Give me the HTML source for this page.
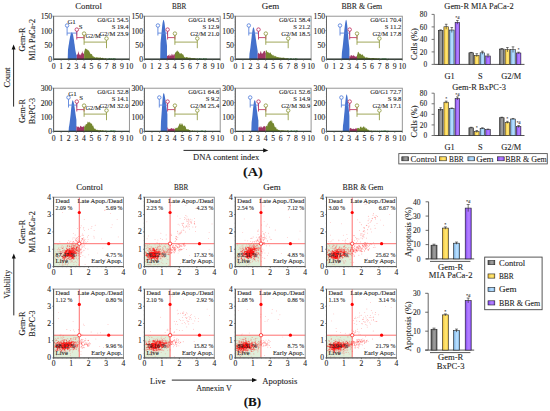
<!DOCTYPE html>
<html><head><meta charset="utf-8"><style>
html,body{margin:0;padding:0;background:#fff;}
body{width:550px;height:411px;overflow:hidden;}
svg{display:block;font-family:"Liberation Serif",serif;}
text{stroke:#333;stroke-width:0.1px;}
</style></head><body>
<svg width="550" height="411" viewBox="0 0 550 411">
<rect width="550" height="411" fill="#fff"/>
<text x="88.60" y="9.40" font-size="8.8" text-anchor="middle" fill="#1a1a1a"  textLength="26.60" lengthAdjust="spacingAndGlyphs">Control</text>
<text x="179.10" y="9.40" font-size="8.8" text-anchor="middle" fill="#1a1a1a"  textLength="14.40" lengthAdjust="spacingAndGlyphs">BBR</text>
<text x="270.50" y="9.40" font-size="8.8" text-anchor="middle" fill="#1a1a1a"  textLength="17.40" lengthAdjust="spacingAndGlyphs">Gem</text>
<text x="361.80" y="9.40" font-size="8.8" text-anchor="middle" fill="#1a1a1a"  textLength="40.80" lengthAdjust="spacingAndGlyphs">BBR &amp; Gem</text>
<rect x="53.60" y="16.20" width="75.80" height="43.20" fill="none" stroke="#8a8a8a" stroke-width="0.9" />
<path d="M67.70,59.40 L67.70,59.40 L68.00,49.53 L68.30,47.86 L68.60,45.62 L68.90,44.07 L69.20,41.80 L69.50,40.02 L69.80,38.46 L70.10,36.53 L70.40,35.47 L70.70,34.06 L71.00,33.46 L71.30,32.90 L71.60,32.39 L71.90,32.08 L72.20,32.80 L72.50,33.28 L72.80,33.91 L73.10,34.93 L73.40,36.75 L73.70,38.69 L74.00,40.28 L74.30,43.03 L74.60,44.61 L74.90,47.11 L75.20,49.21 L75.50,51.08 L75.80,52.61 L76.10,53.71 L76.40,55.21 L76.70,54.64 L76.80,54.50 L76.80,59.40 Z" fill="#4471cc"/>
<path d="M76.80,59.40 L76.80,54.86 L77.20,54.15 L77.60,54.77 L77.60,54.78 L78.00,53.04 L78.40,50.64 L78.40,51.14 L78.80,52.97 L79.20,54.03 L79.20,54.29 L79.60,54.90 L80.00,54.21 L80.40,54.60 L80.80,55.71 L80.80,55.05 L81.20,54.26 L81.60,52.67 L81.70,52.74 L82.10,52.92 L82.50,50.84 L82.90,53.36 L83.30,53.56 L83.30,52.89 L83.70,54.00 L84.10,53.22 L84.10,53.20 L84.10,59.40 Z" fill="#a13565"/>
<path d="M84.10,59.40 L84.10,52.16 L84.55,50.79 L85.00,49.02 L85.45,48.76 L85.90,48.15 L86.35,49.55 L86.80,48.96 L87.25,49.51 L87.70,49.95 L88.15,50.69 L88.60,50.37 L89.05,50.69 L89.50,52.29 L89.95,52.45 L90.40,54.35 L90.85,53.49 L91.30,54.13 L91.75,53.90 L92.20,54.77 L92.65,56.20 L93.10,56.37 L93.55,56.23 L94.00,57.41 L94.45,56.85 L94.90,57.35 L95.35,57.50 L95.80,57.65 L96.25,56.99 L96.70,57.53 L97.15,57.52 L97.60,57.50 L98.05,57.24 L98.50,57.84 L98.95,57.66 L99.40,57.65 L99.85,57.49 L100.30,57.59 L100.75,57.62 L101.20,58.06 L101.65,58.02 L102.10,58.10 L102.55,57.80 L103.00,57.80 L103.45,58.37 L103.90,58.40 L104.35,58.40 L104.80,58.44 L105.25,58.31 L105.70,58.27 L106.15,58.50 L106.40,58.60 L106.40,59.40 Z" fill="#74872f"/>
<path d="M106.40,59.40 L106.40,58.60 L107.00,59.00 L107.60,58.71 L108.20,58.74 L108.80,58.60 L109.40,58.33 L110.00,58.52 L110.60,58.64 L111.20,58.57 L111.80,58.53 L112.40,58.96 L113.00,58.37 L113.60,58.45 L114.20,58.39 L114.80,58.44 L115.40,58.73 L116.00,58.72 L116.00,59.40 Z" fill="#2f8a2f"/>
<line x1="53.60" y1="59.10" x2="129.40" y2="59.10" stroke="#1f2a22" stroke-width="1.1" />
<line x1="53.60" y1="59.40" x2="53.60" y2="60.70" stroke="#555" stroke-width="0.6" />
<text x="53.60" y="68.80" font-size="7.7" text-anchor="middle" fill="#222" >0</text>
<line x1="61.18" y1="59.40" x2="61.18" y2="60.70" stroke="#555" stroke-width="0.6" />
<text x="61.18" y="68.80" font-size="7.7" text-anchor="middle" fill="#222" >1</text>
<line x1="68.76" y1="59.40" x2="68.76" y2="60.70" stroke="#555" stroke-width="0.6" />
<text x="68.76" y="68.80" font-size="7.7" text-anchor="middle" fill="#222" >2</text>
<line x1="76.34" y1="59.40" x2="76.34" y2="60.70" stroke="#555" stroke-width="0.6" />
<text x="76.34" y="68.80" font-size="7.7" text-anchor="middle" fill="#222" >3</text>
<line x1="83.92" y1="59.40" x2="83.92" y2="60.70" stroke="#555" stroke-width="0.6" />
<text x="83.92" y="68.80" font-size="7.7" text-anchor="middle" fill="#222" >4</text>
<line x1="91.50" y1="59.40" x2="91.50" y2="60.70" stroke="#555" stroke-width="0.6" />
<text x="91.50" y="68.80" font-size="7.7" text-anchor="middle" fill="#222" >5</text>
<line x1="99.08" y1="59.40" x2="99.08" y2="60.70" stroke="#555" stroke-width="0.6" />
<text x="99.08" y="68.80" font-size="7.7" text-anchor="middle" fill="#222" >6</text>
<line x1="106.66" y1="59.40" x2="106.66" y2="60.70" stroke="#555" stroke-width="0.6" />
<text x="106.66" y="68.80" font-size="7.7" text-anchor="middle" fill="#222" >7</text>
<line x1="114.24" y1="59.40" x2="114.24" y2="60.70" stroke="#555" stroke-width="0.6" />
<text x="114.24" y="68.80" font-size="7.7" text-anchor="middle" fill="#222" >8</text>
<line x1="121.82" y1="59.40" x2="121.82" y2="60.70" stroke="#555" stroke-width="0.6" />
<text x="121.82" y="68.80" font-size="7.7" text-anchor="middle" fill="#222" >9</text>
<line x1="129.40" y1="59.40" x2="129.40" y2="60.70" stroke="#555" stroke-width="0.6" />
<text x="129.40" y="68.80" font-size="7.7" text-anchor="middle" fill="#222" >10</text>
<line x1="52.40" y1="59.40" x2="53.60" y2="59.40" stroke="#555" stroke-width="0.6" />
<text x="52.20" y="62.30" font-size="7.7" text-anchor="end" fill="#222" >0</text>
<line x1="52.40" y1="45.00" x2="53.60" y2="45.00" stroke="#555" stroke-width="0.6" />
<text x="52.20" y="47.90" font-size="7.7" text-anchor="end" fill="#222" >50</text>
<line x1="52.40" y1="30.60" x2="53.60" y2="30.60" stroke="#555" stroke-width="0.6" />
<text x="52.20" y="33.50" font-size="7.7" text-anchor="end" fill="#222" >100</text>
<line x1="52.40" y1="16.20" x2="53.60" y2="16.20" stroke="#555" stroke-width="0.6" />
<text x="52.20" y="19.10" font-size="7.7" text-anchor="end" fill="#222" >150</text>
<line x1="52.90" y1="56.52" x2="53.60" y2="56.52" stroke="#777" stroke-width="0.4" />
<line x1="52.90" y1="53.64" x2="53.60" y2="53.64" stroke="#777" stroke-width="0.4" />
<line x1="52.90" y1="50.76" x2="53.60" y2="50.76" stroke="#777" stroke-width="0.4" />
<line x1="52.90" y1="47.88" x2="53.60" y2="47.88" stroke="#777" stroke-width="0.4" />
<line x1="52.90" y1="45.00" x2="53.60" y2="45.00" stroke="#777" stroke-width="0.4" />
<line x1="52.90" y1="42.12" x2="53.60" y2="42.12" stroke="#777" stroke-width="0.4" />
<line x1="52.90" y1="39.24" x2="53.60" y2="39.24" stroke="#777" stroke-width="0.4" />
<line x1="52.90" y1="36.36" x2="53.60" y2="36.36" stroke="#777" stroke-width="0.4" />
<line x1="52.90" y1="33.48" x2="53.60" y2="33.48" stroke="#777" stroke-width="0.4" />
<line x1="52.90" y1="30.60" x2="53.60" y2="30.60" stroke="#777" stroke-width="0.4" />
<line x1="52.90" y1="27.72" x2="53.60" y2="27.72" stroke="#777" stroke-width="0.4" />
<line x1="52.90" y1="24.84" x2="53.60" y2="24.84" stroke="#777" stroke-width="0.4" />
<line x1="52.90" y1="21.96" x2="53.60" y2="21.96" stroke="#777" stroke-width="0.4" />
<line x1="52.90" y1="19.08" x2="53.60" y2="19.08" stroke="#777" stroke-width="0.4" />
<line x1="53.60" y1="16.20" x2="53.60" y2="59.40" stroke="#666" stroke-width="1" />
<line x1="67.10" y1="33.10" x2="76.70" y2="33.10" stroke="#5b84dc" stroke-width="0.9" />
<line x1="76.70" y1="28.20" x2="76.70" y2="35.50" stroke="#5b84dc" stroke-width="0.9" />
<line x1="76.70" y1="37.60" x2="84.10" y2="37.60" stroke="#c23a68" stroke-width="0.9" />
<line x1="84.10" y1="32.20" x2="84.10" y2="39.50" stroke="#c23a68" stroke-width="0.9" />
<line x1="84.10" y1="42.10" x2="106.50" y2="42.10" stroke="#959e48" stroke-width="0.9" />
<line x1="67.10" y1="25.50" x2="67.10" y2="35.50" stroke="#5b84dc" stroke-width="0.9" />
<circle cx="67.10" cy="25.50" r="1.75" fill="#fff" stroke="#5b84dc" stroke-width="0.9"/>
<line x1="76.80" y1="29.60" x2="76.80" y2="39.50" stroke="#c23a68" stroke-width="0.9" />
<circle cx="76.80" cy="29.60" r="1.75" fill="#fff" stroke="#c23a68" stroke-width="0.9"/>
<line x1="84.10" y1="33.60" x2="84.10" y2="44.80" stroke="#959e48" stroke-width="0.9" />
<circle cx="84.10" cy="33.60" r="1.75" fill="#fff" stroke="#959e48" stroke-width="0.9"/>
<line x1="106.50" y1="38.50" x2="106.50" y2="48.20" stroke="#959e48" stroke-width="0.9" />
<circle cx="106.50" cy="38.50" r="1.75" fill="#fff" stroke="#959e48" stroke-width="0.9"/>
<text x="71.60" y="24.40" font-size="6.9" text-anchor="middle" fill="#222" >G1</text>
<text x="80.60" y="29.10" font-size="6.8" text-anchor="middle" fill="#222" >S</text>
<text x="93.10" y="38.20" font-size="6.6" text-anchor="middle" fill="#222"  textLength="15.40" lengthAdjust="spacingAndGlyphs">G2/M</text>
<text x="128.50" y="22.00" font-size="6.6" text-anchor="end" fill="#222" >G0/G1 54.5</text>
<text x="128.50" y="28.90" font-size="6.6" text-anchor="end" fill="#222" >S 19.4</text>
<text x="128.50" y="35.50" font-size="6.6" text-anchor="end" fill="#222" >G2/M 23.9</text>
<rect x="144.40" y="16.20" width="75.80" height="43.20" fill="none" stroke="#8a8a8a" stroke-width="0.9" />
<path d="M160.20,59.40 L160.20,59.40 L160.50,43.24 L160.80,39.87 L161.10,37.13 L161.40,33.93 L161.70,30.70 L162.00,27.79 L162.30,25.03 L162.60,23.04 L162.90,21.43 L163.20,20.29 L163.50,19.98 L163.80,20.11 L164.10,21.28 L164.40,22.18 L164.70,24.37 L165.00,27.11 L165.30,29.76 L165.60,32.62 L165.90,35.64 L166.20,38.82 L166.50,41.24 L166.80,43.90 L167.00,45.98 L167.00,59.40 Z" fill="#4471cc"/>
<path d="M167.00,59.40 L167.00,55.63 L167.40,56.11 L167.80,55.76 L168.00,55.11 L168.40,55.59 L168.80,54.78 L169.00,56.28 L169.40,56.15 L169.80,53.90 L170.00,54.54 L170.40,55.67 L170.80,55.23 L171.00,56.45 L171.40,55.08 L171.80,53.82 L172.00,53.87 L172.40,54.45 L172.80,55.56 L173.00,55.47 L173.40,55.55 L173.80,54.02 L174.00,54.33 L174.40,53.93 L174.80,54.92 L174.90,54.60 L174.90,59.40 Z" fill="#a13565"/>
<path d="M174.90,59.40 L174.90,53.18 L175.35,52.47 L175.80,52.37 L176.25,51.98 L176.70,51.10 L177.15,50.57 L177.60,50.74 L178.05,51.98 L178.50,51.51 L178.95,52.11 L179.40,53.13 L179.85,53.48 L180.30,53.31 L180.75,53.77 L181.20,53.25 L181.65,53.10 L182.10,54.66 L182.55,54.01 L183.00,54.37 L183.45,54.88 L183.90,56.34 L184.35,56.88 L184.80,57.13 L185.25,57.41 L185.70,57.60 L186.15,57.16 L186.60,56.88 L187.05,57.05 L187.50,57.57 L187.95,57.50 L188.40,57.46 L188.85,58.01 L189.30,57.67 L189.75,57.56 L190.20,57.69 L190.65,57.77 L191.10,57.99 L191.55,58.24 L192.00,57.88 L192.45,58.22 L192.90,57.95 L193.35,57.88 L193.80,58.30 L194.25,58.33 L194.70,58.00 L195.15,58.18 L195.60,58.58 L196.05,58.64 L196.50,58.66 L196.95,58.19 L197.20,58.60 L197.20,59.40 Z" fill="#74872f"/>
<path d="M197.20,59.40 L197.20,58.60 L197.80,58.44 L198.40,58.90 L199.00,58.42 L199.60,58.31 L200.20,58.54 L200.80,58.75 L201.40,58.62 L202.00,58.91 L202.60,58.99 L203.20,58.32 L203.80,58.55 L204.40,58.63 L205.00,58.35 L205.60,58.70 L206.20,58.39 L206.80,58.42 L206.80,59.40 Z" fill="#2f8a2f"/>
<line x1="144.40" y1="59.10" x2="220.20" y2="59.10" stroke="#1f2a22" stroke-width="1.1" />
<line x1="144.40" y1="59.40" x2="144.40" y2="60.70" stroke="#555" stroke-width="0.6" />
<text x="144.40" y="68.80" font-size="7.7" text-anchor="middle" fill="#222" >0</text>
<line x1="151.98" y1="59.40" x2="151.98" y2="60.70" stroke="#555" stroke-width="0.6" />
<text x="151.98" y="68.80" font-size="7.7" text-anchor="middle" fill="#222" >1</text>
<line x1="159.56" y1="59.40" x2="159.56" y2="60.70" stroke="#555" stroke-width="0.6" />
<text x="159.56" y="68.80" font-size="7.7" text-anchor="middle" fill="#222" >2</text>
<line x1="167.14" y1="59.40" x2="167.14" y2="60.70" stroke="#555" stroke-width="0.6" />
<text x="167.14" y="68.80" font-size="7.7" text-anchor="middle" fill="#222" >3</text>
<line x1="174.72" y1="59.40" x2="174.72" y2="60.70" stroke="#555" stroke-width="0.6" />
<text x="174.72" y="68.80" font-size="7.7" text-anchor="middle" fill="#222" >4</text>
<line x1="182.30" y1="59.40" x2="182.30" y2="60.70" stroke="#555" stroke-width="0.6" />
<text x="182.30" y="68.80" font-size="7.7" text-anchor="middle" fill="#222" >5</text>
<line x1="189.88" y1="59.40" x2="189.88" y2="60.70" stroke="#555" stroke-width="0.6" />
<text x="189.88" y="68.80" font-size="7.7" text-anchor="middle" fill="#222" >6</text>
<line x1="197.46" y1="59.40" x2="197.46" y2="60.70" stroke="#555" stroke-width="0.6" />
<text x="197.46" y="68.80" font-size="7.7" text-anchor="middle" fill="#222" >7</text>
<line x1="205.04" y1="59.40" x2="205.04" y2="60.70" stroke="#555" stroke-width="0.6" />
<text x="205.04" y="68.80" font-size="7.7" text-anchor="middle" fill="#222" >8</text>
<line x1="212.62" y1="59.40" x2="212.62" y2="60.70" stroke="#555" stroke-width="0.6" />
<text x="212.62" y="68.80" font-size="7.7" text-anchor="middle" fill="#222" >9</text>
<line x1="220.20" y1="59.40" x2="220.20" y2="60.70" stroke="#555" stroke-width="0.6" />
<text x="220.20" y="68.80" font-size="7.7" text-anchor="middle" fill="#222" >10</text>
<line x1="143.20" y1="59.40" x2="144.40" y2="59.40" stroke="#555" stroke-width="0.6" />
<text x="143.00" y="62.30" font-size="7.7" text-anchor="end" fill="#222" >0</text>
<line x1="143.20" y1="45.00" x2="144.40" y2="45.00" stroke="#555" stroke-width="0.6" />
<text x="143.00" y="47.90" font-size="7.7" text-anchor="end" fill="#222" >50</text>
<line x1="143.20" y1="30.60" x2="144.40" y2="30.60" stroke="#555" stroke-width="0.6" />
<text x="143.00" y="33.50" font-size="7.7" text-anchor="end" fill="#222" >100</text>
<line x1="143.20" y1="16.20" x2="144.40" y2="16.20" stroke="#555" stroke-width="0.6" />
<text x="143.00" y="19.10" font-size="7.7" text-anchor="end" fill="#222" >150</text>
<line x1="143.70" y1="56.52" x2="144.40" y2="56.52" stroke="#777" stroke-width="0.4" />
<line x1="143.70" y1="53.64" x2="144.40" y2="53.64" stroke="#777" stroke-width="0.4" />
<line x1="143.70" y1="50.76" x2="144.40" y2="50.76" stroke="#777" stroke-width="0.4" />
<line x1="143.70" y1="47.88" x2="144.40" y2="47.88" stroke="#777" stroke-width="0.4" />
<line x1="143.70" y1="45.00" x2="144.40" y2="45.00" stroke="#777" stroke-width="0.4" />
<line x1="143.70" y1="42.12" x2="144.40" y2="42.12" stroke="#777" stroke-width="0.4" />
<line x1="143.70" y1="39.24" x2="144.40" y2="39.24" stroke="#777" stroke-width="0.4" />
<line x1="143.70" y1="36.36" x2="144.40" y2="36.36" stroke="#777" stroke-width="0.4" />
<line x1="143.70" y1="33.48" x2="144.40" y2="33.48" stroke="#777" stroke-width="0.4" />
<line x1="143.70" y1="30.60" x2="144.40" y2="30.60" stroke="#777" stroke-width="0.4" />
<line x1="143.70" y1="27.72" x2="144.40" y2="27.72" stroke="#777" stroke-width="0.4" />
<line x1="143.70" y1="24.84" x2="144.40" y2="24.84" stroke="#777" stroke-width="0.4" />
<line x1="143.70" y1="21.96" x2="144.40" y2="21.96" stroke="#777" stroke-width="0.4" />
<line x1="143.70" y1="19.08" x2="144.40" y2="19.08" stroke="#777" stroke-width="0.4" />
<line x1="144.40" y1="16.20" x2="144.40" y2="59.40" stroke="#666" stroke-width="1" />
<line x1="157.90" y1="33.10" x2="167.50" y2="33.10" stroke="#5b84dc" stroke-width="0.9" />
<line x1="167.50" y1="28.20" x2="167.50" y2="35.50" stroke="#5b84dc" stroke-width="0.9" />
<line x1="167.50" y1="37.60" x2="174.90" y2="37.60" stroke="#c23a68" stroke-width="0.9" />
<line x1="174.90" y1="32.20" x2="174.90" y2="39.50" stroke="#c23a68" stroke-width="0.9" />
<line x1="174.90" y1="42.10" x2="197.30" y2="42.10" stroke="#959e48" stroke-width="0.9" />
<line x1="157.90" y1="25.50" x2="157.90" y2="35.50" stroke="#5b84dc" stroke-width="0.9" />
<circle cx="157.90" cy="25.50" r="1.75" fill="#fff" stroke="#5b84dc" stroke-width="0.9"/>
<line x1="167.60" y1="29.60" x2="167.60" y2="39.50" stroke="#c23a68" stroke-width="0.9" />
<circle cx="167.60" cy="29.60" r="1.75" fill="#fff" stroke="#c23a68" stroke-width="0.9"/>
<line x1="174.90" y1="33.60" x2="174.90" y2="44.80" stroke="#959e48" stroke-width="0.9" />
<circle cx="174.90" cy="33.60" r="1.75" fill="#fff" stroke="#959e48" stroke-width="0.9"/>
<line x1="197.30" y1="38.50" x2="197.30" y2="48.20" stroke="#959e48" stroke-width="0.9" />
<circle cx="197.30" cy="38.50" r="1.75" fill="#fff" stroke="#959e48" stroke-width="0.9"/>
<text x="219.30" y="22.00" font-size="6.6" text-anchor="end" fill="#222" >G0/G1 64.5</text>
<text x="219.30" y="28.90" font-size="6.6" text-anchor="end" fill="#222" >S 12.9</text>
<text x="219.30" y="35.50" font-size="6.6" text-anchor="end" fill="#222" >G2/M 21.0</text>
<rect x="235.30" y="16.20" width="75.80" height="43.20" fill="none" stroke="#8a8a8a" stroke-width="0.9" />
<path d="M249.20,59.40 L249.20,59.40 L249.50,53.54 L249.80,51.82 L250.10,49.83 L250.40,47.64 L250.70,44.94 L251.00,42.56 L251.30,39.74 L251.60,37.26 L251.90,34.16 L252.20,32.24 L252.50,30.23 L252.80,28.67 L253.10,27.53 L253.40,27.56 L253.70,27.42 L254.00,28.33 L254.30,29.31 L254.60,30.67 L254.90,32.67 L255.20,34.27 L255.50,36.51 L255.80,38.81 L256.10,40.46 L256.40,43.10 L256.70,45.02 L257.00,46.87 L257.30,48.86 L257.60,50.73 L257.70,51.13 L257.70,59.40 Z" fill="#4471cc"/>
<path d="M257.70,59.40 L257.70,54.29 L258.10,53.03 L258.50,53.59 L258.70,52.28 L259.10,53.62 L259.50,54.29 L259.70,53.66 L260.10,53.06 L260.50,51.84 L260.70,50.88 L261.10,51.54 L261.50,53.43 L261.70,53.57 L262.10,53.63 L262.50,53.46 L262.70,53.01 L263.10,52.70 L263.50,51.73 L263.70,51.44 L264.10,50.68 L264.50,51.32 L264.70,51.05 L265.10,51.32 L265.50,53.08 L265.80,52.90 L265.80,59.40 Z" fill="#a13565"/>
<path d="M265.80,59.40 L265.80,50.52 L266.25,50.17 L266.70,50.46 L267.15,52.08 L267.60,52.25 L268.05,51.73 L268.50,52.79 L268.95,52.71 L269.40,53.41 L269.85,52.45 L270.30,52.58 L270.75,52.73 L271.20,54.76 L271.65,53.92 L272.10,54.45 L272.55,55.86 L273.00,54.79 L273.45,54.97 L273.90,56.42 L274.35,55.39 L274.80,56.39 L275.25,56.39 L275.70,55.83 L276.15,56.18 L276.60,57.15 L277.05,56.91 L277.50,56.91 L277.95,57.14 L278.40,57.32 L278.85,57.32 L279.30,57.13 L279.75,57.68 L280.20,57.39 L280.65,57.54 L281.10,57.88 L281.55,57.74 L282.00,57.61 L282.45,57.74 L282.90,58.09 L283.35,57.54 L283.80,57.72 L284.25,57.65 L284.70,58.27 L285.15,58.21 L285.60,58.40 L286.05,57.96 L286.50,58.34 L286.95,58.45 L287.40,58.27 L287.85,57.96 L288.10,58.60 L288.10,59.40 Z" fill="#74872f"/>
<path d="M288.10,59.40 L288.10,58.60 L288.70,58.43 L289.30,58.82 L289.90,58.90 L290.50,58.36 L291.10,58.60 L291.70,58.51 L292.30,58.94 L292.90,58.96 L293.50,58.52 L294.10,58.70 L294.70,58.95 L295.30,58.34 L295.90,58.56 L296.50,58.44 L297.10,58.94 L297.70,58.40 L297.70,59.40 Z" fill="#2f8a2f"/>
<line x1="235.30" y1="59.10" x2="311.10" y2="59.10" stroke="#1f2a22" stroke-width="1.1" />
<line x1="235.30" y1="59.40" x2="235.30" y2="60.70" stroke="#555" stroke-width="0.6" />
<text x="235.30" y="68.80" font-size="7.7" text-anchor="middle" fill="#222" >0</text>
<line x1="242.88" y1="59.40" x2="242.88" y2="60.70" stroke="#555" stroke-width="0.6" />
<text x="242.88" y="68.80" font-size="7.7" text-anchor="middle" fill="#222" >1</text>
<line x1="250.46" y1="59.40" x2="250.46" y2="60.70" stroke="#555" stroke-width="0.6" />
<text x="250.46" y="68.80" font-size="7.7" text-anchor="middle" fill="#222" >2</text>
<line x1="258.04" y1="59.40" x2="258.04" y2="60.70" stroke="#555" stroke-width="0.6" />
<text x="258.04" y="68.80" font-size="7.7" text-anchor="middle" fill="#222" >3</text>
<line x1="265.62" y1="59.40" x2="265.62" y2="60.70" stroke="#555" stroke-width="0.6" />
<text x="265.62" y="68.80" font-size="7.7" text-anchor="middle" fill="#222" >4</text>
<line x1="273.20" y1="59.40" x2="273.20" y2="60.70" stroke="#555" stroke-width="0.6" />
<text x="273.20" y="68.80" font-size="7.7" text-anchor="middle" fill="#222" >5</text>
<line x1="280.78" y1="59.40" x2="280.78" y2="60.70" stroke="#555" stroke-width="0.6" />
<text x="280.78" y="68.80" font-size="7.7" text-anchor="middle" fill="#222" >6</text>
<line x1="288.36" y1="59.40" x2="288.36" y2="60.70" stroke="#555" stroke-width="0.6" />
<text x="288.36" y="68.80" font-size="7.7" text-anchor="middle" fill="#222" >7</text>
<line x1="295.94" y1="59.40" x2="295.94" y2="60.70" stroke="#555" stroke-width="0.6" />
<text x="295.94" y="68.80" font-size="7.7" text-anchor="middle" fill="#222" >8</text>
<line x1="303.52" y1="59.40" x2="303.52" y2="60.70" stroke="#555" stroke-width="0.6" />
<text x="303.52" y="68.80" font-size="7.7" text-anchor="middle" fill="#222" >9</text>
<line x1="311.10" y1="59.40" x2="311.10" y2="60.70" stroke="#555" stroke-width="0.6" />
<text x="311.10" y="68.80" font-size="7.7" text-anchor="middle" fill="#222" >10</text>
<line x1="234.10" y1="59.40" x2="235.30" y2="59.40" stroke="#555" stroke-width="0.6" />
<text x="233.90" y="62.30" font-size="7.7" text-anchor="end" fill="#222" >0</text>
<line x1="234.10" y1="45.00" x2="235.30" y2="45.00" stroke="#555" stroke-width="0.6" />
<text x="233.90" y="47.90" font-size="7.7" text-anchor="end" fill="#222" >50</text>
<line x1="234.10" y1="30.60" x2="235.30" y2="30.60" stroke="#555" stroke-width="0.6" />
<text x="233.90" y="33.50" font-size="7.7" text-anchor="end" fill="#222" >100</text>
<line x1="234.10" y1="16.20" x2="235.30" y2="16.20" stroke="#555" stroke-width="0.6" />
<text x="233.90" y="19.10" font-size="7.7" text-anchor="end" fill="#222" >150</text>
<line x1="234.60" y1="56.52" x2="235.30" y2="56.52" stroke="#777" stroke-width="0.4" />
<line x1="234.60" y1="53.64" x2="235.30" y2="53.64" stroke="#777" stroke-width="0.4" />
<line x1="234.60" y1="50.76" x2="235.30" y2="50.76" stroke="#777" stroke-width="0.4" />
<line x1="234.60" y1="47.88" x2="235.30" y2="47.88" stroke="#777" stroke-width="0.4" />
<line x1="234.60" y1="45.00" x2="235.30" y2="45.00" stroke="#777" stroke-width="0.4" />
<line x1="234.60" y1="42.12" x2="235.30" y2="42.12" stroke="#777" stroke-width="0.4" />
<line x1="234.60" y1="39.24" x2="235.30" y2="39.24" stroke="#777" stroke-width="0.4" />
<line x1="234.60" y1="36.36" x2="235.30" y2="36.36" stroke="#777" stroke-width="0.4" />
<line x1="234.60" y1="33.48" x2="235.30" y2="33.48" stroke="#777" stroke-width="0.4" />
<line x1="234.60" y1="30.60" x2="235.30" y2="30.60" stroke="#777" stroke-width="0.4" />
<line x1="234.60" y1="27.72" x2="235.30" y2="27.72" stroke="#777" stroke-width="0.4" />
<line x1="234.60" y1="24.84" x2="235.30" y2="24.84" stroke="#777" stroke-width="0.4" />
<line x1="234.60" y1="21.96" x2="235.30" y2="21.96" stroke="#777" stroke-width="0.4" />
<line x1="234.60" y1="19.08" x2="235.30" y2="19.08" stroke="#777" stroke-width="0.4" />
<line x1="235.30" y1="16.20" x2="235.30" y2="59.40" stroke="#666" stroke-width="1" />
<line x1="248.80" y1="33.10" x2="258.40" y2="33.10" stroke="#5b84dc" stroke-width="0.9" />
<line x1="258.40" y1="28.20" x2="258.40" y2="35.50" stroke="#5b84dc" stroke-width="0.9" />
<line x1="258.40" y1="37.60" x2="265.80" y2="37.60" stroke="#c23a68" stroke-width="0.9" />
<line x1="265.80" y1="32.20" x2="265.80" y2="39.50" stroke="#c23a68" stroke-width="0.9" />
<line x1="265.80" y1="42.10" x2="288.20" y2="42.10" stroke="#959e48" stroke-width="0.9" />
<line x1="248.80" y1="25.50" x2="248.80" y2="35.50" stroke="#5b84dc" stroke-width="0.9" />
<circle cx="248.80" cy="25.50" r="1.75" fill="#fff" stroke="#5b84dc" stroke-width="0.9"/>
<line x1="258.50" y1="29.60" x2="258.50" y2="39.50" stroke="#c23a68" stroke-width="0.9" />
<circle cx="258.50" cy="29.60" r="1.75" fill="#fff" stroke="#c23a68" stroke-width="0.9"/>
<line x1="265.80" y1="33.60" x2="265.80" y2="44.80" stroke="#959e48" stroke-width="0.9" />
<circle cx="265.80" cy="33.60" r="1.75" fill="#fff" stroke="#959e48" stroke-width="0.9"/>
<line x1="288.20" y1="38.50" x2="288.20" y2="48.20" stroke="#959e48" stroke-width="0.9" />
<circle cx="288.20" cy="38.50" r="1.75" fill="#fff" stroke="#959e48" stroke-width="0.9"/>
<text x="310.20" y="22.00" font-size="6.6" text-anchor="end" fill="#222" >G0/G1 58.4</text>
<text x="310.20" y="28.90" font-size="6.6" text-anchor="end" fill="#222" >S 21.2</text>
<text x="310.20" y="35.50" font-size="6.6" text-anchor="end" fill="#222" >G2/M 18.5</text>
<rect x="326.50" y="16.20" width="75.80" height="43.20" fill="none" stroke="#8a8a8a" stroke-width="0.9" />
<path d="M341.60,59.40 L341.60,59.40 L341.90,52.65 L342.20,50.20 L342.50,48.28 L342.80,45.85 L343.10,42.92 L343.40,39.66 L343.70,36.98 L344.00,33.89 L344.30,30.48 L344.60,27.74 L344.90,25.20 L345.20,22.97 L345.50,21.39 L345.80,20.26 L346.10,19.83 L346.40,20.27 L346.70,21.23 L347.00,23.59 L347.30,26.11 L347.60,29.48 L347.90,32.80 L348.20,36.59 L348.50,39.95 L348.80,43.47 L349.10,46.04 L349.40,48.89 L349.40,59.40 Z" fill="#4471cc"/>
<path d="M349.40,59.40 L349.40,56.42 L349.80,56.09 L350.20,55.41 L350.40,57.19 L350.80,55.28 L351.20,55.58 L351.40,55.21 L351.80,54.93 L352.20,56.21 L352.40,56.19 L352.80,55.58 L353.20,54.76 L353.40,55.91 L353.80,55.26 L354.20,55.83 L354.40,56.13 L354.80,56.35 L355.20,56.22 L355.40,56.69 L355.80,56.70 L356.20,56.98 L356.40,55.72 L356.80,56.56 L357.00,56.00 L357.00,59.40 Z" fill="#a13565"/>
<path d="M357.00,59.40 L357.00,54.93 L357.45,54.23 L357.90,51.91 L358.35,51.86 L358.80,52.40 L359.25,53.42 L359.70,53.72 L360.15,53.87 L360.60,53.81 L361.05,54.80 L361.50,54.52 L361.95,55.28 L362.40,54.15 L362.85,54.54 L363.30,55.73 L363.75,56.58 L364.20,55.66 L364.65,57.00 L365.10,57.16 L365.55,57.86 L366.00,57.42 L366.45,57.37 L366.90,57.41 L367.35,57.85 L367.80,57.54 L368.25,57.96 L368.70,57.83 L369.15,58.01 L369.60,57.85 L370.05,58.14 L370.50,58.20 L370.95,58.06 L371.40,58.15 L371.85,57.96 L372.30,58.04 L372.75,57.94 L373.20,58.04 L373.65,58.04 L374.10,57.97 L374.55,58.32 L375.00,58.40 L375.45,58.00 L375.90,58.58 L376.35,58.24 L376.80,58.32 L377.25,58.75 L377.70,58.26 L378.15,58.24 L378.60,58.42 L379.05,58.36 L379.30,58.60 L379.30,59.40 Z" fill="#74872f"/>
<path d="M379.30,59.40 L379.30,58.60 L379.90,58.43 L380.50,58.90 L381.10,58.63 L381.70,58.65 L382.30,58.42 L382.90,58.44 L383.50,58.42 L384.10,58.59 L384.70,58.38 L385.30,58.52 L385.90,58.51 L386.50,58.84 L387.10,58.98 L387.70,58.91 L388.30,58.75 L388.90,58.93 L388.90,59.40 Z" fill="#2f8a2f"/>
<line x1="326.50" y1="59.10" x2="402.30" y2="59.10" stroke="#1f2a22" stroke-width="1.1" />
<line x1="326.50" y1="59.40" x2="326.50" y2="60.70" stroke="#555" stroke-width="0.6" />
<text x="326.50" y="68.80" font-size="7.7" text-anchor="middle" fill="#222" >0</text>
<line x1="334.08" y1="59.40" x2="334.08" y2="60.70" stroke="#555" stroke-width="0.6" />
<text x="334.08" y="68.80" font-size="7.7" text-anchor="middle" fill="#222" >1</text>
<line x1="341.66" y1="59.40" x2="341.66" y2="60.70" stroke="#555" stroke-width="0.6" />
<text x="341.66" y="68.80" font-size="7.7" text-anchor="middle" fill="#222" >2</text>
<line x1="349.24" y1="59.40" x2="349.24" y2="60.70" stroke="#555" stroke-width="0.6" />
<text x="349.24" y="68.80" font-size="7.7" text-anchor="middle" fill="#222" >3</text>
<line x1="356.82" y1="59.40" x2="356.82" y2="60.70" stroke="#555" stroke-width="0.6" />
<text x="356.82" y="68.80" font-size="7.7" text-anchor="middle" fill="#222" >4</text>
<line x1="364.40" y1="59.40" x2="364.40" y2="60.70" stroke="#555" stroke-width="0.6" />
<text x="364.40" y="68.80" font-size="7.7" text-anchor="middle" fill="#222" >5</text>
<line x1="371.98" y1="59.40" x2="371.98" y2="60.70" stroke="#555" stroke-width="0.6" />
<text x="371.98" y="68.80" font-size="7.7" text-anchor="middle" fill="#222" >6</text>
<line x1="379.56" y1="59.40" x2="379.56" y2="60.70" stroke="#555" stroke-width="0.6" />
<text x="379.56" y="68.80" font-size="7.7" text-anchor="middle" fill="#222" >7</text>
<line x1="387.14" y1="59.40" x2="387.14" y2="60.70" stroke="#555" stroke-width="0.6" />
<text x="387.14" y="68.80" font-size="7.7" text-anchor="middle" fill="#222" >8</text>
<line x1="394.72" y1="59.40" x2="394.72" y2="60.70" stroke="#555" stroke-width="0.6" />
<text x="394.72" y="68.80" font-size="7.7" text-anchor="middle" fill="#222" >9</text>
<line x1="402.30" y1="59.40" x2="402.30" y2="60.70" stroke="#555" stroke-width="0.6" />
<text x="402.30" y="68.80" font-size="7.7" text-anchor="middle" fill="#222" >10</text>
<line x1="325.30" y1="59.40" x2="326.50" y2="59.40" stroke="#555" stroke-width="0.6" />
<text x="325.10" y="62.30" font-size="7.7" text-anchor="end" fill="#222" >0</text>
<line x1="325.30" y1="45.00" x2="326.50" y2="45.00" stroke="#555" stroke-width="0.6" />
<text x="325.10" y="47.90" font-size="7.7" text-anchor="end" fill="#222" >50</text>
<line x1="325.30" y1="30.60" x2="326.50" y2="30.60" stroke="#555" stroke-width="0.6" />
<text x="325.10" y="33.50" font-size="7.7" text-anchor="end" fill="#222" >100</text>
<line x1="325.30" y1="16.20" x2="326.50" y2="16.20" stroke="#555" stroke-width="0.6" />
<text x="325.10" y="19.10" font-size="7.7" text-anchor="end" fill="#222" >150</text>
<line x1="325.80" y1="56.52" x2="326.50" y2="56.52" stroke="#777" stroke-width="0.4" />
<line x1="325.80" y1="53.64" x2="326.50" y2="53.64" stroke="#777" stroke-width="0.4" />
<line x1="325.80" y1="50.76" x2="326.50" y2="50.76" stroke="#777" stroke-width="0.4" />
<line x1="325.80" y1="47.88" x2="326.50" y2="47.88" stroke="#777" stroke-width="0.4" />
<line x1="325.80" y1="45.00" x2="326.50" y2="45.00" stroke="#777" stroke-width="0.4" />
<line x1="325.80" y1="42.12" x2="326.50" y2="42.12" stroke="#777" stroke-width="0.4" />
<line x1="325.80" y1="39.24" x2="326.50" y2="39.24" stroke="#777" stroke-width="0.4" />
<line x1="325.80" y1="36.36" x2="326.50" y2="36.36" stroke="#777" stroke-width="0.4" />
<line x1="325.80" y1="33.48" x2="326.50" y2="33.48" stroke="#777" stroke-width="0.4" />
<line x1="325.80" y1="30.60" x2="326.50" y2="30.60" stroke="#777" stroke-width="0.4" />
<line x1="325.80" y1="27.72" x2="326.50" y2="27.72" stroke="#777" stroke-width="0.4" />
<line x1="325.80" y1="24.84" x2="326.50" y2="24.84" stroke="#777" stroke-width="0.4" />
<line x1="325.80" y1="21.96" x2="326.50" y2="21.96" stroke="#777" stroke-width="0.4" />
<line x1="325.80" y1="19.08" x2="326.50" y2="19.08" stroke="#777" stroke-width="0.4" />
<line x1="326.50" y1="16.20" x2="326.50" y2="59.40" stroke="#666" stroke-width="1" />
<line x1="340.00" y1="33.10" x2="349.60" y2="33.10" stroke="#5b84dc" stroke-width="0.9" />
<line x1="349.60" y1="28.20" x2="349.60" y2="35.50" stroke="#5b84dc" stroke-width="0.9" />
<line x1="349.60" y1="37.60" x2="357.00" y2="37.60" stroke="#c23a68" stroke-width="0.9" />
<line x1="357.00" y1="32.20" x2="357.00" y2="39.50" stroke="#c23a68" stroke-width="0.9" />
<line x1="357.00" y1="42.10" x2="379.40" y2="42.10" stroke="#959e48" stroke-width="0.9" />
<line x1="340.00" y1="25.50" x2="340.00" y2="35.50" stroke="#5b84dc" stroke-width="0.9" />
<circle cx="340.00" cy="25.50" r="1.75" fill="#fff" stroke="#5b84dc" stroke-width="0.9"/>
<line x1="349.70" y1="29.60" x2="349.70" y2="39.50" stroke="#c23a68" stroke-width="0.9" />
<circle cx="349.70" cy="29.60" r="1.75" fill="#fff" stroke="#c23a68" stroke-width="0.9"/>
<line x1="357.00" y1="33.60" x2="357.00" y2="44.80" stroke="#959e48" stroke-width="0.9" />
<circle cx="357.00" cy="33.60" r="1.75" fill="#fff" stroke="#959e48" stroke-width="0.9"/>
<line x1="379.40" y1="38.50" x2="379.40" y2="48.20" stroke="#959e48" stroke-width="0.9" />
<circle cx="379.40" cy="38.50" r="1.75" fill="#fff" stroke="#959e48" stroke-width="0.9"/>
<text x="401.40" y="22.00" font-size="6.6" text-anchor="end" fill="#222" >G0/G1 70.4</text>
<text x="401.40" y="28.90" font-size="6.6" text-anchor="end" fill="#222" >S 11.2</text>
<text x="401.40" y="35.50" font-size="6.6" text-anchor="end" fill="#222" >G2/M 17.8</text>
<rect x="53.60" y="88.20" width="75.80" height="43.30" fill="none" stroke="#8a8a8a" stroke-width="0.9" />
<path d="M68.60,131.50 L68.60,131.50 L68.90,127.01 L69.20,125.70 L69.50,123.80 L69.80,121.62 L70.10,119.07 L70.40,116.43 L70.70,113.83 L71.00,110.29 L71.30,107.45 L71.60,105.02 L71.90,102.82 L72.20,101.15 L72.50,100.68 L72.80,100.06 L73.10,100.74 L73.40,101.60 L73.70,102.57 L74.00,103.68 L74.30,105.75 L74.60,107.29 L74.90,109.19 L75.20,111.68 L75.50,113.93 L75.80,116.00 L76.10,117.92 L76.40,119.80 L76.40,131.50 Z" fill="#4471cc"/>
<path d="M76.40,131.50 L76.40,126.27 L76.80,126.15 L77.20,127.21 L77.60,127.01 L77.60,126.79 L78.00,125.97 L78.40,127.01 L78.80,126.64 L79.10,127.88 L79.50,127.59 L79.90,126.99 L80.30,126.00 L80.60,125.82 L81.00,125.98 L81.40,126.88 L81.80,126.57 L82.10,126.77 L82.50,126.69 L82.90,127.30 L83.30,125.67 L83.70,126.98 L84.10,125.34 L84.10,126.30 L84.10,131.50 Z" fill="#a13565"/>
<path d="M84.10,131.50 L84.10,124.61 L84.55,126.93 L85.00,126.30 L85.45,125.18 L85.90,124.01 L86.35,124.32 L86.80,123.96 L87.25,123.45 L87.70,121.36 L88.15,122.69 L88.60,121.81 L89.05,122.86 L89.50,122.20 L89.95,121.55 L90.40,123.73 L90.85,122.66 L91.30,123.86 L91.75,123.58 L92.20,124.57 L92.65,126.20 L93.10,125.32 L93.55,126.80 L94.00,128.35 L94.45,128.88 L94.90,128.29 L95.35,128.77 L95.80,129.38 L96.25,129.93 L96.70,129.86 L97.15,130.11 L97.60,129.58 L98.05,130.82 L98.50,130.03 L98.95,130.01 L99.40,130.55 L99.85,130.02 L100.30,130.19 L100.75,130.09 L101.20,130.53 L101.65,130.50 L102.10,130.50 L102.55,130.12 L103.00,130.41 L103.45,130.58 L103.90,130.55 L104.35,130.66 L104.80,130.82 L105.25,130.80 L105.70,130.33 L106.15,130.70 L106.40,130.70 L106.40,131.50 Z" fill="#74872f"/>
<path d="M106.40,131.50 L106.40,130.70 L107.00,130.45 L107.60,130.93 L108.20,130.91 L108.80,130.74 L109.40,130.97 L110.00,130.84 L110.60,130.43 L111.20,130.48 L111.80,130.53 L112.40,130.66 L113.00,130.46 L113.60,130.44 L114.20,130.72 L114.80,130.60 L115.40,131.07 L116.00,130.59 L116.00,131.50 Z" fill="#2f8a2f"/>
<line x1="53.60" y1="131.20" x2="129.40" y2="131.20" stroke="#1f2a22" stroke-width="1.1" />
<line x1="53.60" y1="131.50" x2="53.60" y2="132.80" stroke="#555" stroke-width="0.6" />
<text x="53.60" y="140.90" font-size="7.7" text-anchor="middle" fill="#222" >0</text>
<line x1="61.18" y1="131.50" x2="61.18" y2="132.80" stroke="#555" stroke-width="0.6" />
<text x="61.18" y="140.90" font-size="7.7" text-anchor="middle" fill="#222" >1</text>
<line x1="68.76" y1="131.50" x2="68.76" y2="132.80" stroke="#555" stroke-width="0.6" />
<text x="68.76" y="140.90" font-size="7.7" text-anchor="middle" fill="#222" >2</text>
<line x1="76.34" y1="131.50" x2="76.34" y2="132.80" stroke="#555" stroke-width="0.6" />
<text x="76.34" y="140.90" font-size="7.7" text-anchor="middle" fill="#222" >3</text>
<line x1="83.92" y1="131.50" x2="83.92" y2="132.80" stroke="#555" stroke-width="0.6" />
<text x="83.92" y="140.90" font-size="7.7" text-anchor="middle" fill="#222" >4</text>
<line x1="91.50" y1="131.50" x2="91.50" y2="132.80" stroke="#555" stroke-width="0.6" />
<text x="91.50" y="140.90" font-size="7.7" text-anchor="middle" fill="#222" >5</text>
<line x1="99.08" y1="131.50" x2="99.08" y2="132.80" stroke="#555" stroke-width="0.6" />
<text x="99.08" y="140.90" font-size="7.7" text-anchor="middle" fill="#222" >6</text>
<line x1="106.66" y1="131.50" x2="106.66" y2="132.80" stroke="#555" stroke-width="0.6" />
<text x="106.66" y="140.90" font-size="7.7" text-anchor="middle" fill="#222" >7</text>
<line x1="114.24" y1="131.50" x2="114.24" y2="132.80" stroke="#555" stroke-width="0.6" />
<text x="114.24" y="140.90" font-size="7.7" text-anchor="middle" fill="#222" >8</text>
<line x1="121.82" y1="131.50" x2="121.82" y2="132.80" stroke="#555" stroke-width="0.6" />
<text x="121.82" y="140.90" font-size="7.7" text-anchor="middle" fill="#222" >9</text>
<line x1="129.40" y1="131.50" x2="129.40" y2="132.80" stroke="#555" stroke-width="0.6" />
<text x="129.40" y="140.90" font-size="7.7" text-anchor="middle" fill="#222" >10</text>
<line x1="52.40" y1="131.50" x2="53.60" y2="131.50" stroke="#555" stroke-width="0.6" />
<text x="52.20" y="134.40" font-size="7.7" text-anchor="end" fill="#222" >0</text>
<line x1="52.40" y1="117.07" x2="53.60" y2="117.07" stroke="#555" stroke-width="0.6" />
<text x="52.20" y="119.97" font-size="7.7" text-anchor="end" fill="#222" >100</text>
<line x1="52.40" y1="102.63" x2="53.60" y2="102.63" stroke="#555" stroke-width="0.6" />
<text x="52.20" y="105.53" font-size="7.7" text-anchor="end" fill="#222" >200</text>
<line x1="52.40" y1="88.20" x2="53.60" y2="88.20" stroke="#555" stroke-width="0.6" />
<text x="52.20" y="91.10" font-size="7.7" text-anchor="end" fill="#222" >300</text>
<line x1="52.90" y1="128.61" x2="53.60" y2="128.61" stroke="#777" stroke-width="0.4" />
<line x1="52.90" y1="125.73" x2="53.60" y2="125.73" stroke="#777" stroke-width="0.4" />
<line x1="52.90" y1="122.84" x2="53.60" y2="122.84" stroke="#777" stroke-width="0.4" />
<line x1="52.90" y1="119.95" x2="53.60" y2="119.95" stroke="#777" stroke-width="0.4" />
<line x1="52.90" y1="117.07" x2="53.60" y2="117.07" stroke="#777" stroke-width="0.4" />
<line x1="52.90" y1="114.18" x2="53.60" y2="114.18" stroke="#777" stroke-width="0.4" />
<line x1="52.90" y1="111.29" x2="53.60" y2="111.29" stroke="#777" stroke-width="0.4" />
<line x1="52.90" y1="108.41" x2="53.60" y2="108.41" stroke="#777" stroke-width="0.4" />
<line x1="52.90" y1="105.52" x2="53.60" y2="105.52" stroke="#777" stroke-width="0.4" />
<line x1="52.90" y1="102.63" x2="53.60" y2="102.63" stroke="#777" stroke-width="0.4" />
<line x1="52.90" y1="99.75" x2="53.60" y2="99.75" stroke="#777" stroke-width="0.4" />
<line x1="52.90" y1="96.86" x2="53.60" y2="96.86" stroke="#777" stroke-width="0.4" />
<line x1="52.90" y1="93.97" x2="53.60" y2="93.97" stroke="#777" stroke-width="0.4" />
<line x1="52.90" y1="91.09" x2="53.60" y2="91.09" stroke="#777" stroke-width="0.4" />
<line x1="53.60" y1="88.20" x2="53.60" y2="131.50" stroke="#666" stroke-width="1" />
<line x1="68.50" y1="105.10" x2="76.70" y2="105.10" stroke="#5b84dc" stroke-width="0.9" />
<line x1="76.70" y1="100.20" x2="76.70" y2="107.50" stroke="#5b84dc" stroke-width="0.9" />
<line x1="76.70" y1="109.60" x2="84.10" y2="109.60" stroke="#c23a68" stroke-width="0.9" />
<line x1="84.10" y1="104.20" x2="84.10" y2="111.50" stroke="#c23a68" stroke-width="0.9" />
<line x1="84.10" y1="114.10" x2="106.50" y2="114.10" stroke="#959e48" stroke-width="0.9" />
<line x1="68.50" y1="97.50" x2="68.50" y2="107.50" stroke="#5b84dc" stroke-width="0.9" />
<circle cx="68.50" cy="97.50" r="1.75" fill="#fff" stroke="#5b84dc" stroke-width="0.9"/>
<line x1="76.80" y1="101.60" x2="76.80" y2="111.50" stroke="#c23a68" stroke-width="0.9" />
<circle cx="76.80" cy="101.60" r="1.75" fill="#fff" stroke="#c23a68" stroke-width="0.9"/>
<line x1="84.10" y1="105.60" x2="84.10" y2="116.80" stroke="#959e48" stroke-width="0.9" />
<circle cx="84.10" cy="105.60" r="1.75" fill="#fff" stroke="#959e48" stroke-width="0.9"/>
<line x1="106.50" y1="110.50" x2="106.50" y2="120.20" stroke="#959e48" stroke-width="0.9" />
<circle cx="106.50" cy="110.50" r="1.75" fill="#fff" stroke="#959e48" stroke-width="0.9"/>
<text x="72.50" y="95.60" font-size="6.9" text-anchor="middle" fill="#222" >G1</text>
<text x="81.10" y="100.40" font-size="6.8" text-anchor="middle" fill="#222" >S</text>
<text x="93.10" y="110.20" font-size="6.6" text-anchor="middle" fill="#222"  textLength="15.40" lengthAdjust="spacingAndGlyphs">G2/M</text>
<text x="128.50" y="94.00" font-size="6.6" text-anchor="end" fill="#222" >G0/G1 52.8</text>
<text x="128.50" y="100.90" font-size="6.6" text-anchor="end" fill="#222" >S 14.1</text>
<text x="128.50" y="107.50" font-size="6.6" text-anchor="end" fill="#222" >G2/M 32.0</text>
<rect x="144.40" y="88.20" width="75.80" height="43.30" fill="none" stroke="#8a8a8a" stroke-width="0.9" />
<path d="M160.70,131.50 L160.70,131.50 L161.00,121.15 L161.30,117.38 L161.60,113.36 L161.90,109.17 L162.20,104.85 L162.50,100.05 L162.80,97.10 L163.10,94.38 L163.40,93.29 L163.70,93.32 L164.00,93.43 L164.30,94.03 L164.60,95.62 L164.90,96.73 L165.20,98.63 L165.50,100.31 L165.80,102.46 L166.10,104.77 L166.40,107.00 L166.70,109.23 L167.00,110.98 L167.30,113.46 L167.40,114.37 L167.40,131.50 Z" fill="#4471cc"/>
<path d="M167.40,131.50 L167.40,127.49 L167.80,127.39 L168.20,128.56 L168.60,129.26 L168.90,129.22 L169.30,129.29 L169.70,128.65 L170.10,129.02 L170.40,128.62 L170.80,128.77 L171.20,128.33 L171.60,127.89 L171.90,128.30 L172.30,128.84 L172.70,128.71 L173.10,128.35 L173.40,128.55 L173.80,128.68 L174.20,129.28 L174.60,128.90 L174.90,128.50 L174.90,131.50 Z" fill="#a13565"/>
<path d="M174.90,131.50 L174.90,127.11 L175.35,128.58 L175.80,128.19 L176.25,128.14 L176.70,127.45 L177.15,128.25 L177.60,127.52 L178.05,126.94 L178.50,125.99 L178.95,125.31 L179.40,123.69 L179.85,123.52 L180.30,123.20 L180.75,124.94 L181.20,124.93 L181.65,123.55 L182.10,123.35 L182.55,124.56 L183.00,124.67 L183.45,126.37 L183.90,125.97 L184.35,125.27 L184.80,125.99 L185.25,126.41 L185.70,126.63 L186.15,128.64 L186.60,129.29 L187.05,129.53 L187.50,129.22 L187.95,129.26 L188.40,129.15 L188.85,129.70 L189.30,129.99 L189.75,129.99 L190.20,130.49 L190.65,130.49 L191.10,130.90 L191.55,130.40 L192.00,130.79 L192.45,130.34 L192.90,130.53 L193.35,130.77 L193.80,130.90 L194.25,130.83 L194.70,130.58 L195.15,130.55 L195.60,130.94 L196.05,130.98 L196.50,130.68 L196.95,130.65 L197.20,130.70 L197.20,131.50 Z" fill="#74872f"/>
<path d="M197.20,131.50 L197.20,130.70 L197.80,130.83 L198.40,130.94 L199.00,130.68 L199.60,131.09 L200.20,130.89 L200.80,130.78 L201.40,130.43 L202.00,130.65 L202.60,130.48 L203.20,130.77 L203.80,130.94 L204.40,130.93 L205.00,130.43 L205.60,130.61 L206.20,130.88 L206.80,131.08 L206.80,131.50 Z" fill="#2f8a2f"/>
<line x1="144.40" y1="131.20" x2="220.20" y2="131.20" stroke="#1f2a22" stroke-width="1.1" />
<line x1="144.40" y1="131.50" x2="144.40" y2="132.80" stroke="#555" stroke-width="0.6" />
<text x="144.40" y="140.90" font-size="7.7" text-anchor="middle" fill="#222" >0</text>
<line x1="151.98" y1="131.50" x2="151.98" y2="132.80" stroke="#555" stroke-width="0.6" />
<text x="151.98" y="140.90" font-size="7.7" text-anchor="middle" fill="#222" >1</text>
<line x1="159.56" y1="131.50" x2="159.56" y2="132.80" stroke="#555" stroke-width="0.6" />
<text x="159.56" y="140.90" font-size="7.7" text-anchor="middle" fill="#222" >2</text>
<line x1="167.14" y1="131.50" x2="167.14" y2="132.80" stroke="#555" stroke-width="0.6" />
<text x="167.14" y="140.90" font-size="7.7" text-anchor="middle" fill="#222" >3</text>
<line x1="174.72" y1="131.50" x2="174.72" y2="132.80" stroke="#555" stroke-width="0.6" />
<text x="174.72" y="140.90" font-size="7.7" text-anchor="middle" fill="#222" >4</text>
<line x1="182.30" y1="131.50" x2="182.30" y2="132.80" stroke="#555" stroke-width="0.6" />
<text x="182.30" y="140.90" font-size="7.7" text-anchor="middle" fill="#222" >5</text>
<line x1="189.88" y1="131.50" x2="189.88" y2="132.80" stroke="#555" stroke-width="0.6" />
<text x="189.88" y="140.90" font-size="7.7" text-anchor="middle" fill="#222" >6</text>
<line x1="197.46" y1="131.50" x2="197.46" y2="132.80" stroke="#555" stroke-width="0.6" />
<text x="197.46" y="140.90" font-size="7.7" text-anchor="middle" fill="#222" >7</text>
<line x1="205.04" y1="131.50" x2="205.04" y2="132.80" stroke="#555" stroke-width="0.6" />
<text x="205.04" y="140.90" font-size="7.7" text-anchor="middle" fill="#222" >8</text>
<line x1="212.62" y1="131.50" x2="212.62" y2="132.80" stroke="#555" stroke-width="0.6" />
<text x="212.62" y="140.90" font-size="7.7" text-anchor="middle" fill="#222" >9</text>
<line x1="220.20" y1="131.50" x2="220.20" y2="132.80" stroke="#555" stroke-width="0.6" />
<text x="220.20" y="140.90" font-size="7.7" text-anchor="middle" fill="#222" >10</text>
<line x1="143.20" y1="131.50" x2="144.40" y2="131.50" stroke="#555" stroke-width="0.6" />
<text x="143.00" y="134.40" font-size="7.7" text-anchor="end" fill="#222" >0</text>
<line x1="143.20" y1="117.07" x2="144.40" y2="117.07" stroke="#555" stroke-width="0.6" />
<text x="143.00" y="119.97" font-size="7.7" text-anchor="end" fill="#222" >100</text>
<line x1="143.20" y1="102.63" x2="144.40" y2="102.63" stroke="#555" stroke-width="0.6" />
<text x="143.00" y="105.53" font-size="7.7" text-anchor="end" fill="#222" >200</text>
<line x1="143.20" y1="88.20" x2="144.40" y2="88.20" stroke="#555" stroke-width="0.6" />
<text x="143.00" y="91.10" font-size="7.7" text-anchor="end" fill="#222" >300</text>
<line x1="143.70" y1="128.61" x2="144.40" y2="128.61" stroke="#777" stroke-width="0.4" />
<line x1="143.70" y1="125.73" x2="144.40" y2="125.73" stroke="#777" stroke-width="0.4" />
<line x1="143.70" y1="122.84" x2="144.40" y2="122.84" stroke="#777" stroke-width="0.4" />
<line x1="143.70" y1="119.95" x2="144.40" y2="119.95" stroke="#777" stroke-width="0.4" />
<line x1="143.70" y1="117.07" x2="144.40" y2="117.07" stroke="#777" stroke-width="0.4" />
<line x1="143.70" y1="114.18" x2="144.40" y2="114.18" stroke="#777" stroke-width="0.4" />
<line x1="143.70" y1="111.29" x2="144.40" y2="111.29" stroke="#777" stroke-width="0.4" />
<line x1="143.70" y1="108.41" x2="144.40" y2="108.41" stroke="#777" stroke-width="0.4" />
<line x1="143.70" y1="105.52" x2="144.40" y2="105.52" stroke="#777" stroke-width="0.4" />
<line x1="143.70" y1="102.63" x2="144.40" y2="102.63" stroke="#777" stroke-width="0.4" />
<line x1="143.70" y1="99.75" x2="144.40" y2="99.75" stroke="#777" stroke-width="0.4" />
<line x1="143.70" y1="96.86" x2="144.40" y2="96.86" stroke="#777" stroke-width="0.4" />
<line x1="143.70" y1="93.97" x2="144.40" y2="93.97" stroke="#777" stroke-width="0.4" />
<line x1="143.70" y1="91.09" x2="144.40" y2="91.09" stroke="#777" stroke-width="0.4" />
<line x1="144.40" y1="88.20" x2="144.40" y2="131.50" stroke="#666" stroke-width="1" />
<line x1="159.30" y1="105.10" x2="167.50" y2="105.10" stroke="#5b84dc" stroke-width="0.9" />
<line x1="167.50" y1="100.20" x2="167.50" y2="107.50" stroke="#5b84dc" stroke-width="0.9" />
<line x1="167.50" y1="109.60" x2="174.90" y2="109.60" stroke="#c23a68" stroke-width="0.9" />
<line x1="174.90" y1="104.20" x2="174.90" y2="111.50" stroke="#c23a68" stroke-width="0.9" />
<line x1="174.90" y1="114.10" x2="197.30" y2="114.10" stroke="#959e48" stroke-width="0.9" />
<line x1="159.30" y1="97.50" x2="159.30" y2="107.50" stroke="#5b84dc" stroke-width="0.9" />
<circle cx="159.30" cy="97.50" r="1.75" fill="#fff" stroke="#5b84dc" stroke-width="0.9"/>
<line x1="167.60" y1="101.60" x2="167.60" y2="111.50" stroke="#c23a68" stroke-width="0.9" />
<circle cx="167.60" cy="101.60" r="1.75" fill="#fff" stroke="#c23a68" stroke-width="0.9"/>
<line x1="174.90" y1="105.60" x2="174.90" y2="116.80" stroke="#959e48" stroke-width="0.9" />
<circle cx="174.90" cy="105.60" r="1.75" fill="#fff" stroke="#959e48" stroke-width="0.9"/>
<line x1="197.30" y1="110.50" x2="197.30" y2="120.20" stroke="#959e48" stroke-width="0.9" />
<circle cx="197.30" cy="110.50" r="1.75" fill="#fff" stroke="#959e48" stroke-width="0.9"/>
<text x="219.30" y="94.00" font-size="6.6" text-anchor="end" fill="#222" >G0/G1 64.6</text>
<text x="219.30" y="100.90" font-size="6.6" text-anchor="end" fill="#222" >S 9.2</text>
<text x="219.30" y="107.50" font-size="6.6" text-anchor="end" fill="#222" >G2/M 25.4</text>
<rect x="235.30" y="88.20" width="75.80" height="43.30" fill="none" stroke="#8a8a8a" stroke-width="0.9" />
<path d="M251.30,131.50 L251.30,131.50 L251.60,122.47 L251.90,119.94 L252.20,117.43 L252.50,114.65 L252.80,111.38 L253.10,108.26 L253.40,106.04 L253.70,103.84 L254.00,101.83 L254.30,100.64 L254.60,100.07 L254.90,100.62 L255.20,100.80 L255.50,101.83 L255.80,103.32 L256.10,105.15 L256.40,106.47 L256.70,108.95 L257.00,110.73 L257.30,113.31 L257.60,115.48 L257.90,117.19 L258.20,119.50 L258.40,120.29 L258.40,131.50 Z" fill="#4471cc"/>
<path d="M258.40,131.50 L258.40,127.01 L258.80,127.57 L259.20,127.44 L259.60,126.99 L259.80,126.47 L260.20,126.01 L260.60,127.72 L261.00,127.33 L261.30,127.77 L261.70,126.09 L262.10,127.60 L262.50,127.62 L262.80,127.48 L263.20,126.92 L263.60,126.02 L264.00,126.15 L264.30,126.53 L264.70,125.98 L265.10,126.08 L265.50,127.26 L265.80,126.90 L265.80,131.50 Z" fill="#a13565"/>
<path d="M265.80,131.50 L265.80,126.72 L266.25,125.46 L266.70,125.95 L267.15,126.49 L267.60,124.02 L268.05,123.57 L268.50,122.57 L268.95,121.80 L269.40,121.50 L269.85,121.48 L270.30,120.78 L270.75,120.74 L271.20,119.68 L271.65,121.93 L272.10,120.62 L272.55,122.93 L273.00,123.32 L273.45,123.06 L273.90,123.85 L274.35,125.49 L274.80,127.08 L275.25,126.86 L275.70,127.73 L276.15,127.17 L276.60,129.13 L277.05,129.22 L277.50,128.73 L277.95,130.36 L278.40,130.04 L278.85,129.70 L279.30,130.00 L279.75,130.57 L280.20,130.60 L280.65,130.61 L281.10,130.04 L281.55,130.52 L282.00,130.22 L282.45,130.14 L282.90,130.53 L283.35,130.59 L283.80,130.16 L284.25,130.40 L284.70,130.65 L285.15,130.36 L285.60,130.64 L286.05,130.68 L286.50,130.87 L286.95,130.39 L287.40,130.29 L287.85,130.48 L288.10,130.70 L288.10,131.50 Z" fill="#74872f"/>
<path d="M288.10,131.50 L288.10,130.70 L288.70,130.44 L289.30,131.08 L289.90,130.94 L290.50,130.77 L291.10,130.43 L291.70,130.43 L292.30,130.83 L292.90,130.92 L293.50,130.80 L294.10,130.75 L294.70,130.45 L295.30,130.97 L295.90,130.54 L296.50,130.58 L297.10,130.52 L297.70,130.56 L297.70,131.50 Z" fill="#2f8a2f"/>
<line x1="235.30" y1="131.20" x2="311.10" y2="131.20" stroke="#1f2a22" stroke-width="1.1" />
<line x1="235.30" y1="131.50" x2="235.30" y2="132.80" stroke="#555" stroke-width="0.6" />
<text x="235.30" y="140.90" font-size="7.7" text-anchor="middle" fill="#222" >0</text>
<line x1="242.88" y1="131.50" x2="242.88" y2="132.80" stroke="#555" stroke-width="0.6" />
<text x="242.88" y="140.90" font-size="7.7" text-anchor="middle" fill="#222" >1</text>
<line x1="250.46" y1="131.50" x2="250.46" y2="132.80" stroke="#555" stroke-width="0.6" />
<text x="250.46" y="140.90" font-size="7.7" text-anchor="middle" fill="#222" >2</text>
<line x1="258.04" y1="131.50" x2="258.04" y2="132.80" stroke="#555" stroke-width="0.6" />
<text x="258.04" y="140.90" font-size="7.7" text-anchor="middle" fill="#222" >3</text>
<line x1="265.62" y1="131.50" x2="265.62" y2="132.80" stroke="#555" stroke-width="0.6" />
<text x="265.62" y="140.90" font-size="7.7" text-anchor="middle" fill="#222" >4</text>
<line x1="273.20" y1="131.50" x2="273.20" y2="132.80" stroke="#555" stroke-width="0.6" />
<text x="273.20" y="140.90" font-size="7.7" text-anchor="middle" fill="#222" >5</text>
<line x1="280.78" y1="131.50" x2="280.78" y2="132.80" stroke="#555" stroke-width="0.6" />
<text x="280.78" y="140.90" font-size="7.7" text-anchor="middle" fill="#222" >6</text>
<line x1="288.36" y1="131.50" x2="288.36" y2="132.80" stroke="#555" stroke-width="0.6" />
<text x="288.36" y="140.90" font-size="7.7" text-anchor="middle" fill="#222" >7</text>
<line x1="295.94" y1="131.50" x2="295.94" y2="132.80" stroke="#555" stroke-width="0.6" />
<text x="295.94" y="140.90" font-size="7.7" text-anchor="middle" fill="#222" >8</text>
<line x1="303.52" y1="131.50" x2="303.52" y2="132.80" stroke="#555" stroke-width="0.6" />
<text x="303.52" y="140.90" font-size="7.7" text-anchor="middle" fill="#222" >9</text>
<line x1="311.10" y1="131.50" x2="311.10" y2="132.80" stroke="#555" stroke-width="0.6" />
<text x="311.10" y="140.90" font-size="7.7" text-anchor="middle" fill="#222" >10</text>
<line x1="234.10" y1="131.50" x2="235.30" y2="131.50" stroke="#555" stroke-width="0.6" />
<text x="233.90" y="134.40" font-size="7.7" text-anchor="end" fill="#222" >0</text>
<line x1="234.10" y1="117.07" x2="235.30" y2="117.07" stroke="#555" stroke-width="0.6" />
<text x="233.90" y="119.97" font-size="7.7" text-anchor="end" fill="#222" >100</text>
<line x1="234.10" y1="102.63" x2="235.30" y2="102.63" stroke="#555" stroke-width="0.6" />
<text x="233.90" y="105.53" font-size="7.7" text-anchor="end" fill="#222" >200</text>
<line x1="234.10" y1="88.20" x2="235.30" y2="88.20" stroke="#555" stroke-width="0.6" />
<text x="233.90" y="91.10" font-size="7.7" text-anchor="end" fill="#222" >300</text>
<line x1="234.60" y1="128.61" x2="235.30" y2="128.61" stroke="#777" stroke-width="0.4" />
<line x1="234.60" y1="125.73" x2="235.30" y2="125.73" stroke="#777" stroke-width="0.4" />
<line x1="234.60" y1="122.84" x2="235.30" y2="122.84" stroke="#777" stroke-width="0.4" />
<line x1="234.60" y1="119.95" x2="235.30" y2="119.95" stroke="#777" stroke-width="0.4" />
<line x1="234.60" y1="117.07" x2="235.30" y2="117.07" stroke="#777" stroke-width="0.4" />
<line x1="234.60" y1="114.18" x2="235.30" y2="114.18" stroke="#777" stroke-width="0.4" />
<line x1="234.60" y1="111.29" x2="235.30" y2="111.29" stroke="#777" stroke-width="0.4" />
<line x1="234.60" y1="108.41" x2="235.30" y2="108.41" stroke="#777" stroke-width="0.4" />
<line x1="234.60" y1="105.52" x2="235.30" y2="105.52" stroke="#777" stroke-width="0.4" />
<line x1="234.60" y1="102.63" x2="235.30" y2="102.63" stroke="#777" stroke-width="0.4" />
<line x1="234.60" y1="99.75" x2="235.30" y2="99.75" stroke="#777" stroke-width="0.4" />
<line x1="234.60" y1="96.86" x2="235.30" y2="96.86" stroke="#777" stroke-width="0.4" />
<line x1="234.60" y1="93.97" x2="235.30" y2="93.97" stroke="#777" stroke-width="0.4" />
<line x1="234.60" y1="91.09" x2="235.30" y2="91.09" stroke="#777" stroke-width="0.4" />
<line x1="235.30" y1="88.20" x2="235.30" y2="131.50" stroke="#666" stroke-width="1" />
<line x1="250.20" y1="105.10" x2="258.40" y2="105.10" stroke="#5b84dc" stroke-width="0.9" />
<line x1="258.40" y1="100.20" x2="258.40" y2="107.50" stroke="#5b84dc" stroke-width="0.9" />
<line x1="258.40" y1="109.60" x2="265.80" y2="109.60" stroke="#c23a68" stroke-width="0.9" />
<line x1="265.80" y1="104.20" x2="265.80" y2="111.50" stroke="#c23a68" stroke-width="0.9" />
<line x1="265.80" y1="114.10" x2="288.20" y2="114.10" stroke="#959e48" stroke-width="0.9" />
<line x1="250.20" y1="97.50" x2="250.20" y2="107.50" stroke="#5b84dc" stroke-width="0.9" />
<circle cx="250.20" cy="97.50" r="1.75" fill="#fff" stroke="#5b84dc" stroke-width="0.9"/>
<line x1="258.50" y1="101.60" x2="258.50" y2="111.50" stroke="#c23a68" stroke-width="0.9" />
<circle cx="258.50" cy="101.60" r="1.75" fill="#fff" stroke="#c23a68" stroke-width="0.9"/>
<line x1="265.80" y1="105.60" x2="265.80" y2="116.80" stroke="#959e48" stroke-width="0.9" />
<circle cx="265.80" cy="105.60" r="1.75" fill="#fff" stroke="#959e48" stroke-width="0.9"/>
<line x1="288.20" y1="110.50" x2="288.20" y2="120.20" stroke="#959e48" stroke-width="0.9" />
<circle cx="288.20" cy="110.50" r="1.75" fill="#fff" stroke="#959e48" stroke-width="0.9"/>
<text x="310.20" y="94.00" font-size="6.6" text-anchor="end" fill="#222" >G0/G1 52.6</text>
<text x="310.20" y="100.90" font-size="6.6" text-anchor="end" fill="#222" >S 14.9</text>
<text x="310.20" y="107.50" font-size="6.6" text-anchor="end" fill="#222" >G2/M 30.9</text>
<rect x="326.50" y="88.20" width="75.80" height="43.30" fill="none" stroke="#8a8a8a" stroke-width="0.9" />
<path d="M342.70,131.50 L342.70,131.50 L343.00,125.25 L343.30,123.40 L343.60,120.95 L343.90,118.08 L344.20,114.60 L344.50,111.67 L344.80,108.06 L345.10,104.21 L345.40,101.35 L345.70,98.72 L346.00,96.62 L346.30,94.92 L346.60,94.62 L346.90,94.53 L347.20,95.66 L347.50,97.29 L347.80,100.05 L348.10,102.85 L348.40,105.80 L348.70,108.64 L349.00,111.62 L349.30,114.84 L349.40,115.96 L349.40,131.50 Z" fill="#4471cc"/>
<path d="M349.40,131.50 L349.40,128.87 L349.80,128.41 L350.20,128.25 L350.60,128.05 L351.00,127.81 L351.00,128.17 L351.40,129.36 L351.80,128.03 L352.20,129.23 L352.50,128.77 L352.90,129.02 L353.30,128.16 L353.70,129.10 L354.00,128.91 L354.40,128.99 L354.80,129.25 L355.20,127.87 L355.50,128.54 L355.90,129.02 L356.30,128.85 L356.70,127.64 L357.00,128.60 L357.00,131.50 Z" fill="#a13565"/>
<path d="M357.00,131.50 L357.00,127.96 L357.45,128.59 L357.90,127.87 L358.35,128.29 L358.80,127.80 L359.25,129.20 L359.70,128.10 L360.15,127.00 L360.60,126.65 L361.05,126.24 L361.50,127.99 L361.95,127.34 L362.40,127.71 L362.85,127.61 L363.30,125.99 L363.75,127.01 L364.20,126.44 L364.65,127.90 L365.10,127.08 L365.55,128.26 L366.00,128.92 L366.45,128.21 L366.90,128.21 L367.35,129.94 L367.80,129.37 L368.25,129.56 L368.70,130.35 L369.15,130.30 L369.60,130.74 L370.05,130.77 L370.50,130.80 L370.95,130.47 L371.40,130.43 L371.85,130.83 L372.30,130.98 L372.75,130.78 L373.20,130.56 L373.65,130.90 L374.10,130.83 L374.55,130.91 L375.00,130.53 L375.45,130.70 L375.90,131.00 L376.35,131.00 L376.80,130.83 L377.25,130.74 L377.70,130.69 L378.15,131.00 L378.60,131.00 L379.05,130.67 L379.30,130.70 L379.30,131.50 Z" fill="#74872f"/>
<path d="M379.30,131.50 L379.30,130.70 L379.90,130.81 L380.50,130.90 L381.10,130.88 L381.70,130.43 L382.30,130.88 L382.90,130.70 L383.50,130.85 L384.10,130.81 L384.70,130.50 L385.30,130.40 L385.90,130.85 L386.50,130.96 L387.10,130.59 L387.70,130.96 L388.30,131.10 L388.90,130.47 L388.90,131.50 Z" fill="#2f8a2f"/>
<line x1="326.50" y1="131.20" x2="402.30" y2="131.20" stroke="#1f2a22" stroke-width="1.1" />
<line x1="326.50" y1="131.50" x2="326.50" y2="132.80" stroke="#555" stroke-width="0.6" />
<text x="326.50" y="140.90" font-size="7.7" text-anchor="middle" fill="#222" >0</text>
<line x1="334.08" y1="131.50" x2="334.08" y2="132.80" stroke="#555" stroke-width="0.6" />
<text x="334.08" y="140.90" font-size="7.7" text-anchor="middle" fill="#222" >1</text>
<line x1="341.66" y1="131.50" x2="341.66" y2="132.80" stroke="#555" stroke-width="0.6" />
<text x="341.66" y="140.90" font-size="7.7" text-anchor="middle" fill="#222" >2</text>
<line x1="349.24" y1="131.50" x2="349.24" y2="132.80" stroke="#555" stroke-width="0.6" />
<text x="349.24" y="140.90" font-size="7.7" text-anchor="middle" fill="#222" >3</text>
<line x1="356.82" y1="131.50" x2="356.82" y2="132.80" stroke="#555" stroke-width="0.6" />
<text x="356.82" y="140.90" font-size="7.7" text-anchor="middle" fill="#222" >4</text>
<line x1="364.40" y1="131.50" x2="364.40" y2="132.80" stroke="#555" stroke-width="0.6" />
<text x="364.40" y="140.90" font-size="7.7" text-anchor="middle" fill="#222" >5</text>
<line x1="371.98" y1="131.50" x2="371.98" y2="132.80" stroke="#555" stroke-width="0.6" />
<text x="371.98" y="140.90" font-size="7.7" text-anchor="middle" fill="#222" >6</text>
<line x1="379.56" y1="131.50" x2="379.56" y2="132.80" stroke="#555" stroke-width="0.6" />
<text x="379.56" y="140.90" font-size="7.7" text-anchor="middle" fill="#222" >7</text>
<line x1="387.14" y1="131.50" x2="387.14" y2="132.80" stroke="#555" stroke-width="0.6" />
<text x="387.14" y="140.90" font-size="7.7" text-anchor="middle" fill="#222" >8</text>
<line x1="394.72" y1="131.50" x2="394.72" y2="132.80" stroke="#555" stroke-width="0.6" />
<text x="394.72" y="140.90" font-size="7.7" text-anchor="middle" fill="#222" >9</text>
<line x1="402.30" y1="131.50" x2="402.30" y2="132.80" stroke="#555" stroke-width="0.6" />
<text x="402.30" y="140.90" font-size="7.7" text-anchor="middle" fill="#222" >10</text>
<line x1="325.30" y1="131.50" x2="326.50" y2="131.50" stroke="#555" stroke-width="0.6" />
<text x="325.10" y="134.40" font-size="7.7" text-anchor="end" fill="#222" >0</text>
<line x1="325.30" y1="117.07" x2="326.50" y2="117.07" stroke="#555" stroke-width="0.6" />
<text x="325.10" y="119.97" font-size="7.7" text-anchor="end" fill="#222" >100</text>
<line x1="325.30" y1="102.63" x2="326.50" y2="102.63" stroke="#555" stroke-width="0.6" />
<text x="325.10" y="105.53" font-size="7.7" text-anchor="end" fill="#222" >200</text>
<line x1="325.30" y1="88.20" x2="326.50" y2="88.20" stroke="#555" stroke-width="0.6" />
<text x="325.10" y="91.10" font-size="7.7" text-anchor="end" fill="#222" >300</text>
<line x1="325.80" y1="128.61" x2="326.50" y2="128.61" stroke="#777" stroke-width="0.4" />
<line x1="325.80" y1="125.73" x2="326.50" y2="125.73" stroke="#777" stroke-width="0.4" />
<line x1="325.80" y1="122.84" x2="326.50" y2="122.84" stroke="#777" stroke-width="0.4" />
<line x1="325.80" y1="119.95" x2="326.50" y2="119.95" stroke="#777" stroke-width="0.4" />
<line x1="325.80" y1="117.07" x2="326.50" y2="117.07" stroke="#777" stroke-width="0.4" />
<line x1="325.80" y1="114.18" x2="326.50" y2="114.18" stroke="#777" stroke-width="0.4" />
<line x1="325.80" y1="111.29" x2="326.50" y2="111.29" stroke="#777" stroke-width="0.4" />
<line x1="325.80" y1="108.41" x2="326.50" y2="108.41" stroke="#777" stroke-width="0.4" />
<line x1="325.80" y1="105.52" x2="326.50" y2="105.52" stroke="#777" stroke-width="0.4" />
<line x1="325.80" y1="102.63" x2="326.50" y2="102.63" stroke="#777" stroke-width="0.4" />
<line x1="325.80" y1="99.75" x2="326.50" y2="99.75" stroke="#777" stroke-width="0.4" />
<line x1="325.80" y1="96.86" x2="326.50" y2="96.86" stroke="#777" stroke-width="0.4" />
<line x1="325.80" y1="93.97" x2="326.50" y2="93.97" stroke="#777" stroke-width="0.4" />
<line x1="325.80" y1="91.09" x2="326.50" y2="91.09" stroke="#777" stroke-width="0.4" />
<line x1="326.50" y1="88.20" x2="326.50" y2="131.50" stroke="#666" stroke-width="1" />
<line x1="341.40" y1="105.10" x2="349.60" y2="105.10" stroke="#5b84dc" stroke-width="0.9" />
<line x1="349.60" y1="100.20" x2="349.60" y2="107.50" stroke="#5b84dc" stroke-width="0.9" />
<line x1="349.60" y1="109.60" x2="357.00" y2="109.60" stroke="#c23a68" stroke-width="0.9" />
<line x1="357.00" y1="104.20" x2="357.00" y2="111.50" stroke="#c23a68" stroke-width="0.9" />
<line x1="357.00" y1="114.10" x2="379.40" y2="114.10" stroke="#959e48" stroke-width="0.9" />
<line x1="341.40" y1="97.50" x2="341.40" y2="107.50" stroke="#5b84dc" stroke-width="0.9" />
<circle cx="341.40" cy="97.50" r="1.75" fill="#fff" stroke="#5b84dc" stroke-width="0.9"/>
<line x1="349.70" y1="101.60" x2="349.70" y2="111.50" stroke="#c23a68" stroke-width="0.9" />
<circle cx="349.70" cy="101.60" r="1.75" fill="#fff" stroke="#c23a68" stroke-width="0.9"/>
<line x1="357.00" y1="105.60" x2="357.00" y2="116.80" stroke="#959e48" stroke-width="0.9" />
<circle cx="357.00" cy="105.60" r="1.75" fill="#fff" stroke="#959e48" stroke-width="0.9"/>
<line x1="379.40" y1="110.50" x2="379.40" y2="120.20" stroke="#959e48" stroke-width="0.9" />
<circle cx="379.40" cy="110.50" r="1.75" fill="#fff" stroke="#959e48" stroke-width="0.9"/>
<text x="401.40" y="94.00" font-size="6.6" text-anchor="end" fill="#222" >G0/G1 72.7</text>
<text x="401.40" y="100.90" font-size="6.6" text-anchor="end" fill="#222" >S 9.8</text>
<text x="401.40" y="107.50" font-size="6.6" text-anchor="end" fill="#222" >G2/M 17.1</text>
<text x="0" y="0" font-size="8.2" text-anchor="middle" fill="#222" transform="translate(24.60,39.50) rotate(-90)">Gem-R</text>
<text x="0" y="0" font-size="8.2" text-anchor="middle" fill="#222" transform="translate(35.00,39.80) rotate(-90)">MIA PaCa-2</text>
<text x="0" y="0" font-size="8.2" text-anchor="middle" fill="#222" transform="translate(24.60,111.00) rotate(-90)">Gem-R</text>
<text x="0" y="0" font-size="8.2" text-anchor="middle" fill="#222" transform="translate(35.00,111.00) rotate(-90)">BxPC-3</text>
<text x="0" y="0" font-size="8.2" text-anchor="middle" fill="#222" transform="translate(9.60,77.50) rotate(-90)">Count</text>
<line x1="13.60" y1="106.60" x2="13.60" y2="48.00" stroke="#111" stroke-width="0.9" />
<path d="M13.6,44.6 L11.6,49.4 L15.6,49.4 Z" fill="#111"/>
<line x1="183.50" y1="150.40" x2="264.00" y2="150.40" stroke="#111" stroke-width="0.9" />
<path d="M268.3,150.4 L263.2,148.3 L263.2,152.5 Z" fill="#111"/>
<text x="226.20" y="159.80" font-size="8.0" text-anchor="middle" fill="#222"  textLength="66.40" lengthAdjust="spacingAndGlyphs">DNA content index</text>
<text x="252.90" y="176.40" font-size="12.8" text-anchor="middle" fill="#111" font-weight="bold" textLength="19.60" lengthAdjust="spacingAndGlyphs">(A)</text>
<defs>
<linearGradient id="g_gr" x1="0" x2="1" y1="0" y2="0"><stop offset="0" stop-color="#4f4f4f"/><stop offset="0.45" stop-color="#9a9a9a"/><stop offset="0.7" stop-color="#9a9a9a"/><stop offset="1" stop-color="#4f4f4f"/></linearGradient>
<linearGradient id="g_ye" x1="0" x2="1" y1="0" y2="0"><stop offset="0" stop-color="#e8b830"/><stop offset="0.45" stop-color="#ffe46e"/><stop offset="0.7" stop-color="#ffe46e"/><stop offset="1" stop-color="#e8b830"/></linearGradient>
<linearGradient id="g_bl" x1="0" x2="1" y1="0" y2="0"><stop offset="0" stop-color="#6fa6d8"/><stop offset="0.45" stop-color="#b3dcff"/><stop offset="0.7" stop-color="#b3dcff"/><stop offset="1" stop-color="#6fa6d8"/></linearGradient>
<linearGradient id="g_pu" x1="0" x2="1" y1="0" y2="0"><stop offset="0" stop-color="#7c3ff0"/><stop offset="0.45" stop-color="#b07cff"/><stop offset="0.7" stop-color="#b07cff"/><stop offset="1" stop-color="#7c3ff0"/></linearGradient>
</defs>
<text x="479.00" y="9.20" font-size="8.4" text-anchor="middle" fill="#1a1a1a" >Gem-R MIA PaCa-2</text>
<line x1="434.20" y1="14.40" x2="434.20" y2="64.40" stroke="#666" stroke-width="0.9" />
<line x1="434.20" y1="64.40" x2="524.50" y2="64.40" stroke="#555" stroke-width="1.0" />
<line x1="431.60" y1="64.40" x2="434.20" y2="64.40" stroke="#555" stroke-width="0.8" />
<text x="427.20" y="67.00" font-size="7.4" text-anchor="end" fill="#222" >0</text>
<line x1="431.60" y1="51.90" x2="434.20" y2="51.90" stroke="#555" stroke-width="0.8" />
<text x="427.20" y="54.50" font-size="7.4" text-anchor="end" fill="#222" >20</text>
<line x1="431.60" y1="39.40" x2="434.20" y2="39.40" stroke="#555" stroke-width="0.8" />
<text x="427.20" y="42.00" font-size="7.4" text-anchor="end" fill="#222" >40</text>
<line x1="431.60" y1="26.90" x2="434.20" y2="26.90" stroke="#555" stroke-width="0.8" />
<text x="427.20" y="29.50" font-size="7.4" text-anchor="end" fill="#222" >60</text>
<line x1="431.60" y1="14.40" x2="434.20" y2="14.40" stroke="#555" stroke-width="0.8" />
<text x="427.20" y="17.00" font-size="7.4" text-anchor="end" fill="#222" >80</text>
<rect x="438.30" y="30.34" width="4.60" height="34.06" fill="url(#g_gr)" stroke="#222" stroke-width="0.55" />
<line x1="440.60" y1="29.84" x2="440.60" y2="30.84" stroke="#222" stroke-width="0.6" />
<line x1="439.30" y1="29.84" x2="441.90" y2="29.84" stroke="#222" stroke-width="0.6" />
<rect x="443.90" y="26.77" width="4.60" height="37.63" fill="url(#g_ye)" stroke="#222" stroke-width="0.55" />
<line x1="446.20" y1="24.27" x2="446.20" y2="29.27" stroke="#222" stroke-width="0.6" />
<line x1="444.90" y1="24.27" x2="447.50" y2="24.27" stroke="#222" stroke-width="0.6" />
<rect x="449.50" y="30.02" width="4.60" height="34.38" fill="url(#g_bl)" stroke="#222" stroke-width="0.55" />
<line x1="451.80" y1="27.52" x2="451.80" y2="32.52" stroke="#222" stroke-width="0.6" />
<line x1="450.50" y1="27.52" x2="453.10" y2="27.52" stroke="#222" stroke-width="0.6" />
<rect x="455.10" y="22.34" width="4.60" height="42.06" fill="url(#g_pu)" stroke="#222" stroke-width="0.55" />
<line x1="457.40" y1="20.46" x2="457.40" y2="24.21" stroke="#222" stroke-width="0.6" />
<line x1="456.10" y1="20.46" x2="458.70" y2="20.46" stroke="#222" stroke-width="0.6" />
<text x="457.40" y="19.26" font-size="4.2" text-anchor="middle" fill="#333" >*#</text>
<rect x="468.90" y="52.78" width="4.60" height="11.63" fill="url(#g_gr)" stroke="#222" stroke-width="0.55" />
<line x1="471.20" y1="52.40" x2="471.20" y2="53.15" stroke="#222" stroke-width="0.6" />
<line x1="469.90" y1="52.40" x2="472.50" y2="52.40" stroke="#222" stroke-width="0.6" />
<rect x="474.50" y="55.28" width="4.60" height="9.13" fill="url(#g_ye)" stroke="#222" stroke-width="0.55" />
<line x1="476.80" y1="53.71" x2="476.80" y2="56.84" stroke="#222" stroke-width="0.6" />
<line x1="475.50" y1="53.71" x2="478.10" y2="53.71" stroke="#222" stroke-width="0.6" />
<rect x="480.10" y="52.78" width="4.60" height="11.63" fill="url(#g_bl)" stroke="#222" stroke-width="0.55" />
<line x1="482.40" y1="51.21" x2="482.40" y2="54.34" stroke="#222" stroke-width="0.6" />
<line x1="481.10" y1="51.21" x2="483.70" y2="51.21" stroke="#222" stroke-width="0.6" />
<rect x="485.70" y="55.96" width="4.60" height="8.44" fill="url(#g_pu)" stroke="#222" stroke-width="0.55" />
<line x1="488.00" y1="54.09" x2="488.00" y2="57.84" stroke="#222" stroke-width="0.6" />
<line x1="486.70" y1="54.09" x2="489.30" y2="54.09" stroke="#222" stroke-width="0.6" />
<rect x="499.50" y="49.03" width="4.60" height="15.38" fill="url(#g_gr)" stroke="#222" stroke-width="0.55" />
<line x1="501.80" y1="48.53" x2="501.80" y2="49.53" stroke="#222" stroke-width="0.6" />
<line x1="500.50" y1="48.53" x2="503.10" y2="48.53" stroke="#222" stroke-width="0.6" />
<rect x="505.10" y="49.71" width="4.60" height="14.69" fill="url(#g_ye)" stroke="#222" stroke-width="0.55" />
<line x1="507.40" y1="47.53" x2="507.40" y2="51.90" stroke="#222" stroke-width="0.6" />
<line x1="506.10" y1="47.53" x2="508.70" y2="47.53" stroke="#222" stroke-width="0.6" />
<rect x="510.70" y="49.65" width="4.60" height="14.75" fill="url(#g_bl)" stroke="#222" stroke-width="0.55" />
<line x1="513.00" y1="46.84" x2="513.00" y2="52.46" stroke="#222" stroke-width="0.6" />
<line x1="511.70" y1="46.84" x2="514.30" y2="46.84" stroke="#222" stroke-width="0.6" />
<rect x="516.30" y="52.96" width="4.60" height="11.44" fill="url(#g_pu)" stroke="#222" stroke-width="0.55" />
<line x1="518.60" y1="52.21" x2="518.60" y2="53.71" stroke="#222" stroke-width="0.6" />
<line x1="517.30" y1="52.21" x2="519.90" y2="52.21" stroke="#222" stroke-width="0.6" />
<text x="518.60" y="51.01" font-size="4.2" text-anchor="middle" fill="#333" >*</text>
<text x="449.60" y="78.60" font-size="8.4" text-anchor="middle" fill="#1a1a1a" >G1</text>
<text x="480.40" y="78.60" font-size="8.4" text-anchor="middle" fill="#1a1a1a" >S</text>
<text x="511.20" y="78.60" font-size="8.4" text-anchor="middle" fill="#1a1a1a" >G2/M</text>
<text x="0" y="0" font-size="8.4" text-anchor="middle" fill="#222" transform="translate(416.90,44.10) rotate(-90)">Cells (%)</text>
<text x="479.00" y="89.60" font-size="8.4" text-anchor="middle" fill="#1a1a1a" >Gem-R BxPC-3</text>
<line x1="434.20" y1="93.20" x2="434.20" y2="135.50" stroke="#666" stroke-width="0.9" />
<line x1="434.20" y1="135.50" x2="524.50" y2="135.50" stroke="#555" stroke-width="1.0" />
<line x1="431.60" y1="135.50" x2="434.20" y2="135.50" stroke="#555" stroke-width="0.8" />
<text x="427.20" y="138.10" font-size="7.4" text-anchor="end" fill="#222" >0</text>
<line x1="431.60" y1="124.92" x2="434.20" y2="124.92" stroke="#555" stroke-width="0.8" />
<text x="427.20" y="127.52" font-size="7.4" text-anchor="end" fill="#222" >20</text>
<line x1="431.60" y1="114.35" x2="434.20" y2="114.35" stroke="#555" stroke-width="0.8" />
<text x="427.20" y="116.95" font-size="7.4" text-anchor="end" fill="#222" >40</text>
<line x1="431.60" y1="103.78" x2="434.20" y2="103.78" stroke="#555" stroke-width="0.8" />
<text x="427.20" y="106.38" font-size="7.4" text-anchor="end" fill="#222" >60</text>
<line x1="431.60" y1="93.20" x2="434.20" y2="93.20" stroke="#555" stroke-width="0.8" />
<text x="427.20" y="95.80" font-size="7.4" text-anchor="end" fill="#222" >80</text>
<rect x="438.30" y="109.33" width="4.60" height="26.17" fill="url(#g_gr)" stroke="#222" stroke-width="0.55" />
<line x1="440.60" y1="107.74" x2="440.60" y2="110.91" stroke="#222" stroke-width="0.6" />
<line x1="439.30" y1="107.74" x2="441.90" y2="107.74" stroke="#222" stroke-width="0.6" />
<rect x="443.90" y="102.19" width="4.60" height="33.31" fill="url(#g_ye)" stroke="#222" stroke-width="0.55" />
<line x1="446.20" y1="101.13" x2="446.20" y2="103.25" stroke="#222" stroke-width="0.6" />
<line x1="444.90" y1="101.13" x2="447.50" y2="101.13" stroke="#222" stroke-width="0.6" />
<text x="446.20" y="99.93" font-size="4.2" text-anchor="middle" fill="#333" >*</text>
<rect x="449.50" y="108.53" width="4.60" height="26.97" fill="url(#g_bl)" stroke="#222" stroke-width="0.55" />
<line x1="451.80" y1="108.00" x2="451.80" y2="109.06" stroke="#222" stroke-width="0.6" />
<line x1="450.50" y1="108.00" x2="453.10" y2="108.00" stroke="#222" stroke-width="0.6" />
<rect x="455.10" y="98.49" width="4.60" height="37.01" fill="url(#g_pu)" stroke="#222" stroke-width="0.55" />
<line x1="457.40" y1="96.90" x2="457.40" y2="100.07" stroke="#222" stroke-width="0.6" />
<line x1="456.10" y1="96.90" x2="458.70" y2="96.90" stroke="#222" stroke-width="0.6" />
<text x="457.40" y="95.70" font-size="4.2" text-anchor="middle" fill="#333" >*#</text>
<rect x="468.90" y="127.78" width="4.60" height="7.72" fill="url(#g_gr)" stroke="#222" stroke-width="0.55" />
<line x1="471.20" y1="127.25" x2="471.20" y2="128.31" stroke="#222" stroke-width="0.6" />
<line x1="469.90" y1="127.25" x2="472.50" y2="127.25" stroke="#222" stroke-width="0.6" />
<rect x="474.50" y="131.59" width="4.60" height="3.91" fill="url(#g_ye)" stroke="#222" stroke-width="0.55" />
<line x1="476.80" y1="130.53" x2="476.80" y2="132.64" stroke="#222" stroke-width="0.6" />
<line x1="475.50" y1="130.53" x2="478.10" y2="130.53" stroke="#222" stroke-width="0.6" />
<text x="476.80" y="129.33" font-size="4.2" text-anchor="middle" fill="#333" >*</text>
<rect x="480.10" y="128.31" width="4.60" height="7.19" fill="url(#g_bl)" stroke="#222" stroke-width="0.55" />
<line x1="482.40" y1="127.78" x2="482.40" y2="128.84" stroke="#222" stroke-width="0.6" />
<line x1="481.10" y1="127.78" x2="483.70" y2="127.78" stroke="#222" stroke-width="0.6" />
<rect x="485.70" y="129.58" width="4.60" height="5.92" fill="url(#g_pu)" stroke="#222" stroke-width="0.55" />
<line x1="488.00" y1="129.05" x2="488.00" y2="130.11" stroke="#222" stroke-width="0.6" />
<line x1="486.70" y1="129.05" x2="489.30" y2="129.05" stroke="#222" stroke-width="0.6" />
<rect x="499.50" y="117.73" width="4.60" height="17.77" fill="url(#g_gr)" stroke="#222" stroke-width="0.55" />
<line x1="501.80" y1="117.21" x2="501.80" y2="118.26" stroke="#222" stroke-width="0.6" />
<line x1="500.50" y1="117.21" x2="503.10" y2="117.21" stroke="#222" stroke-width="0.6" />
<rect x="505.10" y="122.39" width="4.60" height="13.11" fill="url(#g_ye)" stroke="#222" stroke-width="0.55" />
<line x1="507.40" y1="121.33" x2="507.40" y2="123.44" stroke="#222" stroke-width="0.6" />
<line x1="506.10" y1="121.33" x2="508.70" y2="121.33" stroke="#222" stroke-width="0.6" />
<text x="507.40" y="120.13" font-size="4.2" text-anchor="middle" fill="#333" >*</text>
<rect x="510.70" y="119.00" width="4.60" height="16.50" fill="url(#g_bl)" stroke="#222" stroke-width="0.55" />
<line x1="513.00" y1="118.47" x2="513.00" y2="119.53" stroke="#222" stroke-width="0.6" />
<line x1="511.70" y1="118.47" x2="514.30" y2="118.47" stroke="#222" stroke-width="0.6" />
<rect x="516.30" y="126.62" width="4.60" height="8.88" fill="url(#g_pu)" stroke="#222" stroke-width="0.55" />
<line x1="518.60" y1="125.56" x2="518.60" y2="127.67" stroke="#222" stroke-width="0.6" />
<line x1="517.30" y1="125.56" x2="519.90" y2="125.56" stroke="#222" stroke-width="0.6" />
<text x="518.60" y="124.36" font-size="4.2" text-anchor="middle" fill="#333" >*#</text>
<text x="449.60" y="149.70" font-size="8.4" text-anchor="middle" fill="#1a1a1a" >G1</text>
<text x="480.40" y="149.70" font-size="8.4" text-anchor="middle" fill="#1a1a1a" >S</text>
<text x="511.20" y="149.70" font-size="8.4" text-anchor="middle" fill="#1a1a1a" >G2/M</text>
<text x="0" y="0" font-size="8.4" text-anchor="middle" fill="#222" transform="translate(416.90,121.50) rotate(-90)">Cells (%)</text>
<rect x="398.80" y="153.60" width="148.50" height="10.30" fill="#fff" stroke="#555" stroke-width="0.9" />
<rect x="401.80" y="156.80" width="6.80" height="4.00" fill="url(#g_gr)" stroke="#222" stroke-width="0.6" />
<text x="410.60" y="161.60" font-size="8.6" text-anchor="start" fill="#1a1a1a"  textLength="26.40" lengthAdjust="spacingAndGlyphs">Control</text>
<rect x="439.60" y="156.80" width="6.80" height="4.00" fill="url(#g_ye)" stroke="#222" stroke-width="0.6" />
<text x="449.00" y="161.60" font-size="8.6" text-anchor="start" fill="#1a1a1a"  textLength="14.70" lengthAdjust="spacingAndGlyphs">BBR</text>
<rect x="467.90" y="156.80" width="6.80" height="4.00" fill="url(#g_bl)" stroke="#222" stroke-width="0.6" />
<text x="476.20" y="161.60" font-size="8.6" text-anchor="start" fill="#1a1a1a"  textLength="17.40" lengthAdjust="spacingAndGlyphs">Gem</text>
<rect x="497.40" y="156.80" width="6.80" height="4.00" fill="url(#g_pu)" stroke="#222" stroke-width="0.6" />
<text x="505.20" y="161.60" font-size="8.6" text-anchor="start" fill="#1a1a1a"  textLength="41.60" lengthAdjust="spacingAndGlyphs">BBR &amp; Gem</text>
<text x="89.60" y="189.60" font-size="8.8" text-anchor="middle" fill="#1a1a1a"  textLength="26.60" lengthAdjust="spacingAndGlyphs">Control</text>
<text x="181.10" y="189.60" font-size="8.8" text-anchor="middle" fill="#1a1a1a"  textLength="14.40" lengthAdjust="spacingAndGlyphs">BBR</text>
<text x="272.00" y="189.60" font-size="8.8" text-anchor="middle" fill="#1a1a1a"  textLength="17.40" lengthAdjust="spacingAndGlyphs">Gem</text>
<text x="363.00" y="189.60" font-size="8.8" text-anchor="middle" fill="#1a1a1a"  textLength="40.80" lengthAdjust="spacingAndGlyphs">BBR &amp; Gem</text>
<rect x="53.60" y="243.70" width="25.69" height="22.90" fill="#e0efda" stroke="none" stroke-width="1" />
<g fill="#ff3a3a" fill-opacity="0.28"><circle cx="57.8" cy="250.9" r="0.50"/><circle cx="57.2" cy="249.4" r="0.50"/><circle cx="65.6" cy="253.3" r="0.50"/><circle cx="79.1" cy="250.9" r="0.50"/><circle cx="59.6" cy="264.3" r="0.50"/><circle cx="78.5" cy="247.6" r="0.50"/><circle cx="63.9" cy="249.8" r="0.50"/><circle cx="73.5" cy="249.1" r="0.50"/><circle cx="76.5" cy="248.0" r="0.50"/><circle cx="76.3" cy="265.2" r="0.50"/><circle cx="71.1" cy="250.4" r="0.50"/><circle cx="88.6" cy="254.8" r="0.50"/><circle cx="67.4" cy="253.5" r="0.50"/><circle cx="76.4" cy="254.4" r="0.50"/><circle cx="78.3" cy="255.9" r="0.50"/><circle cx="71.8" cy="255.7" r="0.50"/><circle cx="71.0" cy="256.7" r="0.50"/><circle cx="58.1" cy="249.6" r="0.50"/><circle cx="72.1" cy="255.8" r="0.50"/><circle cx="71.3" cy="247.6" r="0.50"/><circle cx="62.7" cy="255.2" r="0.50"/><circle cx="73.8" cy="249.7" r="0.50"/><circle cx="67.4" cy="265.0" r="0.50"/><circle cx="79.0" cy="249.8" r="0.50"/><circle cx="69.9" cy="254.7" r="0.50"/><circle cx="71.8" cy="255.2" r="0.50"/><circle cx="62.3" cy="258.6" r="0.50"/><circle cx="65.5" cy="257.4" r="0.50"/><circle cx="61.3" cy="251.4" r="0.50"/><circle cx="60.2" cy="251.5" r="0.50"/><circle cx="62.4" cy="252.8" r="0.50"/><circle cx="79.9" cy="250.2" r="0.50"/><circle cx="64.5" cy="254.0" r="0.50"/><circle cx="70.9" cy="262.4" r="0.50"/><circle cx="65.4" cy="253.2" r="0.50"/><circle cx="66.4" cy="253.5" r="0.50"/><circle cx="75.2" cy="248.1" r="0.50"/><circle cx="76.5" cy="248.8" r="0.50"/><circle cx="67.7" cy="253.7" r="0.50"/><circle cx="67.9" cy="255.3" r="0.50"/><circle cx="68.5" cy="262.8" r="0.50"/><circle cx="67.4" cy="253.8" r="0.50"/><circle cx="62.7" cy="254.7" r="0.50"/><circle cx="73.6" cy="253.4" r="0.50"/><circle cx="85.1" cy="264.4" r="0.50"/><circle cx="68.3" cy="263.3" r="0.50"/><circle cx="77.0" cy="237.6" r="0.50"/><circle cx="73.7" cy="254.1" r="0.50"/><circle cx="73.9" cy="264.5" r="0.50"/><circle cx="76.1" cy="250.1" r="0.50"/><circle cx="70.0" cy="256.4" r="0.50"/><circle cx="74.5" cy="255.0" r="0.50"/><circle cx="71.5" cy="255.7" r="0.50"/><circle cx="71.3" cy="248.9" r="0.50"/><circle cx="63.4" cy="254.6" r="0.50"/><circle cx="74.4" cy="251.6" r="0.50"/><circle cx="79.0" cy="240.8" r="0.50"/><circle cx="63.2" cy="264.8" r="0.50"/><circle cx="76.1" cy="243.8" r="0.50"/><circle cx="76.6" cy="247.6" r="0.50"/><circle cx="65.3" cy="257.9" r="0.50"/><circle cx="76.4" cy="256.9" r="0.50"/><circle cx="56.5" cy="261.1" r="0.50"/><circle cx="88.1" cy="239.4" r="0.50"/><circle cx="64.8" cy="258.1" r="0.50"/><circle cx="71.6" cy="256.9" r="0.50"/><circle cx="79.5" cy="251.8" r="0.50"/><circle cx="61.9" cy="247.7" r="0.50"/><circle cx="65.6" cy="252.9" r="0.50"/><circle cx="69.8" cy="254.9" r="0.50"/><circle cx="72.2" cy="256.5" r="0.50"/><circle cx="60.6" cy="259.1" r="0.50"/><circle cx="69.7" cy="253.0" r="0.50"/><circle cx="73.9" cy="251.8" r="0.50"/><circle cx="64.0" cy="258.2" r="0.50"/><circle cx="54.3" cy="257.1" r="0.50"/><circle cx="73.4" cy="249.7" r="0.50"/><circle cx="69.0" cy="254.3" r="0.50"/><circle cx="76.7" cy="251.9" r="0.50"/><circle cx="75.3" cy="249.1" r="0.50"/><circle cx="71.4" cy="245.9" r="0.50"/><circle cx="65.6" cy="256.0" r="0.50"/><circle cx="63.9" cy="258.6" r="0.50"/><circle cx="81.3" cy="241.6" r="0.50"/><circle cx="70.0" cy="250.2" r="0.50"/><circle cx="78.5" cy="247.3" r="0.50"/><circle cx="78.7" cy="258.4" r="0.50"/><circle cx="65.2" cy="251.7" r="0.50"/><circle cx="80.4" cy="250.7" r="0.50"/><circle cx="63.6" cy="256.3" r="0.50"/><circle cx="65.0" cy="258.8" r="0.50"/><circle cx="80.9" cy="254.5" r="0.50"/><circle cx="70.0" cy="241.6" r="0.50"/><circle cx="78.5" cy="249.8" r="0.50"/><circle cx="65.4" cy="251.9" r="0.50"/><circle cx="81.8" cy="247.6" r="0.50"/><circle cx="79.1" cy="251.0" r="0.50"/><circle cx="73.6" cy="253.6" r="0.50"/><circle cx="73.0" cy="245.7" r="0.50"/><circle cx="59.3" cy="255.6" r="0.50"/><circle cx="71.6" cy="256.0" r="0.50"/><circle cx="67.6" cy="249.4" r="0.50"/><circle cx="84.5" cy="247.1" r="0.50"/><circle cx="72.2" cy="261.1" r="0.50"/><circle cx="84.0" cy="250.2" r="0.50"/><circle cx="69.6" cy="259.3" r="0.50"/><circle cx="69.4" cy="259.2" r="0.50"/><circle cx="70.4" cy="250.6" r="0.50"/><circle cx="70.1" cy="251.7" r="0.50"/><circle cx="63.6" cy="246.7" r="0.50"/><circle cx="65.1" cy="263.9" r="0.50"/><circle cx="68.5" cy="257.6" r="0.50"/><circle cx="62.4" cy="256.5" r="0.50"/><circle cx="72.0" cy="259.2" r="0.50"/><circle cx="68.8" cy="245.8" r="0.50"/><circle cx="74.9" cy="253.1" r="0.50"/><circle cx="70.8" cy="253.7" r="0.50"/><circle cx="69.5" cy="249.4" r="0.50"/><circle cx="69.7" cy="258.1" r="0.50"/><circle cx="74.6" cy="255.6" r="0.50"/><circle cx="70.9" cy="241.3" r="0.50"/><circle cx="62.2" cy="260.7" r="0.50"/><circle cx="56.1" cy="253.9" r="0.50"/><circle cx="65.2" cy="264.2" r="0.50"/><circle cx="59.0" cy="252.0" r="0.50"/><circle cx="64.2" cy="256.3" r="0.50"/><circle cx="72.3" cy="245.5" r="0.50"/><circle cx="84.1" cy="245.0" r="0.50"/><circle cx="70.9" cy="252.1" r="0.50"/><circle cx="83.1" cy="243.1" r="0.50"/><circle cx="67.6" cy="251.2" r="0.50"/><circle cx="72.0" cy="252.6" r="0.50"/><circle cx="66.2" cy="261.1" r="0.50"/><circle cx="65.9" cy="262.3" r="0.50"/><circle cx="78.8" cy="248.7" r="0.50"/><circle cx="61.0" cy="247.4" r="0.50"/><circle cx="76.4" cy="262.3" r="0.50"/><circle cx="83.4" cy="246.3" r="0.50"/><circle cx="85.0" cy="257.0" r="0.50"/><circle cx="73.7" cy="250.2" r="0.50"/><circle cx="71.3" cy="252.0" r="0.50"/><circle cx="77.6" cy="259.8" r="0.50"/><circle cx="60.7" cy="262.5" r="0.50"/><circle cx="65.8" cy="257.3" r="0.50"/><circle cx="72.5" cy="251.3" r="0.50"/><circle cx="70.1" cy="256.8" r="0.50"/><circle cx="66.6" cy="248.7" r="0.50"/><circle cx="75.5" cy="251.6" r="0.50"/><circle cx="67.5" cy="245.3" r="0.50"/><circle cx="65.5" cy="250.6" r="0.50"/><circle cx="78.3" cy="253.1" r="0.50"/><circle cx="75.9" cy="258.1" r="0.50"/><circle cx="77.3" cy="250.8" r="0.50"/><circle cx="58.2" cy="251.8" r="0.50"/><circle cx="63.3" cy="247.6" r="0.50"/><circle cx="64.9" cy="255.1" r="0.50"/><circle cx="71.9" cy="254.6" r="0.50"/><circle cx="71.8" cy="255.9" r="0.50"/><circle cx="74.8" cy="252.3" r="0.50"/><circle cx="78.4" cy="251.5" r="0.50"/><circle cx="56.8" cy="255.2" r="0.50"/><circle cx="73.3" cy="246.8" r="0.50"/><circle cx="61.9" cy="246.4" r="0.50"/><circle cx="68.7" cy="240.6" r="0.50"/><circle cx="68.8" cy="249.8" r="0.50"/><circle cx="67.2" cy="259.7" r="0.50"/><circle cx="77.9" cy="246.8" r="0.50"/><circle cx="81.1" cy="246.5" r="0.50"/><circle cx="65.6" cy="263.0" r="0.50"/><circle cx="65.1" cy="257.8" r="0.50"/><circle cx="63.9" cy="251.2" r="0.50"/><circle cx="72.3" cy="254.2" r="0.50"/><circle cx="71.1" cy="253.8" r="0.50"/><circle cx="71.4" cy="248.9" r="0.50"/><circle cx="76.9" cy="255.6" r="0.50"/><circle cx="58.8" cy="247.7" r="0.50"/><circle cx="70.7" cy="247.1" r="0.50"/><circle cx="57.8" cy="257.3" r="0.50"/><circle cx="70.1" cy="261.0" r="0.50"/><circle cx="66.1" cy="250.1" r="0.50"/><circle cx="77.8" cy="243.2" r="0.50"/><circle cx="63.5" cy="262.0" r="0.50"/><circle cx="73.7" cy="247.5" r="0.50"/><circle cx="71.3" cy="260.0" r="0.50"/><circle cx="75.6" cy="247.9" r="0.50"/><circle cx="73.9" cy="255.1" r="0.50"/><circle cx="72.1" cy="248.6" r="0.50"/><circle cx="65.8" cy="263.9" r="0.50"/><circle cx="72.3" cy="250.2" r="0.50"/><circle cx="70.0" cy="248.4" r="0.50"/><circle cx="65.5" cy="254.5" r="0.50"/><circle cx="67.6" cy="250.6" r="0.50"/><circle cx="81.6" cy="252.4" r="0.50"/><circle cx="84.9" cy="242.2" r="0.50"/><circle cx="75.7" cy="249.0" r="0.50"/><circle cx="82.8" cy="251.8" r="0.50"/><circle cx="69.0" cy="259.1" r="0.50"/><circle cx="73.3" cy="245.4" r="0.50"/><circle cx="73.8" cy="250.2" r="0.50"/><circle cx="68.4" cy="252.6" r="0.50"/><circle cx="59.4" cy="249.6" r="0.50"/><circle cx="66.8" cy="259.7" r="0.50"/><circle cx="64.3" cy="258.7" r="0.50"/><circle cx="76.1" cy="246.4" r="0.50"/><circle cx="59.9" cy="250.1" r="0.50"/><circle cx="76.4" cy="255.1" r="0.50"/><circle cx="58.9" cy="259.3" r="0.50"/><circle cx="65.2" cy="252.3" r="0.50"/><circle cx="67.2" cy="264.6" r="0.50"/><circle cx="71.6" cy="261.2" r="0.50"/><circle cx="76.5" cy="258.5" r="0.50"/><circle cx="64.8" cy="258.8" r="0.50"/><circle cx="65.9" cy="247.0" r="0.50"/><circle cx="76.1" cy="248.8" r="0.50"/><circle cx="72.2" cy="261.1" r="0.50"/><circle cx="66.0" cy="256.9" r="0.50"/><circle cx="62.7" cy="251.9" r="0.50"/><circle cx="64.4" cy="258.1" r="0.50"/><circle cx="62.2" cy="265.8" r="0.50"/><circle cx="74.2" cy="245.3" r="0.50"/><circle cx="71.1" cy="258.2" r="0.50"/><circle cx="78.8" cy="250.0" r="0.50"/><circle cx="76.7" cy="244.0" r="0.50"/><circle cx="78.1" cy="254.0" r="0.50"/><circle cx="77.6" cy="247.6" r="0.50"/><circle cx="58.6" cy="257.6" r="0.50"/><circle cx="59.4" cy="255.8" r="0.50"/><circle cx="74.1" cy="258.2" r="0.50"/><circle cx="54.8" cy="249.1" r="0.50"/><circle cx="72.6" cy="244.8" r="0.50"/><circle cx="60.1" cy="249.4" r="0.50"/><circle cx="85.1" cy="239.6" r="0.50"/><circle cx="68.3" cy="252.1" r="0.50"/><circle cx="68.7" cy="248.1" r="0.50"/><circle cx="77.5" cy="251.3" r="0.50"/><circle cx="59.9" cy="251.1" r="0.50"/><circle cx="66.4" cy="250.5" r="0.50"/><circle cx="71.8" cy="244.1" r="0.50"/><circle cx="78.2" cy="254.1" r="0.50"/><circle cx="72.4" cy="243.3" r="0.50"/><circle cx="65.9" cy="251.7" r="0.50"/><circle cx="78.6" cy="244.8" r="0.50"/><circle cx="73.7" cy="259.6" r="0.50"/><circle cx="60.6" cy="253.7" r="0.50"/><circle cx="72.7" cy="239.0" r="0.50"/><circle cx="63.5" cy="248.3" r="0.50"/><circle cx="75.5" cy="261.2" r="0.50"/><circle cx="63.8" cy="253.5" r="0.50"/><circle cx="66.2" cy="254.8" r="0.50"/><circle cx="73.3" cy="256.9" r="0.50"/><circle cx="73.3" cy="256.0" r="0.50"/><circle cx="65.9" cy="251.1" r="0.50"/><circle cx="65.6" cy="252.5" r="0.50"/><circle cx="81.6" cy="250.9" r="0.50"/><circle cx="68.8" cy="249.5" r="0.50"/><circle cx="67.2" cy="247.9" r="0.50"/><circle cx="60.4" cy="251.7" r="0.50"/><circle cx="66.1" cy="258.2" r="0.50"/><circle cx="82.8" cy="255.4" r="0.50"/><circle cx="82.7" cy="247.3" r="0.50"/><circle cx="80.5" cy="256.5" r="0.50"/><circle cx="78.7" cy="243.7" r="0.50"/><circle cx="69.0" cy="254.1" r="0.50"/><circle cx="87.9" cy="248.9" r="0.50"/><circle cx="66.8" cy="257.2" r="0.50"/><circle cx="73.1" cy="250.8" r="0.50"/><circle cx="71.2" cy="243.7" r="0.50"/><circle cx="67.4" cy="251.2" r="0.50"/><circle cx="80.6" cy="256.6" r="0.50"/><circle cx="77.5" cy="242.0" r="0.50"/><circle cx="59.9" cy="261.0" r="0.50"/><circle cx="62.2" cy="264.6" r="0.50"/><circle cx="73.2" cy="262.6" r="0.50"/><circle cx="73.5" cy="244.7" r="0.50"/><circle cx="58.0" cy="257.2" r="0.50"/><circle cx="55.8" cy="251.7" r="0.50"/><circle cx="64.4" cy="255.7" r="0.50"/><circle cx="70.3" cy="250.2" r="0.50"/><circle cx="67.3" cy="253.6" r="0.50"/><circle cx="65.8" cy="253.4" r="0.50"/><circle cx="61.2" cy="254.5" r="0.50"/><circle cx="55.7" cy="258.6" r="0.50"/><circle cx="83.9" cy="250.2" r="0.50"/><circle cx="60.6" cy="253.6" r="0.50"/><circle cx="62.7" cy="263.5" r="0.50"/><circle cx="64.4" cy="250.3" r="0.50"/><circle cx="72.7" cy="253.2" r="0.50"/><circle cx="63.1" cy="260.3" r="0.50"/><circle cx="79.8" cy="250.1" r="0.50"/><circle cx="62.9" cy="265.9" r="0.50"/><circle cx="59.8" cy="241.8" r="0.50"/><circle cx="61.4" cy="255.2" r="0.50"/><circle cx="71.4" cy="253.8" r="0.50"/><circle cx="67.8" cy="261.0" r="0.50"/><circle cx="62.1" cy="245.6" r="0.50"/><circle cx="64.3" cy="249.7" r="0.50"/><circle cx="57.4" cy="257.1" r="0.50"/><circle cx="71.8" cy="247.3" r="0.50"/><circle cx="61.6" cy="251.6" r="0.50"/><circle cx="72.7" cy="256.7" r="0.50"/><circle cx="73.4" cy="257.4" r="0.50"/><circle cx="64.0" cy="254.4" r="0.50"/><circle cx="62.5" cy="262.5" r="0.50"/><circle cx="66.7" cy="249.7" r="0.50"/><circle cx="66.9" cy="247.0" r="0.50"/><circle cx="61.3" cy="261.9" r="0.50"/><circle cx="81.2" cy="248.9" r="0.50"/><circle cx="76.8" cy="256.4" r="0.50"/><circle cx="75.8" cy="250.7" r="0.50"/><circle cx="74.6" cy="252.2" r="0.50"/><circle cx="78.7" cy="255.1" r="0.50"/><circle cx="62.8" cy="262.5" r="0.50"/><circle cx="78.4" cy="255.6" r="0.50"/><circle cx="62.2" cy="259.7" r="0.50"/><circle cx="66.6" cy="260.7" r="0.50"/></g>
<g fill="#ff2020" fill-opacity="0.55"><circle cx="76.9" cy="238.3" r="0.40"/><circle cx="78.2" cy="238.9" r="0.40"/><circle cx="82.4" cy="246.0" r="0.40"/><circle cx="76.5" cy="240.6" r="0.40"/><circle cx="82.0" cy="238.3" r="0.40"/><circle cx="83.8" cy="237.6" r="0.40"/><circle cx="79.2" cy="241.2" r="0.40"/><circle cx="83.7" cy="241.8" r="0.40"/><circle cx="84.7" cy="245.1" r="0.40"/><circle cx="83.2" cy="241.1" r="0.40"/><circle cx="73.1" cy="237.8" r="0.40"/><circle cx="81.9" cy="240.5" r="0.40"/><circle cx="76.5" cy="241.9" r="0.40"/><circle cx="86.5" cy="242.9" r="0.40"/><circle cx="67.3" cy="243.0" r="0.40"/><circle cx="76.1" cy="241.0" r="0.40"/><circle cx="79.2" cy="243.2" r="0.40"/><circle cx="77.5" cy="237.6" r="0.40"/><circle cx="75.1" cy="235.0" r="0.40"/><circle cx="78.6" cy="243.7" r="0.40"/><circle cx="83.7" cy="239.0" r="0.40"/><circle cx="76.7" cy="238.4" r="0.40"/><circle cx="73.6" cy="243.2" r="0.40"/><circle cx="85.0" cy="241.3" r="0.40"/><circle cx="75.7" cy="239.1" r="0.40"/><circle cx="84.2" cy="240.6" r="0.40"/><circle cx="73.7" cy="241.6" r="0.40"/><circle cx="82.3" cy="238.4" r="0.40"/><circle cx="87.8" cy="241.3" r="0.40"/><circle cx="78.8" cy="240.7" r="0.40"/><circle cx="85.3" cy="243.3" r="0.40"/><circle cx="85.7" cy="248.4" r="0.40"/><circle cx="83.8" cy="242.5" r="0.40"/><circle cx="82.5" cy="238.6" r="0.40"/><circle cx="76.1" cy="240.8" r="0.40"/><circle cx="81.6" cy="238.9" r="0.40"/><circle cx="77.1" cy="243.4" r="0.40"/><circle cx="73.3" cy="233.3" r="0.40"/><circle cx="79.9" cy="241.2" r="0.40"/><circle cx="74.9" cy="237.9" r="0.40"/><circle cx="78.6" cy="236.5" r="0.40"/><circle cx="84.0" cy="240.5" r="0.40"/><circle cx="83.5" cy="243.8" r="0.40"/><circle cx="79.4" cy="242.2" r="0.40"/><circle cx="75.8" cy="240.5" r="0.40"/><circle cx="80.1" cy="236.5" r="0.40"/><circle cx="67.8" cy="242.5" r="0.40"/><circle cx="77.2" cy="241.9" r="0.40"/><circle cx="82.3" cy="239.4" r="0.40"/><circle cx="80.8" cy="241.9" r="0.40"/><circle cx="82.6" cy="239.5" r="0.40"/><circle cx="73.6" cy="241.3" r="0.40"/><circle cx="75.4" cy="244.0" r="0.40"/><circle cx="81.2" cy="240.4" r="0.40"/><circle cx="81.1" cy="243.1" r="0.40"/><circle cx="79.9" cy="243.2" r="0.40"/><circle cx="82.2" cy="238.6" r="0.40"/><circle cx="87.4" cy="237.0" r="0.40"/><circle cx="77.6" cy="241.9" r="0.40"/><circle cx="77.1" cy="239.7" r="0.40"/><circle cx="81.7" cy="245.0" r="0.40"/><circle cx="68.5" cy="249.6" r="0.40"/><circle cx="71.4" cy="245.4" r="0.40"/><circle cx="75.4" cy="245.9" r="0.40"/><circle cx="81.0" cy="248.6" r="0.40"/><circle cx="72.8" cy="242.0" r="0.40"/><circle cx="76.5" cy="248.5" r="0.40"/><circle cx="69.1" cy="250.2" r="0.40"/><circle cx="67.8" cy="246.5" r="0.40"/><circle cx="75.6" cy="244.3" r="0.40"/><circle cx="75.0" cy="248.3" r="0.40"/><circle cx="73.1" cy="242.2" r="0.40"/><circle cx="69.9" cy="246.2" r="0.40"/><circle cx="75.5" cy="245.2" r="0.40"/><circle cx="74.2" cy="245.5" r="0.40"/><circle cx="78.0" cy="247.0" r="0.40"/><circle cx="74.0" cy="247.1" r="0.40"/><circle cx="72.4" cy="247.1" r="0.40"/><circle cx="74.5" cy="246.2" r="0.40"/><circle cx="79.6" cy="243.6" r="0.40"/><circle cx="74.0" cy="245.2" r="0.40"/><circle cx="76.4" cy="244.9" r="0.40"/><circle cx="75.5" cy="246.0" r="0.40"/><circle cx="74.0" cy="248.5" r="0.40"/><circle cx="78.2" cy="243.6" r="0.40"/><circle cx="77.5" cy="245.6" r="0.40"/><circle cx="76.3" cy="247.7" r="0.40"/><circle cx="69.8" cy="245.1" r="0.40"/><circle cx="76.1" cy="247.9" r="0.40"/><circle cx="72.4" cy="243.7" r="0.40"/><circle cx="69.8" cy="242.5" r="0.40"/><circle cx="77.5" cy="241.1" r="0.40"/><circle cx="73.2" cy="246.7" r="0.40"/><circle cx="73.9" cy="246.3" r="0.40"/><circle cx="74.8" cy="248.4" r="0.40"/><circle cx="78.8" cy="248.5" r="0.40"/><circle cx="73.8" cy="245.3" r="0.40"/><circle cx="73.8" cy="247.7" r="0.40"/><circle cx="76.6" cy="247.5" r="0.40"/><circle cx="71.5" cy="246.9" r="0.40"/><circle cx="74.8" cy="242.7" r="0.40"/><circle cx="72.0" cy="244.4" r="0.40"/><circle cx="73.0" cy="247.5" r="0.40"/><circle cx="74.4" cy="246.0" r="0.40"/><circle cx="78.2" cy="242.5" r="0.40"/><circle cx="81.2" cy="225.8" r="0.40"/><circle cx="91.1" cy="228.2" r="0.40"/><circle cx="80.4" cy="227.8" r="0.40"/><circle cx="84.4" cy="230.3" r="0.40"/><circle cx="83.4" cy="228.9" r="0.40"/><circle cx="91.9" cy="226.7" r="0.40"/><circle cx="83.8" cy="227.4" r="0.40"/><circle cx="93.9" cy="236.2" r="0.40"/><circle cx="94.1" cy="238.0" r="0.40"/><circle cx="88.4" cy="229.2" r="0.40"/><circle cx="94.1" cy="230.6" r="0.40"/><circle cx="82.1" cy="235.5" r="0.40"/><circle cx="77.4" cy="228.4" r="0.40"/><circle cx="83.6" cy="235.2" r="0.40"/><circle cx="88.3" cy="235.4" r="0.40"/><circle cx="82.4" cy="234.0" r="0.40"/><circle cx="95.2" cy="225.2" r="0.40"/><circle cx="84.1" cy="239.1" r="0.40"/><circle cx="58.0" cy="262.2" r="0.35"/><circle cx="66.1" cy="251.8" r="0.35"/><circle cx="75.5" cy="239.8" r="0.35"/><circle cx="58.0" cy="244.4" r="0.35"/><circle cx="97.7" cy="253.0" r="0.35"/><circle cx="111.1" cy="227.3" r="0.35"/><circle cx="102.9" cy="248.1" r="0.35"/><circle cx="84.2" cy="219.7" r="0.35"/><circle cx="78.5" cy="264.8" r="0.35"/><circle cx="110.7" cy="213.7" r="0.35"/><circle cx="74.4" cy="262.0" r="0.35"/><circle cx="112.1" cy="224.8" r="0.35"/><circle cx="58.5" cy="248.7" r="0.35"/><circle cx="62.7" cy="212.7" r="0.35"/><circle cx="69.3" cy="204.6" r="0.35"/><circle cx="105.1" cy="259.2" r="0.35"/><circle cx="101.5" cy="238.9" r="0.35"/><circle cx="105.0" cy="210.2" r="0.35"/><circle cx="74.0" cy="258.9" r="0.35"/><circle cx="118.2" cy="236.9" r="0.35"/><circle cx="117.1" cy="219.3" r="0.35"/><circle cx="104.4" cy="210.1" r="0.35"/></g>
<g fill="#ff0a0a" fill-opacity="0.5"><circle cx="68.8" cy="255.1" r="0.65"/><circle cx="67.8" cy="256.2" r="0.65"/><circle cx="70.0" cy="254.5" r="0.65"/><circle cx="70.3" cy="252.5" r="0.65"/><circle cx="71.1" cy="258.9" r="0.65"/><circle cx="67.9" cy="255.8" r="0.65"/><circle cx="72.7" cy="256.9" r="0.65"/><circle cx="67.2" cy="254.5" r="0.65"/><circle cx="68.6" cy="250.8" r="0.65"/><circle cx="68.2" cy="251.0" r="0.65"/><circle cx="64.5" cy="259.1" r="0.65"/><circle cx="74.3" cy="251.2" r="0.65"/><circle cx="71.6" cy="252.6" r="0.65"/><circle cx="71.6" cy="256.2" r="0.65"/><circle cx="73.3" cy="254.0" r="0.65"/><circle cx="73.5" cy="252.3" r="0.65"/><circle cx="62.6" cy="258.1" r="0.65"/><circle cx="74.0" cy="252.8" r="0.65"/><circle cx="68.4" cy="252.9" r="0.65"/><circle cx="68.3" cy="255.0" r="0.65"/><circle cx="70.2" cy="252.8" r="0.65"/><circle cx="75.4" cy="252.1" r="0.65"/><circle cx="76.8" cy="247.1" r="0.65"/><circle cx="76.2" cy="249.2" r="0.65"/><circle cx="70.3" cy="252.8" r="0.65"/><circle cx="69.3" cy="255.3" r="0.65"/><circle cx="69.6" cy="255.0" r="0.65"/><circle cx="75.9" cy="250.7" r="0.65"/><circle cx="68.2" cy="258.7" r="0.65"/><circle cx="69.7" cy="254.4" r="0.65"/><circle cx="65.9" cy="257.0" r="0.65"/><circle cx="61.6" cy="253.3" r="0.65"/><circle cx="69.6" cy="246.3" r="0.65"/><circle cx="69.7" cy="253.7" r="0.65"/><circle cx="75.2" cy="251.9" r="0.65"/><circle cx="70.5" cy="254.1" r="0.65"/><circle cx="67.6" cy="249.6" r="0.65"/><circle cx="73.5" cy="247.9" r="0.65"/><circle cx="68.6" cy="253.4" r="0.65"/><circle cx="66.6" cy="251.3" r="0.65"/><circle cx="64.7" cy="252.7" r="0.65"/><circle cx="73.9" cy="248.7" r="0.65"/><circle cx="66.4" cy="251.0" r="0.65"/><circle cx="67.2" cy="255.8" r="0.65"/><circle cx="65.0" cy="251.1" r="0.65"/><circle cx="75.9" cy="253.7" r="0.65"/><circle cx="67.1" cy="254.7" r="0.65"/><circle cx="79.1" cy="248.8" r="0.65"/><circle cx="67.9" cy="258.4" r="0.65"/><circle cx="67.4" cy="250.5" r="0.65"/><circle cx="76.7" cy="252.7" r="0.65"/><circle cx="67.3" cy="255.1" r="0.65"/><circle cx="62.9" cy="252.1" r="0.65"/><circle cx="65.9" cy="251.1" r="0.65"/><circle cx="63.6" cy="257.8" r="0.65"/><circle cx="70.9" cy="255.1" r="0.65"/><circle cx="72.7" cy="252.7" r="0.65"/><circle cx="65.5" cy="252.4" r="0.65"/><circle cx="72.9" cy="257.8" r="0.65"/><circle cx="76.6" cy="250.6" r="0.65"/><circle cx="72.6" cy="257.7" r="0.65"/><circle cx="67.2" cy="254.7" r="0.65"/><circle cx="73.8" cy="256.4" r="0.65"/><circle cx="66.6" cy="259.3" r="0.65"/><circle cx="69.0" cy="252.5" r="0.65"/><circle cx="63.7" cy="256.0" r="0.65"/><circle cx="71.7" cy="248.6" r="0.65"/><circle cx="72.3" cy="253.6" r="0.65"/><circle cx="65.5" cy="256.6" r="0.65"/><circle cx="67.4" cy="253.3" r="0.65"/><circle cx="69.7" cy="248.8" r="0.65"/><circle cx="70.9" cy="255.9" r="0.65"/><circle cx="75.5" cy="249.6" r="0.65"/><circle cx="70.2" cy="255.1" r="0.65"/><circle cx="63.0" cy="257.3" r="0.65"/><circle cx="73.2" cy="254.8" r="0.65"/><circle cx="65.0" cy="253.6" r="0.65"/><circle cx="70.7" cy="251.4" r="0.65"/><circle cx="72.3" cy="249.0" r="0.65"/><circle cx="66.8" cy="251.2" r="0.65"/><circle cx="66.2" cy="252.1" r="0.65"/><circle cx="70.5" cy="252.5" r="0.65"/><circle cx="73.4" cy="252.6" r="0.65"/><circle cx="73.9" cy="250.1" r="0.65"/><circle cx="70.3" cy="254.7" r="0.65"/><circle cx="67.1" cy="255.2" r="0.65"/><circle cx="69.1" cy="253.4" r="0.65"/><circle cx="80.8" cy="249.5" r="0.65"/><circle cx="72.7" cy="255.0" r="0.65"/><circle cx="67.2" cy="254.6" r="0.65"/><circle cx="70.6" cy="255.9" r="0.65"/><circle cx="75.8" cy="253.6" r="0.65"/><circle cx="73.8" cy="258.8" r="0.65"/><circle cx="69.8" cy="252.5" r="0.65"/><circle cx="70.6" cy="251.5" r="0.65"/><circle cx="70.9" cy="252.6" r="0.65"/><circle cx="62.9" cy="256.5" r="0.65"/><circle cx="61.3" cy="253.2" r="0.65"/><circle cx="71.0" cy="253.6" r="0.65"/><circle cx="66.8" cy="255.4" r="0.65"/><circle cx="76.6" cy="247.3" r="0.65"/><circle cx="69.6" cy="249.8" r="0.65"/><circle cx="64.0" cy="259.5" r="0.65"/><circle cx="68.1" cy="255.9" r="0.65"/><circle cx="67.8" cy="253.1" r="0.65"/><circle cx="81.0" cy="252.9" r="0.65"/><circle cx="70.0" cy="252.5" r="0.65"/><circle cx="69.7" cy="250.8" r="0.65"/><circle cx="76.4" cy="255.4" r="0.65"/><circle cx="70.4" cy="253.8" r="0.65"/><circle cx="71.2" cy="257.1" r="0.65"/><circle cx="63.4" cy="260.7" r="0.65"/><circle cx="71.8" cy="252.4" r="0.65"/><circle cx="70.1" cy="259.6" r="0.65"/><circle cx="68.5" cy="255.5" r="0.65"/><circle cx="64.7" cy="256.7" r="0.65"/><circle cx="72.4" cy="251.3" r="0.65"/><circle cx="69.8" cy="251.9" r="0.65"/><circle cx="67.6" cy="253.5" r="0.65"/><circle cx="70.0" cy="251.7" r="0.65"/><circle cx="69.6" cy="253.7" r="0.65"/><circle cx="69.4" cy="255.1" r="0.65"/><circle cx="78.0" cy="250.3" r="0.65"/><circle cx="71.4" cy="246.8" r="0.65"/><circle cx="75.0" cy="256.5" r="0.65"/><circle cx="72.4" cy="250.5" r="0.65"/><circle cx="76.8" cy="248.4" r="0.65"/><circle cx="72.7" cy="255.9" r="0.65"/><circle cx="66.7" cy="253.1" r="0.65"/><circle cx="71.7" cy="255.6" r="0.65"/><circle cx="68.4" cy="254.6" r="0.65"/><circle cx="70.1" cy="252.3" r="0.65"/><circle cx="68.8" cy="256.8" r="0.65"/><circle cx="74.4" cy="248.1" r="0.65"/><circle cx="69.5" cy="250.6" r="0.65"/><circle cx="71.5" cy="251.2" r="0.65"/><circle cx="71.6" cy="255.0" r="0.65"/><circle cx="72.0" cy="250.1" r="0.65"/><circle cx="66.6" cy="248.6" r="0.65"/><circle cx="77.5" cy="246.9" r="0.65"/><circle cx="77.2" cy="249.9" r="0.65"/><circle cx="68.6" cy="255.1" r="0.65"/><circle cx="66.9" cy="253.5" r="0.65"/><circle cx="69.7" cy="251.5" r="0.65"/><circle cx="62.4" cy="248.4" r="0.65"/><circle cx="78.2" cy="251.7" r="0.65"/><circle cx="72.3" cy="251.5" r="0.65"/><circle cx="70.9" cy="253.6" r="0.65"/><circle cx="69.4" cy="255.5" r="0.65"/><circle cx="70.5" cy="253.2" r="0.65"/><circle cx="71.0" cy="255.3" r="0.65"/><circle cx="70.0" cy="253.1" r="0.65"/><circle cx="72.1" cy="255.7" r="0.65"/><circle cx="71.4" cy="250.3" r="0.65"/><circle cx="72.0" cy="253.8" r="0.65"/><circle cx="68.0" cy="254.2" r="0.65"/><circle cx="72.5" cy="248.6" r="0.65"/><circle cx="69.3" cy="255.1" r="0.65"/><circle cx="71.2" cy="252.4" r="0.65"/><circle cx="66.5" cy="255.9" r="0.65"/><circle cx="69.5" cy="251.5" r="0.65"/><circle cx="65.5" cy="256.8" r="0.65"/><circle cx="71.7" cy="256.2" r="0.65"/><circle cx="70.3" cy="252.2" r="0.65"/><circle cx="69.4" cy="256.1" r="0.65"/><circle cx="69.6" cy="254.2" r="0.65"/><circle cx="71.1" cy="255.3" r="0.65"/><circle cx="73.9" cy="257.0" r="0.65"/><circle cx="69.2" cy="253.3" r="0.65"/><circle cx="73.4" cy="254.2" r="0.65"/><circle cx="71.9" cy="254.4" r="0.65"/><circle cx="72.6" cy="248.1" r="0.65"/><circle cx="68.4" cy="252.3" r="0.65"/><circle cx="66.4" cy="251.3" r="0.65"/><circle cx="74.3" cy="252.3" r="0.65"/><circle cx="65.7" cy="252.9" r="0.65"/><circle cx="74.1" cy="249.5" r="0.65"/><circle cx="72.8" cy="257.6" r="0.65"/><circle cx="67.4" cy="249.9" r="0.65"/><circle cx="65.4" cy="251.1" r="0.65"/><circle cx="76.8" cy="249.9" r="0.65"/><circle cx="74.0" cy="253.4" r="0.65"/><circle cx="65.4" cy="254.4" r="0.65"/><circle cx="69.1" cy="253.5" r="0.65"/><circle cx="72.4" cy="253.1" r="0.65"/><circle cx="70.6" cy="252.0" r="0.65"/><circle cx="69.8" cy="248.3" r="0.65"/><circle cx="71.5" cy="252.7" r="0.65"/><circle cx="69.1" cy="255.1" r="0.65"/><circle cx="74.8" cy="251.9" r="0.65"/><circle cx="65.9" cy="255.5" r="0.65"/><circle cx="69.4" cy="254.5" r="0.65"/><circle cx="73.8" cy="255.6" r="0.65"/><circle cx="71.7" cy="252.5" r="0.65"/><circle cx="65.5" cy="253.9" r="0.65"/><circle cx="69.5" cy="252.0" r="0.65"/><circle cx="68.2" cy="252.7" r="0.65"/><circle cx="63.7" cy="257.3" r="0.65"/><circle cx="72.7" cy="249.9" r="0.65"/><circle cx="69.8" cy="254.9" r="0.65"/><circle cx="73.8" cy="258.1" r="0.65"/><circle cx="66.9" cy="252.0" r="0.65"/><circle cx="72.2" cy="255.6" r="0.65"/><circle cx="62.9" cy="250.6" r="0.65"/><circle cx="70.4" cy="255.5" r="0.65"/><circle cx="70.1" cy="250.8" r="0.65"/><circle cx="60.3" cy="252.1" r="0.65"/><circle cx="72.6" cy="258.3" r="0.65"/><circle cx="72.7" cy="257.5" r="0.65"/><circle cx="74.0" cy="251.4" r="0.65"/><circle cx="78.1" cy="253.3" r="0.65"/><circle cx="69.9" cy="250.4" r="0.65"/><circle cx="67.5" cy="255.6" r="0.65"/><circle cx="68.5" cy="253.7" r="0.65"/><circle cx="65.9" cy="252.7" r="0.65"/><circle cx="71.8" cy="252.7" r="0.65"/><circle cx="76.1" cy="252.9" r="0.65"/><circle cx="74.6" cy="253.8" r="0.65"/><circle cx="72.6" cy="257.9" r="0.65"/><circle cx="70.6" cy="253.6" r="0.65"/><circle cx="68.0" cy="255.2" r="0.65"/><circle cx="68.6" cy="255.4" r="0.65"/><circle cx="61.8" cy="256.4" r="0.65"/><circle cx="67.8" cy="255.0" r="0.65"/><circle cx="66.0" cy="254.3" r="0.65"/><circle cx="72.7" cy="253.4" r="0.65"/><circle cx="68.0" cy="249.9" r="0.65"/><circle cx="73.4" cy="250.1" r="0.65"/><circle cx="74.1" cy="253.3" r="0.65"/><circle cx="69.4" cy="250.3" r="0.65"/><circle cx="67.8" cy="253.9" r="0.65"/><circle cx="71.2" cy="252.0" r="0.65"/><circle cx="68.8" cy="250.8" r="0.65"/><circle cx="69.2" cy="251.4" r="0.65"/><circle cx="73.8" cy="250.7" r="0.65"/><circle cx="72.5" cy="255.8" r="0.65"/><circle cx="65.0" cy="255.8" r="0.65"/><circle cx="71.6" cy="248.9" r="0.65"/><circle cx="65.4" cy="253.3" r="0.65"/><circle cx="66.7" cy="255.8" r="0.65"/><circle cx="68.8" cy="251.6" r="0.65"/><circle cx="70.6" cy="249.9" r="0.65"/><circle cx="66.2" cy="251.5" r="0.65"/><circle cx="73.3" cy="252.4" r="0.65"/><circle cx="71.6" cy="254.4" r="0.65"/><circle cx="65.9" cy="255.1" r="0.65"/><circle cx="67.5" cy="245.9" r="0.65"/><circle cx="68.1" cy="249.1" r="0.65"/><circle cx="70.6" cy="252.3" r="0.65"/><circle cx="72.6" cy="254.8" r="0.65"/><circle cx="73.2" cy="251.6" r="0.65"/><circle cx="64.3" cy="252.7" r="0.65"/><circle cx="71.9" cy="251.6" r="0.65"/><circle cx="75.7" cy="253.3" r="0.65"/><circle cx="71.7" cy="250.9" r="0.65"/><circle cx="66.5" cy="250.6" r="0.65"/><circle cx="64.5" cy="257.7" r="0.65"/><circle cx="71.8" cy="255.8" r="0.65"/><circle cx="69.4" cy="257.7" r="0.65"/><circle cx="70.1" cy="256.2" r="0.65"/><circle cx="71.1" cy="257.1" r="0.65"/><circle cx="71.5" cy="253.6" r="0.65"/><circle cx="70.1" cy="253.4" r="0.65"/><circle cx="70.3" cy="256.7" r="0.65"/><circle cx="60.4" cy="254.9" r="0.65"/><circle cx="66.4" cy="255.1" r="0.65"/><circle cx="71.4" cy="258.3" r="0.65"/><circle cx="67.1" cy="255.4" r="0.65"/><circle cx="66.0" cy="253.1" r="0.65"/><circle cx="69.3" cy="255.5" r="0.65"/></g>
<line x1="79.29" y1="197.20" x2="79.29" y2="266.60" stroke="#ff4a4a" stroke-width="0.8" />
<line x1="53.60" y1="243.70" x2="123.50" y2="243.70" stroke="#ff4a4a" stroke-width="0.8" />
<circle cx="79.29" cy="212.50" r="1.6" fill="#ff0000"/>
<circle cx="108.70" cy="243.70" r="1.6" fill="#ff0000"/>
<circle cx="79.29" cy="243.70" r="1.7" fill="#fff" stroke="#ff2020" stroke-width="0.8"/>
<rect x="53.60" y="197.20" width="69.90" height="69.40" fill="none" stroke="#8a8a8a" stroke-width="0.9" />
<line x1="53.60" y1="197.20" x2="53.60" y2="266.60" stroke="#555" stroke-width="1" />
<line x1="53.60" y1="266.60" x2="123.50" y2="266.60" stroke="#555" stroke-width="1" />
<line x1="53.60" y1="266.60" x2="53.60" y2="267.90" stroke="#444" stroke-width="0.6" />
<text x="53.60" y="275.00" font-size="7.6" text-anchor="middle" fill="#222" >0</text>
<line x1="52.30" y1="266.60" x2="53.60" y2="266.60" stroke="#444" stroke-width="0.6" />
<text x="49.20" y="269.10" font-size="7.6" text-anchor="middle" fill="#222" >0</text>
<line x1="71.08" y1="266.60" x2="71.08" y2="267.90" stroke="#444" stroke-width="0.6" />
<text x="71.08" y="275.00" font-size="7.6" text-anchor="middle" fill="#222" >1</text>
<line x1="52.30" y1="249.25" x2="53.60" y2="249.25" stroke="#444" stroke-width="0.6" />
<text x="49.20" y="251.75" font-size="7.6" text-anchor="middle" fill="#222" >1</text>
<line x1="88.55" y1="266.60" x2="88.55" y2="267.90" stroke="#444" stroke-width="0.6" />
<text x="88.55" y="275.00" font-size="7.6" text-anchor="middle" fill="#222" >2</text>
<line x1="52.30" y1="231.90" x2="53.60" y2="231.90" stroke="#444" stroke-width="0.6" />
<text x="49.20" y="234.40" font-size="7.6" text-anchor="middle" fill="#222" >2</text>
<line x1="106.03" y1="266.60" x2="106.03" y2="267.90" stroke="#444" stroke-width="0.6" />
<text x="106.03" y="275.00" font-size="7.6" text-anchor="middle" fill="#222" >3</text>
<line x1="52.30" y1="214.55" x2="53.60" y2="214.55" stroke="#444" stroke-width="0.6" />
<text x="49.20" y="217.05" font-size="7.6" text-anchor="middle" fill="#222" >3</text>
<line x1="123.50" y1="266.60" x2="123.50" y2="267.90" stroke="#444" stroke-width="0.6" />
<text x="123.50" y="275.00" font-size="7.6" text-anchor="middle" fill="#222" >4</text>
<line x1="52.30" y1="197.20" x2="53.60" y2="197.20" stroke="#444" stroke-width="0.6" />
<text x="49.20" y="199.70" font-size="7.6" text-anchor="middle" fill="#222" >4</text>
<line x1="52.90" y1="266.60" x2="53.60" y2="266.60" stroke="#666" stroke-width="0.4" />
<line x1="53.60" y1="266.60" x2="53.60" y2="267.30" stroke="#666" stroke-width="0.4" />
<line x1="52.90" y1="262.26" x2="53.60" y2="262.26" stroke="#666" stroke-width="0.4" />
<line x1="57.97" y1="266.60" x2="57.97" y2="267.30" stroke="#666" stroke-width="0.4" />
<line x1="52.90" y1="257.93" x2="53.60" y2="257.93" stroke="#666" stroke-width="0.4" />
<line x1="62.34" y1="266.60" x2="62.34" y2="267.30" stroke="#666" stroke-width="0.4" />
<line x1="52.90" y1="253.59" x2="53.60" y2="253.59" stroke="#666" stroke-width="0.4" />
<line x1="66.71" y1="266.60" x2="66.71" y2="267.30" stroke="#666" stroke-width="0.4" />
<line x1="52.90" y1="249.25" x2="53.60" y2="249.25" stroke="#666" stroke-width="0.4" />
<line x1="71.08" y1="266.60" x2="71.08" y2="267.30" stroke="#666" stroke-width="0.4" />
<line x1="52.90" y1="244.91" x2="53.60" y2="244.91" stroke="#666" stroke-width="0.4" />
<line x1="75.44" y1="266.60" x2="75.44" y2="267.30" stroke="#666" stroke-width="0.4" />
<line x1="52.90" y1="240.58" x2="53.60" y2="240.58" stroke="#666" stroke-width="0.4" />
<line x1="79.81" y1="266.60" x2="79.81" y2="267.30" stroke="#666" stroke-width="0.4" />
<line x1="52.90" y1="236.24" x2="53.60" y2="236.24" stroke="#666" stroke-width="0.4" />
<line x1="84.18" y1="266.60" x2="84.18" y2="267.30" stroke="#666" stroke-width="0.4" />
<line x1="52.90" y1="231.90" x2="53.60" y2="231.90" stroke="#666" stroke-width="0.4" />
<line x1="88.55" y1="266.60" x2="88.55" y2="267.30" stroke="#666" stroke-width="0.4" />
<line x1="52.90" y1="227.56" x2="53.60" y2="227.56" stroke="#666" stroke-width="0.4" />
<line x1="92.92" y1="266.60" x2="92.92" y2="267.30" stroke="#666" stroke-width="0.4" />
<line x1="52.90" y1="223.22" x2="53.60" y2="223.22" stroke="#666" stroke-width="0.4" />
<line x1="97.29" y1="266.60" x2="97.29" y2="267.30" stroke="#666" stroke-width="0.4" />
<line x1="52.90" y1="218.89" x2="53.60" y2="218.89" stroke="#666" stroke-width="0.4" />
<line x1="101.66" y1="266.60" x2="101.66" y2="267.30" stroke="#666" stroke-width="0.4" />
<line x1="52.90" y1="214.55" x2="53.60" y2="214.55" stroke="#666" stroke-width="0.4" />
<line x1="106.03" y1="266.60" x2="106.03" y2="267.30" stroke="#666" stroke-width="0.4" />
<line x1="52.90" y1="210.21" x2="53.60" y2="210.21" stroke="#666" stroke-width="0.4" />
<line x1="110.39" y1="266.60" x2="110.39" y2="267.30" stroke="#666" stroke-width="0.4" />
<line x1="52.90" y1="205.88" x2="53.60" y2="205.88" stroke="#666" stroke-width="0.4" />
<line x1="114.76" y1="266.60" x2="114.76" y2="267.30" stroke="#666" stroke-width="0.4" />
<line x1="52.90" y1="201.54" x2="53.60" y2="201.54" stroke="#666" stroke-width="0.4" />
<line x1="119.13" y1="266.60" x2="119.13" y2="267.30" stroke="#666" stroke-width="0.4" />
<text x="55.60" y="203.00" font-size="6.7" text-anchor="start" fill="#222" >Dead</text>
<text x="55.60" y="209.80" font-size="6.7" text-anchor="start" fill="#222"  textLength="16.70" lengthAdjust="spacingAndGlyphs">2.09 %</text>
<text x="122.50" y="203.00" font-size="6.7" text-anchor="end" fill="#222"  textLength="45.00" lengthAdjust="spacingAndGlyphs">Late Apop./Dead</text>
<text x="122.50" y="209.80" font-size="6.7" text-anchor="end" fill="#222"  textLength="16.70" lengthAdjust="spacingAndGlyphs">5.69 %</text>
<text x="55.60" y="256.60" font-size="6.7" text-anchor="start" fill="#222"  textLength="19.65" lengthAdjust="spacingAndGlyphs">87.47 %</text>
<text x="55.60" y="263.30" font-size="6.7" text-anchor="start" fill="#222" >Live</text>
<text x="122.50" y="256.60" font-size="6.7" text-anchor="end" fill="#222"  textLength="16.70" lengthAdjust="spacingAndGlyphs">4.75 %</text>
<text x="122.50" y="263.30" font-size="6.7" text-anchor="end" fill="#222"  textLength="31.30" lengthAdjust="spacingAndGlyphs">Early Apop.</text>
<rect x="144.40" y="243.70" width="25.69" height="22.90" fill="#e0efda" stroke="none" stroke-width="1" />
<g fill="#ff3a3a" fill-opacity="0.28"><circle cx="148.5" cy="259.6" r="0.50"/><circle cx="164.0" cy="250.0" r="0.50"/><circle cx="146.3" cy="252.8" r="0.50"/><circle cx="157.1" cy="255.2" r="0.50"/><circle cx="154.0" cy="256.1" r="0.50"/><circle cx="150.1" cy="264.5" r="0.50"/><circle cx="153.2" cy="247.7" r="0.50"/><circle cx="163.6" cy="254.4" r="0.50"/><circle cx="148.7" cy="256.4" r="0.50"/><circle cx="160.0" cy="251.6" r="0.50"/><circle cx="149.9" cy="253.2" r="0.50"/><circle cx="152.4" cy="251.9" r="0.50"/><circle cx="151.1" cy="262.7" r="0.50"/><circle cx="154.2" cy="250.4" r="0.50"/><circle cx="146.3" cy="256.2" r="0.50"/><circle cx="159.8" cy="255.5" r="0.50"/><circle cx="149.4" cy="244.4" r="0.50"/><circle cx="159.5" cy="248.1" r="0.50"/><circle cx="147.4" cy="246.8" r="0.50"/><circle cx="158.9" cy="246.6" r="0.50"/><circle cx="147.5" cy="259.0" r="0.50"/><circle cx="155.2" cy="264.5" r="0.50"/><circle cx="158.2" cy="250.8" r="0.50"/><circle cx="150.8" cy="252.1" r="0.50"/><circle cx="159.1" cy="252.0" r="0.50"/><circle cx="157.4" cy="245.9" r="0.50"/><circle cx="150.6" cy="254.1" r="0.50"/><circle cx="150.3" cy="249.6" r="0.50"/><circle cx="151.1" cy="252.4" r="0.50"/><circle cx="154.8" cy="254.0" r="0.50"/><circle cx="165.5" cy="253.1" r="0.50"/><circle cx="163.4" cy="248.6" r="0.50"/><circle cx="162.8" cy="253.9" r="0.50"/><circle cx="160.1" cy="249.5" r="0.50"/><circle cx="149.7" cy="253.7" r="0.50"/><circle cx="153.0" cy="254.8" r="0.50"/><circle cx="162.6" cy="256.8" r="0.50"/><circle cx="150.8" cy="258.3" r="0.50"/><circle cx="153.9" cy="251.5" r="0.50"/><circle cx="165.7" cy="250.9" r="0.50"/><circle cx="157.0" cy="257.8" r="0.50"/><circle cx="157.8" cy="246.7" r="0.50"/><circle cx="162.9" cy="263.3" r="0.50"/><circle cx="159.8" cy="245.2" r="0.50"/><circle cx="159.4" cy="261.4" r="0.50"/><circle cx="151.8" cy="251.7" r="0.50"/><circle cx="156.6" cy="258.3" r="0.50"/><circle cx="147.8" cy="250.3" r="0.50"/><circle cx="154.0" cy="252.9" r="0.50"/><circle cx="158.5" cy="261.4" r="0.50"/><circle cx="167.8" cy="259.6" r="0.50"/><circle cx="145.6" cy="255.5" r="0.50"/><circle cx="157.1" cy="250.1" r="0.50"/><circle cx="151.3" cy="255.9" r="0.50"/><circle cx="152.2" cy="257.7" r="0.50"/><circle cx="155.5" cy="253.4" r="0.50"/><circle cx="149.6" cy="253.8" r="0.50"/><circle cx="153.7" cy="254.9" r="0.50"/><circle cx="161.3" cy="262.3" r="0.50"/><circle cx="155.5" cy="259.8" r="0.50"/><circle cx="151.7" cy="247.0" r="0.50"/><circle cx="146.6" cy="256.1" r="0.50"/><circle cx="149.9" cy="250.1" r="0.50"/><circle cx="147.3" cy="264.3" r="0.50"/><circle cx="157.3" cy="255.8" r="0.50"/><circle cx="151.7" cy="249.2" r="0.50"/><circle cx="147.9" cy="257.4" r="0.50"/><circle cx="154.8" cy="252.1" r="0.50"/><circle cx="150.4" cy="249.6" r="0.50"/><circle cx="168.9" cy="254.2" r="0.50"/><circle cx="166.4" cy="263.5" r="0.50"/><circle cx="163.3" cy="254.8" r="0.50"/><circle cx="154.8" cy="256.1" r="0.50"/><circle cx="149.6" cy="261.8" r="0.50"/><circle cx="151.2" cy="248.1" r="0.50"/><circle cx="161.5" cy="255.1" r="0.50"/><circle cx="150.3" cy="258.7" r="0.50"/><circle cx="145.8" cy="246.3" r="0.50"/><circle cx="158.3" cy="253.1" r="0.50"/><circle cx="150.5" cy="260.3" r="0.50"/><circle cx="162.7" cy="249.0" r="0.50"/><circle cx="147.4" cy="250.3" r="0.50"/><circle cx="146.4" cy="252.3" r="0.50"/><circle cx="147.4" cy="257.6" r="0.50"/><circle cx="157.2" cy="251.7" r="0.50"/><circle cx="160.6" cy="257.7" r="0.50"/><circle cx="164.4" cy="245.8" r="0.50"/><circle cx="153.8" cy="252.0" r="0.50"/><circle cx="148.6" cy="256.1" r="0.50"/><circle cx="145.0" cy="255.4" r="0.50"/><circle cx="155.2" cy="247.2" r="0.50"/><circle cx="160.2" cy="249.2" r="0.50"/><circle cx="151.4" cy="256.0" r="0.50"/><circle cx="151.5" cy="253.7" r="0.50"/><circle cx="154.0" cy="257.1" r="0.50"/><circle cx="165.0" cy="253.2" r="0.50"/><circle cx="164.4" cy="246.6" r="0.50"/><circle cx="150.5" cy="252.9" r="0.50"/><circle cx="162.5" cy="254.8" r="0.50"/><circle cx="154.4" cy="257.3" r="0.50"/><circle cx="154.2" cy="256.2" r="0.50"/><circle cx="154.4" cy="249.1" r="0.50"/><circle cx="163.2" cy="252.3" r="0.50"/><circle cx="155.2" cy="249.8" r="0.50"/><circle cx="151.9" cy="260.3" r="0.50"/><circle cx="161.3" cy="258.2" r="0.50"/><circle cx="160.1" cy="258.5" r="0.50"/><circle cx="166.1" cy="258.0" r="0.50"/><circle cx="159.5" cy="245.7" r="0.50"/><circle cx="147.4" cy="247.7" r="0.50"/><circle cx="148.3" cy="264.5" r="0.50"/><circle cx="158.7" cy="250.0" r="0.50"/><circle cx="153.5" cy="256.1" r="0.50"/><circle cx="151.3" cy="256.4" r="0.50"/><circle cx="165.9" cy="244.5" r="0.50"/><circle cx="151.4" cy="258.6" r="0.50"/><circle cx="156.5" cy="248.5" r="0.50"/><circle cx="158.7" cy="259.8" r="0.50"/><circle cx="154.9" cy="253.5" r="0.50"/><circle cx="163.5" cy="246.7" r="0.50"/><circle cx="157.4" cy="247.5" r="0.50"/><circle cx="151.2" cy="246.8" r="0.50"/><circle cx="151.0" cy="252.8" r="0.50"/><circle cx="160.0" cy="258.2" r="0.50"/><circle cx="149.1" cy="264.4" r="0.50"/><circle cx="154.9" cy="254.6" r="0.50"/><circle cx="151.6" cy="252.2" r="0.50"/><circle cx="154.4" cy="255.8" r="0.50"/><circle cx="159.2" cy="244.5" r="0.50"/><circle cx="150.8" cy="259.8" r="0.50"/><circle cx="149.8" cy="254.6" r="0.50"/><circle cx="157.8" cy="258.3" r="0.50"/><circle cx="160.5" cy="258.7" r="0.50"/><circle cx="159.4" cy="251.3" r="0.50"/><circle cx="156.9" cy="242.7" r="0.50"/><circle cx="152.1" cy="255.6" r="0.50"/><circle cx="157.0" cy="249.4" r="0.50"/><circle cx="148.9" cy="252.0" r="0.50"/><circle cx="163.0" cy="252.7" r="0.50"/><circle cx="153.1" cy="253.6" r="0.50"/><circle cx="157.6" cy="253.0" r="0.50"/><circle cx="151.2" cy="258.7" r="0.50"/><circle cx="152.6" cy="248.3" r="0.50"/><circle cx="153.1" cy="247.5" r="0.50"/><circle cx="155.7" cy="254.2" r="0.50"/><circle cx="162.2" cy="259.9" r="0.50"/><circle cx="147.2" cy="261.2" r="0.50"/><circle cx="150.1" cy="251.7" r="0.50"/><circle cx="157.8" cy="264.4" r="0.50"/><circle cx="163.6" cy="256.0" r="0.50"/><circle cx="149.9" cy="246.4" r="0.50"/><circle cx="153.3" cy="261.0" r="0.50"/><circle cx="149.5" cy="258.9" r="0.50"/><circle cx="147.1" cy="257.3" r="0.50"/><circle cx="159.7" cy="251.7" r="0.50"/><circle cx="147.2" cy="254.9" r="0.50"/><circle cx="154.0" cy="250.4" r="0.50"/><circle cx="151.6" cy="252.4" r="0.50"/><circle cx="168.0" cy="251.7" r="0.50"/><circle cx="146.6" cy="253.9" r="0.50"/><circle cx="148.4" cy="257.2" r="0.50"/><circle cx="155.1" cy="252.5" r="0.50"/><circle cx="151.9" cy="250.3" r="0.50"/><circle cx="152.5" cy="261.5" r="0.50"/><circle cx="159.7" cy="255.4" r="0.50"/><circle cx="162.0" cy="256.6" r="0.50"/><circle cx="157.7" cy="252.2" r="0.50"/><circle cx="146.3" cy="248.3" r="0.50"/><circle cx="161.2" cy="250.7" r="0.50"/><circle cx="158.4" cy="256.3" r="0.50"/><circle cx="153.8" cy="253.3" r="0.50"/><circle cx="156.7" cy="250.3" r="0.50"/><circle cx="152.4" cy="258.3" r="0.50"/><circle cx="150.1" cy="252.9" r="0.50"/><circle cx="151.1" cy="257.8" r="0.50"/><circle cx="151.5" cy="256.1" r="0.50"/><circle cx="159.0" cy="264.0" r="0.50"/><circle cx="151.8" cy="252.3" r="0.50"/><circle cx="157.1" cy="247.7" r="0.50"/><circle cx="160.9" cy="258.8" r="0.50"/><circle cx="158.1" cy="255.5" r="0.50"/><circle cx="148.4" cy="247.3" r="0.50"/><circle cx="149.6" cy="259.6" r="0.50"/><circle cx="151.1" cy="259.3" r="0.50"/><circle cx="160.6" cy="251.4" r="0.50"/><circle cx="163.2" cy="250.8" r="0.50"/><circle cx="149.7" cy="249.6" r="0.50"/><circle cx="149.4" cy="257.6" r="0.50"/><circle cx="152.7" cy="254.4" r="0.50"/><circle cx="161.9" cy="256.4" r="0.50"/><circle cx="156.2" cy="254.2" r="0.50"/><circle cx="145.4" cy="261.5" r="0.50"/><circle cx="152.4" cy="252.6" r="0.50"/><circle cx="156.0" cy="251.6" r="0.50"/><circle cx="154.2" cy="256.8" r="0.50"/><circle cx="156.7" cy="259.3" r="0.50"/><circle cx="148.8" cy="258.2" r="0.50"/><circle cx="153.5" cy="258.7" r="0.50"/><circle cx="151.0" cy="263.9" r="0.50"/><circle cx="154.8" cy="258.9" r="0.50"/><circle cx="148.4" cy="254.0" r="0.50"/><circle cx="154.5" cy="253.8" r="0.50"/><circle cx="154.8" cy="259.4" r="0.50"/><circle cx="158.9" cy="253.9" r="0.50"/><circle cx="154.0" cy="256.8" r="0.50"/><circle cx="157.5" cy="253.4" r="0.50"/><circle cx="161.5" cy="250.9" r="0.50"/><circle cx="149.7" cy="256.3" r="0.50"/><circle cx="160.0" cy="255.4" r="0.50"/><circle cx="156.4" cy="251.3" r="0.50"/><circle cx="154.7" cy="253.2" r="0.50"/><circle cx="154.8" cy="258.3" r="0.50"/><circle cx="162.0" cy="253.9" r="0.50"/><circle cx="149.6" cy="258.9" r="0.50"/><circle cx="156.3" cy="259.8" r="0.50"/><circle cx="147.1" cy="245.0" r="0.50"/><circle cx="162.7" cy="247.5" r="0.50"/><circle cx="163.1" cy="249.9" r="0.50"/><circle cx="162.2" cy="250.5" r="0.50"/><circle cx="163.1" cy="255.6" r="0.50"/><circle cx="154.7" cy="250.2" r="0.50"/><circle cx="153.3" cy="248.8" r="0.50"/><circle cx="154.4" cy="250.7" r="0.50"/><circle cx="154.4" cy="262.2" r="0.50"/><circle cx="147.1" cy="238.8" r="0.50"/><circle cx="155.7" cy="247.2" r="0.50"/><circle cx="161.5" cy="244.2" r="0.50"/><circle cx="157.6" cy="257.0" r="0.50"/><circle cx="154.0" cy="264.6" r="0.50"/><circle cx="152.6" cy="249.9" r="0.50"/><circle cx="159.4" cy="246.6" r="0.50"/><circle cx="147.6" cy="258.9" r="0.50"/><circle cx="157.5" cy="243.0" r="0.50"/><circle cx="146.1" cy="248.4" r="0.50"/><circle cx="156.7" cy="256.6" r="0.50"/><circle cx="168.7" cy="265.4" r="0.50"/><circle cx="153.4" cy="253.4" r="0.50"/><circle cx="168.3" cy="242.7" r="0.50"/><circle cx="169.2" cy="251.3" r="0.50"/><circle cx="160.5" cy="246.2" r="0.50"/><circle cx="157.3" cy="252.0" r="0.50"/><circle cx="152.6" cy="256.8" r="0.50"/><circle cx="145.5" cy="245.5" r="0.50"/><circle cx="150.8" cy="265.9" r="0.50"/><circle cx="155.6" cy="254.3" r="0.50"/><circle cx="155.0" cy="244.7" r="0.50"/><circle cx="153.1" cy="256.0" r="0.50"/><circle cx="148.8" cy="255.4" r="0.50"/><circle cx="150.9" cy="253.8" r="0.50"/><circle cx="175.1" cy="249.0" r="0.50"/><circle cx="148.0" cy="245.2" r="0.50"/><circle cx="159.7" cy="249.2" r="0.50"/><circle cx="158.7" cy="249.3" r="0.50"/><circle cx="158.4" cy="246.3" r="0.50"/><circle cx="160.7" cy="246.2" r="0.50"/><circle cx="150.4" cy="255.0" r="0.50"/><circle cx="148.9" cy="250.2" r="0.50"/><circle cx="159.5" cy="256.0" r="0.50"/><circle cx="157.8" cy="239.9" r="0.50"/></g>
<g fill="#ff2020" fill-opacity="0.55"><circle cx="168.3" cy="254.8" r="0.45"/><circle cx="179.3" cy="249.8" r="0.45"/><circle cx="170.8" cy="249.8" r="0.45"/><circle cx="177.8" cy="244.6" r="0.45"/><circle cx="179.6" cy="247.0" r="0.45"/><circle cx="171.0" cy="250.4" r="0.45"/><circle cx="175.9" cy="245.8" r="0.45"/><circle cx="168.1" cy="249.6" r="0.45"/><circle cx="168.4" cy="254.0" r="0.45"/><circle cx="166.7" cy="251.4" r="0.45"/><circle cx="172.2" cy="247.3" r="0.45"/><circle cx="181.3" cy="245.1" r="0.45"/><circle cx="161.2" cy="255.1" r="0.45"/><circle cx="166.9" cy="252.9" r="0.45"/><circle cx="166.2" cy="254.5" r="0.45"/><circle cx="179.0" cy="244.8" r="0.45"/><circle cx="175.9" cy="245.7" r="0.45"/><circle cx="163.6" cy="254.1" r="0.45"/><circle cx="172.3" cy="250.1" r="0.45"/><circle cx="178.6" cy="244.6" r="0.45"/><circle cx="163.5" cy="251.9" r="0.45"/><circle cx="173.4" cy="251.6" r="0.45"/><circle cx="171.7" cy="253.3" r="0.45"/><circle cx="177.6" cy="247.4" r="0.45"/><circle cx="170.9" cy="251.4" r="0.45"/><circle cx="172.8" cy="250.1" r="0.45"/><circle cx="168.3" cy="254.0" r="0.45"/><circle cx="165.6" cy="246.4" r="0.45"/><circle cx="162.6" cy="256.4" r="0.45"/><circle cx="167.7" cy="248.8" r="0.45"/><circle cx="180.6" cy="249.4" r="0.45"/><circle cx="159.8" cy="253.1" r="0.45"/><circle cx="184.2" cy="246.2" r="0.45"/><circle cx="171.7" cy="249.8" r="0.45"/><circle cx="167.3" cy="254.2" r="0.45"/><circle cx="165.0" cy="254.0" r="0.45"/><circle cx="165.3" cy="247.4" r="0.45"/><circle cx="175.3" cy="251.6" r="0.45"/><circle cx="170.8" cy="252.2" r="0.45"/><circle cx="175.0" cy="247.3" r="0.45"/><circle cx="174.0" cy="252.7" r="0.45"/><circle cx="168.2" cy="250.0" r="0.45"/><circle cx="182.9" cy="243.6" r="0.45"/><circle cx="162.3" cy="252.6" r="0.45"/><circle cx="160.5" cy="248.8" r="0.45"/><circle cx="184.2" cy="243.8" r="0.45"/><circle cx="183.5" cy="244.0" r="0.45"/><circle cx="170.0" cy="250.0" r="0.45"/><circle cx="162.7" cy="248.1" r="0.45"/><circle cx="166.0" cy="248.4" r="0.45"/><circle cx="170.6" cy="253.2" r="0.45"/><circle cx="177.2" cy="246.4" r="0.45"/><circle cx="174.1" cy="247.2" r="0.45"/><circle cx="174.7" cy="250.2" r="0.45"/><circle cx="169.3" cy="252.8" r="0.45"/><circle cx="163.7" cy="253.4" r="0.45"/><circle cx="182.0" cy="246.6" r="0.45"/><circle cx="168.3" cy="246.1" r="0.45"/><circle cx="164.5" cy="251.7" r="0.45"/><circle cx="171.4" cy="252.8" r="0.45"/><circle cx="168.3" cy="252.1" r="0.45"/><circle cx="161.5" cy="256.1" r="0.45"/><circle cx="172.1" cy="252.2" r="0.45"/><circle cx="171.2" cy="252.5" r="0.45"/><circle cx="162.7" cy="249.6" r="0.45"/><circle cx="168.3" cy="248.1" r="0.45"/><circle cx="167.3" cy="250.4" r="0.45"/><circle cx="183.0" cy="244.8" r="0.45"/><circle cx="158.4" cy="252.6" r="0.45"/><circle cx="178.4" cy="248.9" r="0.45"/><circle cx="165.9" cy="252.0" r="0.45"/><circle cx="180.9" cy="250.3" r="0.45"/><circle cx="160.3" cy="256.2" r="0.45"/><circle cx="174.3" cy="252.8" r="0.45"/><circle cx="178.3" cy="250.4" r="0.45"/><circle cx="183.4" cy="244.1" r="0.45"/><circle cx="174.1" cy="249.3" r="0.45"/><circle cx="157.2" cy="256.0" r="0.45"/><circle cx="165.1" cy="251.1" r="0.45"/><circle cx="158.3" cy="258.4" r="0.45"/><circle cx="176.1" cy="244.9" r="0.45"/><circle cx="162.1" cy="255.3" r="0.45"/><circle cx="159.2" cy="254.9" r="0.45"/><circle cx="167.2" cy="251.6" r="0.45"/><circle cx="171.8" cy="250.3" r="0.45"/><circle cx="180.6" cy="246.0" r="0.45"/><circle cx="172.4" cy="247.6" r="0.45"/><circle cx="172.7" cy="246.3" r="0.45"/><circle cx="165.7" cy="255.9" r="0.45"/><circle cx="175.2" cy="249.4" r="0.45"/><circle cx="157.8" cy="254.1" r="0.45"/><circle cx="158.1" cy="256.1" r="0.45"/><circle cx="169.9" cy="248.2" r="0.45"/><circle cx="173.1" cy="245.6" r="0.45"/><circle cx="186.5" cy="249.6" r="0.45"/><circle cx="166.8" cy="252.0" r="0.45"/><circle cx="171.3" cy="249.0" r="0.45"/><circle cx="174.3" cy="250.6" r="0.45"/><circle cx="167.1" cy="250.0" r="0.45"/><circle cx="166.2" cy="249.4" r="0.45"/><circle cx="169.0" cy="249.7" r="0.45"/><circle cx="176.3" cy="246.8" r="0.45"/><circle cx="169.7" cy="254.8" r="0.45"/><circle cx="182.1" cy="249.2" r="0.45"/><circle cx="176.0" cy="248.8" r="0.45"/><circle cx="168.1" cy="252.6" r="0.45"/><circle cx="174.8" cy="249.2" r="0.45"/><circle cx="168.3" cy="249.4" r="0.45"/><circle cx="184.1" cy="244.5" r="0.45"/><circle cx="159.5" cy="249.9" r="0.45"/><circle cx="177.5" cy="246.9" r="0.45"/><circle cx="163.9" cy="250.8" r="0.45"/><circle cx="174.7" cy="250.9" r="0.45"/><circle cx="173.8" cy="246.7" r="0.45"/><circle cx="164.3" cy="251.9" r="0.45"/><circle cx="170.7" cy="248.9" r="0.45"/><circle cx="163.5" cy="255.7" r="0.45"/><circle cx="185.5" cy="245.8" r="0.45"/><circle cx="173.1" cy="245.6" r="0.45"/><circle cx="179.9" cy="246.5" r="0.45"/><circle cx="161.4" cy="253.8" r="0.45"/><circle cx="162.3" cy="257.1" r="0.45"/><circle cx="174.1" cy="249.6" r="0.45"/><circle cx="172.9" cy="249.3" r="0.45"/><circle cx="175.5" cy="250.6" r="0.45"/><circle cx="174.3" cy="247.6" r="0.45"/><circle cx="180.8" cy="245.4" r="0.45"/><circle cx="173.6" cy="248.5" r="0.45"/><circle cx="166.0" cy="252.2" r="0.45"/><circle cx="174.9" cy="248.0" r="0.45"/><circle cx="178.8" cy="247.3" r="0.45"/><circle cx="165.8" cy="254.0" r="0.45"/><circle cx="161.7" cy="255.1" r="0.45"/><circle cx="172.7" cy="247.3" r="0.45"/><circle cx="174.4" cy="248.8" r="0.45"/><circle cx="184.5" cy="243.1" r="0.45"/><circle cx="179.6" cy="249.8" r="0.45"/><circle cx="177.8" cy="247.7" r="0.45"/><circle cx="184.1" cy="245.7" r="0.45"/><circle cx="160.9" cy="249.4" r="0.45"/><circle cx="160.9" cy="256.8" r="0.45"/><circle cx="175.5" cy="249.7" r="0.45"/><circle cx="166.4" cy="252.9" r="0.45"/><circle cx="165.2" cy="254.1" r="0.45"/><circle cx="163.4" cy="254.2" r="0.45"/><circle cx="173.8" cy="248.1" r="0.45"/><circle cx="181.3" cy="246.3" r="0.45"/><circle cx="175.7" cy="247.9" r="0.45"/><circle cx="167.7" cy="252.1" r="0.45"/><circle cx="179.1" cy="246.9" r="0.45"/><circle cx="170.6" cy="248.0" r="0.45"/><circle cx="160.2" cy="254.5" r="0.45"/><circle cx="180.3" cy="248.9" r="0.45"/><circle cx="160.7" cy="254.6" r="0.45"/><circle cx="173.4" cy="247.6" r="0.45"/><circle cx="170.6" cy="249.2" r="0.45"/><circle cx="179.2" cy="251.1" r="0.45"/><circle cx="160.0" cy="252.4" r="0.45"/><circle cx="179.3" cy="245.5" r="0.45"/><circle cx="183.9" cy="245.4" r="0.45"/><circle cx="163.8" cy="251.8" r="0.45"/><circle cx="170.0" cy="249.7" r="0.45"/><circle cx="165.0" cy="253.1" r="0.45"/><circle cx="181.5" cy="249.3" r="0.45"/><circle cx="183.9" cy="248.6" r="0.45"/><circle cx="158.4" cy="257.4" r="0.45"/><circle cx="169.4" cy="251.9" r="0.45"/><circle cx="179.2" cy="244.5" r="0.45"/><circle cx="163.5" cy="250.9" r="0.45"/><circle cx="168.0" cy="250.8" r="0.45"/><circle cx="194.4" cy="222.9" r="0.40"/><circle cx="194.8" cy="224.6" r="0.40"/><circle cx="195.4" cy="231.3" r="0.40"/><circle cx="188.1" cy="225.0" r="0.40"/><circle cx="188.1" cy="219.0" r="0.40"/><circle cx="191.2" cy="222.0" r="0.40"/><circle cx="195.5" cy="227.2" r="0.40"/><circle cx="184.5" cy="217.4" r="0.40"/><circle cx="189.5" cy="229.1" r="0.40"/><circle cx="189.6" cy="226.2" r="0.40"/><circle cx="194.5" cy="218.6" r="0.40"/><circle cx="185.7" cy="218.1" r="0.40"/><circle cx="184.4" cy="219.4" r="0.40"/><circle cx="190.6" cy="222.8" r="0.40"/><circle cx="181.9" cy="223.3" r="0.40"/><circle cx="178.1" cy="224.2" r="0.40"/><circle cx="180.0" cy="218.4" r="0.40"/><circle cx="183.9" cy="230.3" r="0.40"/><circle cx="190.6" cy="221.2" r="0.40"/><circle cx="185.9" cy="215.5" r="0.40"/><circle cx="191.5" cy="222.1" r="0.40"/><circle cx="185.3" cy="232.0" r="0.40"/><circle cx="190.2" cy="219.2" r="0.40"/><circle cx="185.5" cy="227.0" r="0.40"/><circle cx="187.9" cy="227.8" r="0.40"/><circle cx="188.1" cy="219.8" r="0.40"/><circle cx="194.7" cy="221.5" r="0.40"/><circle cx="188.9" cy="219.9" r="0.40"/><circle cx="194.2" cy="223.4" r="0.40"/><circle cx="182.7" cy="224.9" r="0.40"/><circle cx="182.6" cy="225.2" r="0.40"/><circle cx="187.6" cy="221.2" r="0.40"/><circle cx="188.8" cy="222.1" r="0.40"/><circle cx="186.5" cy="221.0" r="0.40"/><circle cx="192.0" cy="219.9" r="0.40"/><circle cx="194.6" cy="223.3" r="0.40"/><circle cx="187.0" cy="216.8" r="0.40"/><circle cx="189.0" cy="221.0" r="0.40"/><circle cx="186.6" cy="219.2" r="0.40"/><circle cx="186.3" cy="225.6" r="0.40"/><circle cx="187.8" cy="223.8" r="0.40"/><circle cx="191.7" cy="223.6" r="0.40"/><circle cx="188.6" cy="223.1" r="0.40"/><circle cx="189.6" cy="224.4" r="0.40"/><circle cx="192.9" cy="227.0" r="0.40"/><circle cx="181.3" cy="231.0" r="0.45"/><circle cx="176.8" cy="239.5" r="0.45"/><circle cx="177.9" cy="233.1" r="0.45"/><circle cx="176.2" cy="238.1" r="0.45"/><circle cx="183.2" cy="223.3" r="0.45"/><circle cx="180.2" cy="232.3" r="0.45"/><circle cx="175.0" cy="241.4" r="0.45"/><circle cx="183.0" cy="223.2" r="0.45"/><circle cx="175.5" cy="240.9" r="0.45"/><circle cx="176.2" cy="236.5" r="0.45"/><circle cx="176.7" cy="239.7" r="0.45"/><circle cx="177.8" cy="237.6" r="0.45"/><circle cx="176.1" cy="236.7" r="0.45"/><circle cx="175.5" cy="238.2" r="0.45"/><circle cx="188.0" cy="226.6" r="0.45"/><circle cx="183.9" cy="227.7" r="0.45"/><circle cx="180.5" cy="233.7" r="0.45"/><circle cx="183.1" cy="230.0" r="0.45"/><circle cx="179.7" cy="233.2" r="0.45"/><circle cx="179.0" cy="234.7" r="0.45"/><circle cx="171.3" cy="235.5" r="0.45"/><circle cx="181.5" cy="232.7" r="0.45"/><circle cx="177.5" cy="231.6" r="0.45"/><circle cx="186.5" cy="226.5" r="0.45"/><circle cx="183.5" cy="226.3" r="0.45"/><circle cx="166.1" cy="234.9" r="0.40"/><circle cx="162.3" cy="239.3" r="0.40"/><circle cx="160.9" cy="233.2" r="0.40"/><circle cx="155.0" cy="239.3" r="0.40"/><circle cx="166.2" cy="239.0" r="0.40"/><circle cx="160.7" cy="238.6" r="0.40"/><circle cx="159.7" cy="243.2" r="0.40"/><circle cx="171.1" cy="234.2" r="0.40"/><circle cx="178.1" cy="253.0" r="0.35"/><circle cx="146.9" cy="221.8" r="0.35"/><circle cx="180.3" cy="263.3" r="0.35"/><circle cx="177.4" cy="216.0" r="0.35"/><circle cx="181.8" cy="249.4" r="0.35"/><circle cx="179.3" cy="225.0" r="0.35"/><circle cx="189.4" cy="255.3" r="0.35"/><circle cx="199.5" cy="202.5" r="0.35"/><circle cx="195.3" cy="208.3" r="0.35"/><circle cx="170.6" cy="205.3" r="0.35"/><circle cx="158.2" cy="249.9" r="0.35"/><circle cx="185.9" cy="205.4" r="0.35"/><circle cx="151.6" cy="250.6" r="0.35"/><circle cx="148.5" cy="235.9" r="0.35"/><circle cx="155.5" cy="252.2" r="0.35"/><circle cx="195.9" cy="226.4" r="0.35"/><circle cx="208.5" cy="238.4" r="0.35"/><circle cx="191.2" cy="264.0" r="0.35"/><circle cx="209.1" cy="249.5" r="0.35"/><circle cx="177.8" cy="231.1" r="0.35"/><circle cx="209.1" cy="232.4" r="0.35"/><circle cx="212.0" cy="223.9" r="0.35"/></g>
<g fill="#ff0a0a" fill-opacity="0.5"><circle cx="158.0" cy="256.7" r="0.65"/><circle cx="153.5" cy="252.8" r="0.65"/><circle cx="153.7" cy="253.5" r="0.65"/><circle cx="157.9" cy="252.9" r="0.65"/><circle cx="150.1" cy="253.2" r="0.65"/><circle cx="153.5" cy="254.2" r="0.65"/><circle cx="151.9" cy="258.4" r="0.65"/><circle cx="149.6" cy="256.1" r="0.65"/><circle cx="150.2" cy="262.2" r="0.65"/><circle cx="157.7" cy="256.9" r="0.65"/><circle cx="151.4" cy="253.4" r="0.65"/><circle cx="145.6" cy="252.2" r="0.65"/><circle cx="151.2" cy="253.1" r="0.65"/><circle cx="152.2" cy="253.9" r="0.65"/><circle cx="154.2" cy="254.4" r="0.65"/><circle cx="147.6" cy="259.3" r="0.65"/><circle cx="153.7" cy="250.7" r="0.65"/><circle cx="152.0" cy="253.3" r="0.65"/><circle cx="154.4" cy="253.1" r="0.65"/><circle cx="157.2" cy="257.9" r="0.65"/><circle cx="154.8" cy="254.8" r="0.65"/><circle cx="152.8" cy="256.9" r="0.65"/><circle cx="151.2" cy="257.6" r="0.65"/><circle cx="150.1" cy="248.4" r="0.65"/><circle cx="159.6" cy="253.5" r="0.65"/><circle cx="156.4" cy="256.6" r="0.65"/><circle cx="154.3" cy="250.6" r="0.65"/><circle cx="153.7" cy="257.1" r="0.65"/><circle cx="153.0" cy="257.2" r="0.65"/><circle cx="149.1" cy="255.8" r="0.65"/><circle cx="152.5" cy="256.8" r="0.65"/><circle cx="150.8" cy="257.4" r="0.65"/><circle cx="154.6" cy="250.6" r="0.65"/><circle cx="153.1" cy="248.6" r="0.65"/><circle cx="148.3" cy="254.6" r="0.65"/><circle cx="149.9" cy="255.5" r="0.65"/><circle cx="154.2" cy="252.9" r="0.65"/><circle cx="157.7" cy="255.3" r="0.65"/><circle cx="149.6" cy="255.6" r="0.65"/><circle cx="154.8" cy="256.1" r="0.65"/><circle cx="156.9" cy="249.5" r="0.65"/><circle cx="149.0" cy="254.3" r="0.65"/><circle cx="157.3" cy="259.0" r="0.65"/><circle cx="154.5" cy="254.9" r="0.65"/><circle cx="149.0" cy="251.7" r="0.65"/><circle cx="154.6" cy="255.6" r="0.65"/><circle cx="155.3" cy="252.5" r="0.65"/><circle cx="156.5" cy="252.5" r="0.65"/><circle cx="155.2" cy="257.4" r="0.65"/><circle cx="152.4" cy="254.3" r="0.65"/><circle cx="152.5" cy="257.5" r="0.65"/><circle cx="147.6" cy="254.8" r="0.65"/><circle cx="153.9" cy="256.0" r="0.65"/><circle cx="152.4" cy="257.0" r="0.65"/><circle cx="151.3" cy="255.1" r="0.65"/><circle cx="151.6" cy="253.0" r="0.65"/><circle cx="153.4" cy="254.2" r="0.65"/><circle cx="155.2" cy="250.9" r="0.65"/><circle cx="155.9" cy="253.5" r="0.65"/><circle cx="153.3" cy="256.7" r="0.65"/><circle cx="152.7" cy="252.8" r="0.65"/><circle cx="154.6" cy="255.4" r="0.65"/><circle cx="149.3" cy="259.2" r="0.65"/><circle cx="154.9" cy="251.6" r="0.65"/><circle cx="155.1" cy="257.9" r="0.65"/><circle cx="153.1" cy="254.0" r="0.65"/><circle cx="150.7" cy="254.0" r="0.65"/><circle cx="153.2" cy="256.8" r="0.65"/><circle cx="149.6" cy="253.0" r="0.65"/><circle cx="155.1" cy="256.6" r="0.65"/><circle cx="150.4" cy="252.6" r="0.65"/><circle cx="155.9" cy="254.9" r="0.65"/><circle cx="159.3" cy="254.4" r="0.65"/><circle cx="150.2" cy="252.1" r="0.65"/><circle cx="153.2" cy="253.6" r="0.65"/><circle cx="154.0" cy="257.1" r="0.65"/><circle cx="149.8" cy="255.6" r="0.65"/><circle cx="158.6" cy="256.4" r="0.65"/><circle cx="158.5" cy="253.1" r="0.65"/><circle cx="150.1" cy="254.3" r="0.65"/><circle cx="155.8" cy="256.5" r="0.65"/><circle cx="146.6" cy="254.7" r="0.65"/><circle cx="150.1" cy="253.9" r="0.65"/><circle cx="147.3" cy="255.9" r="0.65"/><circle cx="151.1" cy="258.8" r="0.65"/><circle cx="153.0" cy="254.1" r="0.65"/><circle cx="151.9" cy="257.9" r="0.65"/><circle cx="154.6" cy="259.0" r="0.65"/><circle cx="155.7" cy="252.9" r="0.65"/><circle cx="159.5" cy="251.2" r="0.65"/><circle cx="155.0" cy="253.6" r="0.65"/><circle cx="153.9" cy="257.9" r="0.65"/><circle cx="158.8" cy="252.3" r="0.65"/><circle cx="152.9" cy="257.6" r="0.65"/><circle cx="158.9" cy="252.2" r="0.65"/><circle cx="149.8" cy="253.3" r="0.65"/><circle cx="160.3" cy="253.5" r="0.65"/><circle cx="155.2" cy="255.3" r="0.65"/><circle cx="151.7" cy="252.0" r="0.65"/><circle cx="164.3" cy="252.5" r="0.65"/><circle cx="153.4" cy="252.4" r="0.65"/><circle cx="152.8" cy="252.7" r="0.65"/><circle cx="156.6" cy="256.7" r="0.65"/><circle cx="150.2" cy="255.2" r="0.65"/><circle cx="156.7" cy="253.3" r="0.65"/><circle cx="158.0" cy="257.4" r="0.65"/><circle cx="155.5" cy="255.8" r="0.65"/><circle cx="154.2" cy="253.6" r="0.65"/><circle cx="150.5" cy="255.6" r="0.65"/><circle cx="149.9" cy="254.4" r="0.65"/><circle cx="151.0" cy="256.2" r="0.65"/><circle cx="154.6" cy="256.1" r="0.65"/><circle cx="157.7" cy="255.5" r="0.65"/><circle cx="156.7" cy="253.3" r="0.65"/><circle cx="150.3" cy="255.6" r="0.65"/><circle cx="151.0" cy="255.9" r="0.65"/><circle cx="152.9" cy="249.8" r="0.65"/><circle cx="152.4" cy="250.5" r="0.65"/><circle cx="155.4" cy="257.7" r="0.65"/><circle cx="146.0" cy="253.9" r="0.65"/><circle cx="147.1" cy="253.6" r="0.65"/><circle cx="157.3" cy="252.9" r="0.65"/><circle cx="153.1" cy="255.2" r="0.65"/><circle cx="154.7" cy="255.1" r="0.65"/><circle cx="152.0" cy="255.7" r="0.65"/><circle cx="157.8" cy="255.5" r="0.65"/><circle cx="155.1" cy="257.3" r="0.65"/><circle cx="151.4" cy="258.5" r="0.65"/><circle cx="153.2" cy="252.8" r="0.65"/><circle cx="154.9" cy="255.6" r="0.65"/><circle cx="155.9" cy="255.0" r="0.65"/><circle cx="155.1" cy="253.5" r="0.65"/><circle cx="155.7" cy="260.7" r="0.65"/><circle cx="149.4" cy="253.1" r="0.65"/><circle cx="153.5" cy="248.6" r="0.65"/><circle cx="153.0" cy="256.0" r="0.65"/><circle cx="158.9" cy="252.2" r="0.65"/><circle cx="160.3" cy="252.1" r="0.65"/><circle cx="153.1" cy="252.7" r="0.65"/><circle cx="151.2" cy="256.1" r="0.65"/><circle cx="152.0" cy="255.3" r="0.65"/><circle cx="156.5" cy="255.3" r="0.65"/><circle cx="154.9" cy="255.6" r="0.65"/><circle cx="156.8" cy="261.2" r="0.65"/><circle cx="153.1" cy="254.1" r="0.65"/><circle cx="150.2" cy="252.4" r="0.65"/><circle cx="154.6" cy="251.0" r="0.65"/><circle cx="157.1" cy="252.3" r="0.65"/><circle cx="153.3" cy="257.4" r="0.65"/><circle cx="153.1" cy="255.8" r="0.65"/><circle cx="154.7" cy="255.5" r="0.65"/><circle cx="164.2" cy="257.0" r="0.65"/><circle cx="157.8" cy="255.1" r="0.65"/><circle cx="153.0" cy="252.2" r="0.65"/><circle cx="153.8" cy="257.6" r="0.65"/><circle cx="155.2" cy="254.7" r="0.65"/><circle cx="146.9" cy="255.0" r="0.65"/><circle cx="150.3" cy="257.0" r="0.65"/><circle cx="155.5" cy="253.4" r="0.65"/><circle cx="152.9" cy="248.9" r="0.65"/><circle cx="155.3" cy="255.8" r="0.65"/><circle cx="154.6" cy="254.6" r="0.65"/><circle cx="146.4" cy="259.8" r="0.65"/><circle cx="149.1" cy="249.8" r="0.65"/><circle cx="153.2" cy="255.3" r="0.65"/><circle cx="151.9" cy="252.2" r="0.65"/><circle cx="153.9" cy="250.0" r="0.65"/><circle cx="156.5" cy="249.7" r="0.65"/><circle cx="153.4" cy="253.5" r="0.65"/><circle cx="152.4" cy="255.1" r="0.65"/><circle cx="148.0" cy="256.9" r="0.65"/><circle cx="150.6" cy="256.7" r="0.65"/><circle cx="157.9" cy="253.1" r="0.65"/><circle cx="158.0" cy="251.5" r="0.65"/><circle cx="156.9" cy="251.3" r="0.65"/><circle cx="151.8" cy="252.7" r="0.65"/><circle cx="152.8" cy="256.0" r="0.65"/><circle cx="157.9" cy="248.1" r="0.65"/><circle cx="150.5" cy="250.4" r="0.65"/><circle cx="156.6" cy="256.2" r="0.65"/><circle cx="154.8" cy="253.3" r="0.65"/><circle cx="155.1" cy="255.2" r="0.65"/><circle cx="149.5" cy="255.1" r="0.65"/><circle cx="156.7" cy="251.9" r="0.65"/><circle cx="156.1" cy="251.2" r="0.65"/><circle cx="150.5" cy="255.1" r="0.65"/><circle cx="155.0" cy="251.7" r="0.65"/><circle cx="154.4" cy="253.0" r="0.65"/><circle cx="154.3" cy="248.9" r="0.65"/><circle cx="146.5" cy="255.7" r="0.65"/><circle cx="162.2" cy="252.5" r="0.65"/><circle cx="147.7" cy="255.1" r="0.65"/><circle cx="149.0" cy="257.0" r="0.65"/><circle cx="154.6" cy="249.8" r="0.65"/><circle cx="155.4" cy="252.5" r="0.65"/><circle cx="157.3" cy="253.4" r="0.65"/><circle cx="151.0" cy="255.2" r="0.65"/><circle cx="155.0" cy="255.0" r="0.65"/><circle cx="151.6" cy="255.8" r="0.65"/><circle cx="148.8" cy="257.9" r="0.65"/><circle cx="153.5" cy="255.4" r="0.65"/><circle cx="154.0" cy="250.8" r="0.65"/><circle cx="154.8" cy="254.4" r="0.65"/><circle cx="149.9" cy="257.9" r="0.65"/><circle cx="155.1" cy="256.5" r="0.65"/><circle cx="155.3" cy="257.0" r="0.65"/><circle cx="154.3" cy="254.6" r="0.65"/><circle cx="157.2" cy="254.9" r="0.65"/><circle cx="152.6" cy="254.0" r="0.65"/><circle cx="154.0" cy="250.0" r="0.65"/><circle cx="153.0" cy="256.0" r="0.65"/><circle cx="152.8" cy="253.4" r="0.65"/><circle cx="154.6" cy="252.5" r="0.65"/><circle cx="149.2" cy="248.7" r="0.65"/><circle cx="160.0" cy="253.6" r="0.65"/><circle cx="149.8" cy="254.7" r="0.65"/><circle cx="155.2" cy="260.1" r="0.65"/><circle cx="153.9" cy="258.3" r="0.65"/><circle cx="155.4" cy="250.6" r="0.65"/><circle cx="157.3" cy="257.8" r="0.65"/><circle cx="158.5" cy="251.3" r="0.65"/><circle cx="152.6" cy="253.3" r="0.65"/><circle cx="158.9" cy="254.5" r="0.65"/><circle cx="153.8" cy="255.9" r="0.65"/><circle cx="157.7" cy="259.5" r="0.65"/><circle cx="158.6" cy="256.2" r="0.65"/><circle cx="157.0" cy="258.2" r="0.65"/><circle cx="150.7" cy="256.5" r="0.65"/><circle cx="156.6" cy="258.3" r="0.65"/><circle cx="155.9" cy="255.8" r="0.65"/><circle cx="158.0" cy="254.6" r="0.65"/><circle cx="155.5" cy="254.6" r="0.65"/><circle cx="159.9" cy="254.4" r="0.65"/><circle cx="153.8" cy="249.3" r="0.65"/><circle cx="154.1" cy="252.6" r="0.65"/><circle cx="151.4" cy="254.3" r="0.65"/><circle cx="146.2" cy="255.4" r="0.65"/><circle cx="151.7" cy="258.7" r="0.65"/></g>
<line x1="170.09" y1="197.20" x2="170.09" y2="266.60" stroke="#ff4a4a" stroke-width="0.8" />
<line x1="144.40" y1="243.70" x2="214.30" y2="243.70" stroke="#ff4a4a" stroke-width="0.8" />
<circle cx="170.09" cy="212.50" r="1.6" fill="#ff0000"/>
<circle cx="199.50" cy="243.70" r="1.6" fill="#ff0000"/>
<circle cx="170.09" cy="243.70" r="1.7" fill="#fff" stroke="#ff2020" stroke-width="0.8"/>
<rect x="144.40" y="197.20" width="69.90" height="69.40" fill="none" stroke="#8a8a8a" stroke-width="0.9" />
<line x1="144.40" y1="197.20" x2="144.40" y2="266.60" stroke="#555" stroke-width="1" />
<line x1="144.40" y1="266.60" x2="214.30" y2="266.60" stroke="#555" stroke-width="1" />
<line x1="144.40" y1="266.60" x2="144.40" y2="267.90" stroke="#444" stroke-width="0.6" />
<text x="144.40" y="275.00" font-size="7.6" text-anchor="middle" fill="#222" >0</text>
<line x1="143.10" y1="266.60" x2="144.40" y2="266.60" stroke="#444" stroke-width="0.6" />
<text x="140.00" y="269.10" font-size="7.6" text-anchor="middle" fill="#222" >0</text>
<line x1="161.88" y1="266.60" x2="161.88" y2="267.90" stroke="#444" stroke-width="0.6" />
<text x="161.88" y="275.00" font-size="7.6" text-anchor="middle" fill="#222" >1</text>
<line x1="143.10" y1="249.25" x2="144.40" y2="249.25" stroke="#444" stroke-width="0.6" />
<text x="140.00" y="251.75" font-size="7.6" text-anchor="middle" fill="#222" >1</text>
<line x1="179.35" y1="266.60" x2="179.35" y2="267.90" stroke="#444" stroke-width="0.6" />
<text x="179.35" y="275.00" font-size="7.6" text-anchor="middle" fill="#222" >2</text>
<line x1="143.10" y1="231.90" x2="144.40" y2="231.90" stroke="#444" stroke-width="0.6" />
<text x="140.00" y="234.40" font-size="7.6" text-anchor="middle" fill="#222" >2</text>
<line x1="196.83" y1="266.60" x2="196.83" y2="267.90" stroke="#444" stroke-width="0.6" />
<text x="196.83" y="275.00" font-size="7.6" text-anchor="middle" fill="#222" >3</text>
<line x1="143.10" y1="214.55" x2="144.40" y2="214.55" stroke="#444" stroke-width="0.6" />
<text x="140.00" y="217.05" font-size="7.6" text-anchor="middle" fill="#222" >3</text>
<line x1="214.30" y1="266.60" x2="214.30" y2="267.90" stroke="#444" stroke-width="0.6" />
<text x="214.30" y="275.00" font-size="7.6" text-anchor="middle" fill="#222" >4</text>
<line x1="143.10" y1="197.20" x2="144.40" y2="197.20" stroke="#444" stroke-width="0.6" />
<text x="140.00" y="199.70" font-size="7.6" text-anchor="middle" fill="#222" >4</text>
<line x1="143.70" y1="266.60" x2="144.40" y2="266.60" stroke="#666" stroke-width="0.4" />
<line x1="144.40" y1="266.60" x2="144.40" y2="267.30" stroke="#666" stroke-width="0.4" />
<line x1="143.70" y1="262.26" x2="144.40" y2="262.26" stroke="#666" stroke-width="0.4" />
<line x1="148.77" y1="266.60" x2="148.77" y2="267.30" stroke="#666" stroke-width="0.4" />
<line x1="143.70" y1="257.93" x2="144.40" y2="257.93" stroke="#666" stroke-width="0.4" />
<line x1="153.14" y1="266.60" x2="153.14" y2="267.30" stroke="#666" stroke-width="0.4" />
<line x1="143.70" y1="253.59" x2="144.40" y2="253.59" stroke="#666" stroke-width="0.4" />
<line x1="157.51" y1="266.60" x2="157.51" y2="267.30" stroke="#666" stroke-width="0.4" />
<line x1="143.70" y1="249.25" x2="144.40" y2="249.25" stroke="#666" stroke-width="0.4" />
<line x1="161.88" y1="266.60" x2="161.88" y2="267.30" stroke="#666" stroke-width="0.4" />
<line x1="143.70" y1="244.91" x2="144.40" y2="244.91" stroke="#666" stroke-width="0.4" />
<line x1="166.24" y1="266.60" x2="166.24" y2="267.30" stroke="#666" stroke-width="0.4" />
<line x1="143.70" y1="240.58" x2="144.40" y2="240.58" stroke="#666" stroke-width="0.4" />
<line x1="170.61" y1="266.60" x2="170.61" y2="267.30" stroke="#666" stroke-width="0.4" />
<line x1="143.70" y1="236.24" x2="144.40" y2="236.24" stroke="#666" stroke-width="0.4" />
<line x1="174.98" y1="266.60" x2="174.98" y2="267.30" stroke="#666" stroke-width="0.4" />
<line x1="143.70" y1="231.90" x2="144.40" y2="231.90" stroke="#666" stroke-width="0.4" />
<line x1="179.35" y1="266.60" x2="179.35" y2="267.30" stroke="#666" stroke-width="0.4" />
<line x1="143.70" y1="227.56" x2="144.40" y2="227.56" stroke="#666" stroke-width="0.4" />
<line x1="183.72" y1="266.60" x2="183.72" y2="267.30" stroke="#666" stroke-width="0.4" />
<line x1="143.70" y1="223.22" x2="144.40" y2="223.22" stroke="#666" stroke-width="0.4" />
<line x1="188.09" y1="266.60" x2="188.09" y2="267.30" stroke="#666" stroke-width="0.4" />
<line x1="143.70" y1="218.89" x2="144.40" y2="218.89" stroke="#666" stroke-width="0.4" />
<line x1="192.46" y1="266.60" x2="192.46" y2="267.30" stroke="#666" stroke-width="0.4" />
<line x1="143.70" y1="214.55" x2="144.40" y2="214.55" stroke="#666" stroke-width="0.4" />
<line x1="196.83" y1="266.60" x2="196.83" y2="267.30" stroke="#666" stroke-width="0.4" />
<line x1="143.70" y1="210.21" x2="144.40" y2="210.21" stroke="#666" stroke-width="0.4" />
<line x1="201.19" y1="266.60" x2="201.19" y2="267.30" stroke="#666" stroke-width="0.4" />
<line x1="143.70" y1="205.88" x2="144.40" y2="205.88" stroke="#666" stroke-width="0.4" />
<line x1="205.56" y1="266.60" x2="205.56" y2="267.30" stroke="#666" stroke-width="0.4" />
<line x1="143.70" y1="201.54" x2="144.40" y2="201.54" stroke="#666" stroke-width="0.4" />
<line x1="209.93" y1="266.60" x2="209.93" y2="267.30" stroke="#666" stroke-width="0.4" />
<text x="146.40" y="203.00" font-size="6.7" text-anchor="start" fill="#222" >Dead</text>
<text x="146.40" y="209.80" font-size="6.7" text-anchor="start" fill="#222"  textLength="16.70" lengthAdjust="spacingAndGlyphs">2.23 %</text>
<text x="213.30" y="203.00" font-size="6.7" text-anchor="end" fill="#222"  textLength="45.00" lengthAdjust="spacingAndGlyphs">Late Apop./Dead</text>
<text x="213.30" y="209.80" font-size="6.7" text-anchor="end" fill="#222"  textLength="16.70" lengthAdjust="spacingAndGlyphs">4.23 %</text>
<text x="146.40" y="256.60" font-size="6.7" text-anchor="start" fill="#222"  textLength="19.65" lengthAdjust="spacingAndGlyphs">76.22 %</text>
<text x="146.40" y="263.30" font-size="6.7" text-anchor="start" fill="#222" >Live</text>
<text x="213.30" y="256.60" font-size="6.7" text-anchor="end" fill="#222"  textLength="19.65" lengthAdjust="spacingAndGlyphs">17.32 %</text>
<text x="213.30" y="263.30" font-size="6.7" text-anchor="end" fill="#222"  textLength="31.30" lengthAdjust="spacingAndGlyphs">Early Apop.</text>
<rect x="235.30" y="243.70" width="25.69" height="22.90" fill="#e0efda" stroke="none" stroke-width="1" />
<g fill="#ff3a3a" fill-opacity="0.28"><circle cx="252.5" cy="242.6" r="0.50"/><circle cx="258.2" cy="231.2" r="0.50"/><circle cx="244.6" cy="253.0" r="0.50"/><circle cx="255.9" cy="253.0" r="0.50"/><circle cx="244.0" cy="251.4" r="0.50"/><circle cx="248.9" cy="254.2" r="0.50"/><circle cx="246.6" cy="251.4" r="0.50"/><circle cx="249.7" cy="253.1" r="0.50"/><circle cx="245.2" cy="256.5" r="0.50"/><circle cx="240.6" cy="252.8" r="0.50"/><circle cx="248.7" cy="256.1" r="0.50"/><circle cx="249.9" cy="250.3" r="0.50"/><circle cx="253.7" cy="253.1" r="0.50"/><circle cx="255.4" cy="247.0" r="0.50"/><circle cx="236.3" cy="261.1" r="0.50"/><circle cx="254.7" cy="250.7" r="0.50"/><circle cx="254.5" cy="246.0" r="0.50"/><circle cx="242.4" cy="252.8" r="0.50"/><circle cx="257.9" cy="256.6" r="0.50"/><circle cx="261.4" cy="261.2" r="0.50"/><circle cx="247.6" cy="240.7" r="0.50"/><circle cx="247.6" cy="252.5" r="0.50"/><circle cx="252.6" cy="253.8" r="0.50"/><circle cx="255.7" cy="251.4" r="0.50"/><circle cx="245.0" cy="240.3" r="0.50"/><circle cx="254.9" cy="256.2" r="0.50"/><circle cx="253.4" cy="259.7" r="0.50"/><circle cx="246.0" cy="254.0" r="0.50"/><circle cx="250.1" cy="245.1" r="0.50"/><circle cx="238.3" cy="260.2" r="0.50"/><circle cx="264.8" cy="258.4" r="0.50"/><circle cx="250.7" cy="250.9" r="0.50"/><circle cx="257.3" cy="255.8" r="0.50"/><circle cx="254.3" cy="244.7" r="0.50"/><circle cx="249.4" cy="249.2" r="0.50"/><circle cx="243.7" cy="249.3" r="0.50"/><circle cx="248.4" cy="255.2" r="0.50"/><circle cx="249.1" cy="260.7" r="0.50"/><circle cx="238.8" cy="253.7" r="0.50"/><circle cx="249.9" cy="253.7" r="0.50"/><circle cx="238.7" cy="253.9" r="0.50"/><circle cx="246.9" cy="261.1" r="0.50"/><circle cx="257.5" cy="239.3" r="0.50"/><circle cx="250.8" cy="256.7" r="0.50"/><circle cx="251.6" cy="247.4" r="0.50"/><circle cx="264.9" cy="252.9" r="0.50"/><circle cx="250.9" cy="244.1" r="0.50"/><circle cx="242.7" cy="248.2" r="0.50"/><circle cx="250.0" cy="255.8" r="0.50"/><circle cx="250.5" cy="249.2" r="0.50"/><circle cx="249.4" cy="251.7" r="0.50"/><circle cx="254.5" cy="248.0" r="0.50"/><circle cx="247.0" cy="252.5" r="0.50"/><circle cx="243.5" cy="256.6" r="0.50"/><circle cx="247.4" cy="259.0" r="0.50"/><circle cx="253.4" cy="246.8" r="0.50"/><circle cx="260.6" cy="250.1" r="0.50"/><circle cx="253.4" cy="248.0" r="0.50"/><circle cx="261.8" cy="252.9" r="0.50"/><circle cx="255.0" cy="258.7" r="0.50"/><circle cx="242.0" cy="260.8" r="0.50"/><circle cx="254.4" cy="252.9" r="0.50"/><circle cx="250.3" cy="257.5" r="0.50"/><circle cx="249.1" cy="243.2" r="0.50"/><circle cx="238.1" cy="261.5" r="0.50"/><circle cx="256.6" cy="256.8" r="0.50"/><circle cx="250.0" cy="252.1" r="0.50"/><circle cx="238.1" cy="257.1" r="0.50"/><circle cx="249.2" cy="251.1" r="0.50"/><circle cx="254.2" cy="252.1" r="0.50"/><circle cx="249.4" cy="253.6" r="0.50"/><circle cx="250.4" cy="248.7" r="0.50"/><circle cx="253.2" cy="252.1" r="0.50"/><circle cx="267.4" cy="255.4" r="0.50"/><circle cx="253.6" cy="248.4" r="0.50"/><circle cx="243.2" cy="254.9" r="0.50"/><circle cx="242.4" cy="251.4" r="0.50"/><circle cx="249.5" cy="251.3" r="0.50"/><circle cx="253.4" cy="250.7" r="0.50"/><circle cx="258.2" cy="247.4" r="0.50"/><circle cx="247.7" cy="257.4" r="0.50"/><circle cx="252.7" cy="260.9" r="0.50"/><circle cx="245.0" cy="248.7" r="0.50"/><circle cx="256.0" cy="240.4" r="0.50"/><circle cx="247.4" cy="254.1" r="0.50"/><circle cx="256.0" cy="245.1" r="0.50"/><circle cx="240.9" cy="249.1" r="0.50"/><circle cx="251.3" cy="243.2" r="0.50"/><circle cx="250.7" cy="255.1" r="0.50"/><circle cx="245.5" cy="255.6" r="0.50"/><circle cx="246.2" cy="263.1" r="0.50"/><circle cx="251.0" cy="256.6" r="0.50"/><circle cx="258.7" cy="247.0" r="0.50"/><circle cx="246.0" cy="254.9" r="0.50"/><circle cx="253.0" cy="245.8" r="0.50"/><circle cx="257.7" cy="246.8" r="0.50"/><circle cx="250.0" cy="248.9" r="0.50"/><circle cx="241.6" cy="251.5" r="0.50"/><circle cx="249.3" cy="254.5" r="0.50"/><circle cx="248.8" cy="257.0" r="0.50"/><circle cx="247.0" cy="246.1" r="0.50"/><circle cx="246.0" cy="260.7" r="0.50"/><circle cx="253.7" cy="254.4" r="0.50"/><circle cx="245.6" cy="246.5" r="0.50"/><circle cx="249.3" cy="250.0" r="0.50"/><circle cx="251.5" cy="243.6" r="0.50"/><circle cx="255.0" cy="259.6" r="0.50"/><circle cx="262.2" cy="253.1" r="0.50"/><circle cx="247.3" cy="249.2" r="0.50"/><circle cx="249.2" cy="254.9" r="0.50"/><circle cx="247.2" cy="255.0" r="0.50"/><circle cx="258.0" cy="249.5" r="0.50"/><circle cx="259.5" cy="241.1" r="0.50"/><circle cx="255.5" cy="256.1" r="0.50"/><circle cx="250.8" cy="250.3" r="0.50"/><circle cx="240.7" cy="255.0" r="0.50"/><circle cx="242.0" cy="248.0" r="0.50"/><circle cx="237.2" cy="257.1" r="0.50"/><circle cx="251.8" cy="251.4" r="0.50"/><circle cx="243.2" cy="250.2" r="0.50"/><circle cx="249.5" cy="245.1" r="0.50"/><circle cx="250.8" cy="248.2" r="0.50"/><circle cx="238.2" cy="254.0" r="0.50"/><circle cx="250.5" cy="258.0" r="0.50"/><circle cx="259.0" cy="254.3" r="0.50"/><circle cx="256.0" cy="248.2" r="0.50"/><circle cx="245.8" cy="257.1" r="0.50"/><circle cx="269.7" cy="245.7" r="0.50"/><circle cx="252.9" cy="254.0" r="0.50"/><circle cx="239.7" cy="253.4" r="0.50"/><circle cx="248.8" cy="251.3" r="0.50"/><circle cx="249.7" cy="262.3" r="0.50"/><circle cx="246.8" cy="252.7" r="0.50"/><circle cx="247.1" cy="252.1" r="0.50"/><circle cx="251.9" cy="253.0" r="0.50"/><circle cx="246.7" cy="244.7" r="0.50"/><circle cx="251.9" cy="250.7" r="0.50"/><circle cx="253.6" cy="250.9" r="0.50"/><circle cx="236.0" cy="257.7" r="0.50"/><circle cx="251.8" cy="249.7" r="0.50"/><circle cx="250.4" cy="258.6" r="0.50"/><circle cx="247.7" cy="251.1" r="0.50"/><circle cx="250.5" cy="238.6" r="0.50"/><circle cx="253.9" cy="249.5" r="0.50"/><circle cx="248.7" cy="264.6" r="0.50"/><circle cx="256.5" cy="255.2" r="0.50"/><circle cx="259.2" cy="253.2" r="0.50"/><circle cx="247.7" cy="247.6" r="0.50"/><circle cx="247.1" cy="262.1" r="0.50"/><circle cx="252.9" cy="249.9" r="0.50"/><circle cx="253.0" cy="253.1" r="0.50"/><circle cx="252.2" cy="257.1" r="0.50"/><circle cx="249.7" cy="248.9" r="0.50"/><circle cx="258.2" cy="243.0" r="0.50"/><circle cx="247.7" cy="250.5" r="0.50"/><circle cx="249.4" cy="258.0" r="0.50"/><circle cx="252.6" cy="247.3" r="0.50"/><circle cx="256.0" cy="261.5" r="0.50"/><circle cx="248.7" cy="253.6" r="0.50"/><circle cx="250.5" cy="260.2" r="0.50"/><circle cx="264.2" cy="258.1" r="0.50"/><circle cx="243.0" cy="245.1" r="0.50"/><circle cx="252.1" cy="256.4" r="0.50"/><circle cx="244.9" cy="250.1" r="0.50"/><circle cx="245.3" cy="249.7" r="0.50"/><circle cx="253.7" cy="249.8" r="0.50"/><circle cx="256.0" cy="254.8" r="0.50"/><circle cx="239.5" cy="263.4" r="0.50"/><circle cx="249.8" cy="257.1" r="0.50"/><circle cx="261.2" cy="255.6" r="0.50"/><circle cx="261.5" cy="251.3" r="0.50"/><circle cx="250.0" cy="262.8" r="0.50"/><circle cx="249.4" cy="245.3" r="0.50"/><circle cx="239.4" cy="248.0" r="0.50"/><circle cx="255.7" cy="246.9" r="0.50"/><circle cx="242.6" cy="245.9" r="0.50"/><circle cx="241.7" cy="246.0" r="0.50"/><circle cx="258.3" cy="260.4" r="0.50"/><circle cx="260.7" cy="241.2" r="0.50"/><circle cx="249.2" cy="261.2" r="0.50"/><circle cx="248.3" cy="254.7" r="0.50"/><circle cx="256.0" cy="256.8" r="0.50"/><circle cx="243.2" cy="252.9" r="0.50"/><circle cx="252.3" cy="261.8" r="0.50"/><circle cx="253.1" cy="255.1" r="0.50"/><circle cx="246.6" cy="250.2" r="0.50"/><circle cx="254.9" cy="249.2" r="0.50"/><circle cx="262.6" cy="249.1" r="0.50"/><circle cx="250.0" cy="251.0" r="0.50"/><circle cx="260.6" cy="247.3" r="0.50"/><circle cx="252.2" cy="246.9" r="0.50"/><circle cx="238.8" cy="249.5" r="0.50"/><circle cx="255.7" cy="253.2" r="0.50"/><circle cx="239.1" cy="263.5" r="0.50"/><circle cx="249.0" cy="257.8" r="0.50"/><circle cx="256.4" cy="256.8" r="0.50"/><circle cx="257.3" cy="247.2" r="0.50"/><circle cx="253.9" cy="258.0" r="0.50"/><circle cx="242.1" cy="253.9" r="0.50"/><circle cx="257.6" cy="257.0" r="0.50"/><circle cx="251.4" cy="247.8" r="0.50"/><circle cx="237.5" cy="245.1" r="0.50"/><circle cx="248.4" cy="255.9" r="0.50"/><circle cx="251.3" cy="253.5" r="0.50"/><circle cx="243.1" cy="257.4" r="0.50"/><circle cx="248.1" cy="258.9" r="0.50"/><circle cx="257.1" cy="248.1" r="0.50"/><circle cx="255.2" cy="260.6" r="0.50"/><circle cx="246.4" cy="250.7" r="0.50"/><circle cx="249.2" cy="262.8" r="0.50"/><circle cx="252.6" cy="241.6" r="0.50"/><circle cx="257.4" cy="251.9" r="0.50"/><circle cx="241.2" cy="248.9" r="0.50"/><circle cx="254.1" cy="253.8" r="0.50"/><circle cx="247.5" cy="248.9" r="0.50"/><circle cx="249.1" cy="256.6" r="0.50"/><circle cx="241.4" cy="256.5" r="0.50"/><circle cx="247.6" cy="256.1" r="0.50"/><circle cx="281.4" cy="253.6" r="0.50"/><circle cx="237.5" cy="258.9" r="0.50"/><circle cx="256.2" cy="241.0" r="0.50"/><circle cx="237.9" cy="258.2" r="0.50"/><circle cx="254.3" cy="255.9" r="0.50"/><circle cx="254.1" cy="253.9" r="0.50"/><circle cx="258.2" cy="250.5" r="0.50"/><circle cx="262.3" cy="257.5" r="0.50"/><circle cx="258.1" cy="253.3" r="0.50"/><circle cx="258.2" cy="254.3" r="0.50"/><circle cx="256.0" cy="245.9" r="0.50"/><circle cx="252.2" cy="257.9" r="0.50"/><circle cx="245.1" cy="256.4" r="0.50"/><circle cx="248.4" cy="247.8" r="0.50"/><circle cx="241.4" cy="255.1" r="0.50"/><circle cx="250.3" cy="252.6" r="0.50"/><circle cx="243.4" cy="247.0" r="0.50"/><circle cx="249.6" cy="257.0" r="0.50"/><circle cx="249.3" cy="246.6" r="0.50"/><circle cx="254.1" cy="245.7" r="0.50"/><circle cx="253.7" cy="254.3" r="0.50"/><circle cx="239.6" cy="259.4" r="0.50"/><circle cx="249.6" cy="261.6" r="0.50"/><circle cx="248.2" cy="257.5" r="0.50"/><circle cx="258.4" cy="261.8" r="0.50"/><circle cx="266.3" cy="245.7" r="0.50"/><circle cx="246.7" cy="252.8" r="0.50"/><circle cx="261.5" cy="246.8" r="0.50"/><circle cx="247.8" cy="256.1" r="0.50"/><circle cx="239.5" cy="253.1" r="0.50"/><circle cx="256.3" cy="251.9" r="0.50"/><circle cx="250.2" cy="257.0" r="0.50"/><circle cx="251.0" cy="249.8" r="0.50"/><circle cx="241.0" cy="250.7" r="0.50"/><circle cx="248.2" cy="250.3" r="0.50"/><circle cx="250.2" cy="250.7" r="0.50"/><circle cx="251.9" cy="248.3" r="0.50"/><circle cx="245.0" cy="254.0" r="0.50"/><circle cx="241.8" cy="253.8" r="0.50"/><circle cx="258.0" cy="252.5" r="0.50"/><circle cx="257.4" cy="253.7" r="0.50"/><circle cx="252.8" cy="245.7" r="0.50"/><circle cx="252.4" cy="250.0" r="0.50"/><circle cx="259.9" cy="247.4" r="0.50"/><circle cx="256.9" cy="252.8" r="0.50"/><circle cx="244.9" cy="249.5" r="0.50"/><circle cx="242.9" cy="247.7" r="0.50"/><circle cx="246.3" cy="251.7" r="0.50"/><circle cx="255.9" cy="257.2" r="0.50"/><circle cx="263.9" cy="249.9" r="0.50"/><circle cx="248.7" cy="258.2" r="0.50"/><circle cx="238.3" cy="264.0" r="0.50"/><circle cx="243.3" cy="251.0" r="0.50"/><circle cx="246.8" cy="247.1" r="0.50"/><circle cx="243.4" cy="261.7" r="0.50"/><circle cx="253.5" cy="253.3" r="0.50"/><circle cx="240.1" cy="247.0" r="0.50"/><circle cx="252.1" cy="259.5" r="0.50"/><circle cx="246.7" cy="258.0" r="0.50"/><circle cx="258.3" cy="253.7" r="0.50"/><circle cx="245.8" cy="251.8" r="0.50"/><circle cx="261.4" cy="243.2" r="0.50"/><circle cx="250.2" cy="254.2" r="0.50"/><circle cx="245.9" cy="248.3" r="0.50"/><circle cx="242.7" cy="254.2" r="0.50"/><circle cx="255.0" cy="255.1" r="0.50"/><circle cx="244.3" cy="258.8" r="0.50"/><circle cx="246.0" cy="249.1" r="0.50"/><circle cx="239.7" cy="260.9" r="0.50"/><circle cx="249.2" cy="248.0" r="0.50"/><circle cx="244.3" cy="250.8" r="0.50"/><circle cx="257.4" cy="255.1" r="0.50"/><circle cx="248.6" cy="248.5" r="0.50"/><circle cx="251.5" cy="255.6" r="0.50"/><circle cx="249.1" cy="254.2" r="0.50"/><circle cx="250.5" cy="251.1" r="0.50"/><circle cx="251.0" cy="255.6" r="0.50"/><circle cx="250.0" cy="251.2" r="0.50"/><circle cx="248.6" cy="244.6" r="0.50"/><circle cx="246.6" cy="265.2" r="0.50"/><circle cx="258.4" cy="253.6" r="0.50"/><circle cx="252.4" cy="253.6" r="0.50"/><circle cx="256.6" cy="254.3" r="0.50"/><circle cx="253.9" cy="243.9" r="0.50"/><circle cx="254.2" cy="256.3" r="0.50"/><circle cx="262.1" cy="244.7" r="0.50"/><circle cx="249.8" cy="260.3" r="0.50"/><circle cx="251.7" cy="252.9" r="0.50"/><circle cx="253.2" cy="251.4" r="0.50"/><circle cx="261.0" cy="249.8" r="0.50"/><circle cx="247.2" cy="255.4" r="0.50"/><circle cx="252.1" cy="249.7" r="0.50"/><circle cx="241.1" cy="259.8" r="0.50"/><circle cx="256.4" cy="252.7" r="0.50"/><circle cx="257.4" cy="252.4" r="0.50"/><circle cx="245.3" cy="251.3" r="0.50"/><circle cx="251.8" cy="238.2" r="0.50"/><circle cx="261.1" cy="251.2" r="0.50"/></g>
<g fill="#ff2020" fill-opacity="0.55"><circle cx="264.2" cy="243.6" r="0.40"/><circle cx="256.3" cy="237.2" r="0.40"/><circle cx="263.9" cy="239.2" r="0.40"/><circle cx="261.6" cy="243.7" r="0.40"/><circle cx="263.2" cy="240.6" r="0.40"/><circle cx="258.9" cy="240.1" r="0.40"/><circle cx="263.2" cy="240.6" r="0.40"/><circle cx="264.6" cy="239.1" r="0.40"/><circle cx="257.3" cy="239.2" r="0.40"/><circle cx="260.1" cy="236.3" r="0.40"/><circle cx="250.7" cy="241.4" r="0.40"/><circle cx="263.7" cy="237.6" r="0.40"/><circle cx="257.8" cy="240.5" r="0.40"/><circle cx="263.2" cy="242.1" r="0.40"/><circle cx="264.1" cy="242.4" r="0.40"/><circle cx="258.8" cy="237.2" r="0.40"/><circle cx="258.6" cy="241.5" r="0.40"/><circle cx="269.8" cy="237.0" r="0.40"/><circle cx="260.2" cy="239.5" r="0.40"/><circle cx="258.9" cy="243.5" r="0.40"/><circle cx="259.9" cy="238.3" r="0.40"/><circle cx="263.5" cy="242.7" r="0.40"/><circle cx="253.1" cy="237.0" r="0.40"/><circle cx="259.0" cy="238.3" r="0.40"/><circle cx="264.5" cy="237.0" r="0.40"/><circle cx="259.4" cy="243.3" r="0.40"/><circle cx="259.2" cy="239.4" r="0.40"/><circle cx="262.6" cy="243.6" r="0.40"/><circle cx="263.3" cy="243.0" r="0.40"/><circle cx="261.4" cy="241.3" r="0.40"/><circle cx="263.4" cy="233.4" r="0.40"/><circle cx="259.1" cy="244.5" r="0.40"/><circle cx="257.2" cy="240.5" r="0.40"/><circle cx="262.3" cy="238.9" r="0.40"/><circle cx="257.9" cy="244.1" r="0.40"/><circle cx="261.2" cy="236.5" r="0.40"/><circle cx="265.0" cy="237.6" r="0.40"/><circle cx="263.7" cy="237.6" r="0.40"/><circle cx="259.6" cy="237.2" r="0.40"/><circle cx="264.5" cy="238.1" r="0.40"/><circle cx="260.0" cy="241.6" r="0.40"/><circle cx="259.4" cy="236.6" r="0.40"/><circle cx="256.4" cy="241.7" r="0.40"/><circle cx="262.4" cy="244.2" r="0.40"/><circle cx="262.2" cy="237.5" r="0.40"/><circle cx="263.9" cy="243.8" r="0.40"/><circle cx="261.6" cy="243.3" r="0.40"/><circle cx="251.9" cy="238.2" r="0.40"/><circle cx="264.0" cy="244.3" r="0.40"/><circle cx="265.7" cy="238.1" r="0.40"/><circle cx="270.3" cy="239.2" r="0.40"/><circle cx="267.6" cy="241.4" r="0.40"/><circle cx="260.7" cy="235.1" r="0.40"/><circle cx="264.7" cy="235.8" r="0.40"/><circle cx="260.8" cy="240.6" r="0.40"/><circle cx="264.7" cy="242.5" r="0.40"/><circle cx="264.3" cy="244.4" r="0.40"/><circle cx="254.0" cy="241.7" r="0.40"/><circle cx="263.9" cy="234.7" r="0.40"/><circle cx="261.0" cy="240.0" r="0.40"/><circle cx="260.8" cy="239.7" r="0.40"/><circle cx="266.3" cy="238.8" r="0.40"/><circle cx="263.2" cy="239.4" r="0.40"/><circle cx="260.7" cy="238.3" r="0.40"/><circle cx="268.8" cy="243.6" r="0.40"/><circle cx="262.8" cy="251.8" r="0.40"/><circle cx="251.1" cy="245.1" r="0.40"/><circle cx="254.9" cy="241.4" r="0.40"/><circle cx="258.2" cy="250.2" r="0.40"/><circle cx="256.5" cy="245.6" r="0.40"/><circle cx="259.8" cy="248.0" r="0.40"/><circle cx="251.5" cy="249.7" r="0.40"/><circle cx="259.3" cy="243.8" r="0.40"/><circle cx="250.9" cy="245.7" r="0.40"/><circle cx="254.3" cy="246.2" r="0.40"/><circle cx="258.7" cy="247.2" r="0.40"/><circle cx="256.1" cy="251.1" r="0.40"/><circle cx="256.3" cy="243.0" r="0.40"/><circle cx="254.5" cy="245.6" r="0.40"/><circle cx="257.9" cy="241.0" r="0.40"/><circle cx="253.7" cy="244.6" r="0.40"/><circle cx="255.5" cy="246.7" r="0.40"/><circle cx="256.4" cy="250.5" r="0.40"/><circle cx="258.4" cy="248.2" r="0.40"/><circle cx="257.0" cy="244.6" r="0.40"/><circle cx="255.8" cy="250.1" r="0.40"/><circle cx="253.1" cy="245.1" r="0.40"/><circle cx="260.3" cy="242.3" r="0.40"/><circle cx="252.6" cy="246.2" r="0.40"/><circle cx="256.8" cy="248.2" r="0.40"/><circle cx="255.8" cy="248.8" r="0.40"/><circle cx="256.8" cy="247.6" r="0.40"/><circle cx="255.5" cy="243.4" r="0.40"/><circle cx="253.2" cy="246.4" r="0.40"/><circle cx="254.3" cy="247.4" r="0.40"/><circle cx="256.1" cy="246.6" r="0.40"/><circle cx="257.0" cy="248.4" r="0.40"/><circle cx="258.2" cy="249.2" r="0.40"/><circle cx="252.7" cy="248.6" r="0.40"/><circle cx="260.1" cy="243.8" r="0.40"/><circle cx="254.6" cy="242.1" r="0.40"/><circle cx="257.3" cy="250.1" r="0.40"/><circle cx="257.6" cy="248.9" r="0.40"/><circle cx="252.7" cy="251.8" r="0.40"/><circle cx="256.8" cy="245.6" r="0.40"/><circle cx="253.1" cy="245.2" r="0.40"/><circle cx="257.6" cy="245.3" r="0.40"/><circle cx="258.4" cy="248.4" r="0.40"/><circle cx="257.5" cy="245.4" r="0.40"/><circle cx="254.5" cy="247.4" r="0.40"/><circle cx="257.5" cy="231.0" r="0.40"/><circle cx="258.3" cy="229.9" r="0.40"/><circle cx="265.6" cy="232.6" r="0.40"/><circle cx="268.7" cy="233.2" r="0.40"/><circle cx="275.2" cy="230.0" r="0.40"/><circle cx="258.1" cy="234.3" r="0.40"/><circle cx="267.2" cy="224.1" r="0.40"/><circle cx="261.6" cy="225.0" r="0.40"/><circle cx="266.1" cy="226.0" r="0.40"/><circle cx="261.5" cy="235.4" r="0.40"/><circle cx="262.8" cy="231.7" r="0.40"/><circle cx="259.2" cy="237.4" r="0.40"/><circle cx="269.4" cy="227.2" r="0.40"/><circle cx="264.7" cy="234.0" r="0.40"/><circle cx="271.6" cy="239.7" r="0.40"/><circle cx="240.4" cy="248.5" r="0.35"/><circle cx="242.6" cy="248.2" r="0.35"/><circle cx="242.8" cy="232.6" r="0.35"/><circle cx="253.7" cy="245.1" r="0.35"/><circle cx="267.7" cy="240.4" r="0.35"/><circle cx="289.4" cy="217.2" r="0.35"/><circle cx="244.6" cy="250.1" r="0.35"/><circle cx="237.6" cy="243.2" r="0.35"/><circle cx="244.2" cy="218.9" r="0.35"/><circle cx="288.9" cy="199.2" r="0.35"/><circle cx="250.9" cy="262.4" r="0.35"/><circle cx="287.3" cy="237.7" r="0.35"/><circle cx="298.9" cy="239.0" r="0.35"/><circle cx="257.8" cy="260.1" r="0.35"/><circle cx="300.0" cy="231.1" r="0.35"/><circle cx="266.3" cy="236.0" r="0.35"/><circle cx="288.1" cy="210.1" r="0.35"/><circle cx="268.7" cy="253.1" r="0.35"/><circle cx="264.0" cy="206.1" r="0.35"/><circle cx="264.1" cy="221.3" r="0.35"/></g>
<g fill="#ff0a0a" fill-opacity="0.5"><circle cx="250.7" cy="251.4" r="0.65"/><circle cx="251.6" cy="250.7" r="0.65"/><circle cx="249.5" cy="254.0" r="0.65"/><circle cx="244.2" cy="254.9" r="0.65"/><circle cx="253.5" cy="251.7" r="0.65"/><circle cx="250.9" cy="256.2" r="0.65"/><circle cx="242.4" cy="252.8" r="0.65"/><circle cx="247.0" cy="255.0" r="0.65"/><circle cx="242.6" cy="250.5" r="0.65"/><circle cx="254.8" cy="256.7" r="0.65"/><circle cx="247.7" cy="254.0" r="0.65"/><circle cx="251.3" cy="250.4" r="0.65"/><circle cx="249.5" cy="253.3" r="0.65"/><circle cx="251.7" cy="257.1" r="0.65"/><circle cx="249.2" cy="253.2" r="0.65"/><circle cx="250.8" cy="255.5" r="0.65"/><circle cx="247.3" cy="256.6" r="0.65"/><circle cx="249.1" cy="255.9" r="0.65"/><circle cx="258.5" cy="253.1" r="0.65"/><circle cx="254.2" cy="253.8" r="0.65"/><circle cx="248.2" cy="251.0" r="0.65"/><circle cx="248.7" cy="247.5" r="0.65"/><circle cx="251.3" cy="257.3" r="0.65"/><circle cx="254.5" cy="259.6" r="0.65"/><circle cx="248.4" cy="255.5" r="0.65"/><circle cx="249.8" cy="255.1" r="0.65"/><circle cx="248.0" cy="254.4" r="0.65"/><circle cx="252.3" cy="255.0" r="0.65"/><circle cx="248.3" cy="247.3" r="0.65"/><circle cx="257.0" cy="248.6" r="0.65"/><circle cx="249.7" cy="254.6" r="0.65"/><circle cx="250.0" cy="256.5" r="0.65"/><circle cx="253.7" cy="254.3" r="0.65"/><circle cx="242.0" cy="251.8" r="0.65"/><circle cx="255.1" cy="249.6" r="0.65"/><circle cx="252.0" cy="251.3" r="0.65"/><circle cx="255.2" cy="248.4" r="0.65"/><circle cx="244.1" cy="252.6" r="0.65"/><circle cx="249.4" cy="248.8" r="0.65"/><circle cx="248.6" cy="254.2" r="0.65"/><circle cx="243.8" cy="254.0" r="0.65"/><circle cx="250.8" cy="249.0" r="0.65"/><circle cx="249.0" cy="250.6" r="0.65"/><circle cx="257.3" cy="254.7" r="0.65"/><circle cx="253.5" cy="252.4" r="0.65"/><circle cx="243.6" cy="256.3" r="0.65"/><circle cx="249.8" cy="256.0" r="0.65"/><circle cx="252.1" cy="254.7" r="0.65"/><circle cx="253.6" cy="253.3" r="0.65"/><circle cx="254.1" cy="249.2" r="0.65"/><circle cx="253.0" cy="249.2" r="0.65"/><circle cx="260.0" cy="248.5" r="0.65"/><circle cx="243.8" cy="255.3" r="0.65"/><circle cx="253.2" cy="249.6" r="0.65"/><circle cx="247.6" cy="252.0" r="0.65"/><circle cx="250.0" cy="253.6" r="0.65"/><circle cx="248.1" cy="253.2" r="0.65"/><circle cx="254.2" cy="256.8" r="0.65"/><circle cx="253.6" cy="251.7" r="0.65"/><circle cx="243.9" cy="253.3" r="0.65"/><circle cx="249.2" cy="255.6" r="0.65"/><circle cx="251.8" cy="253.4" r="0.65"/><circle cx="254.0" cy="248.5" r="0.65"/><circle cx="251.3" cy="251.6" r="0.65"/><circle cx="246.3" cy="253.7" r="0.65"/><circle cx="254.0" cy="246.9" r="0.65"/><circle cx="243.3" cy="253.5" r="0.65"/><circle cx="249.6" cy="247.1" r="0.65"/><circle cx="251.1" cy="247.0" r="0.65"/><circle cx="242.2" cy="259.1" r="0.65"/><circle cx="250.3" cy="256.7" r="0.65"/><circle cx="242.6" cy="255.5" r="0.65"/><circle cx="248.1" cy="252.9" r="0.65"/><circle cx="255.3" cy="254.5" r="0.65"/><circle cx="247.1" cy="257.6" r="0.65"/><circle cx="250.1" cy="250.0" r="0.65"/><circle cx="253.8" cy="258.4" r="0.65"/><circle cx="251.6" cy="253.4" r="0.65"/><circle cx="247.7" cy="256.5" r="0.65"/><circle cx="247.8" cy="252.5" r="0.65"/><circle cx="252.3" cy="250.3" r="0.65"/><circle cx="246.7" cy="253.5" r="0.65"/><circle cx="246.5" cy="251.1" r="0.65"/><circle cx="250.0" cy="256.6" r="0.65"/><circle cx="253.6" cy="247.5" r="0.65"/><circle cx="243.4" cy="249.2" r="0.65"/><circle cx="251.6" cy="252.9" r="0.65"/><circle cx="241.3" cy="258.1" r="0.65"/><circle cx="246.2" cy="251.5" r="0.65"/><circle cx="249.3" cy="252.5" r="0.65"/><circle cx="250.2" cy="251.6" r="0.65"/><circle cx="248.5" cy="249.6" r="0.65"/><circle cx="241.4" cy="257.1" r="0.65"/><circle cx="248.3" cy="255.7" r="0.65"/><circle cx="254.6" cy="253.3" r="0.65"/><circle cx="242.6" cy="255.8" r="0.65"/><circle cx="248.0" cy="255.6" r="0.65"/><circle cx="247.2" cy="254.9" r="0.65"/><circle cx="252.3" cy="252.9" r="0.65"/><circle cx="250.9" cy="253.0" r="0.65"/><circle cx="254.3" cy="252.0" r="0.65"/><circle cx="250.8" cy="249.8" r="0.65"/><circle cx="254.8" cy="248.6" r="0.65"/><circle cx="246.9" cy="257.1" r="0.65"/><circle cx="259.9" cy="254.9" r="0.65"/><circle cx="247.1" cy="257.4" r="0.65"/><circle cx="250.8" cy="252.8" r="0.65"/><circle cx="241.0" cy="251.5" r="0.65"/><circle cx="247.8" cy="250.2" r="0.65"/><circle cx="253.4" cy="252.2" r="0.65"/><circle cx="253.6" cy="254.4" r="0.65"/><circle cx="249.9" cy="253.4" r="0.65"/><circle cx="250.3" cy="251.3" r="0.65"/><circle cx="250.5" cy="254.0" r="0.65"/><circle cx="252.3" cy="253.4" r="0.65"/><circle cx="252.9" cy="254.7" r="0.65"/><circle cx="245.4" cy="247.6" r="0.65"/><circle cx="244.9" cy="251.6" r="0.65"/><circle cx="255.9" cy="249.8" r="0.65"/><circle cx="251.4" cy="252.9" r="0.65"/><circle cx="249.6" cy="255.2" r="0.65"/><circle cx="251.7" cy="250.6" r="0.65"/><circle cx="244.8" cy="259.6" r="0.65"/><circle cx="261.3" cy="251.2" r="0.65"/><circle cx="245.8" cy="256.5" r="0.65"/><circle cx="252.8" cy="248.8" r="0.65"/><circle cx="246.3" cy="254.5" r="0.65"/><circle cx="251.9" cy="253.8" r="0.65"/><circle cx="251.0" cy="251.6" r="0.65"/><circle cx="252.5" cy="249.6" r="0.65"/><circle cx="250.3" cy="254.4" r="0.65"/><circle cx="244.8" cy="254.0" r="0.65"/><circle cx="246.1" cy="254.8" r="0.65"/><circle cx="249.0" cy="253.3" r="0.65"/><circle cx="253.2" cy="251.4" r="0.65"/><circle cx="250.1" cy="248.5" r="0.65"/><circle cx="250.0" cy="248.0" r="0.65"/><circle cx="249.7" cy="251.9" r="0.65"/><circle cx="246.0" cy="253.4" r="0.65"/><circle cx="246.4" cy="249.7" r="0.65"/><circle cx="250.6" cy="248.9" r="0.65"/><circle cx="251.7" cy="255.2" r="0.65"/><circle cx="241.3" cy="254.8" r="0.65"/><circle cx="247.8" cy="254.4" r="0.65"/><circle cx="251.0" cy="252.3" r="0.65"/><circle cx="248.9" cy="252.2" r="0.65"/><circle cx="247.3" cy="255.8" r="0.65"/><circle cx="248.0" cy="250.4" r="0.65"/><circle cx="252.2" cy="253.4" r="0.65"/><circle cx="251.4" cy="250.8" r="0.65"/><circle cx="246.0" cy="248.5" r="0.65"/><circle cx="248.6" cy="256.0" r="0.65"/><circle cx="250.2" cy="252.3" r="0.65"/><circle cx="254.7" cy="248.5" r="0.65"/><circle cx="248.3" cy="254.6" r="0.65"/><circle cx="248.7" cy="253.9" r="0.65"/><circle cx="246.3" cy="253.8" r="0.65"/><circle cx="254.5" cy="249.5" r="0.65"/><circle cx="248.7" cy="256.4" r="0.65"/><circle cx="252.3" cy="249.1" r="0.65"/><circle cx="244.7" cy="252.4" r="0.65"/><circle cx="256.3" cy="248.7" r="0.65"/><circle cx="252.2" cy="252.5" r="0.65"/><circle cx="247.7" cy="252.4" r="0.65"/><circle cx="254.4" cy="250.0" r="0.65"/><circle cx="252.9" cy="252.5" r="0.65"/><circle cx="249.1" cy="249.2" r="0.65"/><circle cx="250.3" cy="250.3" r="0.65"/><circle cx="248.2" cy="256.0" r="0.65"/><circle cx="250.4" cy="252.1" r="0.65"/><circle cx="238.8" cy="257.3" r="0.65"/><circle cx="251.1" cy="253.4" r="0.65"/><circle cx="245.4" cy="253.9" r="0.65"/><circle cx="251.5" cy="249.0" r="0.65"/><circle cx="243.0" cy="254.2" r="0.65"/><circle cx="247.4" cy="247.4" r="0.65"/><circle cx="251.3" cy="255.6" r="0.65"/><circle cx="252.3" cy="250.2" r="0.65"/><circle cx="253.5" cy="249.4" r="0.65"/><circle cx="248.1" cy="256.7" r="0.65"/><circle cx="250.7" cy="253.0" r="0.65"/><circle cx="248.2" cy="258.1" r="0.65"/><circle cx="252.1" cy="251.1" r="0.65"/><circle cx="254.2" cy="251.0" r="0.65"/><circle cx="249.1" cy="255.6" r="0.65"/><circle cx="248.5" cy="255.7" r="0.65"/><circle cx="248.9" cy="255.3" r="0.65"/><circle cx="253.5" cy="252.7" r="0.65"/><circle cx="251.2" cy="252.7" r="0.65"/><circle cx="248.5" cy="258.6" r="0.65"/><circle cx="248.2" cy="254.5" r="0.65"/><circle cx="253.7" cy="255.4" r="0.65"/><circle cx="252.3" cy="250.8" r="0.65"/><circle cx="249.5" cy="253.3" r="0.65"/><circle cx="252.9" cy="251.8" r="0.65"/><circle cx="258.3" cy="257.8" r="0.65"/><circle cx="246.3" cy="248.3" r="0.65"/><circle cx="251.3" cy="258.0" r="0.65"/><circle cx="241.4" cy="258.4" r="0.65"/><circle cx="244.1" cy="259.2" r="0.65"/><circle cx="247.4" cy="254.2" r="0.65"/><circle cx="245.4" cy="254.2" r="0.65"/><circle cx="247.8" cy="251.2" r="0.65"/><circle cx="244.8" cy="254.2" r="0.65"/><circle cx="250.1" cy="250.8" r="0.65"/><circle cx="245.3" cy="253.9" r="0.65"/><circle cx="244.9" cy="252.0" r="0.65"/><circle cx="251.4" cy="249.7" r="0.65"/><circle cx="248.6" cy="248.7" r="0.65"/><circle cx="247.8" cy="257.9" r="0.65"/><circle cx="246.9" cy="253.8" r="0.65"/><circle cx="253.5" cy="253.8" r="0.65"/><circle cx="247.5" cy="251.9" r="0.65"/><circle cx="244.9" cy="251.5" r="0.65"/><circle cx="251.4" cy="255.5" r="0.65"/><circle cx="249.3" cy="255.0" r="0.65"/><circle cx="246.3" cy="252.9" r="0.65"/><circle cx="248.4" cy="250.9" r="0.65"/><circle cx="249.8" cy="257.4" r="0.65"/><circle cx="250.3" cy="251.0" r="0.65"/><circle cx="250.8" cy="256.7" r="0.65"/><circle cx="247.3" cy="256.9" r="0.65"/><circle cx="248.6" cy="255.3" r="0.65"/><circle cx="252.8" cy="251.5" r="0.65"/><circle cx="258.8" cy="249.9" r="0.65"/><circle cx="244.2" cy="254.7" r="0.65"/><circle cx="256.1" cy="252.9" r="0.65"/><circle cx="250.1" cy="250.6" r="0.65"/><circle cx="254.7" cy="249.1" r="0.65"/><circle cx="249.3" cy="256.2" r="0.65"/><circle cx="247.6" cy="251.9" r="0.65"/><circle cx="243.9" cy="253.8" r="0.65"/><circle cx="255.3" cy="255.2" r="0.65"/><circle cx="252.3" cy="254.7" r="0.65"/><circle cx="246.8" cy="252.5" r="0.65"/><circle cx="251.9" cy="252.9" r="0.65"/><circle cx="251.3" cy="250.9" r="0.65"/><circle cx="256.0" cy="254.3" r="0.65"/><circle cx="246.1" cy="249.2" r="0.65"/><circle cx="252.6" cy="254.3" r="0.65"/><circle cx="251.9" cy="248.3" r="0.65"/><circle cx="248.3" cy="252.4" r="0.65"/><circle cx="252.9" cy="254.1" r="0.65"/><circle cx="245.7" cy="251.6" r="0.65"/><circle cx="249.6" cy="252.5" r="0.65"/><circle cx="246.9" cy="251.9" r="0.65"/><circle cx="253.2" cy="252.2" r="0.65"/><circle cx="249.9" cy="255.4" r="0.65"/><circle cx="247.4" cy="256.9" r="0.65"/><circle cx="249.9" cy="252.5" r="0.65"/><circle cx="247.3" cy="256.8" r="0.65"/><circle cx="249.0" cy="251.5" r="0.65"/><circle cx="254.6" cy="256.8" r="0.65"/><circle cx="250.1" cy="249.4" r="0.65"/><circle cx="246.7" cy="254.7" r="0.65"/><circle cx="252.8" cy="251.9" r="0.65"/><circle cx="246.6" cy="256.5" r="0.65"/><circle cx="247.8" cy="253.5" r="0.65"/><circle cx="250.4" cy="250.7" r="0.65"/><circle cx="246.6" cy="252.4" r="0.65"/><circle cx="251.1" cy="253.6" r="0.65"/><circle cx="252.3" cy="252.7" r="0.65"/><circle cx="251.3" cy="254.3" r="0.65"/><circle cx="246.6" cy="255.0" r="0.65"/><circle cx="256.0" cy="250.7" r="0.65"/><circle cx="250.7" cy="254.8" r="0.65"/><circle cx="250.3" cy="256.0" r="0.65"/><circle cx="250.9" cy="252.9" r="0.65"/><circle cx="247.7" cy="252.1" r="0.65"/><circle cx="245.1" cy="257.2" r="0.65"/></g>
<line x1="260.99" y1="197.20" x2="260.99" y2="266.60" stroke="#ff4a4a" stroke-width="0.8" />
<line x1="235.30" y1="243.70" x2="305.20" y2="243.70" stroke="#ff4a4a" stroke-width="0.8" />
<circle cx="260.99" cy="212.50" r="1.6" fill="#ff0000"/>
<circle cx="290.40" cy="243.70" r="1.6" fill="#ff0000"/>
<circle cx="260.99" cy="243.70" r="1.7" fill="#fff" stroke="#ff2020" stroke-width="0.8"/>
<rect x="235.30" y="197.20" width="69.90" height="69.40" fill="none" stroke="#8a8a8a" stroke-width="0.9" />
<line x1="235.30" y1="197.20" x2="235.30" y2="266.60" stroke="#555" stroke-width="1" />
<line x1="235.30" y1="266.60" x2="305.20" y2="266.60" stroke="#555" stroke-width="1" />
<line x1="235.30" y1="266.60" x2="235.30" y2="267.90" stroke="#444" stroke-width="0.6" />
<text x="235.30" y="275.00" font-size="7.6" text-anchor="middle" fill="#222" >0</text>
<line x1="234.00" y1="266.60" x2="235.30" y2="266.60" stroke="#444" stroke-width="0.6" />
<text x="230.90" y="269.10" font-size="7.6" text-anchor="middle" fill="#222" >0</text>
<line x1="252.78" y1="266.60" x2="252.78" y2="267.90" stroke="#444" stroke-width="0.6" />
<text x="252.78" y="275.00" font-size="7.6" text-anchor="middle" fill="#222" >1</text>
<line x1="234.00" y1="249.25" x2="235.30" y2="249.25" stroke="#444" stroke-width="0.6" />
<text x="230.90" y="251.75" font-size="7.6" text-anchor="middle" fill="#222" >1</text>
<line x1="270.25" y1="266.60" x2="270.25" y2="267.90" stroke="#444" stroke-width="0.6" />
<text x="270.25" y="275.00" font-size="7.6" text-anchor="middle" fill="#222" >2</text>
<line x1="234.00" y1="231.90" x2="235.30" y2="231.90" stroke="#444" stroke-width="0.6" />
<text x="230.90" y="234.40" font-size="7.6" text-anchor="middle" fill="#222" >2</text>
<line x1="287.73" y1="266.60" x2="287.73" y2="267.90" stroke="#444" stroke-width="0.6" />
<text x="287.73" y="275.00" font-size="7.6" text-anchor="middle" fill="#222" >3</text>
<line x1="234.00" y1="214.55" x2="235.30" y2="214.55" stroke="#444" stroke-width="0.6" />
<text x="230.90" y="217.05" font-size="7.6" text-anchor="middle" fill="#222" >3</text>
<line x1="305.20" y1="266.60" x2="305.20" y2="267.90" stroke="#444" stroke-width="0.6" />
<text x="305.20" y="275.00" font-size="7.6" text-anchor="middle" fill="#222" >4</text>
<line x1="234.00" y1="197.20" x2="235.30" y2="197.20" stroke="#444" stroke-width="0.6" />
<text x="230.90" y="199.70" font-size="7.6" text-anchor="middle" fill="#222" >4</text>
<line x1="234.60" y1="266.60" x2="235.30" y2="266.60" stroke="#666" stroke-width="0.4" />
<line x1="235.30" y1="266.60" x2="235.30" y2="267.30" stroke="#666" stroke-width="0.4" />
<line x1="234.60" y1="262.26" x2="235.30" y2="262.26" stroke="#666" stroke-width="0.4" />
<line x1="239.67" y1="266.60" x2="239.67" y2="267.30" stroke="#666" stroke-width="0.4" />
<line x1="234.60" y1="257.93" x2="235.30" y2="257.93" stroke="#666" stroke-width="0.4" />
<line x1="244.04" y1="266.60" x2="244.04" y2="267.30" stroke="#666" stroke-width="0.4" />
<line x1="234.60" y1="253.59" x2="235.30" y2="253.59" stroke="#666" stroke-width="0.4" />
<line x1="248.41" y1="266.60" x2="248.41" y2="267.30" stroke="#666" stroke-width="0.4" />
<line x1="234.60" y1="249.25" x2="235.30" y2="249.25" stroke="#666" stroke-width="0.4" />
<line x1="252.78" y1="266.60" x2="252.78" y2="267.30" stroke="#666" stroke-width="0.4" />
<line x1="234.60" y1="244.91" x2="235.30" y2="244.91" stroke="#666" stroke-width="0.4" />
<line x1="257.14" y1="266.60" x2="257.14" y2="267.30" stroke="#666" stroke-width="0.4" />
<line x1="234.60" y1="240.58" x2="235.30" y2="240.58" stroke="#666" stroke-width="0.4" />
<line x1="261.51" y1="266.60" x2="261.51" y2="267.30" stroke="#666" stroke-width="0.4" />
<line x1="234.60" y1="236.24" x2="235.30" y2="236.24" stroke="#666" stroke-width="0.4" />
<line x1="265.88" y1="266.60" x2="265.88" y2="267.30" stroke="#666" stroke-width="0.4" />
<line x1="234.60" y1="231.90" x2="235.30" y2="231.90" stroke="#666" stroke-width="0.4" />
<line x1="270.25" y1="266.60" x2="270.25" y2="267.30" stroke="#666" stroke-width="0.4" />
<line x1="234.60" y1="227.56" x2="235.30" y2="227.56" stroke="#666" stroke-width="0.4" />
<line x1="274.62" y1="266.60" x2="274.62" y2="267.30" stroke="#666" stroke-width="0.4" />
<line x1="234.60" y1="223.22" x2="235.30" y2="223.22" stroke="#666" stroke-width="0.4" />
<line x1="278.99" y1="266.60" x2="278.99" y2="267.30" stroke="#666" stroke-width="0.4" />
<line x1="234.60" y1="218.89" x2="235.30" y2="218.89" stroke="#666" stroke-width="0.4" />
<line x1="283.36" y1="266.60" x2="283.36" y2="267.30" stroke="#666" stroke-width="0.4" />
<line x1="234.60" y1="214.55" x2="235.30" y2="214.55" stroke="#666" stroke-width="0.4" />
<line x1="287.73" y1="266.60" x2="287.73" y2="267.30" stroke="#666" stroke-width="0.4" />
<line x1="234.60" y1="210.21" x2="235.30" y2="210.21" stroke="#666" stroke-width="0.4" />
<line x1="292.09" y1="266.60" x2="292.09" y2="267.30" stroke="#666" stroke-width="0.4" />
<line x1="234.60" y1="205.88" x2="235.30" y2="205.88" stroke="#666" stroke-width="0.4" />
<line x1="296.46" y1="266.60" x2="296.46" y2="267.30" stroke="#666" stroke-width="0.4" />
<line x1="234.60" y1="201.54" x2="235.30" y2="201.54" stroke="#666" stroke-width="0.4" />
<line x1="300.83" y1="266.60" x2="300.83" y2="267.30" stroke="#666" stroke-width="0.4" />
<text x="237.30" y="203.00" font-size="6.7" text-anchor="start" fill="#222" >Dead</text>
<text x="237.30" y="209.80" font-size="6.7" text-anchor="start" fill="#222"  textLength="16.70" lengthAdjust="spacingAndGlyphs">2.54 %</text>
<text x="304.20" y="203.00" font-size="6.7" text-anchor="end" fill="#222"  textLength="45.00" lengthAdjust="spacingAndGlyphs">Late Apop./Dead</text>
<text x="304.20" y="209.80" font-size="6.7" text-anchor="end" fill="#222"  textLength="16.70" lengthAdjust="spacingAndGlyphs">7.12 %</text>
<text x="237.30" y="256.60" font-size="6.7" text-anchor="start" fill="#222"  textLength="19.65" lengthAdjust="spacingAndGlyphs">85.51 %</text>
<text x="237.30" y="263.30" font-size="6.7" text-anchor="start" fill="#222" >Live</text>
<text x="304.20" y="256.60" font-size="6.7" text-anchor="end" fill="#222"  textLength="16.70" lengthAdjust="spacingAndGlyphs">4.83 %</text>
<text x="304.20" y="263.30" font-size="6.7" text-anchor="end" fill="#222"  textLength="31.30" lengthAdjust="spacingAndGlyphs">Early Apop.</text>
<rect x="326.50" y="243.70" width="25.69" height="22.90" fill="#e0efda" stroke="none" stroke-width="1" />
<g fill="#ff3a3a" fill-opacity="0.28"><circle cx="328.5" cy="257.8" r="0.50"/><circle cx="331.2" cy="257.0" r="0.50"/><circle cx="342.3" cy="251.0" r="0.50"/><circle cx="351.0" cy="262.5" r="0.50"/><circle cx="346.4" cy="252.3" r="0.50"/><circle cx="332.3" cy="254.5" r="0.50"/><circle cx="332.5" cy="246.8" r="0.50"/><circle cx="335.4" cy="258.2" r="0.50"/><circle cx="329.4" cy="261.7" r="0.50"/><circle cx="335.3" cy="255.5" r="0.50"/><circle cx="330.0" cy="253.6" r="0.50"/><circle cx="330.7" cy="258.1" r="0.50"/><circle cx="343.7" cy="247.5" r="0.50"/><circle cx="333.1" cy="245.5" r="0.50"/><circle cx="332.9" cy="248.5" r="0.50"/><circle cx="337.4" cy="256.8" r="0.50"/><circle cx="335.8" cy="256.5" r="0.50"/><circle cx="337.6" cy="254.7" r="0.50"/><circle cx="335.0" cy="259.8" r="0.50"/><circle cx="339.3" cy="249.0" r="0.50"/><circle cx="328.5" cy="255.7" r="0.50"/><circle cx="342.5" cy="248.9" r="0.50"/><circle cx="330.2" cy="241.8" r="0.50"/><circle cx="330.3" cy="251.4" r="0.50"/><circle cx="338.8" cy="239.9" r="0.50"/><circle cx="331.5" cy="248.1" r="0.50"/><circle cx="339.7" cy="258.6" r="0.50"/><circle cx="336.3" cy="258.8" r="0.50"/><circle cx="337.8" cy="253.2" r="0.50"/><circle cx="338.4" cy="248.5" r="0.50"/><circle cx="336.6" cy="258.7" r="0.50"/><circle cx="341.2" cy="248.3" r="0.50"/><circle cx="340.4" cy="256.2" r="0.50"/><circle cx="329.0" cy="257.6" r="0.50"/><circle cx="343.9" cy="252.0" r="0.50"/><circle cx="341.5" cy="256.0" r="0.50"/><circle cx="351.5" cy="247.4" r="0.50"/><circle cx="340.9" cy="250.8" r="0.50"/><circle cx="335.8" cy="255.6" r="0.50"/><circle cx="333.4" cy="252.9" r="0.50"/><circle cx="334.8" cy="254.5" r="0.50"/><circle cx="339.1" cy="250.9" r="0.50"/><circle cx="338.9" cy="252.9" r="0.50"/><circle cx="339.1" cy="247.8" r="0.50"/><circle cx="345.0" cy="245.5" r="0.50"/><circle cx="331.3" cy="253.1" r="0.50"/><circle cx="336.9" cy="243.9" r="0.50"/><circle cx="347.7" cy="250.1" r="0.50"/><circle cx="350.5" cy="244.7" r="0.50"/><circle cx="327.8" cy="251.7" r="0.50"/><circle cx="338.3" cy="256.0" r="0.50"/><circle cx="346.5" cy="249.6" r="0.50"/><circle cx="334.6" cy="248.4" r="0.50"/><circle cx="339.2" cy="248.6" r="0.50"/><circle cx="334.2" cy="247.7" r="0.50"/><circle cx="334.3" cy="250.6" r="0.50"/><circle cx="334.2" cy="256.5" r="0.50"/><circle cx="338.8" cy="260.1" r="0.50"/><circle cx="336.6" cy="251.7" r="0.50"/><circle cx="327.4" cy="256.1" r="0.50"/><circle cx="334.8" cy="259.8" r="0.50"/><circle cx="333.0" cy="239.8" r="0.50"/><circle cx="353.5" cy="262.2" r="0.50"/><circle cx="341.4" cy="255.1" r="0.50"/><circle cx="340.1" cy="260.7" r="0.50"/><circle cx="343.4" cy="235.3" r="0.50"/><circle cx="328.1" cy="263.6" r="0.50"/><circle cx="333.3" cy="255.7" r="0.50"/><circle cx="339.1" cy="256.6" r="0.50"/><circle cx="335.5" cy="247.0" r="0.50"/><circle cx="338.9" cy="248.3" r="0.50"/><circle cx="335.4" cy="256.9" r="0.50"/><circle cx="334.3" cy="256.9" r="0.50"/><circle cx="335.3" cy="256.1" r="0.50"/><circle cx="342.9" cy="240.6" r="0.50"/><circle cx="330.1" cy="251.7" r="0.50"/><circle cx="328.1" cy="249.7" r="0.50"/><circle cx="335.5" cy="262.4" r="0.50"/><circle cx="328.3" cy="251.6" r="0.50"/><circle cx="331.4" cy="255.5" r="0.50"/><circle cx="354.2" cy="256.1" r="0.50"/><circle cx="336.8" cy="245.4" r="0.50"/><circle cx="343.7" cy="263.0" r="0.50"/><circle cx="334.7" cy="245.2" r="0.50"/><circle cx="329.8" cy="254.7" r="0.50"/><circle cx="327.2" cy="248.6" r="0.50"/><circle cx="343.9" cy="262.0" r="0.50"/><circle cx="333.9" cy="257.7" r="0.50"/><circle cx="341.4" cy="247.8" r="0.50"/><circle cx="337.7" cy="249.4" r="0.50"/><circle cx="339.5" cy="252.0" r="0.50"/><circle cx="335.0" cy="258.4" r="0.50"/><circle cx="339.9" cy="257.9" r="0.50"/><circle cx="339.7" cy="257.7" r="0.50"/><circle cx="335.3" cy="249.2" r="0.50"/><circle cx="343.9" cy="252.8" r="0.50"/><circle cx="335.3" cy="254.0" r="0.50"/><circle cx="340.7" cy="257.8" r="0.50"/><circle cx="354.8" cy="251.6" r="0.50"/><circle cx="336.9" cy="250.2" r="0.50"/><circle cx="339.4" cy="253.6" r="0.50"/><circle cx="333.7" cy="261.8" r="0.50"/><circle cx="330.6" cy="255.4" r="0.50"/><circle cx="331.7" cy="241.1" r="0.50"/><circle cx="339.0" cy="255.9" r="0.50"/><circle cx="337.0" cy="255.2" r="0.50"/><circle cx="332.9" cy="264.6" r="0.50"/><circle cx="333.0" cy="261.4" r="0.50"/><circle cx="337.7" cy="257.1" r="0.50"/><circle cx="330.5" cy="256.4" r="0.50"/><circle cx="332.3" cy="252.9" r="0.50"/><circle cx="333.6" cy="261.7" r="0.50"/><circle cx="338.0" cy="261.7" r="0.50"/><circle cx="339.7" cy="260.4" r="0.50"/><circle cx="328.4" cy="244.6" r="0.50"/><circle cx="333.8" cy="253.0" r="0.50"/><circle cx="330.4" cy="247.9" r="0.50"/><circle cx="345.7" cy="256.3" r="0.50"/><circle cx="337.5" cy="260.1" r="0.50"/><circle cx="334.7" cy="252.3" r="0.50"/><circle cx="336.2" cy="246.2" r="0.50"/><circle cx="339.1" cy="255.8" r="0.50"/><circle cx="341.7" cy="248.8" r="0.50"/><circle cx="327.0" cy="244.4" r="0.50"/><circle cx="344.1" cy="253.4" r="0.50"/><circle cx="338.9" cy="261.4" r="0.50"/><circle cx="345.2" cy="240.2" r="0.50"/><circle cx="337.4" cy="252.3" r="0.50"/><circle cx="334.8" cy="254.4" r="0.50"/><circle cx="328.6" cy="254.9" r="0.50"/><circle cx="343.4" cy="254.9" r="0.50"/><circle cx="343.6" cy="261.0" r="0.50"/><circle cx="331.5" cy="257.2" r="0.50"/><circle cx="333.2" cy="248.9" r="0.50"/><circle cx="327.8" cy="250.9" r="0.50"/><circle cx="329.6" cy="255.6" r="0.50"/><circle cx="338.1" cy="249.5" r="0.50"/><circle cx="339.4" cy="253.8" r="0.50"/><circle cx="343.3" cy="251.4" r="0.50"/><circle cx="342.0" cy="260.8" r="0.50"/><circle cx="349.8" cy="254.6" r="0.50"/><circle cx="327.8" cy="259.4" r="0.50"/><circle cx="343.3" cy="252.9" r="0.50"/><circle cx="335.4" cy="247.0" r="0.50"/><circle cx="344.5" cy="250.5" r="0.50"/><circle cx="330.0" cy="250.9" r="0.50"/><circle cx="333.3" cy="253.5" r="0.50"/><circle cx="334.6" cy="264.4" r="0.50"/><circle cx="333.1" cy="256.5" r="0.50"/><circle cx="348.4" cy="253.4" r="0.50"/><circle cx="350.6" cy="249.1" r="0.50"/><circle cx="333.1" cy="258.7" r="0.50"/><circle cx="348.1" cy="257.5" r="0.50"/><circle cx="340.5" cy="256.3" r="0.50"/><circle cx="329.8" cy="257.9" r="0.50"/><circle cx="332.6" cy="246.2" r="0.50"/><circle cx="331.2" cy="258.5" r="0.50"/><circle cx="344.1" cy="252.1" r="0.50"/><circle cx="346.2" cy="254.4" r="0.50"/><circle cx="337.3" cy="254.6" r="0.50"/><circle cx="329.7" cy="245.4" r="0.50"/><circle cx="348.2" cy="249.1" r="0.50"/><circle cx="346.5" cy="251.4" r="0.50"/><circle cx="337.8" cy="258.0" r="0.50"/><circle cx="332.3" cy="252.4" r="0.50"/><circle cx="333.6" cy="261.2" r="0.50"/><circle cx="331.0" cy="258.2" r="0.50"/><circle cx="336.3" cy="247.9" r="0.50"/><circle cx="331.0" cy="251.9" r="0.50"/><circle cx="337.6" cy="257.4" r="0.50"/><circle cx="337.4" cy="254.7" r="0.50"/><circle cx="335.0" cy="248.3" r="0.50"/><circle cx="340.1" cy="255.1" r="0.50"/><circle cx="340.1" cy="258.5" r="0.50"/><circle cx="342.1" cy="251.6" r="0.50"/><circle cx="338.3" cy="251.7" r="0.50"/><circle cx="332.3" cy="247.0" r="0.50"/><circle cx="332.8" cy="256.3" r="0.50"/><circle cx="338.9" cy="260.2" r="0.50"/><circle cx="344.6" cy="245.3" r="0.50"/><circle cx="338.3" cy="257.6" r="0.50"/><circle cx="348.5" cy="256.3" r="0.50"/><circle cx="336.2" cy="254.2" r="0.50"/><circle cx="345.3" cy="260.6" r="0.50"/><circle cx="346.3" cy="247.6" r="0.50"/><circle cx="337.6" cy="261.9" r="0.50"/><circle cx="329.6" cy="246.3" r="0.50"/><circle cx="341.7" cy="255.9" r="0.50"/><circle cx="331.6" cy="262.7" r="0.50"/><circle cx="341.6" cy="259.3" r="0.50"/><circle cx="335.2" cy="250.5" r="0.50"/><circle cx="332.3" cy="255.8" r="0.50"/><circle cx="345.9" cy="261.8" r="0.50"/><circle cx="336.7" cy="246.0" r="0.50"/><circle cx="334.4" cy="257.2" r="0.50"/><circle cx="338.3" cy="263.2" r="0.50"/><circle cx="335.0" cy="252.3" r="0.50"/><circle cx="333.6" cy="245.7" r="0.50"/><circle cx="338.0" cy="252.0" r="0.50"/><circle cx="327.3" cy="246.7" r="0.50"/><circle cx="337.6" cy="252.4" r="0.50"/><circle cx="336.2" cy="256.8" r="0.50"/><circle cx="334.6" cy="256.7" r="0.50"/><circle cx="336.3" cy="246.4" r="0.50"/><circle cx="341.4" cy="257.6" r="0.50"/><circle cx="334.4" cy="254.3" r="0.50"/><circle cx="333.2" cy="251.5" r="0.50"/><circle cx="338.9" cy="262.4" r="0.50"/><circle cx="338.0" cy="260.7" r="0.50"/><circle cx="334.9" cy="257.3" r="0.50"/><circle cx="331.5" cy="252.2" r="0.50"/><circle cx="333.7" cy="246.1" r="0.50"/><circle cx="337.6" cy="249.5" r="0.50"/><circle cx="333.1" cy="244.3" r="0.50"/><circle cx="330.7" cy="260.0" r="0.50"/><circle cx="343.6" cy="255.5" r="0.50"/><circle cx="335.9" cy="250.3" r="0.50"/><circle cx="343.0" cy="249.5" r="0.50"/><circle cx="336.6" cy="257.5" r="0.50"/><circle cx="329.0" cy="254.9" r="0.50"/><circle cx="344.4" cy="262.9" r="0.50"/><circle cx="333.4" cy="252.9" r="0.50"/><circle cx="328.2" cy="262.4" r="0.50"/><circle cx="345.7" cy="256.7" r="0.50"/><circle cx="333.0" cy="248.8" r="0.50"/><circle cx="334.2" cy="249.0" r="0.50"/><circle cx="350.0" cy="259.3" r="0.50"/><circle cx="346.7" cy="243.5" r="0.50"/></g>
<g fill="#ff2020" fill-opacity="0.55"><circle cx="342.6" cy="254.0" r="0.45"/><circle cx="344.1" cy="255.2" r="0.45"/><circle cx="353.9" cy="247.5" r="0.45"/><circle cx="347.8" cy="253.6" r="0.45"/><circle cx="341.8" cy="250.8" r="0.45"/><circle cx="345.4" cy="252.2" r="0.45"/><circle cx="344.7" cy="251.1" r="0.45"/><circle cx="359.3" cy="246.3" r="0.45"/><circle cx="351.5" cy="255.8" r="0.45"/><circle cx="353.2" cy="251.8" r="0.45"/><circle cx="365.5" cy="245.7" r="0.45"/><circle cx="350.0" cy="250.4" r="0.45"/><circle cx="363.5" cy="243.8" r="0.45"/><circle cx="350.7" cy="251.0" r="0.45"/><circle cx="343.1" cy="250.4" r="0.45"/><circle cx="359.0" cy="249.9" r="0.45"/><circle cx="353.5" cy="250.3" r="0.45"/><circle cx="347.4" cy="255.2" r="0.45"/><circle cx="348.8" cy="250.2" r="0.45"/><circle cx="344.9" cy="249.3" r="0.45"/><circle cx="361.0" cy="251.5" r="0.45"/><circle cx="358.9" cy="248.4" r="0.45"/><circle cx="344.7" cy="250.7" r="0.45"/><circle cx="361.5" cy="248.1" r="0.45"/><circle cx="351.0" cy="253.1" r="0.45"/><circle cx="356.3" cy="250.2" r="0.45"/><circle cx="347.7" cy="253.4" r="0.45"/><circle cx="354.9" cy="245.4" r="0.45"/><circle cx="349.4" cy="251.4" r="0.45"/><circle cx="367.1" cy="247.6" r="0.45"/><circle cx="358.8" cy="246.9" r="0.45"/><circle cx="344.2" cy="253.8" r="0.45"/><circle cx="356.0" cy="248.2" r="0.45"/><circle cx="353.5" cy="251.6" r="0.45"/><circle cx="342.3" cy="255.4" r="0.45"/><circle cx="356.2" cy="246.4" r="0.45"/><circle cx="344.7" cy="252.2" r="0.45"/><circle cx="350.7" cy="249.8" r="0.45"/><circle cx="363.0" cy="249.5" r="0.45"/><circle cx="342.9" cy="254.3" r="0.45"/><circle cx="350.7" cy="249.8" r="0.45"/><circle cx="364.0" cy="246.2" r="0.45"/><circle cx="364.4" cy="247.6" r="0.45"/><circle cx="360.1" cy="250.5" r="0.45"/><circle cx="343.5" cy="254.8" r="0.45"/><circle cx="345.6" cy="251.6" r="0.45"/><circle cx="341.6" cy="251.7" r="0.45"/><circle cx="351.3" cy="247.7" r="0.45"/><circle cx="340.5" cy="249.5" r="0.45"/><circle cx="369.3" cy="248.2" r="0.45"/><circle cx="355.4" cy="252.7" r="0.45"/><circle cx="343.9" cy="252.6" r="0.45"/><circle cx="364.6" cy="244.5" r="0.45"/><circle cx="358.0" cy="248.1" r="0.45"/><circle cx="364.5" cy="251.4" r="0.45"/><circle cx="351.2" cy="249.2" r="0.45"/><circle cx="357.9" cy="247.0" r="0.45"/><circle cx="346.1" cy="255.3" r="0.45"/><circle cx="362.3" cy="245.5" r="0.45"/><circle cx="353.8" cy="254.6" r="0.45"/><circle cx="348.5" cy="253.7" r="0.45"/><circle cx="365.5" cy="249.2" r="0.45"/><circle cx="348.9" cy="247.4" r="0.45"/><circle cx="362.8" cy="246.4" r="0.45"/><circle cx="346.3" cy="253.1" r="0.45"/><circle cx="360.2" cy="247.6" r="0.45"/><circle cx="351.9" cy="248.6" r="0.45"/><circle cx="344.5" cy="254.2" r="0.45"/><circle cx="342.6" cy="256.0" r="0.45"/><circle cx="361.2" cy="251.7" r="0.45"/><circle cx="344.7" cy="253.8" r="0.45"/><circle cx="364.3" cy="245.4" r="0.45"/><circle cx="363.9" cy="245.4" r="0.45"/><circle cx="366.6" cy="248.2" r="0.45"/><circle cx="351.8" cy="245.4" r="0.45"/><circle cx="361.6" cy="249.0" r="0.45"/><circle cx="356.2" cy="247.7" r="0.45"/><circle cx="352.7" cy="253.8" r="0.45"/><circle cx="347.8" cy="252.3" r="0.45"/><circle cx="354.8" cy="250.2" r="0.45"/><circle cx="365.8" cy="248.5" r="0.45"/><circle cx="366.3" cy="245.1" r="0.45"/><circle cx="361.4" cy="250.0" r="0.45"/><circle cx="369.5" cy="245.5" r="0.45"/><circle cx="347.1" cy="252.3" r="0.45"/><circle cx="348.4" cy="249.7" r="0.45"/><circle cx="347.5" cy="255.9" r="0.45"/><circle cx="353.2" cy="249.2" r="0.45"/><circle cx="352.6" cy="244.7" r="0.45"/><circle cx="367.9" cy="249.3" r="0.45"/><circle cx="344.9" cy="252.4" r="0.45"/><circle cx="337.3" cy="250.6" r="0.45"/><circle cx="366.1" cy="247.2" r="0.45"/><circle cx="348.2" cy="252.6" r="0.45"/><circle cx="340.7" cy="254.2" r="0.45"/><circle cx="355.7" cy="249.7" r="0.45"/><circle cx="347.7" cy="255.4" r="0.45"/><circle cx="357.4" cy="247.8" r="0.45"/><circle cx="350.6" cy="251.7" r="0.45"/><circle cx="359.2" cy="245.4" r="0.45"/><circle cx="368.8" cy="249.4" r="0.45"/><circle cx="354.2" cy="249.0" r="0.45"/><circle cx="362.3" cy="248.0" r="0.45"/><circle cx="340.8" cy="252.6" r="0.45"/><circle cx="360.4" cy="246.8" r="0.45"/><circle cx="351.0" cy="252.9" r="0.45"/><circle cx="351.3" cy="247.3" r="0.45"/><circle cx="356.7" cy="250.2" r="0.45"/><circle cx="354.1" cy="255.9" r="0.45"/><circle cx="369.9" cy="244.4" r="0.45"/><circle cx="363.7" cy="246.1" r="0.45"/><circle cx="353.2" cy="251.8" r="0.45"/><circle cx="344.9" cy="253.2" r="0.45"/><circle cx="361.7" cy="251.6" r="0.45"/><circle cx="365.6" cy="242.5" r="0.45"/><circle cx="336.9" cy="251.5" r="0.45"/><circle cx="344.6" cy="250.5" r="0.45"/><circle cx="345.5" cy="255.6" r="0.45"/><circle cx="344.4" cy="254.1" r="0.45"/><circle cx="358.9" cy="247.4" r="0.45"/><circle cx="347.9" cy="253.8" r="0.45"/><circle cx="354.3" cy="256.1" r="0.45"/><circle cx="365.5" cy="246.1" r="0.45"/><circle cx="358.3" cy="250.6" r="0.45"/><circle cx="360.3" cy="250.4" r="0.45"/><circle cx="356.4" cy="250.9" r="0.45"/><circle cx="368.4" cy="246.2" r="0.45"/><circle cx="359.4" cy="245.9" r="0.45"/><circle cx="352.9" cy="249.0" r="0.45"/><circle cx="356.2" cy="249.4" r="0.45"/><circle cx="343.2" cy="254.8" r="0.45"/><circle cx="348.8" cy="256.4" r="0.45"/><circle cx="366.1" cy="246.1" r="0.45"/><circle cx="359.6" cy="248.9" r="0.45"/><circle cx="340.6" cy="253.4" r="0.45"/><circle cx="358.0" cy="249.7" r="0.45"/><circle cx="342.8" cy="254.7" r="0.45"/><circle cx="339.1" cy="250.5" r="0.45"/><circle cx="347.5" cy="249.8" r="0.45"/><circle cx="341.5" cy="251.4" r="0.45"/><circle cx="349.2" cy="253.3" r="0.45"/><circle cx="341.6" cy="255.3" r="0.45"/><circle cx="370.7" cy="243.8" r="0.45"/><circle cx="357.9" cy="247.9" r="0.45"/><circle cx="357.1" cy="251.6" r="0.45"/><circle cx="351.4" cy="253.3" r="0.45"/><circle cx="352.5" cy="249.0" r="0.45"/><circle cx="361.8" cy="254.0" r="0.45"/><circle cx="354.4" cy="248.5" r="0.45"/><circle cx="357.4" cy="250.6" r="0.45"/><circle cx="362.1" cy="248.4" r="0.45"/><circle cx="364.5" cy="244.5" r="0.45"/><circle cx="366.1" cy="244.6" r="0.45"/><circle cx="371.7" cy="244.4" r="0.45"/><circle cx="352.8" cy="253.5" r="0.45"/><circle cx="367.6" cy="245.8" r="0.45"/><circle cx="345.8" cy="253.3" r="0.45"/><circle cx="338.8" cy="254.5" r="0.45"/><circle cx="347.4" cy="254.6" r="0.45"/><circle cx="366.5" cy="243.1" r="0.45"/><circle cx="354.5" cy="246.4" r="0.45"/><circle cx="342.3" cy="252.3" r="0.45"/><circle cx="365.3" cy="246.3" r="0.45"/><circle cx="344.4" cy="254.6" r="0.45"/><circle cx="344.3" cy="255.6" r="0.45"/><circle cx="351.8" cy="249.1" r="0.45"/><circle cx="375.0" cy="247.3" r="0.45"/><circle cx="360.5" cy="249.0" r="0.45"/><circle cx="344.5" cy="256.7" r="0.45"/><circle cx="356.8" cy="247.5" r="0.45"/><circle cx="366.8" cy="245.9" r="0.45"/><circle cx="348.5" cy="251.2" r="0.45"/><circle cx="373.3" cy="247.4" r="0.45"/><circle cx="341.1" cy="253.6" r="0.45"/><circle cx="362.3" cy="251.5" r="0.45"/><circle cx="363.2" cy="247.1" r="0.45"/><circle cx="346.2" cy="257.0" r="0.45"/><circle cx="354.6" cy="246.1" r="0.45"/><circle cx="343.9" cy="253.4" r="0.45"/><circle cx="365.7" cy="243.3" r="0.45"/><circle cx="356.5" cy="250.2" r="0.45"/><circle cx="368.3" cy="249.9" r="0.45"/><circle cx="343.3" cy="255.2" r="0.45"/><circle cx="344.4" cy="246.8" r="0.45"/><circle cx="341.7" cy="253.4" r="0.45"/><circle cx="366.0" cy="244.9" r="0.45"/><circle cx="354.4" cy="252.1" r="0.45"/><circle cx="351.0" cy="254.4" r="0.45"/><circle cx="364.3" cy="242.5" r="0.45"/><circle cx="358.6" cy="248.9" r="0.45"/><circle cx="356.6" cy="249.3" r="0.45"/><circle cx="349.0" cy="251.6" r="0.45"/><circle cx="359.9" cy="251.0" r="0.45"/><circle cx="345.0" cy="256.8" r="0.45"/><circle cx="357.7" cy="246.5" r="0.45"/><circle cx="350.4" cy="250.2" r="0.45"/><circle cx="361.3" cy="250.1" r="0.45"/><circle cx="344.8" cy="250.7" r="0.45"/><circle cx="341.9" cy="251.4" r="0.45"/><circle cx="355.9" cy="252.0" r="0.45"/><circle cx="353.8" cy="250.8" r="0.45"/><circle cx="357.2" cy="251.6" r="0.45"/><circle cx="363.8" cy="246.6" r="0.45"/><circle cx="345.4" cy="253.7" r="0.45"/><circle cx="342.1" cy="254.0" r="0.45"/><circle cx="345.7" cy="251.6" r="0.45"/><circle cx="342.1" cy="252.6" r="0.45"/><circle cx="346.6" cy="251.0" r="0.45"/><circle cx="353.6" cy="251.5" r="0.45"/><circle cx="360.9" cy="247.9" r="0.45"/><circle cx="348.8" cy="254.1" r="0.45"/><circle cx="348.1" cy="256.9" r="0.45"/><circle cx="340.7" cy="253.5" r="0.45"/><circle cx="342.4" cy="250.9" r="0.45"/><circle cx="356.4" cy="250.7" r="0.45"/><circle cx="350.5" cy="251.4" r="0.45"/><circle cx="368.2" cy="250.2" r="0.45"/><circle cx="343.4" cy="255.1" r="0.45"/><circle cx="350.9" cy="247.9" r="0.45"/><circle cx="365.1" cy="248.8" r="0.45"/><circle cx="367.7" cy="243.0" r="0.45"/><circle cx="359.2" cy="246.6" r="0.45"/><circle cx="344.1" cy="254.9" r="0.45"/><circle cx="343.7" cy="250.5" r="0.45"/><circle cx="352.7" cy="249.6" r="0.45"/><circle cx="362.4" cy="245.3" r="0.45"/><circle cx="345.1" cy="252.0" r="0.45"/><circle cx="340.0" cy="250.3" r="0.45"/><circle cx="360.0" cy="248.0" r="0.45"/><circle cx="355.8" cy="249.6" r="0.45"/><circle cx="340.3" cy="254.8" r="0.45"/><circle cx="343.6" cy="255.3" r="0.45"/><circle cx="353.9" cy="249.8" r="0.45"/><circle cx="366.1" cy="244.2" r="0.45"/><circle cx="358.9" cy="255.2" r="0.45"/><circle cx="358.1" cy="248.4" r="0.45"/><circle cx="364.6" cy="250.4" r="0.45"/><circle cx="362.5" cy="245.0" r="0.45"/><circle cx="352.4" cy="247.3" r="0.45"/><circle cx="345.4" cy="255.2" r="0.45"/><circle cx="350.3" cy="254.3" r="0.45"/><circle cx="374.5" cy="245.1" r="0.45"/><circle cx="345.7" cy="254.6" r="0.45"/><circle cx="365.7" cy="245.0" r="0.45"/><circle cx="339.3" cy="253.5" r="0.45"/><circle cx="350.7" cy="250.6" r="0.45"/><circle cx="344.5" cy="251.8" r="0.45"/><circle cx="346.1" cy="251.8" r="0.45"/><circle cx="350.7" cy="251.1" r="0.45"/><circle cx="357.5" cy="250.1" r="0.45"/><circle cx="347.6" cy="248.6" r="0.45"/><circle cx="353.5" cy="250.6" r="0.45"/><circle cx="344.9" cy="251.5" r="0.45"/><circle cx="345.6" cy="247.8" r="0.45"/><circle cx="345.8" cy="253.4" r="0.45"/><circle cx="353.9" cy="251.1" r="0.45"/><circle cx="355.4" cy="250.7" r="0.45"/><circle cx="353.8" cy="250.4" r="0.45"/><circle cx="358.7" cy="245.7" r="0.45"/><circle cx="349.9" cy="253.3" r="0.45"/><circle cx="364.0" cy="237.1" r="0.45"/><circle cx="353.9" cy="235.6" r="0.45"/><circle cx="361.9" cy="235.0" r="0.45"/><circle cx="355.7" cy="237.6" r="0.45"/><circle cx="369.1" cy="226.1" r="0.45"/><circle cx="368.3" cy="216.3" r="0.45"/><circle cx="367.6" cy="233.1" r="0.45"/><circle cx="364.1" cy="234.2" r="0.45"/><circle cx="363.1" cy="236.0" r="0.45"/><circle cx="367.6" cy="229.8" r="0.45"/><circle cx="363.7" cy="231.0" r="0.45"/><circle cx="366.4" cy="238.1" r="0.45"/><circle cx="361.0" cy="233.5" r="0.45"/><circle cx="372.1" cy="218.2" r="0.45"/><circle cx="372.5" cy="218.7" r="0.45"/><circle cx="356.8" cy="239.0" r="0.45"/><circle cx="363.2" cy="231.5" r="0.45"/><circle cx="366.3" cy="225.3" r="0.45"/><circle cx="377.0" cy="223.4" r="0.45"/><circle cx="376.1" cy="215.8" r="0.45"/><circle cx="364.4" cy="228.1" r="0.45"/><circle cx="374.3" cy="217.1" r="0.45"/><circle cx="375.6" cy="219.0" r="0.45"/><circle cx="357.0" cy="238.5" r="0.45"/><circle cx="370.9" cy="221.1" r="0.45"/><circle cx="377.5" cy="216.5" r="0.45"/><circle cx="360.4" cy="241.9" r="0.45"/><circle cx="373.4" cy="213.8" r="0.45"/><circle cx="362.9" cy="236.7" r="0.45"/><circle cx="354.1" cy="235.7" r="0.45"/><circle cx="363.2" cy="234.9" r="0.45"/><circle cx="364.3" cy="230.6" r="0.45"/><circle cx="364.1" cy="227.9" r="0.45"/><circle cx="370.1" cy="222.6" r="0.45"/><circle cx="362.7" cy="238.7" r="0.45"/><circle cx="375.1" cy="228.3" r="0.45"/><circle cx="375.0" cy="217.5" r="0.45"/><circle cx="359.9" cy="222.2" r="0.45"/><circle cx="368.4" cy="227.0" r="0.45"/><circle cx="357.5" cy="241.0" r="0.45"/><circle cx="371.6" cy="220.7" r="0.45"/><circle cx="373.0" cy="215.3" r="0.45"/><circle cx="375.3" cy="217.7" r="0.45"/><circle cx="368.1" cy="220.7" r="0.45"/><circle cx="356.5" cy="242.6" r="0.45"/><circle cx="368.2" cy="223.4" r="0.45"/><circle cx="361.0" cy="237.9" r="0.45"/><circle cx="360.4" cy="235.0" r="0.45"/><circle cx="361.3" cy="224.7" r="0.45"/><circle cx="366.9" cy="225.5" r="0.45"/><circle cx="369.0" cy="218.9" r="0.45"/><circle cx="370.8" cy="229.0" r="0.45"/><circle cx="358.9" cy="239.0" r="0.45"/><circle cx="364.9" cy="231.9" r="0.45"/><circle cx="363.9" cy="227.6" r="0.45"/><circle cx="349.2" cy="244.1" r="0.40"/><circle cx="345.5" cy="243.0" r="0.40"/><circle cx="347.3" cy="238.3" r="0.40"/><circle cx="345.0" cy="241.8" r="0.40"/><circle cx="347.9" cy="244.5" r="0.40"/><circle cx="345.8" cy="239.9" r="0.40"/><circle cx="351.4" cy="246.2" r="0.40"/><circle cx="349.9" cy="242.2" r="0.40"/><circle cx="351.9" cy="239.9" r="0.40"/><circle cx="354.3" cy="240.6" r="0.40"/><circle cx="373.3" cy="242.7" r="0.35"/><circle cx="357.6" cy="219.8" r="0.35"/><circle cx="338.9" cy="240.8" r="0.35"/><circle cx="380.5" cy="220.0" r="0.35"/><circle cx="367.1" cy="258.1" r="0.35"/><circle cx="342.7" cy="248.0" r="0.35"/><circle cx="330.3" cy="222.7" r="0.35"/><circle cx="366.3" cy="203.9" r="0.35"/><circle cx="365.1" cy="204.3" r="0.35"/><circle cx="359.4" cy="230.7" r="0.35"/><circle cx="346.9" cy="234.3" r="0.35"/><circle cx="390.5" cy="232.7" r="0.35"/><circle cx="328.4" cy="241.5" r="0.35"/><circle cx="341.4" cy="223.8" r="0.35"/><circle cx="362.1" cy="233.5" r="0.35"/><circle cx="389.8" cy="214.6" r="0.35"/><circle cx="334.0" cy="262.8" r="0.35"/><circle cx="374.8" cy="225.5" r="0.35"/><circle cx="371.6" cy="231.9" r="0.35"/><circle cx="330.6" cy="235.1" r="0.35"/><circle cx="383.7" cy="225.2" r="0.35"/><circle cx="331.2" cy="256.7" r="0.35"/></g>
<g fill="#ff0a0a" fill-opacity="0.5"><circle cx="343.1" cy="252.6" r="0.65"/><circle cx="337.6" cy="256.6" r="0.65"/><circle cx="337.3" cy="255.9" r="0.65"/><circle cx="336.2" cy="257.5" r="0.65"/><circle cx="334.1" cy="253.8" r="0.65"/><circle cx="338.0" cy="258.4" r="0.65"/><circle cx="344.7" cy="249.2" r="0.65"/><circle cx="336.7" cy="251.8" r="0.65"/><circle cx="332.0" cy="253.3" r="0.65"/><circle cx="342.9" cy="257.6" r="0.65"/><circle cx="333.8" cy="256.7" r="0.65"/><circle cx="337.2" cy="253.6" r="0.65"/><circle cx="331.3" cy="255.6" r="0.65"/><circle cx="333.2" cy="253.6" r="0.65"/><circle cx="334.2" cy="253.9" r="0.65"/><circle cx="340.7" cy="255.1" r="0.65"/><circle cx="332.4" cy="255.8" r="0.65"/><circle cx="336.1" cy="252.1" r="0.65"/><circle cx="332.1" cy="254.9" r="0.65"/><circle cx="340.8" cy="254.2" r="0.65"/><circle cx="336.4" cy="253.5" r="0.65"/><circle cx="337.9" cy="252.1" r="0.65"/><circle cx="337.7" cy="259.8" r="0.65"/><circle cx="336.7" cy="249.7" r="0.65"/><circle cx="331.9" cy="253.9" r="0.65"/><circle cx="335.1" cy="254.8" r="0.65"/><circle cx="341.1" cy="252.1" r="0.65"/><circle cx="334.8" cy="257.1" r="0.65"/><circle cx="342.0" cy="256.0" r="0.65"/><circle cx="335.7" cy="253.6" r="0.65"/><circle cx="331.1" cy="256.5" r="0.65"/><circle cx="336.3" cy="253.6" r="0.65"/><circle cx="335.1" cy="254.5" r="0.65"/><circle cx="335.7" cy="258.3" r="0.65"/><circle cx="335.4" cy="251.7" r="0.65"/><circle cx="336.4" cy="252.7" r="0.65"/><circle cx="338.9" cy="249.5" r="0.65"/><circle cx="330.5" cy="254.1" r="0.65"/><circle cx="332.3" cy="251.0" r="0.65"/><circle cx="331.7" cy="257.4" r="0.65"/><circle cx="332.4" cy="252.8" r="0.65"/><circle cx="339.7" cy="247.1" r="0.65"/><circle cx="334.0" cy="257.7" r="0.65"/><circle cx="335.0" cy="255.6" r="0.65"/><circle cx="334.8" cy="253.0" r="0.65"/><circle cx="336.4" cy="254.8" r="0.65"/><circle cx="329.2" cy="253.6" r="0.65"/><circle cx="337.3" cy="258.5" r="0.65"/><circle cx="335.3" cy="252.7" r="0.65"/><circle cx="335.2" cy="256.8" r="0.65"/><circle cx="335.5" cy="257.0" r="0.65"/><circle cx="336.4" cy="257.9" r="0.65"/><circle cx="340.4" cy="261.1" r="0.65"/><circle cx="328.3" cy="250.1" r="0.65"/><circle cx="343.6" cy="253.0" r="0.65"/><circle cx="340.6" cy="253.1" r="0.65"/><circle cx="331.3" cy="252.2" r="0.65"/><circle cx="335.1" cy="252.9" r="0.65"/><circle cx="337.1" cy="257.7" r="0.65"/><circle cx="336.3" cy="257.6" r="0.65"/><circle cx="342.2" cy="252.5" r="0.65"/><circle cx="336.9" cy="251.3" r="0.65"/><circle cx="339.0" cy="254.0" r="0.65"/><circle cx="333.0" cy="258.9" r="0.65"/><circle cx="333.5" cy="257.1" r="0.65"/><circle cx="335.5" cy="258.6" r="0.65"/><circle cx="337.4" cy="251.0" r="0.65"/><circle cx="331.3" cy="257.7" r="0.65"/><circle cx="337.1" cy="252.1" r="0.65"/><circle cx="335.2" cy="253.6" r="0.65"/><circle cx="332.7" cy="251.4" r="0.65"/><circle cx="334.1" cy="255.5" r="0.65"/><circle cx="335.9" cy="255.8" r="0.65"/><circle cx="336.1" cy="256.0" r="0.65"/><circle cx="338.4" cy="252.9" r="0.65"/><circle cx="333.2" cy="255.1" r="0.65"/><circle cx="342.6" cy="257.8" r="0.65"/><circle cx="334.8" cy="250.2" r="0.65"/><circle cx="334.5" cy="258.0" r="0.65"/><circle cx="335.8" cy="247.9" r="0.65"/><circle cx="336.7" cy="254.5" r="0.65"/><circle cx="334.6" cy="252.6" r="0.65"/><circle cx="337.3" cy="251.5" r="0.65"/><circle cx="336.8" cy="254.7" r="0.65"/><circle cx="337.7" cy="256.2" r="0.65"/><circle cx="344.0" cy="252.8" r="0.65"/><circle cx="335.8" cy="252.6" r="0.65"/><circle cx="338.7" cy="252.3" r="0.65"/><circle cx="337.8" cy="253.0" r="0.65"/><circle cx="336.1" cy="250.9" r="0.65"/><circle cx="333.2" cy="254.1" r="0.65"/><circle cx="329.9" cy="256.2" r="0.65"/><circle cx="335.6" cy="257.0" r="0.65"/><circle cx="341.8" cy="256.0" r="0.65"/><circle cx="332.3" cy="256.2" r="0.65"/><circle cx="335.2" cy="253.3" r="0.65"/><circle cx="339.9" cy="256.3" r="0.65"/><circle cx="342.9" cy="249.8" r="0.65"/><circle cx="336.8" cy="254.8" r="0.65"/><circle cx="335.3" cy="256.5" r="0.65"/><circle cx="329.3" cy="256.6" r="0.65"/><circle cx="333.6" cy="252.3" r="0.65"/><circle cx="334.9" cy="256.2" r="0.65"/><circle cx="333.4" cy="256.9" r="0.65"/><circle cx="338.5" cy="254.3" r="0.65"/><circle cx="335.9" cy="255.3" r="0.65"/><circle cx="335.8" cy="253.2" r="0.65"/><circle cx="338.8" cy="251.4" r="0.65"/><circle cx="339.1" cy="249.7" r="0.65"/><circle cx="340.3" cy="251.7" r="0.65"/><circle cx="337.3" cy="255.4" r="0.65"/><circle cx="337.4" cy="249.7" r="0.65"/><circle cx="327.7" cy="254.5" r="0.65"/><circle cx="334.2" cy="252.4" r="0.65"/><circle cx="339.4" cy="254.6" r="0.65"/><circle cx="343.7" cy="254.5" r="0.65"/><circle cx="337.5" cy="251.0" r="0.65"/><circle cx="337.8" cy="254.7" r="0.65"/><circle cx="339.8" cy="257.7" r="0.65"/><circle cx="336.1" cy="258.1" r="0.65"/><circle cx="343.6" cy="249.3" r="0.65"/><circle cx="341.2" cy="250.8" r="0.65"/><circle cx="335.6" cy="256.9" r="0.65"/><circle cx="334.6" cy="257.2" r="0.65"/><circle cx="336.1" cy="255.3" r="0.65"/><circle cx="339.4" cy="255.0" r="0.65"/><circle cx="337.5" cy="257.2" r="0.65"/><circle cx="337.3" cy="256.4" r="0.65"/><circle cx="335.3" cy="254.7" r="0.65"/><circle cx="334.6" cy="254.6" r="0.65"/><circle cx="339.6" cy="257.1" r="0.65"/><circle cx="327.3" cy="252.5" r="0.65"/><circle cx="344.8" cy="255.4" r="0.65"/><circle cx="341.1" cy="251.6" r="0.65"/><circle cx="335.4" cy="258.2" r="0.65"/><circle cx="344.4" cy="252.6" r="0.65"/><circle cx="331.5" cy="253.8" r="0.65"/><circle cx="337.3" cy="256.3" r="0.65"/><circle cx="344.3" cy="252.1" r="0.65"/><circle cx="336.0" cy="253.7" r="0.65"/><circle cx="343.9" cy="246.6" r="0.65"/><circle cx="335.9" cy="256.3" r="0.65"/><circle cx="340.9" cy="249.1" r="0.65"/><circle cx="333.6" cy="257.9" r="0.65"/><circle cx="338.7" cy="252.0" r="0.65"/><circle cx="336.4" cy="254.5" r="0.65"/><circle cx="335.0" cy="254.2" r="0.65"/><circle cx="337.8" cy="254.2" r="0.65"/><circle cx="342.9" cy="254.9" r="0.65"/><circle cx="336.0" cy="255.3" r="0.65"/><circle cx="334.7" cy="257.7" r="0.65"/><circle cx="334.1" cy="254.7" r="0.65"/><circle cx="329.5" cy="255.8" r="0.65"/><circle cx="341.2" cy="249.6" r="0.65"/><circle cx="333.6" cy="253.8" r="0.65"/><circle cx="336.4" cy="251.4" r="0.65"/><circle cx="333.2" cy="257.7" r="0.65"/><circle cx="339.5" cy="256.0" r="0.65"/><circle cx="336.3" cy="253.9" r="0.65"/><circle cx="334.6" cy="252.6" r="0.65"/><circle cx="338.8" cy="252.1" r="0.65"/><circle cx="344.2" cy="251.9" r="0.65"/><circle cx="328.6" cy="255.0" r="0.65"/><circle cx="334.2" cy="258.9" r="0.65"/><circle cx="336.3" cy="256.7" r="0.65"/><circle cx="335.8" cy="256.3" r="0.65"/><circle cx="331.5" cy="256.4" r="0.65"/><circle cx="336.5" cy="256.0" r="0.65"/><circle cx="332.3" cy="250.8" r="0.65"/><circle cx="339.5" cy="261.0" r="0.65"/><circle cx="338.0" cy="252.9" r="0.65"/><circle cx="340.7" cy="251.0" r="0.65"/><circle cx="336.0" cy="258.4" r="0.65"/><circle cx="336.9" cy="257.6" r="0.65"/><circle cx="328.5" cy="257.9" r="0.65"/><circle cx="332.9" cy="258.1" r="0.65"/><circle cx="332.5" cy="256.7" r="0.65"/><circle cx="336.3" cy="258.0" r="0.65"/><circle cx="338.8" cy="252.0" r="0.65"/><circle cx="332.7" cy="253.6" r="0.65"/><circle cx="332.9" cy="255.9" r="0.65"/><circle cx="333.1" cy="253.1" r="0.65"/><circle cx="329.3" cy="250.2" r="0.65"/><circle cx="336.7" cy="254.1" r="0.65"/><circle cx="335.5" cy="257.2" r="0.65"/><circle cx="331.4" cy="254.0" r="0.65"/><circle cx="334.3" cy="253.2" r="0.65"/><circle cx="343.5" cy="252.8" r="0.65"/><circle cx="338.9" cy="254.9" r="0.65"/><circle cx="332.9" cy="254.4" r="0.65"/><circle cx="343.3" cy="251.3" r="0.65"/><circle cx="337.5" cy="256.0" r="0.65"/><circle cx="335.9" cy="250.3" r="0.65"/><circle cx="337.3" cy="257.2" r="0.65"/><circle cx="334.1" cy="253.5" r="0.65"/><circle cx="338.3" cy="259.3" r="0.65"/><circle cx="337.2" cy="255.3" r="0.65"/><circle cx="327.3" cy="260.2" r="0.65"/><circle cx="335.2" cy="257.5" r="0.65"/><circle cx="336.9" cy="253.6" r="0.65"/><circle cx="336.0" cy="255.5" r="0.65"/><circle cx="338.1" cy="257.9" r="0.65"/><circle cx="328.5" cy="254.7" r="0.65"/><circle cx="340.7" cy="255.3" r="0.65"/><circle cx="340.1" cy="251.7" r="0.65"/><circle cx="333.7" cy="253.8" r="0.65"/><circle cx="341.5" cy="255.6" r="0.65"/><circle cx="338.0" cy="252.8" r="0.65"/><circle cx="333.5" cy="251.9" r="0.65"/><circle cx="334.3" cy="252.1" r="0.65"/><circle cx="337.0" cy="255.9" r="0.65"/><circle cx="335.5" cy="256.9" r="0.65"/><circle cx="344.6" cy="255.5" r="0.65"/><circle cx="333.8" cy="251.5" r="0.65"/><circle cx="339.0" cy="252.2" r="0.65"/><circle cx="332.4" cy="257.7" r="0.65"/><circle cx="335.6" cy="253.9" r="0.65"/></g>
<line x1="352.19" y1="197.20" x2="352.19" y2="266.60" stroke="#ff4a4a" stroke-width="0.8" />
<line x1="326.50" y1="243.70" x2="396.40" y2="243.70" stroke="#ff4a4a" stroke-width="0.8" />
<circle cx="352.19" cy="212.50" r="1.6" fill="#ff0000"/>
<circle cx="381.60" cy="243.70" r="1.6" fill="#ff0000"/>
<circle cx="352.19" cy="243.70" r="1.7" fill="#fff" stroke="#ff2020" stroke-width="0.8"/>
<rect x="326.50" y="197.20" width="69.90" height="69.40" fill="none" stroke="#8a8a8a" stroke-width="0.9" />
<line x1="326.50" y1="197.20" x2="326.50" y2="266.60" stroke="#555" stroke-width="1" />
<line x1="326.50" y1="266.60" x2="396.40" y2="266.60" stroke="#555" stroke-width="1" />
<line x1="326.50" y1="266.60" x2="326.50" y2="267.90" stroke="#444" stroke-width="0.6" />
<text x="326.50" y="275.00" font-size="7.6" text-anchor="middle" fill="#222" >0</text>
<line x1="325.20" y1="266.60" x2="326.50" y2="266.60" stroke="#444" stroke-width="0.6" />
<text x="322.10" y="269.10" font-size="7.6" text-anchor="middle" fill="#222" >0</text>
<line x1="343.98" y1="266.60" x2="343.98" y2="267.90" stroke="#444" stroke-width="0.6" />
<text x="343.98" y="275.00" font-size="7.6" text-anchor="middle" fill="#222" >1</text>
<line x1="325.20" y1="249.25" x2="326.50" y2="249.25" stroke="#444" stroke-width="0.6" />
<text x="322.10" y="251.75" font-size="7.6" text-anchor="middle" fill="#222" >1</text>
<line x1="361.45" y1="266.60" x2="361.45" y2="267.90" stroke="#444" stroke-width="0.6" />
<text x="361.45" y="275.00" font-size="7.6" text-anchor="middle" fill="#222" >2</text>
<line x1="325.20" y1="231.90" x2="326.50" y2="231.90" stroke="#444" stroke-width="0.6" />
<text x="322.10" y="234.40" font-size="7.6" text-anchor="middle" fill="#222" >2</text>
<line x1="378.93" y1="266.60" x2="378.93" y2="267.90" stroke="#444" stroke-width="0.6" />
<text x="378.93" y="275.00" font-size="7.6" text-anchor="middle" fill="#222" >3</text>
<line x1="325.20" y1="214.55" x2="326.50" y2="214.55" stroke="#444" stroke-width="0.6" />
<text x="322.10" y="217.05" font-size="7.6" text-anchor="middle" fill="#222" >3</text>
<line x1="396.40" y1="266.60" x2="396.40" y2="267.90" stroke="#444" stroke-width="0.6" />
<text x="396.40" y="275.00" font-size="7.6" text-anchor="middle" fill="#222" >4</text>
<line x1="325.20" y1="197.20" x2="326.50" y2="197.20" stroke="#444" stroke-width="0.6" />
<text x="322.10" y="199.70" font-size="7.6" text-anchor="middle" fill="#222" >4</text>
<line x1="325.80" y1="266.60" x2="326.50" y2="266.60" stroke="#666" stroke-width="0.4" />
<line x1="326.50" y1="266.60" x2="326.50" y2="267.30" stroke="#666" stroke-width="0.4" />
<line x1="325.80" y1="262.26" x2="326.50" y2="262.26" stroke="#666" stroke-width="0.4" />
<line x1="330.87" y1="266.60" x2="330.87" y2="267.30" stroke="#666" stroke-width="0.4" />
<line x1="325.80" y1="257.93" x2="326.50" y2="257.93" stroke="#666" stroke-width="0.4" />
<line x1="335.24" y1="266.60" x2="335.24" y2="267.30" stroke="#666" stroke-width="0.4" />
<line x1="325.80" y1="253.59" x2="326.50" y2="253.59" stroke="#666" stroke-width="0.4" />
<line x1="339.61" y1="266.60" x2="339.61" y2="267.30" stroke="#666" stroke-width="0.4" />
<line x1="325.80" y1="249.25" x2="326.50" y2="249.25" stroke="#666" stroke-width="0.4" />
<line x1="343.98" y1="266.60" x2="343.98" y2="267.30" stroke="#666" stroke-width="0.4" />
<line x1="325.80" y1="244.91" x2="326.50" y2="244.91" stroke="#666" stroke-width="0.4" />
<line x1="348.34" y1="266.60" x2="348.34" y2="267.30" stroke="#666" stroke-width="0.4" />
<line x1="325.80" y1="240.58" x2="326.50" y2="240.58" stroke="#666" stroke-width="0.4" />
<line x1="352.71" y1="266.60" x2="352.71" y2="267.30" stroke="#666" stroke-width="0.4" />
<line x1="325.80" y1="236.24" x2="326.50" y2="236.24" stroke="#666" stroke-width="0.4" />
<line x1="357.08" y1="266.60" x2="357.08" y2="267.30" stroke="#666" stroke-width="0.4" />
<line x1="325.80" y1="231.90" x2="326.50" y2="231.90" stroke="#666" stroke-width="0.4" />
<line x1="361.45" y1="266.60" x2="361.45" y2="267.30" stroke="#666" stroke-width="0.4" />
<line x1="325.80" y1="227.56" x2="326.50" y2="227.56" stroke="#666" stroke-width="0.4" />
<line x1="365.82" y1="266.60" x2="365.82" y2="267.30" stroke="#666" stroke-width="0.4" />
<line x1="325.80" y1="223.22" x2="326.50" y2="223.22" stroke="#666" stroke-width="0.4" />
<line x1="370.19" y1="266.60" x2="370.19" y2="267.30" stroke="#666" stroke-width="0.4" />
<line x1="325.80" y1="218.89" x2="326.50" y2="218.89" stroke="#666" stroke-width="0.4" />
<line x1="374.56" y1="266.60" x2="374.56" y2="267.30" stroke="#666" stroke-width="0.4" />
<line x1="325.80" y1="214.55" x2="326.50" y2="214.55" stroke="#666" stroke-width="0.4" />
<line x1="378.93" y1="266.60" x2="378.93" y2="267.30" stroke="#666" stroke-width="0.4" />
<line x1="325.80" y1="210.21" x2="326.50" y2="210.21" stroke="#666" stroke-width="0.4" />
<line x1="383.29" y1="266.60" x2="383.29" y2="267.30" stroke="#666" stroke-width="0.4" />
<line x1="325.80" y1="205.88" x2="326.50" y2="205.88" stroke="#666" stroke-width="0.4" />
<line x1="387.66" y1="266.60" x2="387.66" y2="267.30" stroke="#666" stroke-width="0.4" />
<line x1="325.80" y1="201.54" x2="326.50" y2="201.54" stroke="#666" stroke-width="0.4" />
<line x1="392.03" y1="266.60" x2="392.03" y2="267.30" stroke="#666" stroke-width="0.4" />
<text x="328.50" y="203.00" font-size="6.7" text-anchor="start" fill="#222" >Dead</text>
<text x="328.50" y="209.80" font-size="6.7" text-anchor="start" fill="#222"  textLength="16.70" lengthAdjust="spacingAndGlyphs">3.00 %</text>
<text x="395.40" y="203.00" font-size="6.7" text-anchor="end" fill="#222"  textLength="45.00" lengthAdjust="spacingAndGlyphs">Late Apop./Dead</text>
<text x="395.40" y="209.80" font-size="6.7" text-anchor="end" fill="#222"  textLength="16.70" lengthAdjust="spacingAndGlyphs">6.67 %</text>
<text x="328.50" y="256.60" font-size="6.7" text-anchor="start" fill="#222"  textLength="19.65" lengthAdjust="spacingAndGlyphs">64.71 %</text>
<text x="328.50" y="263.30" font-size="6.7" text-anchor="start" fill="#222" >Live</text>
<text x="395.40" y="256.60" font-size="6.7" text-anchor="end" fill="#222"  textLength="19.65" lengthAdjust="spacingAndGlyphs">25.62 %</text>
<text x="395.40" y="263.30" font-size="6.7" text-anchor="end" fill="#222"  textLength="31.30" lengthAdjust="spacingAndGlyphs">Early Apop.</text>
<rect x="53.60" y="335.20" width="25.69" height="22.70" fill="#e0efda" stroke="none" stroke-width="1" />
<g fill="#ff3a3a" fill-opacity="0.28"><circle cx="74.6" cy="347.7" r="0.50"/><circle cx="72.3" cy="338.9" r="0.50"/><circle cx="81.9" cy="347.9" r="0.50"/><circle cx="73.7" cy="342.1" r="0.50"/><circle cx="67.7" cy="348.9" r="0.50"/><circle cx="76.6" cy="337.5" r="0.50"/><circle cx="64.1" cy="346.1" r="0.50"/><circle cx="75.9" cy="342.3" r="0.50"/><circle cx="77.4" cy="346.1" r="0.50"/><circle cx="67.7" cy="346.7" r="0.50"/><circle cx="58.9" cy="347.3" r="0.50"/><circle cx="61.7" cy="343.6" r="0.50"/><circle cx="61.5" cy="345.5" r="0.50"/><circle cx="56.6" cy="351.5" r="0.50"/><circle cx="78.3" cy="348.5" r="0.50"/><circle cx="82.0" cy="339.9" r="0.50"/><circle cx="60.4" cy="345.8" r="0.50"/><circle cx="62.7" cy="348.3" r="0.50"/><circle cx="76.6" cy="345.0" r="0.50"/><circle cx="73.8" cy="347.6" r="0.50"/><circle cx="57.8" cy="340.4" r="0.50"/><circle cx="61.7" cy="350.5" r="0.50"/><circle cx="62.8" cy="341.1" r="0.50"/><circle cx="62.9" cy="348.7" r="0.50"/><circle cx="70.6" cy="340.7" r="0.50"/><circle cx="62.4" cy="347.1" r="0.50"/><circle cx="60.9" cy="334.3" r="0.50"/><circle cx="62.6" cy="338.2" r="0.50"/><circle cx="63.0" cy="343.9" r="0.50"/><circle cx="65.0" cy="346.8" r="0.50"/><circle cx="60.5" cy="351.7" r="0.50"/><circle cx="58.3" cy="346.5" r="0.50"/><circle cx="62.7" cy="347.8" r="0.50"/><circle cx="57.4" cy="338.2" r="0.50"/><circle cx="61.6" cy="350.7" r="0.50"/><circle cx="55.2" cy="342.7" r="0.50"/><circle cx="73.5" cy="344.1" r="0.50"/><circle cx="95.8" cy="339.1" r="0.50"/><circle cx="76.4" cy="347.9" r="0.50"/><circle cx="74.9" cy="337.3" r="0.50"/><circle cx="60.8" cy="338.1" r="0.50"/><circle cx="56.7" cy="351.1" r="0.50"/><circle cx="64.0" cy="349.0" r="0.50"/><circle cx="70.6" cy="349.7" r="0.50"/><circle cx="65.3" cy="353.8" r="0.50"/><circle cx="64.1" cy="341.0" r="0.50"/><circle cx="61.9" cy="344.4" r="0.50"/><circle cx="75.0" cy="349.2" r="0.50"/><circle cx="67.1" cy="346.4" r="0.50"/><circle cx="55.1" cy="341.2" r="0.50"/><circle cx="64.1" cy="342.4" r="0.50"/><circle cx="60.1" cy="349.4" r="0.50"/><circle cx="83.9" cy="347.3" r="0.50"/><circle cx="72.2" cy="345.5" r="0.50"/><circle cx="59.9" cy="346.1" r="0.50"/><circle cx="62.0" cy="344.4" r="0.50"/><circle cx="65.2" cy="349.6" r="0.50"/><circle cx="60.7" cy="335.8" r="0.50"/><circle cx="82.3" cy="341.1" r="0.50"/><circle cx="66.7" cy="346.6" r="0.50"/><circle cx="77.9" cy="346.2" r="0.50"/><circle cx="56.5" cy="343.3" r="0.50"/><circle cx="55.1" cy="349.7" r="0.50"/><circle cx="78.5" cy="351.1" r="0.50"/><circle cx="63.8" cy="345.1" r="0.50"/><circle cx="67.0" cy="351.5" r="0.50"/><circle cx="62.3" cy="347.1" r="0.50"/><circle cx="83.0" cy="339.5" r="0.50"/><circle cx="57.2" cy="342.4" r="0.50"/><circle cx="70.8" cy="345.4" r="0.50"/><circle cx="62.1" cy="346.9" r="0.50"/><circle cx="73.5" cy="338.5" r="0.50"/><circle cx="82.4" cy="345.5" r="0.50"/><circle cx="70.4" cy="355.3" r="0.50"/><circle cx="61.9" cy="351.1" r="0.50"/><circle cx="72.4" cy="351.9" r="0.50"/><circle cx="54.4" cy="351.2" r="0.50"/><circle cx="68.3" cy="341.6" r="0.50"/><circle cx="55.6" cy="338.6" r="0.50"/><circle cx="66.0" cy="348.9" r="0.50"/><circle cx="67.8" cy="345.3" r="0.50"/><circle cx="72.5" cy="343.3" r="0.50"/><circle cx="85.6" cy="338.6" r="0.50"/><circle cx="58.3" cy="342.7" r="0.50"/><circle cx="71.8" cy="349.1" r="0.50"/><circle cx="57.2" cy="349.6" r="0.50"/><circle cx="62.4" cy="340.4" r="0.50"/><circle cx="59.1" cy="345.7" r="0.50"/><circle cx="71.5" cy="340.7" r="0.50"/><circle cx="67.6" cy="349.7" r="0.50"/><circle cx="85.8" cy="339.9" r="0.50"/><circle cx="77.6" cy="337.4" r="0.50"/><circle cx="78.0" cy="342.5" r="0.50"/><circle cx="69.1" cy="342.4" r="0.50"/><circle cx="55.1" cy="344.6" r="0.50"/><circle cx="54.7" cy="343.3" r="0.50"/><circle cx="59.8" cy="335.3" r="0.50"/><circle cx="66.3" cy="343.2" r="0.50"/><circle cx="55.8" cy="347.5" r="0.50"/><circle cx="63.9" cy="346.8" r="0.50"/><circle cx="60.3" cy="349.6" r="0.50"/><circle cx="71.9" cy="346.5" r="0.50"/><circle cx="56.6" cy="344.7" r="0.50"/><circle cx="56.7" cy="347.0" r="0.50"/><circle cx="59.6" cy="349.9" r="0.50"/><circle cx="62.3" cy="349.2" r="0.50"/><circle cx="61.6" cy="352.0" r="0.50"/><circle cx="60.7" cy="345.1" r="0.50"/><circle cx="68.6" cy="343.5" r="0.50"/><circle cx="67.0" cy="342.7" r="0.50"/><circle cx="59.7" cy="349.3" r="0.50"/><circle cx="70.4" cy="346.7" r="0.50"/><circle cx="64.6" cy="342.7" r="0.50"/><circle cx="73.6" cy="339.5" r="0.50"/><circle cx="57.9" cy="347.7" r="0.50"/><circle cx="69.9" cy="351.1" r="0.50"/><circle cx="58.6" cy="350.0" r="0.50"/><circle cx="72.3" cy="342.5" r="0.50"/><circle cx="73.4" cy="346.1" r="0.50"/><circle cx="61.7" cy="347.2" r="0.50"/><circle cx="67.4" cy="353.9" r="0.50"/><circle cx="57.8" cy="343.1" r="0.50"/><circle cx="57.0" cy="346.5" r="0.50"/><circle cx="65.7" cy="343.2" r="0.50"/><circle cx="59.9" cy="350.8" r="0.50"/><circle cx="88.6" cy="346.4" r="0.50"/><circle cx="81.0" cy="351.5" r="0.50"/><circle cx="65.6" cy="346.2" r="0.50"/><circle cx="82.8" cy="335.1" r="0.50"/><circle cx="73.9" cy="349.0" r="0.50"/><circle cx="56.8" cy="349.4" r="0.50"/><circle cx="59.5" cy="344.8" r="0.50"/><circle cx="56.9" cy="347.2" r="0.50"/><circle cx="78.7" cy="338.1" r="0.50"/><circle cx="60.9" cy="340.3" r="0.50"/><circle cx="61.3" cy="337.7" r="0.50"/><circle cx="68.0" cy="339.1" r="0.50"/><circle cx="56.3" cy="347.6" r="0.50"/><circle cx="74.3" cy="342.2" r="0.50"/><circle cx="66.3" cy="342.7" r="0.50"/><circle cx="58.4" cy="338.6" r="0.50"/><circle cx="66.0" cy="339.2" r="0.50"/><circle cx="68.4" cy="344.8" r="0.50"/><circle cx="61.5" cy="350.7" r="0.50"/><circle cx="72.8" cy="341.5" r="0.50"/><circle cx="73.5" cy="346.3" r="0.50"/><circle cx="54.9" cy="348.0" r="0.50"/><circle cx="61.5" cy="345.8" r="0.50"/><circle cx="74.0" cy="348.5" r="0.50"/><circle cx="59.8" cy="343.0" r="0.50"/><circle cx="73.2" cy="335.3" r="0.50"/><circle cx="69.6" cy="348.6" r="0.50"/><circle cx="54.5" cy="349.8" r="0.50"/><circle cx="65.2" cy="344.4" r="0.50"/><circle cx="63.9" cy="348.2" r="0.50"/><circle cx="62.8" cy="346.0" r="0.50"/><circle cx="70.2" cy="344.6" r="0.50"/><circle cx="56.8" cy="351.2" r="0.50"/><circle cx="78.8" cy="344.6" r="0.50"/><circle cx="62.9" cy="345.8" r="0.50"/><circle cx="75.4" cy="345.8" r="0.50"/><circle cx="66.2" cy="346.4" r="0.50"/><circle cx="70.1" cy="349.3" r="0.50"/><circle cx="66.5" cy="341.0" r="0.50"/><circle cx="75.9" cy="341.8" r="0.50"/><circle cx="67.4" cy="338.6" r="0.50"/><circle cx="71.3" cy="338.9" r="0.50"/><circle cx="72.2" cy="345.9" r="0.50"/><circle cx="60.4" cy="349.9" r="0.50"/><circle cx="78.8" cy="349.3" r="0.50"/><circle cx="65.6" cy="351.3" r="0.50"/><circle cx="62.9" cy="336.1" r="0.50"/><circle cx="87.9" cy="345.5" r="0.50"/><circle cx="54.9" cy="339.5" r="0.50"/><circle cx="56.3" cy="353.8" r="0.50"/><circle cx="67.9" cy="349.8" r="0.50"/><circle cx="57.6" cy="350.6" r="0.50"/><circle cx="66.2" cy="346.2" r="0.50"/><circle cx="75.3" cy="344.1" r="0.50"/><circle cx="79.8" cy="339.3" r="0.50"/><circle cx="81.6" cy="339.2" r="0.50"/><circle cx="65.3" cy="343.1" r="0.50"/><circle cx="64.8" cy="352.1" r="0.50"/><circle cx="54.6" cy="345.3" r="0.50"/><circle cx="62.7" cy="347.7" r="0.50"/><circle cx="56.5" cy="355.7" r="0.50"/><circle cx="65.3" cy="350.9" r="0.50"/><circle cx="61.7" cy="344.2" r="0.50"/><circle cx="74.6" cy="341.6" r="0.50"/><circle cx="78.7" cy="350.2" r="0.50"/><circle cx="71.1" cy="338.3" r="0.50"/><circle cx="68.4" cy="349.8" r="0.50"/><circle cx="68.4" cy="347.3" r="0.50"/><circle cx="58.4" cy="341.5" r="0.50"/><circle cx="62.9" cy="350.4" r="0.50"/><circle cx="58.1" cy="337.8" r="0.50"/><circle cx="56.5" cy="343.4" r="0.50"/><circle cx="66.3" cy="340.4" r="0.50"/><circle cx="61.9" cy="349.7" r="0.50"/><circle cx="58.5" cy="350.4" r="0.50"/><circle cx="89.4" cy="342.4" r="0.50"/><circle cx="61.5" cy="340.4" r="0.50"/><circle cx="70.9" cy="345.7" r="0.50"/><circle cx="70.5" cy="343.8" r="0.50"/><circle cx="75.4" cy="337.5" r="0.50"/><circle cx="61.6" cy="345.9" r="0.50"/><circle cx="62.8" cy="340.5" r="0.50"/><circle cx="68.3" cy="341.8" r="0.50"/><circle cx="73.2" cy="347.4" r="0.50"/><circle cx="65.8" cy="339.5" r="0.50"/><circle cx="73.4" cy="341.2" r="0.50"/><circle cx="61.9" cy="347.3" r="0.50"/><circle cx="56.4" cy="347.4" r="0.50"/><circle cx="64.0" cy="351.6" r="0.50"/><circle cx="75.7" cy="347.7" r="0.50"/><circle cx="67.0" cy="342.7" r="0.50"/><circle cx="59.3" cy="353.6" r="0.50"/><circle cx="73.8" cy="342.9" r="0.50"/><circle cx="62.2" cy="340.9" r="0.50"/><circle cx="73.2" cy="348.8" r="0.50"/><circle cx="63.8" cy="353.0" r="0.50"/><circle cx="62.1" cy="339.7" r="0.50"/><circle cx="56.6" cy="342.7" r="0.50"/><circle cx="73.6" cy="337.4" r="0.50"/><circle cx="68.9" cy="341.9" r="0.50"/><circle cx="81.0" cy="354.3" r="0.50"/><circle cx="88.2" cy="340.8" r="0.50"/><circle cx="65.2" cy="344.3" r="0.50"/><circle cx="64.9" cy="348.1" r="0.50"/><circle cx="64.5" cy="346.0" r="0.50"/><circle cx="71.0" cy="342.0" r="0.50"/><circle cx="74.0" cy="342.1" r="0.50"/><circle cx="55.3" cy="340.4" r="0.50"/><circle cx="67.8" cy="347.4" r="0.50"/><circle cx="82.5" cy="348.5" r="0.50"/><circle cx="68.6" cy="341.8" r="0.50"/><circle cx="65.6" cy="342.6" r="0.50"/><circle cx="57.9" cy="348.7" r="0.50"/><circle cx="65.8" cy="351.1" r="0.50"/><circle cx="66.4" cy="347.0" r="0.50"/><circle cx="71.1" cy="349.2" r="0.50"/><circle cx="59.6" cy="348.3" r="0.50"/><circle cx="61.1" cy="350.0" r="0.50"/><circle cx="62.1" cy="351.4" r="0.50"/><circle cx="69.7" cy="342.2" r="0.50"/><circle cx="64.5" cy="346.3" r="0.50"/><circle cx="56.1" cy="350.3" r="0.50"/><circle cx="62.5" cy="349.5" r="0.50"/><circle cx="64.4" cy="347.2" r="0.50"/><circle cx="56.9" cy="346.4" r="0.50"/><circle cx="58.0" cy="347.9" r="0.50"/><circle cx="66.4" cy="342.3" r="0.50"/><circle cx="71.8" cy="347.4" r="0.50"/><circle cx="76.1" cy="349.3" r="0.50"/><circle cx="63.0" cy="340.1" r="0.50"/><circle cx="87.1" cy="342.9" r="0.50"/><circle cx="61.2" cy="347.4" r="0.50"/><circle cx="60.6" cy="349.1" r="0.50"/><circle cx="76.0" cy="347.7" r="0.50"/><circle cx="80.7" cy="340.5" r="0.50"/><circle cx="70.7" cy="347.4" r="0.50"/><circle cx="59.8" cy="354.4" r="0.50"/><circle cx="67.2" cy="346.4" r="0.50"/><circle cx="68.3" cy="348.0" r="0.50"/><circle cx="69.2" cy="351.4" r="0.50"/><circle cx="76.8" cy="345.9" r="0.50"/><circle cx="63.1" cy="352.1" r="0.50"/><circle cx="55.1" cy="343.3" r="0.50"/><circle cx="57.6" cy="346.3" r="0.50"/><circle cx="63.1" cy="337.2" r="0.50"/><circle cx="73.0" cy="350.3" r="0.50"/><circle cx="60.0" cy="350.8" r="0.50"/><circle cx="75.0" cy="344.3" r="0.50"/><circle cx="71.0" cy="345.5" r="0.50"/><circle cx="60.6" cy="345.5" r="0.50"/><circle cx="63.9" cy="337.4" r="0.50"/><circle cx="81.6" cy="342.3" r="0.50"/><circle cx="70.3" cy="353.4" r="0.50"/><circle cx="63.4" cy="335.5" r="0.50"/><circle cx="57.0" cy="342.7" r="0.50"/><circle cx="76.1" cy="346.1" r="0.50"/><circle cx="62.4" cy="347.6" r="0.50"/><circle cx="72.1" cy="344.7" r="0.50"/></g>
<g fill="#ff2020" fill-opacity="0.55"><circle cx="71.8" cy="343.5" r="0.45"/><circle cx="77.4" cy="345.4" r="0.45"/><circle cx="81.0" cy="344.1" r="0.45"/><circle cx="81.5" cy="344.2" r="0.45"/><circle cx="79.4" cy="341.9" r="0.45"/><circle cx="77.7" cy="346.9" r="0.45"/><circle cx="84.6" cy="344.6" r="0.45"/><circle cx="88.6" cy="345.0" r="0.45"/><circle cx="71.1" cy="345.2" r="0.45"/><circle cx="89.9" cy="344.6" r="0.45"/><circle cx="84.1" cy="345.4" r="0.45"/><circle cx="79.3" cy="343.4" r="0.45"/><circle cx="81.2" cy="343.5" r="0.45"/><circle cx="78.2" cy="342.7" r="0.45"/><circle cx="82.5" cy="345.7" r="0.45"/><circle cx="81.6" cy="342.9" r="0.45"/><circle cx="73.1" cy="341.8" r="0.45"/><circle cx="84.6" cy="340.6" r="0.45"/><circle cx="75.7" cy="344.6" r="0.45"/><circle cx="79.3" cy="338.3" r="0.45"/><circle cx="80.1" cy="340.9" r="0.45"/><circle cx="88.2" cy="340.3" r="0.45"/><circle cx="75.5" cy="342.6" r="0.45"/><circle cx="75.7" cy="344.5" r="0.45"/><circle cx="67.2" cy="347.2" r="0.45"/><circle cx="77.5" cy="341.6" r="0.45"/><circle cx="69.7" cy="344.7" r="0.45"/><circle cx="76.5" cy="344.4" r="0.45"/><circle cx="78.3" cy="344.2" r="0.45"/><circle cx="88.3" cy="343.8" r="0.45"/><circle cx="77.4" cy="344.1" r="0.45"/><circle cx="81.0" cy="347.2" r="0.45"/><circle cx="82.1" cy="344.4" r="0.45"/><circle cx="81.9" cy="339.7" r="0.45"/><circle cx="87.5" cy="344.4" r="0.45"/><circle cx="70.8" cy="345.0" r="0.45"/><circle cx="66.7" cy="345.6" r="0.45"/><circle cx="80.0" cy="341.7" r="0.45"/><circle cx="79.5" cy="341.9" r="0.45"/><circle cx="84.1" cy="341.8" r="0.45"/><circle cx="77.8" cy="345.6" r="0.45"/><circle cx="70.3" cy="342.9" r="0.45"/><circle cx="73.9" cy="345.2" r="0.45"/><circle cx="81.6" cy="343.6" r="0.45"/><circle cx="73.9" cy="344.9" r="0.45"/><circle cx="85.7" cy="344.4" r="0.45"/><circle cx="69.6" cy="343.2" r="0.45"/><circle cx="81.6" cy="342.0" r="0.45"/><circle cx="69.4" cy="345.8" r="0.45"/><circle cx="77.5" cy="347.0" r="0.45"/><circle cx="68.5" cy="346.8" r="0.45"/><circle cx="84.9" cy="344.5" r="0.45"/><circle cx="85.3" cy="340.8" r="0.45"/><circle cx="70.6" cy="346.9" r="0.45"/><circle cx="73.9" cy="344.4" r="0.45"/><circle cx="71.0" cy="347.3" r="0.45"/><circle cx="69.0" cy="340.5" r="0.45"/><circle cx="72.2" cy="342.2" r="0.45"/><circle cx="81.2" cy="346.3" r="0.45"/><circle cx="70.9" cy="343.7" r="0.45"/><circle cx="75.3" cy="341.6" r="0.45"/><circle cx="86.2" cy="343.3" r="0.45"/><circle cx="70.0" cy="343.9" r="0.45"/><circle cx="73.2" cy="342.1" r="0.45"/><circle cx="90.3" cy="343.6" r="0.45"/><circle cx="82.4" cy="342.1" r="0.45"/><circle cx="86.7" cy="344.2" r="0.45"/><circle cx="74.3" cy="346.6" r="0.45"/><circle cx="85.9" cy="342.7" r="0.45"/><circle cx="69.1" cy="348.4" r="0.45"/><circle cx="77.7" cy="344.5" r="0.45"/><circle cx="86.8" cy="344.5" r="0.45"/><circle cx="76.3" cy="349.3" r="0.45"/><circle cx="76.0" cy="338.2" r="0.45"/><circle cx="73.7" cy="343.8" r="0.45"/><circle cx="84.7" cy="344.1" r="0.45"/><circle cx="82.9" cy="342.4" r="0.45"/><circle cx="87.8" cy="344.3" r="0.45"/><circle cx="84.1" cy="347.7" r="0.45"/><circle cx="85.0" cy="343.8" r="0.45"/><circle cx="67.1" cy="345.3" r="0.45"/><circle cx="71.4" cy="345.1" r="0.45"/><circle cx="89.2" cy="343.3" r="0.45"/><circle cx="81.6" cy="346.3" r="0.45"/><circle cx="80.8" cy="342.4" r="0.45"/><circle cx="79.7" cy="343.4" r="0.45"/><circle cx="81.0" cy="343.6" r="0.45"/><circle cx="76.5" cy="347.5" r="0.45"/><circle cx="74.4" cy="346.4" r="0.45"/><circle cx="77.1" cy="341.1" r="0.45"/><circle cx="87.5" cy="345.3" r="0.45"/><circle cx="71.2" cy="343.5" r="0.45"/><circle cx="64.2" cy="346.2" r="0.45"/><circle cx="72.3" cy="346.5" r="0.45"/><circle cx="87.8" cy="346.3" r="0.45"/><circle cx="81.5" cy="343.4" r="0.45"/><circle cx="87.8" cy="345.7" r="0.45"/><circle cx="69.0" cy="344.8" r="0.45"/><circle cx="71.8" cy="344.4" r="0.45"/><circle cx="83.4" cy="347.1" r="0.45"/><circle cx="88.1" cy="340.5" r="0.45"/><circle cx="72.2" cy="345.9" r="0.45"/><circle cx="81.2" cy="341.1" r="0.45"/><circle cx="75.2" cy="346.7" r="0.45"/><circle cx="82.1" cy="344.1" r="0.45"/><circle cx="71.7" cy="346.4" r="0.45"/><circle cx="82.7" cy="347.6" r="0.45"/><circle cx="77.3" cy="344.7" r="0.45"/><circle cx="83.2" cy="345.5" r="0.45"/><circle cx="74.1" cy="343.1" r="0.45"/><circle cx="75.9" cy="345.0" r="0.45"/><circle cx="89.1" cy="345.7" r="0.45"/><circle cx="78.9" cy="340.9" r="0.45"/><circle cx="83.3" cy="342.0" r="0.45"/><circle cx="72.0" cy="341.0" r="0.45"/><circle cx="76.8" cy="343.1" r="0.45"/><circle cx="73.8" cy="344.8" r="0.45"/><circle cx="79.9" cy="342.0" r="0.45"/><circle cx="73.5" cy="341.4" r="0.45"/><circle cx="74.2" cy="347.7" r="0.45"/><circle cx="83.5" cy="324.1" r="0.40"/><circle cx="91.1" cy="332.0" r="0.40"/><circle cx="73.4" cy="329.9" r="0.40"/><circle cx="66.9" cy="329.5" r="0.40"/><circle cx="108.0" cy="324.3" r="0.40"/><circle cx="78.4" cy="329.6" r="0.40"/><circle cx="100.6" cy="332.8" r="0.40"/><circle cx="84.1" cy="325.7" r="0.40"/><circle cx="78.6" cy="329.9" r="0.40"/><circle cx="70.3" cy="330.7" r="0.40"/><circle cx="64.1" cy="301.0" r="0.35"/><circle cx="76.0" cy="339.8" r="0.35"/><circle cx="57.8" cy="349.2" r="0.35"/><circle cx="73.1" cy="321.6" r="0.35"/><circle cx="117.8" cy="344.9" r="0.35"/><circle cx="74.5" cy="331.8" r="0.35"/><circle cx="97.8" cy="333.1" r="0.35"/><circle cx="99.8" cy="346.4" r="0.35"/><circle cx="58.3" cy="318.3" r="0.35"/><circle cx="103.4" cy="347.4" r="0.35"/><circle cx="58.5" cy="312.5" r="0.35"/><circle cx="59.7" cy="295.7" r="0.35"/></g>
<g fill="#ff0a0a" fill-opacity="0.5"><circle cx="71.6" cy="342.3" r="0.65"/><circle cx="64.5" cy="340.0" r="0.65"/><circle cx="63.0" cy="346.9" r="0.65"/><circle cx="63.4" cy="347.5" r="0.65"/><circle cx="62.5" cy="345.8" r="0.65"/><circle cx="68.7" cy="348.5" r="0.65"/><circle cx="57.9" cy="347.7" r="0.65"/><circle cx="63.1" cy="344.7" r="0.65"/><circle cx="60.8" cy="342.6" r="0.65"/><circle cx="62.0" cy="346.2" r="0.65"/><circle cx="64.8" cy="343.0" r="0.65"/><circle cx="65.9" cy="345.3" r="0.65"/><circle cx="61.9" cy="345.4" r="0.65"/><circle cx="66.4" cy="346.1" r="0.65"/><circle cx="64.4" cy="349.4" r="0.65"/><circle cx="62.0" cy="343.2" r="0.65"/><circle cx="71.2" cy="345.0" r="0.65"/><circle cx="54.3" cy="342.5" r="0.65"/><circle cx="63.7" cy="340.1" r="0.65"/><circle cx="62.6" cy="343.6" r="0.65"/><circle cx="61.6" cy="342.9" r="0.65"/><circle cx="70.0" cy="347.3" r="0.65"/><circle cx="70.6" cy="338.9" r="0.65"/><circle cx="63.4" cy="348.2" r="0.65"/><circle cx="65.8" cy="346.2" r="0.65"/><circle cx="57.4" cy="348.4" r="0.65"/><circle cx="65.7" cy="348.6" r="0.65"/><circle cx="69.6" cy="344.1" r="0.65"/><circle cx="63.6" cy="342.6" r="0.65"/><circle cx="60.1" cy="344.5" r="0.65"/><circle cx="58.1" cy="346.8" r="0.65"/><circle cx="67.5" cy="346.4" r="0.65"/><circle cx="63.9" cy="344.2" r="0.65"/><circle cx="71.7" cy="342.1" r="0.65"/><circle cx="66.7" cy="345.9" r="0.65"/><circle cx="57.7" cy="342.5" r="0.65"/><circle cx="73.3" cy="349.3" r="0.65"/><circle cx="68.6" cy="345.2" r="0.65"/><circle cx="67.8" cy="344.5" r="0.65"/><circle cx="63.6" cy="345.6" r="0.65"/><circle cx="64.3" cy="343.0" r="0.65"/><circle cx="63.3" cy="346.8" r="0.65"/><circle cx="67.6" cy="343.9" r="0.65"/><circle cx="66.5" cy="344.7" r="0.65"/><circle cx="71.4" cy="342.5" r="0.65"/><circle cx="65.5" cy="345.9" r="0.65"/><circle cx="67.6" cy="349.2" r="0.65"/><circle cx="62.0" cy="347.2" r="0.65"/><circle cx="65.3" cy="346.3" r="0.65"/><circle cx="76.1" cy="342.9" r="0.65"/><circle cx="66.4" cy="340.5" r="0.65"/><circle cx="64.5" cy="346.2" r="0.65"/><circle cx="70.3" cy="343.2" r="0.65"/><circle cx="68.8" cy="342.5" r="0.65"/><circle cx="62.8" cy="347.1" r="0.65"/><circle cx="61.1" cy="345.6" r="0.65"/><circle cx="69.2" cy="347.3" r="0.65"/><circle cx="62.0" cy="348.6" r="0.65"/><circle cx="73.9" cy="342.9" r="0.65"/><circle cx="65.5" cy="348.0" r="0.65"/><circle cx="59.6" cy="347.3" r="0.65"/><circle cx="64.6" cy="348.2" r="0.65"/><circle cx="63.4" cy="343.0" r="0.65"/><circle cx="64.5" cy="345.3" r="0.65"/><circle cx="54.6" cy="347.0" r="0.65"/><circle cx="63.8" cy="347.0" r="0.65"/><circle cx="58.0" cy="346.3" r="0.65"/><circle cx="59.7" cy="347.1" r="0.65"/><circle cx="57.0" cy="346.4" r="0.65"/><circle cx="68.8" cy="346.9" r="0.65"/><circle cx="66.0" cy="348.6" r="0.65"/><circle cx="67.2" cy="344.1" r="0.65"/><circle cx="62.7" cy="343.8" r="0.65"/><circle cx="60.4" cy="345.8" r="0.65"/><circle cx="72.4" cy="344.8" r="0.65"/><circle cx="59.2" cy="343.5" r="0.65"/><circle cx="67.0" cy="345.9" r="0.65"/><circle cx="55.9" cy="350.3" r="0.65"/><circle cx="57.3" cy="343.0" r="0.65"/><circle cx="65.9" cy="347.2" r="0.65"/><circle cx="69.9" cy="341.9" r="0.65"/><circle cx="60.5" cy="344.8" r="0.65"/><circle cx="56.7" cy="345.4" r="0.65"/><circle cx="73.0" cy="347.7" r="0.65"/><circle cx="64.7" cy="346.8" r="0.65"/><circle cx="64.0" cy="345.4" r="0.65"/><circle cx="65.8" cy="343.5" r="0.65"/><circle cx="66.9" cy="343.1" r="0.65"/><circle cx="69.2" cy="342.7" r="0.65"/><circle cx="61.3" cy="344.9" r="0.65"/><circle cx="62.7" cy="347.5" r="0.65"/><circle cx="73.7" cy="344.0" r="0.65"/><circle cx="64.7" cy="350.0" r="0.65"/><circle cx="63.4" cy="344.0" r="0.65"/><circle cx="63.5" cy="346.8" r="0.65"/><circle cx="71.4" cy="345.5" r="0.65"/><circle cx="62.9" cy="345.9" r="0.65"/><circle cx="63.4" cy="343.4" r="0.65"/><circle cx="67.2" cy="345.4" r="0.65"/><circle cx="62.8" cy="346.1" r="0.65"/><circle cx="72.4" cy="345.4" r="0.65"/><circle cx="67.5" cy="348.6" r="0.65"/><circle cx="66.0" cy="343.9" r="0.65"/><circle cx="70.4" cy="344.3" r="0.65"/><circle cx="67.2" cy="344.6" r="0.65"/><circle cx="69.5" cy="340.7" r="0.65"/><circle cx="65.4" cy="347.2" r="0.65"/><circle cx="67.3" cy="345.5" r="0.65"/><circle cx="67.5" cy="343.6" r="0.65"/><circle cx="65.2" cy="346.4" r="0.65"/><circle cx="65.9" cy="348.0" r="0.65"/><circle cx="65.8" cy="347.3" r="0.65"/><circle cx="66.6" cy="345.1" r="0.65"/><circle cx="63.5" cy="348.2" r="0.65"/><circle cx="64.7" cy="346.9" r="0.65"/><circle cx="63.8" cy="344.1" r="0.65"/><circle cx="68.9" cy="347.9" r="0.65"/><circle cx="68.9" cy="342.2" r="0.65"/><circle cx="69.8" cy="344.4" r="0.65"/><circle cx="64.1" cy="341.8" r="0.65"/><circle cx="63.0" cy="348.9" r="0.65"/><circle cx="64.9" cy="344.9" r="0.65"/><circle cx="59.6" cy="348.6" r="0.65"/><circle cx="73.8" cy="344.4" r="0.65"/><circle cx="68.1" cy="346.4" r="0.65"/><circle cx="57.4" cy="346.5" r="0.65"/><circle cx="70.8" cy="346.4" r="0.65"/><circle cx="56.1" cy="346.6" r="0.65"/><circle cx="63.2" cy="345.6" r="0.65"/><circle cx="59.6" cy="346.6" r="0.65"/><circle cx="61.9" cy="343.9" r="0.65"/><circle cx="65.2" cy="343.6" r="0.65"/><circle cx="64.2" cy="350.1" r="0.65"/><circle cx="55.3" cy="345.2" r="0.65"/><circle cx="68.6" cy="343.3" r="0.65"/><circle cx="64.1" cy="349.4" r="0.65"/><circle cx="62.2" cy="344.9" r="0.65"/><circle cx="70.9" cy="345.7" r="0.65"/><circle cx="61.9" cy="347.4" r="0.65"/><circle cx="69.3" cy="343.2" r="0.65"/><circle cx="55.9" cy="343.7" r="0.65"/><circle cx="60.2" cy="349.0" r="0.65"/><circle cx="57.0" cy="347.7" r="0.65"/><circle cx="75.3" cy="339.1" r="0.65"/><circle cx="58.7" cy="347.5" r="0.65"/><circle cx="65.2" cy="344.6" r="0.65"/><circle cx="62.3" cy="349.1" r="0.65"/><circle cx="62.6" cy="347.1" r="0.65"/><circle cx="56.1" cy="346.0" r="0.65"/><circle cx="57.6" cy="349.9" r="0.65"/><circle cx="71.6" cy="342.8" r="0.65"/><circle cx="71.3" cy="344.6" r="0.65"/><circle cx="62.6" cy="345.9" r="0.65"/><circle cx="58.1" cy="344.5" r="0.65"/><circle cx="65.8" cy="346.0" r="0.65"/><circle cx="55.7" cy="346.5" r="0.65"/><circle cx="72.1" cy="341.7" r="0.65"/><circle cx="68.6" cy="345.9" r="0.65"/><circle cx="65.1" cy="344.3" r="0.65"/><circle cx="65.4" cy="343.2" r="0.65"/><circle cx="61.4" cy="350.8" r="0.65"/><circle cx="58.0" cy="344.7" r="0.65"/><circle cx="69.5" cy="345.0" r="0.65"/><circle cx="67.0" cy="345.1" r="0.65"/><circle cx="65.3" cy="346.4" r="0.65"/><circle cx="62.6" cy="343.1" r="0.65"/><circle cx="63.2" cy="345.7" r="0.65"/><circle cx="70.1" cy="342.9" r="0.65"/><circle cx="62.7" cy="345.1" r="0.65"/><circle cx="59.8" cy="345.7" r="0.65"/><circle cx="66.0" cy="345.4" r="0.65"/><circle cx="65.3" cy="344.7" r="0.65"/><circle cx="64.8" cy="346.5" r="0.65"/><circle cx="60.0" cy="346.4" r="0.65"/><circle cx="72.0" cy="345.3" r="0.65"/><circle cx="61.4" cy="346.8" r="0.65"/><circle cx="58.9" cy="345.0" r="0.65"/><circle cx="59.9" cy="344.0" r="0.65"/><circle cx="68.7" cy="343.9" r="0.65"/><circle cx="69.4" cy="345.2" r="0.65"/><circle cx="56.3" cy="346.4" r="0.65"/><circle cx="67.5" cy="348.5" r="0.65"/><circle cx="58.8" cy="343.7" r="0.65"/><circle cx="66.5" cy="342.4" r="0.65"/><circle cx="67.6" cy="345.1" r="0.65"/><circle cx="66.5" cy="343.5" r="0.65"/><circle cx="64.4" cy="346.0" r="0.65"/><circle cx="66.0" cy="346.0" r="0.65"/><circle cx="75.8" cy="346.1" r="0.65"/><circle cx="57.4" cy="348.9" r="0.65"/><circle cx="69.4" cy="345.9" r="0.65"/><circle cx="65.2" cy="345.9" r="0.65"/><circle cx="65.8" cy="348.5" r="0.65"/><circle cx="64.9" cy="346.7" r="0.65"/><circle cx="69.6" cy="343.7" r="0.65"/><circle cx="58.6" cy="348.1" r="0.65"/><circle cx="67.2" cy="342.7" r="0.65"/><circle cx="68.1" cy="345.5" r="0.65"/><circle cx="69.7" cy="350.1" r="0.65"/><circle cx="62.0" cy="347.8" r="0.65"/><circle cx="59.6" cy="344.7" r="0.65"/><circle cx="65.8" cy="344.8" r="0.65"/><circle cx="63.9" cy="344.2" r="0.65"/><circle cx="68.2" cy="346.4" r="0.65"/><circle cx="68.9" cy="347.1" r="0.65"/><circle cx="72.8" cy="347.5" r="0.65"/><circle cx="63.1" cy="348.0" r="0.65"/><circle cx="64.7" cy="342.7" r="0.65"/><circle cx="61.0" cy="342.0" r="0.65"/><circle cx="71.1" cy="344.1" r="0.65"/><circle cx="61.7" cy="343.8" r="0.65"/><circle cx="69.0" cy="345.2" r="0.65"/><circle cx="76.2" cy="345.9" r="0.65"/><circle cx="58.2" cy="346.5" r="0.65"/><circle cx="67.2" cy="341.6" r="0.65"/><circle cx="56.2" cy="345.9" r="0.65"/><circle cx="70.5" cy="346.4" r="0.65"/><circle cx="62.3" cy="348.3" r="0.65"/><circle cx="68.1" cy="343.4" r="0.65"/><circle cx="67.3" cy="344.7" r="0.65"/><circle cx="69.2" cy="345.3" r="0.65"/><circle cx="67.9" cy="343.4" r="0.65"/><circle cx="70.7" cy="343.8" r="0.65"/><circle cx="64.9" cy="344.0" r="0.65"/><circle cx="57.2" cy="350.0" r="0.65"/><circle cx="72.2" cy="344.5" r="0.65"/><circle cx="59.5" cy="347.2" r="0.65"/><circle cx="63.8" cy="345.4" r="0.65"/><circle cx="60.9" cy="343.7" r="0.65"/><circle cx="56.4" cy="340.2" r="0.65"/><circle cx="59.4" cy="342.4" r="0.65"/><circle cx="67.7" cy="348.8" r="0.65"/><circle cx="58.7" cy="345.9" r="0.65"/><circle cx="65.8" cy="346.3" r="0.65"/><circle cx="64.6" cy="345.2" r="0.65"/><circle cx="59.1" cy="345.9" r="0.65"/><circle cx="75.3" cy="345.9" r="0.65"/><circle cx="59.7" cy="344.5" r="0.65"/><circle cx="70.9" cy="342.7" r="0.65"/><circle cx="61.5" cy="345.9" r="0.65"/><circle cx="65.5" cy="345.9" r="0.65"/><circle cx="66.4" cy="343.0" r="0.65"/><circle cx="67.1" cy="345.3" r="0.65"/><circle cx="63.5" cy="341.7" r="0.65"/><circle cx="58.6" cy="341.7" r="0.65"/><circle cx="68.0" cy="345.0" r="0.65"/><circle cx="60.9" cy="341.9" r="0.65"/><circle cx="70.3" cy="343.0" r="0.65"/><circle cx="74.5" cy="348.5" r="0.65"/><circle cx="65.0" cy="346.1" r="0.65"/><circle cx="61.0" cy="345.7" r="0.65"/><circle cx="67.1" cy="344.1" r="0.65"/><circle cx="63.8" cy="348.4" r="0.65"/><circle cx="67.2" cy="344.0" r="0.65"/><circle cx="74.7" cy="342.6" r="0.65"/><circle cx="64.6" cy="348.0" r="0.65"/><circle cx="77.6" cy="345.8" r="0.65"/></g>
<line x1="79.29" y1="289.10" x2="79.29" y2="357.90" stroke="#ff4a4a" stroke-width="0.8" />
<line x1="53.60" y1="335.20" x2="123.50" y2="335.20" stroke="#ff4a4a" stroke-width="0.8" />
<circle cx="79.29" cy="304.40" r="1.6" fill="#ff0000"/>
<circle cx="108.70" cy="335.20" r="1.6" fill="#ff0000"/>
<circle cx="79.29" cy="335.20" r="1.7" fill="#fff" stroke="#ff2020" stroke-width="0.8"/>
<rect x="53.60" y="289.10" width="69.90" height="68.80" fill="none" stroke="#8a8a8a" stroke-width="0.9" />
<line x1="53.60" y1="289.10" x2="53.60" y2="357.90" stroke="#555" stroke-width="1" />
<line x1="53.60" y1="357.90" x2="123.50" y2="357.90" stroke="#555" stroke-width="1" />
<line x1="53.60" y1="357.90" x2="53.60" y2="359.20" stroke="#444" stroke-width="0.6" />
<text x="53.60" y="366.30" font-size="7.6" text-anchor="middle" fill="#222" >0</text>
<line x1="52.30" y1="357.90" x2="53.60" y2="357.90" stroke="#444" stroke-width="0.6" />
<text x="49.20" y="360.40" font-size="7.6" text-anchor="middle" fill="#222" >0</text>
<line x1="71.08" y1="357.90" x2="71.08" y2="359.20" stroke="#444" stroke-width="0.6" />
<text x="71.08" y="366.30" font-size="7.6" text-anchor="middle" fill="#222" >1</text>
<line x1="52.30" y1="340.70" x2="53.60" y2="340.70" stroke="#444" stroke-width="0.6" />
<text x="49.20" y="343.20" font-size="7.6" text-anchor="middle" fill="#222" >1</text>
<line x1="88.55" y1="357.90" x2="88.55" y2="359.20" stroke="#444" stroke-width="0.6" />
<text x="88.55" y="366.30" font-size="7.6" text-anchor="middle" fill="#222" >2</text>
<line x1="52.30" y1="323.50" x2="53.60" y2="323.50" stroke="#444" stroke-width="0.6" />
<text x="49.20" y="326.00" font-size="7.6" text-anchor="middle" fill="#222" >2</text>
<line x1="106.03" y1="357.90" x2="106.03" y2="359.20" stroke="#444" stroke-width="0.6" />
<text x="106.03" y="366.30" font-size="7.6" text-anchor="middle" fill="#222" >3</text>
<line x1="52.30" y1="306.30" x2="53.60" y2="306.30" stroke="#444" stroke-width="0.6" />
<text x="49.20" y="308.80" font-size="7.6" text-anchor="middle" fill="#222" >3</text>
<line x1="123.50" y1="357.90" x2="123.50" y2="359.20" stroke="#444" stroke-width="0.6" />
<text x="123.50" y="366.30" font-size="7.6" text-anchor="middle" fill="#222" >4</text>
<line x1="52.30" y1="289.10" x2="53.60" y2="289.10" stroke="#444" stroke-width="0.6" />
<text x="49.20" y="291.60" font-size="7.6" text-anchor="middle" fill="#222" >4</text>
<line x1="52.90" y1="357.90" x2="53.60" y2="357.90" stroke="#666" stroke-width="0.4" />
<line x1="53.60" y1="357.90" x2="53.60" y2="358.60" stroke="#666" stroke-width="0.4" />
<line x1="52.90" y1="353.60" x2="53.60" y2="353.60" stroke="#666" stroke-width="0.4" />
<line x1="57.97" y1="357.90" x2="57.97" y2="358.60" stroke="#666" stroke-width="0.4" />
<line x1="52.90" y1="349.30" x2="53.60" y2="349.30" stroke="#666" stroke-width="0.4" />
<line x1="62.34" y1="357.90" x2="62.34" y2="358.60" stroke="#666" stroke-width="0.4" />
<line x1="52.90" y1="345.00" x2="53.60" y2="345.00" stroke="#666" stroke-width="0.4" />
<line x1="66.71" y1="357.90" x2="66.71" y2="358.60" stroke="#666" stroke-width="0.4" />
<line x1="52.90" y1="340.70" x2="53.60" y2="340.70" stroke="#666" stroke-width="0.4" />
<line x1="71.08" y1="357.90" x2="71.08" y2="358.60" stroke="#666" stroke-width="0.4" />
<line x1="52.90" y1="336.40" x2="53.60" y2="336.40" stroke="#666" stroke-width="0.4" />
<line x1="75.44" y1="357.90" x2="75.44" y2="358.60" stroke="#666" stroke-width="0.4" />
<line x1="52.90" y1="332.10" x2="53.60" y2="332.10" stroke="#666" stroke-width="0.4" />
<line x1="79.81" y1="357.90" x2="79.81" y2="358.60" stroke="#666" stroke-width="0.4" />
<line x1="52.90" y1="327.80" x2="53.60" y2="327.80" stroke="#666" stroke-width="0.4" />
<line x1="84.18" y1="357.90" x2="84.18" y2="358.60" stroke="#666" stroke-width="0.4" />
<line x1="52.90" y1="323.50" x2="53.60" y2="323.50" stroke="#666" stroke-width="0.4" />
<line x1="88.55" y1="357.90" x2="88.55" y2="358.60" stroke="#666" stroke-width="0.4" />
<line x1="52.90" y1="319.20" x2="53.60" y2="319.20" stroke="#666" stroke-width="0.4" />
<line x1="92.92" y1="357.90" x2="92.92" y2="358.60" stroke="#666" stroke-width="0.4" />
<line x1="52.90" y1="314.90" x2="53.60" y2="314.90" stroke="#666" stroke-width="0.4" />
<line x1="97.29" y1="357.90" x2="97.29" y2="358.60" stroke="#666" stroke-width="0.4" />
<line x1="52.90" y1="310.60" x2="53.60" y2="310.60" stroke="#666" stroke-width="0.4" />
<line x1="101.66" y1="357.90" x2="101.66" y2="358.60" stroke="#666" stroke-width="0.4" />
<line x1="52.90" y1="306.30" x2="53.60" y2="306.30" stroke="#666" stroke-width="0.4" />
<line x1="106.03" y1="357.90" x2="106.03" y2="358.60" stroke="#666" stroke-width="0.4" />
<line x1="52.90" y1="302.00" x2="53.60" y2="302.00" stroke="#666" stroke-width="0.4" />
<line x1="110.39" y1="357.90" x2="110.39" y2="358.60" stroke="#666" stroke-width="0.4" />
<line x1="52.90" y1="297.70" x2="53.60" y2="297.70" stroke="#666" stroke-width="0.4" />
<line x1="114.76" y1="357.90" x2="114.76" y2="358.60" stroke="#666" stroke-width="0.4" />
<line x1="52.90" y1="293.40" x2="53.60" y2="293.40" stroke="#666" stroke-width="0.4" />
<line x1="119.13" y1="357.90" x2="119.13" y2="358.60" stroke="#666" stroke-width="0.4" />
<text x="55.60" y="294.90" font-size="6.7" text-anchor="start" fill="#222" >Dead</text>
<text x="55.60" y="301.70" font-size="6.7" text-anchor="start" fill="#222"  textLength="16.70" lengthAdjust="spacingAndGlyphs">1.12 %</text>
<text x="122.50" y="294.90" font-size="6.7" text-anchor="end" fill="#222"  textLength="45.00" lengthAdjust="spacingAndGlyphs">Late Apop./Dead</text>
<text x="122.50" y="301.70" font-size="6.7" text-anchor="end" fill="#222"  textLength="16.70" lengthAdjust="spacingAndGlyphs">0.80 %</text>
<text x="55.60" y="347.90" font-size="6.7" text-anchor="start" fill="#222"  textLength="19.65" lengthAdjust="spacingAndGlyphs">88.12 %</text>
<text x="55.60" y="354.60" font-size="6.7" text-anchor="start" fill="#222" >Live</text>
<text x="122.50" y="347.90" font-size="6.7" text-anchor="end" fill="#222"  textLength="16.70" lengthAdjust="spacingAndGlyphs">9.96 %</text>
<text x="122.50" y="354.60" font-size="6.7" text-anchor="end" fill="#222"  textLength="31.30" lengthAdjust="spacingAndGlyphs">Early Apop.</text>
<rect x="144.40" y="335.20" width="25.69" height="22.70" fill="#e0efda" stroke="none" stroke-width="1" />
<g fill="#ff3a3a" fill-opacity="0.28"><circle cx="153.8" cy="348.1" r="0.50"/><circle cx="153.2" cy="345.0" r="0.50"/><circle cx="163.0" cy="342.7" r="0.50"/><circle cx="170.1" cy="350.8" r="0.50"/><circle cx="156.0" cy="351.7" r="0.50"/><circle cx="146.4" cy="349.1" r="0.50"/><circle cx="149.8" cy="350.4" r="0.50"/><circle cx="152.8" cy="341.6" r="0.50"/><circle cx="145.7" cy="356.7" r="0.50"/><circle cx="150.3" cy="342.2" r="0.50"/><circle cx="150.7" cy="344.3" r="0.50"/><circle cx="145.9" cy="340.4" r="0.50"/><circle cx="159.7" cy="340.5" r="0.50"/><circle cx="153.2" cy="340.1" r="0.50"/><circle cx="156.4" cy="347.6" r="0.50"/><circle cx="149.9" cy="345.8" r="0.50"/><circle cx="147.5" cy="351.6" r="0.50"/><circle cx="156.9" cy="342.3" r="0.50"/><circle cx="153.1" cy="342.1" r="0.50"/><circle cx="170.2" cy="349.7" r="0.50"/><circle cx="158.1" cy="349.5" r="0.50"/><circle cx="149.9" cy="345.3" r="0.50"/><circle cx="163.4" cy="342.4" r="0.50"/><circle cx="161.7" cy="337.0" r="0.50"/><circle cx="152.4" cy="341.0" r="0.50"/><circle cx="168.9" cy="342.1" r="0.50"/><circle cx="153.1" cy="352.9" r="0.50"/><circle cx="155.2" cy="342.3" r="0.50"/><circle cx="153.4" cy="346.6" r="0.50"/><circle cx="169.1" cy="346.9" r="0.50"/><circle cx="147.2" cy="346.2" r="0.50"/><circle cx="166.0" cy="341.9" r="0.50"/><circle cx="156.4" cy="347.6" r="0.50"/><circle cx="167.0" cy="340.5" r="0.50"/><circle cx="161.3" cy="347.7" r="0.50"/><circle cx="151.1" cy="353.8" r="0.50"/><circle cx="155.6" cy="340.3" r="0.50"/><circle cx="172.3" cy="343.1" r="0.50"/><circle cx="150.7" cy="345.2" r="0.50"/><circle cx="162.9" cy="349.2" r="0.50"/><circle cx="154.9" cy="352.8" r="0.50"/><circle cx="163.4" cy="343.4" r="0.50"/><circle cx="162.4" cy="339.5" r="0.50"/><circle cx="156.2" cy="344.4" r="0.50"/><circle cx="159.4" cy="343.1" r="0.50"/><circle cx="146.1" cy="347.7" r="0.50"/><circle cx="154.4" cy="345.5" r="0.50"/><circle cx="148.9" cy="346.8" r="0.50"/><circle cx="158.4" cy="344.4" r="0.50"/><circle cx="161.1" cy="341.4" r="0.50"/><circle cx="160.8" cy="340.8" r="0.50"/><circle cx="163.4" cy="338.6" r="0.50"/><circle cx="161.5" cy="347.7" r="0.50"/><circle cx="177.0" cy="338.5" r="0.50"/><circle cx="167.1" cy="341.2" r="0.50"/><circle cx="156.2" cy="350.5" r="0.50"/><circle cx="159.7" cy="346.7" r="0.50"/><circle cx="152.1" cy="355.3" r="0.50"/><circle cx="169.9" cy="349.3" r="0.50"/><circle cx="145.7" cy="344.5" r="0.50"/><circle cx="160.9" cy="348.5" r="0.50"/><circle cx="155.7" cy="344.4" r="0.50"/><circle cx="157.2" cy="343.1" r="0.50"/><circle cx="162.8" cy="346.4" r="0.50"/><circle cx="152.2" cy="350.2" r="0.50"/><circle cx="162.6" cy="342.3" r="0.50"/><circle cx="150.1" cy="335.7" r="0.50"/><circle cx="155.4" cy="344.2" r="0.50"/><circle cx="158.7" cy="346.3" r="0.50"/><circle cx="158.7" cy="351.0" r="0.50"/><circle cx="152.1" cy="337.8" r="0.50"/><circle cx="163.8" cy="346.5" r="0.50"/><circle cx="150.5" cy="352.6" r="0.50"/><circle cx="154.7" cy="346.4" r="0.50"/><circle cx="149.9" cy="353.0" r="0.50"/><circle cx="157.2" cy="343.5" r="0.50"/><circle cx="166.1" cy="342.2" r="0.50"/><circle cx="169.6" cy="338.9" r="0.50"/><circle cx="154.8" cy="350.2" r="0.50"/><circle cx="159.7" cy="340.9" r="0.50"/><circle cx="162.0" cy="347.3" r="0.50"/><circle cx="169.0" cy="343.3" r="0.50"/><circle cx="150.7" cy="351.9" r="0.50"/><circle cx="161.2" cy="352.5" r="0.50"/><circle cx="171.3" cy="336.5" r="0.50"/><circle cx="153.7" cy="347.4" r="0.50"/><circle cx="162.1" cy="339.4" r="0.50"/><circle cx="148.4" cy="336.6" r="0.50"/><circle cx="153.9" cy="340.7" r="0.50"/><circle cx="149.4" cy="337.4" r="0.50"/><circle cx="153.8" cy="351.3" r="0.50"/><circle cx="173.5" cy="346.8" r="0.50"/><circle cx="155.7" cy="351.0" r="0.50"/><circle cx="161.9" cy="344.1" r="0.50"/><circle cx="153.1" cy="347.5" r="0.50"/><circle cx="150.5" cy="349.2" r="0.50"/><circle cx="163.9" cy="350.8" r="0.50"/><circle cx="145.1" cy="344.8" r="0.50"/><circle cx="176.4" cy="344.4" r="0.50"/><circle cx="152.9" cy="346.9" r="0.50"/><circle cx="158.0" cy="346.1" r="0.50"/><circle cx="165.6" cy="340.2" r="0.50"/><circle cx="160.8" cy="338.1" r="0.50"/><circle cx="153.6" cy="348.2" r="0.50"/><circle cx="182.9" cy="351.3" r="0.50"/><circle cx="159.0" cy="349.9" r="0.50"/><circle cx="165.4" cy="353.8" r="0.50"/><circle cx="154.5" cy="347.4" r="0.50"/><circle cx="145.9" cy="341.6" r="0.50"/><circle cx="152.1" cy="343.9" r="0.50"/><circle cx="150.9" cy="345.3" r="0.50"/><circle cx="151.7" cy="345.6" r="0.50"/><circle cx="154.8" cy="348.6" r="0.50"/><circle cx="159.7" cy="345.9" r="0.50"/><circle cx="146.9" cy="351.0" r="0.50"/><circle cx="159.8" cy="339.3" r="0.50"/><circle cx="159.9" cy="340.5" r="0.50"/><circle cx="162.2" cy="350.1" r="0.50"/><circle cx="156.1" cy="341.5" r="0.50"/><circle cx="157.9" cy="346.3" r="0.50"/><circle cx="145.0" cy="345.9" r="0.50"/><circle cx="155.2" cy="345.4" r="0.50"/><circle cx="169.5" cy="339.0" r="0.50"/><circle cx="148.5" cy="345.2" r="0.50"/><circle cx="152.9" cy="345.4" r="0.50"/><circle cx="170.7" cy="340.0" r="0.50"/><circle cx="156.1" cy="348.4" r="0.50"/><circle cx="154.3" cy="344.1" r="0.50"/><circle cx="151.2" cy="341.1" r="0.50"/><circle cx="155.9" cy="350.7" r="0.50"/><circle cx="174.4" cy="356.4" r="0.50"/><circle cx="153.3" cy="346.3" r="0.50"/><circle cx="164.8" cy="339.7" r="0.50"/><circle cx="169.1" cy="337.4" r="0.50"/><circle cx="158.7" cy="344.7" r="0.50"/><circle cx="165.0" cy="344.7" r="0.50"/><circle cx="161.8" cy="342.2" r="0.50"/><circle cx="145.7" cy="341.2" r="0.50"/><circle cx="158.6" cy="351.8" r="0.50"/><circle cx="160.0" cy="340.7" r="0.50"/><circle cx="160.6" cy="346.4" r="0.50"/><circle cx="148.4" cy="341.3" r="0.50"/><circle cx="157.8" cy="345.3" r="0.50"/><circle cx="152.1" cy="350.4" r="0.50"/><circle cx="165.9" cy="341.2" r="0.50"/><circle cx="149.5" cy="339.4" r="0.50"/><circle cx="153.7" cy="350.2" r="0.50"/><circle cx="164.7" cy="338.6" r="0.50"/><circle cx="152.2" cy="351.2" r="0.50"/><circle cx="155.2" cy="356.3" r="0.50"/><circle cx="156.2" cy="338.8" r="0.50"/><circle cx="158.3" cy="348.5" r="0.50"/><circle cx="162.2" cy="347.1" r="0.50"/><circle cx="167.3" cy="346.0" r="0.50"/><circle cx="174.4" cy="345.2" r="0.50"/><circle cx="157.5" cy="349.5" r="0.50"/><circle cx="159.0" cy="349.5" r="0.50"/><circle cx="160.9" cy="346.8" r="0.50"/><circle cx="150.7" cy="346.3" r="0.50"/><circle cx="159.4" cy="342.0" r="0.50"/><circle cx="167.0" cy="342.7" r="0.50"/><circle cx="149.1" cy="349.2" r="0.50"/><circle cx="159.1" cy="350.4" r="0.50"/><circle cx="154.2" cy="347.4" r="0.50"/><circle cx="154.9" cy="344.8" r="0.50"/><circle cx="165.3" cy="337.4" r="0.50"/><circle cx="163.8" cy="340.3" r="0.50"/><circle cx="146.0" cy="341.9" r="0.50"/><circle cx="167.6" cy="350.3" r="0.50"/><circle cx="178.8" cy="345.7" r="0.50"/><circle cx="156.3" cy="349.0" r="0.50"/><circle cx="150.5" cy="341.3" r="0.50"/><circle cx="158.1" cy="346.9" r="0.50"/><circle cx="166.3" cy="348.6" r="0.50"/><circle cx="148.0" cy="348.7" r="0.50"/><circle cx="148.9" cy="343.2" r="0.50"/><circle cx="153.7" cy="350.4" r="0.50"/><circle cx="151.6" cy="354.7" r="0.50"/><circle cx="157.3" cy="344.9" r="0.50"/><circle cx="161.3" cy="346.0" r="0.50"/><circle cx="159.4" cy="349.3" r="0.50"/><circle cx="156.0" cy="344.8" r="0.50"/><circle cx="157.1" cy="345.2" r="0.50"/><circle cx="151.4" cy="337.2" r="0.50"/><circle cx="155.8" cy="348.9" r="0.50"/><circle cx="148.0" cy="343.7" r="0.50"/><circle cx="153.8" cy="349.2" r="0.50"/><circle cx="149.2" cy="342.1" r="0.50"/><circle cx="156.5" cy="340.8" r="0.50"/><circle cx="155.6" cy="350.7" r="0.50"/><circle cx="163.7" cy="343.3" r="0.50"/><circle cx="149.8" cy="347.5" r="0.50"/><circle cx="146.9" cy="342.7" r="0.50"/><circle cx="152.0" cy="343.8" r="0.50"/><circle cx="158.1" cy="346.4" r="0.50"/><circle cx="159.1" cy="346.3" r="0.50"/><circle cx="145.0" cy="348.4" r="0.50"/><circle cx="145.0" cy="343.3" r="0.50"/><circle cx="161.7" cy="347.5" r="0.50"/><circle cx="161.4" cy="343.9" r="0.50"/><circle cx="164.6" cy="348.7" r="0.50"/><circle cx="156.0" cy="349.8" r="0.50"/><circle cx="149.5" cy="340.1" r="0.50"/><circle cx="160.2" cy="341.7" r="0.50"/><circle cx="148.6" cy="355.1" r="0.50"/><circle cx="165.8" cy="340.6" r="0.50"/><circle cx="149.1" cy="340.3" r="0.50"/><circle cx="154.0" cy="343.0" r="0.50"/><circle cx="154.0" cy="338.7" r="0.50"/><circle cx="151.0" cy="355.4" r="0.50"/><circle cx="152.9" cy="345.0" r="0.50"/><circle cx="158.3" cy="348.4" r="0.50"/><circle cx="153.7" cy="350.7" r="0.50"/><circle cx="153.6" cy="345.3" r="0.50"/><circle cx="157.9" cy="338.1" r="0.50"/><circle cx="159.7" cy="350.2" r="0.50"/><circle cx="156.4" cy="345.5" r="0.50"/><circle cx="146.6" cy="343.3" r="0.50"/><circle cx="173.1" cy="340.9" r="0.50"/><circle cx="162.8" cy="340.2" r="0.50"/><circle cx="154.6" cy="341.4" r="0.50"/><circle cx="148.4" cy="345.5" r="0.50"/><circle cx="162.2" cy="339.2" r="0.50"/><circle cx="153.1" cy="347.1" r="0.50"/><circle cx="160.0" cy="345.4" r="0.50"/><circle cx="157.0" cy="341.9" r="0.50"/><circle cx="148.8" cy="342.4" r="0.50"/><circle cx="159.2" cy="346.3" r="0.50"/><circle cx="155.4" cy="341.5" r="0.50"/><circle cx="157.5" cy="350.3" r="0.50"/><circle cx="163.5" cy="343.0" r="0.50"/><circle cx="159.7" cy="349.4" r="0.50"/><circle cx="145.7" cy="342.5" r="0.50"/><circle cx="168.5" cy="342.7" r="0.50"/><circle cx="154.0" cy="347.7" r="0.50"/><circle cx="154.9" cy="340.2" r="0.50"/><circle cx="149.2" cy="341.6" r="0.50"/><circle cx="149.3" cy="343.6" r="0.50"/><circle cx="168.2" cy="347.4" r="0.50"/><circle cx="164.0" cy="344.7" r="0.50"/><circle cx="147.3" cy="345.5" r="0.50"/><circle cx="161.6" cy="348.1" r="0.50"/><circle cx="153.3" cy="348.2" r="0.50"/><circle cx="148.8" cy="347.1" r="0.50"/><circle cx="163.2" cy="346.9" r="0.50"/><circle cx="167.0" cy="346.1" r="0.50"/><circle cx="149.5" cy="341.5" r="0.50"/><circle cx="168.4" cy="347.1" r="0.50"/><circle cx="161.0" cy="350.1" r="0.50"/><circle cx="152.1" cy="347.5" r="0.50"/><circle cx="162.1" cy="350.3" r="0.50"/><circle cx="151.1" cy="349.0" r="0.50"/><circle cx="156.7" cy="350.8" r="0.50"/><circle cx="157.7" cy="351.9" r="0.50"/><circle cx="163.3" cy="350.5" r="0.50"/><circle cx="167.0" cy="348.1" r="0.50"/><circle cx="145.9" cy="344.4" r="0.50"/><circle cx="174.0" cy="341.1" r="0.50"/><circle cx="161.7" cy="350.1" r="0.50"/><circle cx="164.9" cy="344.0" r="0.50"/><circle cx="155.7" cy="339.5" r="0.50"/><circle cx="148.2" cy="341.5" r="0.50"/><circle cx="163.2" cy="347.5" r="0.50"/><circle cx="156.9" cy="344.9" r="0.50"/><circle cx="161.0" cy="349.2" r="0.50"/><circle cx="153.7" cy="345.3" r="0.50"/></g>
<g fill="#ff2020" fill-opacity="0.55"><circle cx="162.4" cy="342.4" r="0.45"/><circle cx="170.7" cy="343.2" r="0.45"/><circle cx="156.9" cy="342.3" r="0.45"/><circle cx="158.2" cy="344.6" r="0.45"/><circle cx="174.1" cy="340.2" r="0.45"/><circle cx="180.8" cy="342.1" r="0.45"/><circle cx="162.8" cy="345.9" r="0.45"/><circle cx="170.8" cy="344.2" r="0.45"/><circle cx="171.7" cy="341.6" r="0.45"/><circle cx="159.9" cy="344.7" r="0.45"/><circle cx="163.2" cy="342.4" r="0.45"/><circle cx="168.8" cy="343.9" r="0.45"/><circle cx="166.8" cy="341.9" r="0.45"/><circle cx="172.4" cy="342.5" r="0.45"/><circle cx="165.6" cy="342.7" r="0.45"/><circle cx="160.8" cy="343.9" r="0.45"/><circle cx="165.3" cy="343.9" r="0.45"/><circle cx="170.7" cy="341.8" r="0.45"/><circle cx="167.4" cy="345.9" r="0.45"/><circle cx="159.8" cy="344.7" r="0.45"/><circle cx="172.2" cy="341.6" r="0.45"/><circle cx="161.4" cy="344.5" r="0.45"/><circle cx="163.9" cy="344.2" r="0.45"/><circle cx="163.3" cy="342.5" r="0.45"/><circle cx="175.9" cy="342.6" r="0.45"/><circle cx="160.9" cy="344.2" r="0.45"/><circle cx="160.4" cy="346.4" r="0.45"/><circle cx="160.6" cy="340.9" r="0.45"/><circle cx="169.1" cy="342.6" r="0.45"/><circle cx="161.2" cy="342.2" r="0.45"/><circle cx="156.7" cy="344.5" r="0.45"/><circle cx="159.6" cy="342.8" r="0.45"/><circle cx="170.0" cy="345.4" r="0.45"/><circle cx="165.1" cy="341.5" r="0.45"/><circle cx="169.4" cy="344.3" r="0.45"/><circle cx="168.5" cy="344.7" r="0.45"/><circle cx="166.3" cy="345.2" r="0.45"/><circle cx="178.5" cy="339.8" r="0.45"/><circle cx="179.8" cy="343.6" r="0.45"/><circle cx="165.2" cy="342.3" r="0.45"/><circle cx="165.0" cy="343.0" r="0.45"/><circle cx="166.7" cy="343.7" r="0.45"/><circle cx="171.0" cy="343.8" r="0.45"/><circle cx="165.6" cy="343.6" r="0.45"/><circle cx="169.3" cy="341.6" r="0.45"/><circle cx="170.8" cy="342.8" r="0.45"/><circle cx="171.0" cy="344.5" r="0.45"/><circle cx="166.8" cy="342.6" r="0.45"/><circle cx="171.2" cy="344.5" r="0.45"/><circle cx="160.4" cy="341.8" r="0.45"/><circle cx="170.3" cy="340.4" r="0.45"/><circle cx="167.2" cy="343.5" r="0.45"/><circle cx="176.4" cy="342.6" r="0.45"/><circle cx="162.0" cy="342.7" r="0.45"/><circle cx="162.6" cy="345.4" r="0.45"/><circle cx="166.2" cy="343.5" r="0.45"/><circle cx="176.9" cy="345.0" r="0.45"/><circle cx="175.9" cy="342.5" r="0.45"/><circle cx="162.4" cy="344.7" r="0.45"/><circle cx="166.6" cy="342.7" r="0.45"/><circle cx="170.8" cy="341.0" r="0.45"/><circle cx="178.0" cy="340.2" r="0.45"/><circle cx="166.1" cy="345.7" r="0.45"/><circle cx="176.2" cy="340.4" r="0.45"/><circle cx="161.4" cy="340.5" r="0.45"/><circle cx="183.2" cy="341.8" r="0.45"/><circle cx="165.3" cy="346.4" r="0.45"/><circle cx="169.8" cy="344.9" r="0.45"/><circle cx="161.8" cy="342.0" r="0.45"/><circle cx="161.9" cy="343.1" r="0.45"/><circle cx="167.3" cy="347.4" r="0.45"/><circle cx="171.5" cy="342.3" r="0.45"/><circle cx="169.6" cy="342.0" r="0.45"/><circle cx="161.5" cy="342.8" r="0.45"/><circle cx="164.3" cy="344.8" r="0.45"/><circle cx="165.7" cy="346.1" r="0.45"/><circle cx="177.9" cy="342.9" r="0.45"/><circle cx="169.6" cy="345.9" r="0.45"/><circle cx="160.2" cy="343.8" r="0.45"/><circle cx="160.3" cy="341.8" r="0.45"/><circle cx="168.9" cy="342.1" r="0.45"/><circle cx="168.0" cy="342.6" r="0.45"/><circle cx="173.5" cy="344.2" r="0.45"/><circle cx="175.3" cy="344.6" r="0.45"/><circle cx="175.3" cy="342.4" r="0.45"/><circle cx="174.4" cy="340.9" r="0.45"/><circle cx="175.3" cy="341.2" r="0.45"/><circle cx="160.7" cy="345.8" r="0.45"/><circle cx="165.0" cy="340.7" r="0.45"/><circle cx="169.9" cy="340.3" r="0.45"/><circle cx="163.2" cy="346.3" r="0.45"/><circle cx="169.2" cy="345.6" r="0.45"/><circle cx="169.4" cy="342.2" r="0.45"/><circle cx="168.9" cy="341.7" r="0.45"/><circle cx="176.7" cy="346.2" r="0.45"/><circle cx="169.8" cy="342.7" r="0.45"/><circle cx="169.4" cy="345.8" r="0.45"/><circle cx="172.0" cy="341.6" r="0.45"/><circle cx="160.9" cy="346.1" r="0.45"/><circle cx="168.2" cy="343.0" r="0.45"/><circle cx="176.3" cy="339.3" r="0.45"/><circle cx="172.0" cy="344.3" r="0.45"/><circle cx="162.0" cy="346.0" r="0.45"/><circle cx="176.6" cy="341.8" r="0.45"/><circle cx="175.7" cy="343.0" r="0.45"/><circle cx="171.9" cy="341.9" r="0.45"/><circle cx="172.8" cy="341.3" r="0.45"/><circle cx="161.2" cy="343.9" r="0.45"/><circle cx="172.8" cy="343.2" r="0.45"/><circle cx="166.0" cy="342.5" r="0.45"/><circle cx="171.6" cy="342.0" r="0.45"/><circle cx="159.7" cy="342.2" r="0.45"/><circle cx="161.1" cy="341.1" r="0.45"/><circle cx="170.7" cy="342.1" r="0.45"/><circle cx="164.3" cy="342.5" r="0.45"/><circle cx="172.8" cy="341.7" r="0.45"/><circle cx="160.5" cy="345.1" r="0.45"/><circle cx="171.9" cy="344.4" r="0.45"/><circle cx="166.9" cy="343.1" r="0.45"/><circle cx="170.9" cy="343.8" r="0.45"/><circle cx="180.5" cy="342.5" r="0.45"/><circle cx="167.9" cy="344.5" r="0.45"/><circle cx="164.9" cy="345.6" r="0.45"/><circle cx="165.7" cy="343.8" r="0.45"/><circle cx="167.0" cy="342.4" r="0.45"/><circle cx="167.7" cy="345.1" r="0.45"/><circle cx="166.9" cy="344.8" r="0.45"/><circle cx="179.0" cy="341.4" r="0.45"/><circle cx="168.7" cy="344.6" r="0.45"/><circle cx="165.1" cy="342.6" r="0.45"/><circle cx="175.4" cy="343.3" r="0.45"/><circle cx="168.2" cy="342.9" r="0.45"/><circle cx="166.7" cy="343.5" r="0.45"/><circle cx="178.5" cy="342.6" r="0.45"/><circle cx="161.6" cy="345.1" r="0.45"/><circle cx="173.4" cy="340.4" r="0.45"/><circle cx="164.2" cy="342.7" r="0.45"/><circle cx="162.9" cy="341.9" r="0.45"/><circle cx="174.6" cy="339.8" r="0.45"/><circle cx="163.9" cy="343.3" r="0.45"/><circle cx="185.3" cy="314.5" r="0.40"/><circle cx="184.0" cy="315.4" r="0.40"/><circle cx="188.8" cy="321.5" r="0.40"/><circle cx="174.2" cy="321.4" r="0.40"/><circle cx="183.0" cy="320.7" r="0.40"/><circle cx="198.2" cy="321.4" r="0.40"/><circle cx="187.5" cy="321.8" r="0.40"/><circle cx="188.8" cy="324.0" r="0.40"/><circle cx="190.4" cy="317.5" r="0.40"/><circle cx="182.1" cy="323.7" r="0.40"/><circle cx="194.8" cy="320.9" r="0.40"/><circle cx="193.4" cy="329.2" r="0.40"/><circle cx="177.2" cy="310.1" r="0.40"/><circle cx="195.5" cy="318.2" r="0.40"/><circle cx="190.7" cy="315.6" r="0.40"/><circle cx="182.4" cy="317.7" r="0.40"/><circle cx="177.5" cy="324.4" r="0.40"/><circle cx="185.4" cy="315.0" r="0.40"/><circle cx="185.6" cy="323.8" r="0.40"/><circle cx="189.8" cy="317.9" r="0.40"/><circle cx="189.2" cy="319.6" r="0.40"/><circle cx="183.0" cy="313.5" r="0.40"/><circle cx="193.0" cy="323.7" r="0.40"/><circle cx="177.8" cy="313.9" r="0.40"/><circle cx="186.8" cy="318.1" r="0.40"/><circle cx="178.6" cy="313.7" r="0.40"/><circle cx="185.7" cy="317.3" r="0.40"/><circle cx="187.0" cy="320.6" r="0.40"/><circle cx="187.0" cy="317.7" r="0.40"/><circle cx="189.0" cy="316.6" r="0.40"/><circle cx="176.7" cy="321.5" r="0.40"/><circle cx="182.9" cy="313.0" r="0.40"/><circle cx="180.6" cy="313.2" r="0.40"/><circle cx="191.2" cy="314.3" r="0.40"/><circle cx="198.4" cy="318.3" r="0.40"/><circle cx="186.6" cy="312.8" r="0.40"/><circle cx="187.1" cy="313.8" r="0.40"/><circle cx="183.8" cy="311.9" r="0.40"/><circle cx="186.8" cy="326.9" r="0.40"/><circle cx="191.2" cy="319.1" r="0.40"/><circle cx="179.2" cy="319.6" r="0.40"/><circle cx="182.9" cy="313.1" r="0.40"/><circle cx="186.6" cy="318.6" r="0.40"/><circle cx="184.5" cy="322.3" r="0.40"/><circle cx="180.7" cy="320.4" r="0.40"/><circle cx="171.4" cy="335.8" r="0.40"/><circle cx="170.6" cy="328.8" r="0.40"/><circle cx="174.3" cy="332.1" r="0.40"/><circle cx="173.9" cy="332.8" r="0.40"/><circle cx="167.2" cy="329.2" r="0.40"/><circle cx="182.2" cy="330.4" r="0.40"/><circle cx="175.4" cy="324.1" r="0.40"/><circle cx="167.1" cy="330.4" r="0.40"/><circle cx="170.9" cy="332.9" r="0.40"/><circle cx="165.1" cy="332.3" r="0.40"/><circle cx="174.1" cy="337.2" r="0.40"/><circle cx="171.4" cy="333.6" r="0.40"/><circle cx="168.0" cy="330.0" r="0.40"/><circle cx="179.6" cy="330.7" r="0.40"/><circle cx="176.9" cy="329.6" r="0.40"/><circle cx="163.9" cy="345.5" r="0.35"/><circle cx="209.4" cy="315.6" r="0.35"/><circle cx="194.8" cy="316.5" r="0.35"/><circle cx="183.6" cy="299.1" r="0.35"/><circle cx="150.3" cy="331.4" r="0.35"/><circle cx="160.7" cy="317.2" r="0.35"/><circle cx="172.3" cy="296.0" r="0.35"/><circle cx="161.6" cy="338.6" r="0.35"/><circle cx="207.1" cy="309.1" r="0.35"/><circle cx="174.6" cy="331.8" r="0.35"/><circle cx="194.9" cy="346.5" r="0.35"/><circle cx="194.1" cy="341.4" r="0.35"/><circle cx="199.7" cy="351.4" r="0.35"/><circle cx="206.9" cy="299.9" r="0.35"/><circle cx="147.8" cy="345.7" r="0.35"/></g>
<g fill="#ff0a0a" fill-opacity="0.5"><circle cx="155.9" cy="345.5" r="0.65"/><circle cx="156.9" cy="345.8" r="0.65"/><circle cx="153.5" cy="343.5" r="0.65"/><circle cx="152.9" cy="346.5" r="0.65"/><circle cx="151.8" cy="348.4" r="0.65"/><circle cx="157.8" cy="345.4" r="0.65"/><circle cx="155.2" cy="344.6" r="0.65"/><circle cx="155.0" cy="344.1" r="0.65"/><circle cx="163.9" cy="344.0" r="0.65"/><circle cx="154.6" cy="342.1" r="0.65"/><circle cx="158.9" cy="348.8" r="0.65"/><circle cx="161.7" cy="344.5" r="0.65"/><circle cx="159.6" cy="347.6" r="0.65"/><circle cx="152.0" cy="347.3" r="0.65"/><circle cx="158.2" cy="347.7" r="0.65"/><circle cx="152.6" cy="343.8" r="0.65"/><circle cx="152.9" cy="345.5" r="0.65"/><circle cx="151.7" cy="349.6" r="0.65"/><circle cx="155.4" cy="345.8" r="0.65"/><circle cx="149.4" cy="344.0" r="0.65"/><circle cx="159.4" cy="343.2" r="0.65"/><circle cx="153.5" cy="348.2" r="0.65"/><circle cx="155.4" cy="345.2" r="0.65"/><circle cx="155.0" cy="346.9" r="0.65"/><circle cx="151.3" cy="347.5" r="0.65"/><circle cx="155.4" cy="346.6" r="0.65"/><circle cx="163.2" cy="345.4" r="0.65"/><circle cx="157.8" cy="346.3" r="0.65"/><circle cx="154.9" cy="347.7" r="0.65"/><circle cx="153.6" cy="349.0" r="0.65"/><circle cx="146.5" cy="343.5" r="0.65"/><circle cx="151.0" cy="345.1" r="0.65"/><circle cx="155.2" cy="346.8" r="0.65"/><circle cx="159.0" cy="346.4" r="0.65"/><circle cx="157.7" cy="346.1" r="0.65"/><circle cx="160.1" cy="343.0" r="0.65"/><circle cx="156.0" cy="343.1" r="0.65"/><circle cx="158.0" cy="341.9" r="0.65"/><circle cx="155.2" cy="348.9" r="0.65"/><circle cx="156.7" cy="344.9" r="0.65"/><circle cx="154.1" cy="346.1" r="0.65"/><circle cx="154.6" cy="348.3" r="0.65"/><circle cx="163.4" cy="346.4" r="0.65"/><circle cx="151.0" cy="349.4" r="0.65"/><circle cx="152.0" cy="346.0" r="0.65"/><circle cx="162.3" cy="343.6" r="0.65"/><circle cx="152.5" cy="348.5" r="0.65"/><circle cx="150.8" cy="346.2" r="0.65"/><circle cx="159.6" cy="346.2" r="0.65"/><circle cx="162.9" cy="340.7" r="0.65"/><circle cx="156.5" cy="350.1" r="0.65"/><circle cx="160.6" cy="345.3" r="0.65"/><circle cx="158.7" cy="343.1" r="0.65"/><circle cx="151.3" cy="345.8" r="0.65"/><circle cx="156.5" cy="347.1" r="0.65"/><circle cx="158.8" cy="345.5" r="0.65"/><circle cx="154.0" cy="341.7" r="0.65"/><circle cx="156.5" cy="341.9" r="0.65"/><circle cx="155.1" cy="343.4" r="0.65"/><circle cx="152.4" cy="345.5" r="0.65"/><circle cx="160.6" cy="349.7" r="0.65"/><circle cx="158.1" cy="345.9" r="0.65"/><circle cx="160.6" cy="344.7" r="0.65"/><circle cx="155.4" cy="348.3" r="0.65"/><circle cx="168.8" cy="345.8" r="0.65"/><circle cx="154.3" cy="347.2" r="0.65"/><circle cx="154.4" cy="345.2" r="0.65"/><circle cx="149.8" cy="343.8" r="0.65"/><circle cx="154.6" cy="344.3" r="0.65"/><circle cx="146.4" cy="347.6" r="0.65"/><circle cx="154.4" cy="346.5" r="0.65"/><circle cx="152.8" cy="345.2" r="0.65"/><circle cx="157.6" cy="347.4" r="0.65"/><circle cx="147.0" cy="344.8" r="0.65"/><circle cx="154.3" cy="343.4" r="0.65"/><circle cx="159.6" cy="345.4" r="0.65"/><circle cx="149.4" cy="346.9" r="0.65"/><circle cx="152.5" cy="343.2" r="0.65"/><circle cx="148.2" cy="344.3" r="0.65"/><circle cx="148.9" cy="347.4" r="0.65"/><circle cx="149.5" cy="347.6" r="0.65"/><circle cx="153.8" cy="344.9" r="0.65"/><circle cx="153.1" cy="344.3" r="0.65"/><circle cx="163.5" cy="344.4" r="0.65"/><circle cx="150.6" cy="346.4" r="0.65"/><circle cx="155.3" cy="346.3" r="0.65"/><circle cx="160.8" cy="342.5" r="0.65"/><circle cx="164.6" cy="343.5" r="0.65"/><circle cx="158.7" cy="347.0" r="0.65"/><circle cx="153.1" cy="343.8" r="0.65"/><circle cx="156.4" cy="347.9" r="0.65"/><circle cx="153.1" cy="352.4" r="0.65"/><circle cx="155.7" cy="348.1" r="0.65"/><circle cx="155.5" cy="348.1" r="0.65"/><circle cx="151.6" cy="347.0" r="0.65"/><circle cx="168.1" cy="346.9" r="0.65"/><circle cx="150.5" cy="347.2" r="0.65"/><circle cx="160.4" cy="343.3" r="0.65"/><circle cx="158.8" cy="345.9" r="0.65"/><circle cx="156.3" cy="347.1" r="0.65"/><circle cx="154.9" cy="347.3" r="0.65"/><circle cx="149.3" cy="348.3" r="0.65"/><circle cx="164.3" cy="343.8" r="0.65"/><circle cx="152.4" cy="346.1" r="0.65"/><circle cx="153.7" cy="343.1" r="0.65"/><circle cx="155.6" cy="346.9" r="0.65"/><circle cx="158.7" cy="344.5" r="0.65"/><circle cx="152.7" cy="347.5" r="0.65"/><circle cx="156.4" cy="349.0" r="0.65"/><circle cx="151.7" cy="343.8" r="0.65"/><circle cx="159.6" cy="342.8" r="0.65"/><circle cx="153.8" cy="347.0" r="0.65"/><circle cx="154.5" cy="346.7" r="0.65"/><circle cx="161.4" cy="345.4" r="0.65"/><circle cx="161.7" cy="346.5" r="0.65"/><circle cx="157.4" cy="341.9" r="0.65"/><circle cx="152.4" cy="347.3" r="0.65"/><circle cx="153.1" cy="349.2" r="0.65"/><circle cx="154.4" cy="347.0" r="0.65"/><circle cx="165.5" cy="345.6" r="0.65"/><circle cx="146.2" cy="344.4" r="0.65"/><circle cx="159.9" cy="345.2" r="0.65"/><circle cx="157.0" cy="343.9" r="0.65"/><circle cx="153.2" cy="345.7" r="0.65"/><circle cx="156.3" cy="341.9" r="0.65"/><circle cx="162.0" cy="344.6" r="0.65"/><circle cx="149.8" cy="344.2" r="0.65"/><circle cx="155.5" cy="343.0" r="0.65"/><circle cx="155.9" cy="345.1" r="0.65"/><circle cx="158.6" cy="346.8" r="0.65"/><circle cx="152.8" cy="340.9" r="0.65"/><circle cx="151.9" cy="343.9" r="0.65"/><circle cx="158.7" cy="343.5" r="0.65"/><circle cx="161.8" cy="347.8" r="0.65"/><circle cx="159.9" cy="349.5" r="0.65"/><circle cx="155.9" cy="344.8" r="0.65"/><circle cx="160.3" cy="342.8" r="0.65"/><circle cx="151.6" cy="346.5" r="0.65"/><circle cx="155.0" cy="347.1" r="0.65"/><circle cx="152.1" cy="347.3" r="0.65"/><circle cx="160.8" cy="342.1" r="0.65"/><circle cx="159.0" cy="341.6" r="0.65"/><circle cx="156.1" cy="347.8" r="0.65"/><circle cx="152.8" cy="345.4" r="0.65"/><circle cx="160.3" cy="342.5" r="0.65"/><circle cx="151.7" cy="343.9" r="0.65"/><circle cx="153.3" cy="344.5" r="0.65"/><circle cx="159.8" cy="341.9" r="0.65"/><circle cx="153.4" cy="345.2" r="0.65"/><circle cx="157.6" cy="346.2" r="0.65"/><circle cx="156.1" cy="344.2" r="0.65"/><circle cx="148.4" cy="347.6" r="0.65"/><circle cx="165.9" cy="343.6" r="0.65"/><circle cx="153.2" cy="349.7" r="0.65"/><circle cx="151.5" cy="344.8" r="0.65"/><circle cx="158.7" cy="344.3" r="0.65"/><circle cx="158.3" cy="346.6" r="0.65"/><circle cx="162.7" cy="347.2" r="0.65"/><circle cx="158.0" cy="345.9" r="0.65"/><circle cx="148.1" cy="344.3" r="0.65"/><circle cx="154.5" cy="344.1" r="0.65"/><circle cx="161.3" cy="344.6" r="0.65"/><circle cx="152.8" cy="346.3" r="0.65"/><circle cx="155.4" cy="342.5" r="0.65"/><circle cx="159.5" cy="341.7" r="0.65"/><circle cx="159.1" cy="346.8" r="0.65"/><circle cx="159.8" cy="343.0" r="0.65"/><circle cx="155.2" cy="344.6" r="0.65"/><circle cx="154.3" cy="348.4" r="0.65"/><circle cx="155.3" cy="343.9" r="0.65"/><circle cx="154.1" cy="350.5" r="0.65"/><circle cx="152.2" cy="343.5" r="0.65"/><circle cx="156.7" cy="343.0" r="0.65"/><circle cx="152.4" cy="346.8" r="0.65"/><circle cx="151.3" cy="347.6" r="0.65"/><circle cx="158.0" cy="345.0" r="0.65"/><circle cx="153.6" cy="345.1" r="0.65"/><circle cx="149.9" cy="346.9" r="0.65"/><circle cx="149.1" cy="349.4" r="0.65"/><circle cx="149.7" cy="348.5" r="0.65"/><circle cx="162.7" cy="341.9" r="0.65"/><circle cx="161.3" cy="346.2" r="0.65"/><circle cx="158.4" cy="347.7" r="0.65"/><circle cx="153.3" cy="345.2" r="0.65"/><circle cx="148.6" cy="345.8" r="0.65"/><circle cx="158.4" cy="349.7" r="0.65"/><circle cx="155.1" cy="345.3" r="0.65"/><circle cx="150.7" cy="344.8" r="0.65"/><circle cx="156.2" cy="347.1" r="0.65"/><circle cx="162.9" cy="344.3" r="0.65"/><circle cx="159.0" cy="341.2" r="0.65"/><circle cx="153.5" cy="346.2" r="0.65"/><circle cx="148.0" cy="346.8" r="0.65"/><circle cx="157.6" cy="339.9" r="0.65"/><circle cx="158.2" cy="344.8" r="0.65"/><circle cx="150.1" cy="347.9" r="0.65"/><circle cx="147.5" cy="349.3" r="0.65"/><circle cx="156.2" cy="344.8" r="0.65"/><circle cx="151.6" cy="346.4" r="0.65"/><circle cx="152.1" cy="344.5" r="0.65"/><circle cx="158.5" cy="346.5" r="0.65"/><circle cx="153.7" cy="348.4" r="0.65"/><circle cx="153.6" cy="341.0" r="0.65"/><circle cx="155.6" cy="343.7" r="0.65"/><circle cx="158.2" cy="342.1" r="0.65"/><circle cx="154.2" cy="347.6" r="0.65"/><circle cx="160.3" cy="343.1" r="0.65"/><circle cx="152.8" cy="343.4" r="0.65"/><circle cx="155.6" cy="345.6" r="0.65"/><circle cx="163.8" cy="343.6" r="0.65"/><circle cx="157.1" cy="346.1" r="0.65"/><circle cx="156.6" cy="343.2" r="0.65"/><circle cx="157.7" cy="347.0" r="0.65"/><circle cx="157.7" cy="345.6" r="0.65"/><circle cx="157.0" cy="345.8" r="0.65"/><circle cx="146.0" cy="350.0" r="0.65"/><circle cx="154.0" cy="350.5" r="0.65"/><circle cx="149.0" cy="341.8" r="0.65"/><circle cx="158.8" cy="346.2" r="0.65"/><circle cx="157.1" cy="350.2" r="0.65"/><circle cx="156.8" cy="343.3" r="0.65"/><circle cx="156.5" cy="348.3" r="0.65"/><circle cx="160.0" cy="346.3" r="0.65"/><circle cx="153.2" cy="345.3" r="0.65"/><circle cx="154.3" cy="341.2" r="0.65"/><circle cx="155.1" cy="340.9" r="0.65"/><circle cx="157.7" cy="348.0" r="0.65"/><circle cx="155.7" cy="345.4" r="0.65"/><circle cx="162.1" cy="342.1" r="0.65"/><circle cx="167.0" cy="345.9" r="0.65"/><circle cx="153.7" cy="340.7" r="0.65"/><circle cx="151.7" cy="345.1" r="0.65"/><circle cx="162.8" cy="347.0" r="0.65"/><circle cx="154.1" cy="347.3" r="0.65"/><circle cx="158.0" cy="344.4" r="0.65"/><circle cx="155.5" cy="344.1" r="0.65"/><circle cx="152.2" cy="346.7" r="0.65"/><circle cx="157.8" cy="340.9" r="0.65"/><circle cx="155.5" cy="345.4" r="0.65"/><circle cx="161.5" cy="344.8" r="0.65"/><circle cx="161.5" cy="344.4" r="0.65"/><circle cx="160.8" cy="344.6" r="0.65"/><circle cx="151.6" cy="347.8" r="0.65"/><circle cx="157.6" cy="341.2" r="0.65"/><circle cx="164.0" cy="345.4" r="0.65"/><circle cx="166.8" cy="346.9" r="0.65"/><circle cx="151.9" cy="343.9" r="0.65"/><circle cx="148.9" cy="344.2" r="0.65"/></g>
<line x1="170.09" y1="289.10" x2="170.09" y2="357.90" stroke="#ff4a4a" stroke-width="0.8" />
<line x1="144.40" y1="335.20" x2="214.30" y2="335.20" stroke="#ff4a4a" stroke-width="0.8" />
<circle cx="170.09" cy="304.40" r="1.6" fill="#ff0000"/>
<circle cx="199.50" cy="335.20" r="1.6" fill="#ff0000"/>
<circle cx="170.09" cy="335.20" r="1.7" fill="#fff" stroke="#ff2020" stroke-width="0.8"/>
<rect x="144.40" y="289.10" width="69.90" height="68.80" fill="none" stroke="#8a8a8a" stroke-width="0.9" />
<line x1="144.40" y1="289.10" x2="144.40" y2="357.90" stroke="#555" stroke-width="1" />
<line x1="144.40" y1="357.90" x2="214.30" y2="357.90" stroke="#555" stroke-width="1" />
<line x1="144.40" y1="357.90" x2="144.40" y2="359.20" stroke="#444" stroke-width="0.6" />
<text x="144.40" y="366.30" font-size="7.6" text-anchor="middle" fill="#222" >0</text>
<line x1="143.10" y1="357.90" x2="144.40" y2="357.90" stroke="#444" stroke-width="0.6" />
<text x="140.00" y="360.40" font-size="7.6" text-anchor="middle" fill="#222" >0</text>
<line x1="161.88" y1="357.90" x2="161.88" y2="359.20" stroke="#444" stroke-width="0.6" />
<text x="161.88" y="366.30" font-size="7.6" text-anchor="middle" fill="#222" >1</text>
<line x1="143.10" y1="340.70" x2="144.40" y2="340.70" stroke="#444" stroke-width="0.6" />
<text x="140.00" y="343.20" font-size="7.6" text-anchor="middle" fill="#222" >1</text>
<line x1="179.35" y1="357.90" x2="179.35" y2="359.20" stroke="#444" stroke-width="0.6" />
<text x="179.35" y="366.30" font-size="7.6" text-anchor="middle" fill="#222" >2</text>
<line x1="143.10" y1="323.50" x2="144.40" y2="323.50" stroke="#444" stroke-width="0.6" />
<text x="140.00" y="326.00" font-size="7.6" text-anchor="middle" fill="#222" >2</text>
<line x1="196.83" y1="357.90" x2="196.83" y2="359.20" stroke="#444" stroke-width="0.6" />
<text x="196.83" y="366.30" font-size="7.6" text-anchor="middle" fill="#222" >3</text>
<line x1="143.10" y1="306.30" x2="144.40" y2="306.30" stroke="#444" stroke-width="0.6" />
<text x="140.00" y="308.80" font-size="7.6" text-anchor="middle" fill="#222" >3</text>
<line x1="214.30" y1="357.90" x2="214.30" y2="359.20" stroke="#444" stroke-width="0.6" />
<text x="214.30" y="366.30" font-size="7.6" text-anchor="middle" fill="#222" >4</text>
<line x1="143.10" y1="289.10" x2="144.40" y2="289.10" stroke="#444" stroke-width="0.6" />
<text x="140.00" y="291.60" font-size="7.6" text-anchor="middle" fill="#222" >4</text>
<line x1="143.70" y1="357.90" x2="144.40" y2="357.90" stroke="#666" stroke-width="0.4" />
<line x1="144.40" y1="357.90" x2="144.40" y2="358.60" stroke="#666" stroke-width="0.4" />
<line x1="143.70" y1="353.60" x2="144.40" y2="353.60" stroke="#666" stroke-width="0.4" />
<line x1="148.77" y1="357.90" x2="148.77" y2="358.60" stroke="#666" stroke-width="0.4" />
<line x1="143.70" y1="349.30" x2="144.40" y2="349.30" stroke="#666" stroke-width="0.4" />
<line x1="153.14" y1="357.90" x2="153.14" y2="358.60" stroke="#666" stroke-width="0.4" />
<line x1="143.70" y1="345.00" x2="144.40" y2="345.00" stroke="#666" stroke-width="0.4" />
<line x1="157.51" y1="357.90" x2="157.51" y2="358.60" stroke="#666" stroke-width="0.4" />
<line x1="143.70" y1="340.70" x2="144.40" y2="340.70" stroke="#666" stroke-width="0.4" />
<line x1="161.88" y1="357.90" x2="161.88" y2="358.60" stroke="#666" stroke-width="0.4" />
<line x1="143.70" y1="336.40" x2="144.40" y2="336.40" stroke="#666" stroke-width="0.4" />
<line x1="166.24" y1="357.90" x2="166.24" y2="358.60" stroke="#666" stroke-width="0.4" />
<line x1="143.70" y1="332.10" x2="144.40" y2="332.10" stroke="#666" stroke-width="0.4" />
<line x1="170.61" y1="357.90" x2="170.61" y2="358.60" stroke="#666" stroke-width="0.4" />
<line x1="143.70" y1="327.80" x2="144.40" y2="327.80" stroke="#666" stroke-width="0.4" />
<line x1="174.98" y1="357.90" x2="174.98" y2="358.60" stroke="#666" stroke-width="0.4" />
<line x1="143.70" y1="323.50" x2="144.40" y2="323.50" stroke="#666" stroke-width="0.4" />
<line x1="179.35" y1="357.90" x2="179.35" y2="358.60" stroke="#666" stroke-width="0.4" />
<line x1="143.70" y1="319.20" x2="144.40" y2="319.20" stroke="#666" stroke-width="0.4" />
<line x1="183.72" y1="357.90" x2="183.72" y2="358.60" stroke="#666" stroke-width="0.4" />
<line x1="143.70" y1="314.90" x2="144.40" y2="314.90" stroke="#666" stroke-width="0.4" />
<line x1="188.09" y1="357.90" x2="188.09" y2="358.60" stroke="#666" stroke-width="0.4" />
<line x1="143.70" y1="310.60" x2="144.40" y2="310.60" stroke="#666" stroke-width="0.4" />
<line x1="192.46" y1="357.90" x2="192.46" y2="358.60" stroke="#666" stroke-width="0.4" />
<line x1="143.70" y1="306.30" x2="144.40" y2="306.30" stroke="#666" stroke-width="0.4" />
<line x1="196.83" y1="357.90" x2="196.83" y2="358.60" stroke="#666" stroke-width="0.4" />
<line x1="143.70" y1="302.00" x2="144.40" y2="302.00" stroke="#666" stroke-width="0.4" />
<line x1="201.19" y1="357.90" x2="201.19" y2="358.60" stroke="#666" stroke-width="0.4" />
<line x1="143.70" y1="297.70" x2="144.40" y2="297.70" stroke="#666" stroke-width="0.4" />
<line x1="205.56" y1="357.90" x2="205.56" y2="358.60" stroke="#666" stroke-width="0.4" />
<line x1="143.70" y1="293.40" x2="144.40" y2="293.40" stroke="#666" stroke-width="0.4" />
<line x1="209.93" y1="357.90" x2="209.93" y2="358.60" stroke="#666" stroke-width="0.4" />
<text x="146.40" y="294.90" font-size="6.7" text-anchor="start" fill="#222" >Dead</text>
<text x="146.40" y="301.70" font-size="6.7" text-anchor="start" fill="#222"  textLength="16.70" lengthAdjust="spacingAndGlyphs">2.10 %</text>
<text x="213.30" y="294.90" font-size="6.7" text-anchor="end" fill="#222"  textLength="45.00" lengthAdjust="spacingAndGlyphs">Late Apop./Dead</text>
<text x="213.30" y="301.70" font-size="6.7" text-anchor="end" fill="#222"  textLength="16.70" lengthAdjust="spacingAndGlyphs">2.92 %</text>
<text x="146.40" y="347.90" font-size="6.7" text-anchor="start" fill="#222"  textLength="19.65" lengthAdjust="spacingAndGlyphs">79.16 %</text>
<text x="146.40" y="354.60" font-size="6.7" text-anchor="start" fill="#222" >Live</text>
<text x="213.30" y="347.90" font-size="6.7" text-anchor="end" fill="#222"  textLength="19.65" lengthAdjust="spacingAndGlyphs">15.82 %</text>
<text x="213.30" y="354.60" font-size="6.7" text-anchor="end" fill="#222"  textLength="31.30" lengthAdjust="spacingAndGlyphs">Early Apop.</text>
<rect x="235.30" y="335.20" width="25.69" height="22.70" fill="#e0efda" stroke="none" stroke-width="1" />
<g fill="#ff3a3a" fill-opacity="0.28"><circle cx="258.2" cy="349.3" r="0.50"/><circle cx="241.0" cy="339.4" r="0.50"/><circle cx="239.4" cy="348.7" r="0.50"/><circle cx="241.6" cy="351.1" r="0.50"/><circle cx="255.2" cy="338.8" r="0.50"/><circle cx="243.6" cy="349.9" r="0.50"/><circle cx="240.4" cy="344.6" r="0.50"/><circle cx="250.2" cy="344.1" r="0.50"/><circle cx="246.0" cy="346.5" r="0.50"/><circle cx="242.0" cy="348.7" r="0.50"/><circle cx="246.1" cy="344.1" r="0.50"/><circle cx="252.8" cy="346.6" r="0.50"/><circle cx="255.2" cy="349.4" r="0.50"/><circle cx="261.0" cy="340.6" r="0.50"/><circle cx="241.5" cy="334.9" r="0.50"/><circle cx="257.0" cy="338.3" r="0.50"/><circle cx="248.9" cy="341.5" r="0.50"/><circle cx="245.5" cy="352.1" r="0.50"/><circle cx="255.2" cy="346.1" r="0.50"/><circle cx="248.6" cy="347.5" r="0.50"/><circle cx="244.0" cy="352.6" r="0.50"/><circle cx="250.5" cy="348.6" r="0.50"/><circle cx="244.6" cy="342.4" r="0.50"/><circle cx="251.8" cy="351.0" r="0.50"/><circle cx="243.4" cy="346.7" r="0.50"/><circle cx="245.7" cy="351.0" r="0.50"/><circle cx="245.6" cy="342.2" r="0.50"/><circle cx="255.4" cy="339.0" r="0.50"/><circle cx="251.3" cy="356.8" r="0.50"/><circle cx="242.6" cy="349.1" r="0.50"/><circle cx="252.6" cy="345.7" r="0.50"/><circle cx="247.9" cy="344.1" r="0.50"/><circle cx="243.1" cy="340.7" r="0.50"/><circle cx="260.3" cy="341.3" r="0.50"/><circle cx="240.2" cy="345.9" r="0.50"/><circle cx="253.1" cy="342.5" r="0.50"/><circle cx="239.1" cy="343.0" r="0.50"/><circle cx="251.0" cy="343.3" r="0.50"/><circle cx="241.4" cy="347.0" r="0.50"/><circle cx="241.2" cy="348.2" r="0.50"/><circle cx="242.5" cy="348.1" r="0.50"/><circle cx="245.6" cy="346.0" r="0.50"/><circle cx="239.8" cy="347.6" r="0.50"/><circle cx="244.1" cy="344.4" r="0.50"/><circle cx="248.6" cy="347.7" r="0.50"/><circle cx="238.0" cy="354.3" r="0.50"/><circle cx="237.2" cy="340.4" r="0.50"/><circle cx="243.6" cy="348.3" r="0.50"/><circle cx="243.6" cy="349.0" r="0.50"/><circle cx="239.6" cy="346.8" r="0.50"/><circle cx="244.1" cy="350.5" r="0.50"/><circle cx="253.6" cy="344.0" r="0.50"/><circle cx="254.0" cy="348.4" r="0.50"/><circle cx="258.1" cy="347.2" r="0.50"/><circle cx="246.5" cy="348.6" r="0.50"/><circle cx="243.7" cy="339.8" r="0.50"/><circle cx="246.0" cy="350.3" r="0.50"/><circle cx="250.7" cy="340.3" r="0.50"/><circle cx="252.4" cy="342.5" r="0.50"/><circle cx="243.5" cy="342.3" r="0.50"/><circle cx="238.2" cy="352.4" r="0.50"/><circle cx="242.7" cy="347.8" r="0.50"/><circle cx="255.2" cy="349.7" r="0.50"/><circle cx="254.5" cy="348.8" r="0.50"/><circle cx="244.6" cy="352.8" r="0.50"/><circle cx="246.7" cy="346.1" r="0.50"/><circle cx="241.6" cy="355.2" r="0.50"/><circle cx="240.5" cy="345.0" r="0.50"/><circle cx="245.1" cy="348.8" r="0.50"/><circle cx="246.6" cy="343.5" r="0.50"/><circle cx="244.7" cy="349.9" r="0.50"/><circle cx="251.5" cy="348.7" r="0.50"/><circle cx="248.0" cy="342.0" r="0.50"/><circle cx="255.9" cy="338.4" r="0.50"/><circle cx="253.5" cy="345.0" r="0.50"/><circle cx="243.2" cy="345.9" r="0.50"/><circle cx="249.3" cy="333.1" r="0.50"/><circle cx="250.5" cy="349.5" r="0.50"/><circle cx="257.7" cy="352.0" r="0.50"/><circle cx="253.4" cy="351.2" r="0.50"/><circle cx="242.5" cy="352.6" r="0.50"/><circle cx="250.1" cy="346.5" r="0.50"/><circle cx="256.2" cy="349.7" r="0.50"/><circle cx="243.0" cy="342.5" r="0.50"/><circle cx="245.7" cy="338.0" r="0.50"/><circle cx="241.1" cy="340.8" r="0.50"/><circle cx="258.2" cy="351.0" r="0.50"/><circle cx="239.8" cy="355.0" r="0.50"/><circle cx="237.8" cy="351.4" r="0.50"/><circle cx="248.5" cy="341.2" r="0.50"/><circle cx="265.0" cy="345.9" r="0.50"/><circle cx="251.8" cy="344.8" r="0.50"/><circle cx="246.0" cy="338.0" r="0.50"/><circle cx="250.8" cy="339.1" r="0.50"/><circle cx="247.4" cy="342.5" r="0.50"/><circle cx="249.2" cy="346.5" r="0.50"/><circle cx="239.1" cy="348.9" r="0.50"/><circle cx="245.0" cy="348.2" r="0.50"/><circle cx="242.0" cy="349.9" r="0.50"/><circle cx="252.1" cy="346.8" r="0.50"/><circle cx="243.9" cy="347.6" r="0.50"/><circle cx="255.9" cy="347.7" r="0.50"/><circle cx="256.8" cy="349.0" r="0.50"/><circle cx="257.8" cy="342.5" r="0.50"/><circle cx="240.8" cy="345.0" r="0.50"/><circle cx="254.5" cy="349.6" r="0.50"/><circle cx="243.0" cy="345.4" r="0.50"/><circle cx="243.2" cy="348.0" r="0.50"/><circle cx="245.1" cy="345.2" r="0.50"/><circle cx="251.4" cy="339.4" r="0.50"/><circle cx="242.2" cy="334.1" r="0.50"/><circle cx="242.2" cy="339.1" r="0.50"/><circle cx="243.9" cy="352.9" r="0.50"/><circle cx="241.3" cy="348.4" r="0.50"/><circle cx="253.9" cy="354.3" r="0.50"/><circle cx="239.6" cy="347.7" r="0.50"/><circle cx="250.4" cy="344.2" r="0.50"/><circle cx="252.1" cy="346.4" r="0.50"/><circle cx="243.0" cy="341.5" r="0.50"/><circle cx="259.4" cy="343.3" r="0.50"/><circle cx="246.2" cy="350.1" r="0.50"/><circle cx="262.6" cy="342.9" r="0.50"/><circle cx="250.1" cy="352.9" r="0.50"/><circle cx="250.0" cy="335.5" r="0.50"/><circle cx="243.6" cy="347.6" r="0.50"/><circle cx="257.8" cy="346.0" r="0.50"/><circle cx="252.0" cy="337.4" r="0.50"/><circle cx="250.6" cy="345.4" r="0.50"/><circle cx="245.3" cy="347.2" r="0.50"/><circle cx="246.0" cy="344.9" r="0.50"/><circle cx="240.9" cy="348.2" r="0.50"/><circle cx="246.9" cy="351.0" r="0.50"/><circle cx="248.6" cy="355.6" r="0.50"/><circle cx="250.3" cy="346.5" r="0.50"/><circle cx="238.8" cy="341.9" r="0.50"/><circle cx="244.4" cy="339.6" r="0.50"/><circle cx="243.1" cy="342.3" r="0.50"/><circle cx="242.3" cy="354.9" r="0.50"/><circle cx="248.2" cy="344.1" r="0.50"/><circle cx="248.3" cy="338.9" r="0.50"/><circle cx="238.8" cy="353.4" r="0.50"/><circle cx="247.1" cy="349.3" r="0.50"/><circle cx="244.1" cy="346.6" r="0.50"/><circle cx="238.1" cy="342.5" r="0.50"/><circle cx="243.9" cy="338.9" r="0.50"/><circle cx="247.0" cy="341.7" r="0.50"/><circle cx="242.5" cy="349.6" r="0.50"/><circle cx="240.5" cy="350.8" r="0.50"/><circle cx="248.7" cy="345.5" r="0.50"/><circle cx="235.9" cy="354.2" r="0.50"/><circle cx="237.8" cy="355.2" r="0.50"/><circle cx="237.5" cy="353.9" r="0.50"/><circle cx="250.8" cy="350.9" r="0.50"/><circle cx="240.0" cy="347.6" r="0.50"/><circle cx="245.2" cy="344.7" r="0.50"/><circle cx="251.3" cy="343.1" r="0.50"/><circle cx="242.1" cy="341.4" r="0.50"/><circle cx="248.0" cy="349.3" r="0.50"/><circle cx="257.4" cy="350.3" r="0.50"/><circle cx="248.9" cy="340.7" r="0.50"/><circle cx="245.9" cy="344.9" r="0.50"/><circle cx="246.0" cy="343.5" r="0.50"/><circle cx="246.8" cy="346.3" r="0.50"/><circle cx="250.8" cy="354.1" r="0.50"/><circle cx="247.1" cy="347.6" r="0.50"/><circle cx="261.3" cy="343.5" r="0.50"/><circle cx="239.5" cy="344.3" r="0.50"/><circle cx="241.8" cy="352.0" r="0.50"/><circle cx="242.6" cy="344.6" r="0.50"/><circle cx="254.8" cy="340.9" r="0.50"/><circle cx="246.9" cy="347.0" r="0.50"/><circle cx="246.6" cy="341.1" r="0.50"/><circle cx="243.9" cy="341.6" r="0.50"/><circle cx="238.3" cy="347.3" r="0.50"/><circle cx="251.4" cy="342.8" r="0.50"/><circle cx="246.6" cy="348.6" r="0.50"/><circle cx="237.9" cy="349.0" r="0.50"/><circle cx="258.1" cy="348.5" r="0.50"/><circle cx="252.0" cy="345.9" r="0.50"/><circle cx="251.2" cy="351.0" r="0.50"/><circle cx="251.0" cy="348.5" r="0.50"/><circle cx="248.5" cy="344.2" r="0.50"/><circle cx="245.1" cy="344.6" r="0.50"/><circle cx="255.5" cy="346.2" r="0.50"/><circle cx="247.6" cy="350.9" r="0.50"/><circle cx="239.0" cy="347.6" r="0.50"/><circle cx="251.7" cy="348.7" r="0.50"/><circle cx="264.6" cy="355.6" r="0.50"/><circle cx="236.2" cy="346.9" r="0.50"/><circle cx="249.0" cy="350.2" r="0.50"/><circle cx="247.7" cy="341.5" r="0.50"/><circle cx="242.7" cy="343.6" r="0.50"/><circle cx="246.0" cy="350.5" r="0.50"/><circle cx="239.9" cy="349.7" r="0.50"/><circle cx="255.9" cy="340.4" r="0.50"/><circle cx="247.0" cy="353.1" r="0.50"/><circle cx="240.9" cy="348.7" r="0.50"/><circle cx="247.3" cy="352.0" r="0.50"/><circle cx="241.4" cy="348.9" r="0.50"/><circle cx="260.2" cy="342.0" r="0.50"/><circle cx="251.3" cy="345.5" r="0.50"/><circle cx="239.4" cy="355.4" r="0.50"/><circle cx="251.0" cy="347.4" r="0.50"/><circle cx="244.9" cy="344.3" r="0.50"/><circle cx="243.0" cy="345.0" r="0.50"/><circle cx="255.6" cy="346.8" r="0.50"/><circle cx="242.0" cy="346.8" r="0.50"/><circle cx="250.3" cy="347.7" r="0.50"/><circle cx="245.6" cy="349.4" r="0.50"/><circle cx="244.3" cy="344.3" r="0.50"/><circle cx="238.2" cy="348.0" r="0.50"/><circle cx="245.6" cy="344.2" r="0.50"/><circle cx="236.5" cy="347.9" r="0.50"/><circle cx="237.3" cy="346.0" r="0.50"/><circle cx="247.1" cy="344.4" r="0.50"/><circle cx="243.2" cy="352.9" r="0.50"/><circle cx="240.3" cy="352.8" r="0.50"/><circle cx="239.4" cy="347.4" r="0.50"/><circle cx="253.8" cy="348.4" r="0.50"/><circle cx="238.6" cy="346.3" r="0.50"/><circle cx="253.0" cy="341.5" r="0.50"/><circle cx="244.1" cy="343.5" r="0.50"/><circle cx="242.1" cy="342.7" r="0.50"/><circle cx="239.6" cy="350.6" r="0.50"/><circle cx="248.0" cy="348.2" r="0.50"/><circle cx="250.4" cy="349.7" r="0.50"/><circle cx="247.1" cy="350.5" r="0.50"/><circle cx="244.1" cy="337.4" r="0.50"/><circle cx="236.1" cy="352.8" r="0.50"/><circle cx="258.2" cy="347.1" r="0.50"/><circle cx="252.5" cy="346.5" r="0.50"/><circle cx="239.8" cy="338.4" r="0.50"/><circle cx="253.8" cy="353.5" r="0.50"/><circle cx="236.9" cy="345.6" r="0.50"/><circle cx="250.2" cy="346.9" r="0.50"/><circle cx="247.5" cy="343.9" r="0.50"/><circle cx="242.1" cy="342.5" r="0.50"/><circle cx="238.0" cy="344.0" r="0.50"/><circle cx="252.4" cy="344.9" r="0.50"/><circle cx="242.1" cy="346.9" r="0.50"/><circle cx="251.2" cy="349.8" r="0.50"/><circle cx="247.8" cy="346.0" r="0.50"/><circle cx="242.7" cy="344.8" r="0.50"/><circle cx="245.5" cy="351.9" r="0.50"/><circle cx="240.6" cy="346.5" r="0.50"/><circle cx="240.5" cy="356.2" r="0.50"/><circle cx="259.0" cy="341.3" r="0.50"/><circle cx="241.1" cy="342.9" r="0.50"/><circle cx="236.4" cy="340.8" r="0.50"/><circle cx="241.9" cy="346.3" r="0.50"/><circle cx="240.2" cy="346.6" r="0.50"/><circle cx="247.6" cy="346.1" r="0.50"/><circle cx="238.2" cy="344.0" r="0.50"/><circle cx="249.5" cy="346.1" r="0.50"/><circle cx="253.5" cy="348.8" r="0.50"/><circle cx="255.3" cy="346.1" r="0.50"/><circle cx="257.2" cy="347.1" r="0.50"/><circle cx="242.9" cy="345.9" r="0.50"/><circle cx="253.8" cy="339.4" r="0.50"/><circle cx="241.2" cy="350.1" r="0.50"/><circle cx="251.1" cy="340.5" r="0.50"/><circle cx="250.6" cy="347.3" r="0.50"/><circle cx="255.3" cy="345.5" r="0.50"/><circle cx="246.3" cy="343.7" r="0.50"/><circle cx="240.3" cy="356.8" r="0.50"/><circle cx="246.7" cy="343.3" r="0.50"/><circle cx="248.5" cy="343.8" r="0.50"/><circle cx="246.2" cy="341.9" r="0.50"/><circle cx="245.9" cy="340.0" r="0.50"/><circle cx="245.3" cy="343.1" r="0.50"/><circle cx="240.5" cy="345.7" r="0.50"/><circle cx="248.4" cy="345.6" r="0.50"/><circle cx="257.5" cy="345.0" r="0.50"/><circle cx="254.0" cy="344.1" r="0.50"/><circle cx="253.8" cy="349.5" r="0.50"/><circle cx="242.0" cy="342.7" r="0.50"/><circle cx="238.3" cy="345.6" r="0.50"/><circle cx="249.5" cy="345.2" r="0.50"/><circle cx="248.5" cy="343.8" r="0.50"/><circle cx="243.0" cy="345.0" r="0.50"/><circle cx="240.7" cy="348.9" r="0.50"/><circle cx="246.6" cy="351.1" r="0.50"/><circle cx="245.5" cy="345.2" r="0.50"/><circle cx="242.1" cy="350.8" r="0.50"/><circle cx="244.0" cy="344.9" r="0.50"/><circle cx="252.4" cy="337.4" r="0.50"/></g>
<g fill="#ff2020" fill-opacity="0.55"><circle cx="267.6" cy="342.0" r="0.45"/><circle cx="263.2" cy="343.9" r="0.45"/><circle cx="248.6" cy="341.7" r="0.45"/><circle cx="261.8" cy="340.8" r="0.45"/><circle cx="248.7" cy="346.0" r="0.45"/><circle cx="254.8" cy="346.8" r="0.45"/><circle cx="266.2" cy="345.4" r="0.45"/><circle cx="247.1" cy="344.7" r="0.45"/><circle cx="257.5" cy="346.1" r="0.45"/><circle cx="257.3" cy="344.8" r="0.45"/><circle cx="253.7" cy="344.9" r="0.45"/><circle cx="266.9" cy="344.0" r="0.45"/><circle cx="266.0" cy="340.1" r="0.45"/><circle cx="257.1" cy="346.0" r="0.45"/><circle cx="252.9" cy="345.3" r="0.45"/><circle cx="253.4" cy="348.5" r="0.45"/><circle cx="266.8" cy="344.8" r="0.45"/><circle cx="254.7" cy="346.0" r="0.45"/><circle cx="261.0" cy="345.5" r="0.45"/><circle cx="257.2" cy="344.5" r="0.45"/><circle cx="254.7" cy="345.0" r="0.45"/><circle cx="258.5" cy="343.7" r="0.45"/><circle cx="267.0" cy="344.1" r="0.45"/><circle cx="259.0" cy="344.3" r="0.45"/><circle cx="252.1" cy="345.5" r="0.45"/><circle cx="262.5" cy="343.4" r="0.45"/><circle cx="261.4" cy="342.0" r="0.45"/><circle cx="269.6" cy="345.2" r="0.45"/><circle cx="258.5" cy="346.7" r="0.45"/><circle cx="260.0" cy="342.3" r="0.45"/><circle cx="259.9" cy="345.4" r="0.45"/><circle cx="254.0" cy="342.6" r="0.45"/><circle cx="254.9" cy="344.1" r="0.45"/><circle cx="251.0" cy="347.9" r="0.45"/><circle cx="251.3" cy="347.2" r="0.45"/><circle cx="259.5" cy="345.9" r="0.45"/><circle cx="249.1" cy="343.7" r="0.45"/><circle cx="263.8" cy="345.5" r="0.45"/><circle cx="258.5" cy="341.5" r="0.45"/><circle cx="254.4" cy="346.8" r="0.45"/><circle cx="256.2" cy="347.0" r="0.45"/><circle cx="269.0" cy="342.8" r="0.45"/><circle cx="260.2" cy="343.0" r="0.45"/><circle cx="266.5" cy="343.6" r="0.45"/><circle cx="256.0" cy="343.5" r="0.45"/><circle cx="256.3" cy="345.8" r="0.45"/><circle cx="260.8" cy="341.6" r="0.45"/><circle cx="270.1" cy="341.4" r="0.45"/><circle cx="261.7" cy="344.7" r="0.45"/><circle cx="260.2" cy="344.6" r="0.45"/><circle cx="255.0" cy="346.1" r="0.45"/><circle cx="263.7" cy="340.6" r="0.45"/><circle cx="265.2" cy="345.1" r="0.45"/><circle cx="255.5" cy="343.5" r="0.45"/><circle cx="251.3" cy="343.8" r="0.45"/><circle cx="267.5" cy="343.7" r="0.45"/><circle cx="260.3" cy="342.1" r="0.45"/><circle cx="253.2" cy="346.4" r="0.45"/><circle cx="265.4" cy="342.8" r="0.45"/><circle cx="252.9" cy="344.3" r="0.45"/><circle cx="257.2" cy="345.4" r="0.45"/><circle cx="256.2" cy="345.6" r="0.45"/><circle cx="253.3" cy="346.7" r="0.45"/><circle cx="254.5" cy="342.4" r="0.45"/><circle cx="264.9" cy="341.5" r="0.45"/><circle cx="258.0" cy="343.1" r="0.45"/><circle cx="255.3" cy="341.5" r="0.45"/><circle cx="248.8" cy="343.4" r="0.45"/><circle cx="254.5" cy="346.1" r="0.45"/><circle cx="261.6" cy="343.0" r="0.45"/><circle cx="265.4" cy="343.8" r="0.45"/><circle cx="264.8" cy="343.1" r="0.45"/><circle cx="263.8" cy="342.3" r="0.45"/><circle cx="264.7" cy="342.7" r="0.45"/><circle cx="258.4" cy="345.1" r="0.45"/><circle cx="263.8" cy="342.8" r="0.45"/><circle cx="255.3" cy="344.1" r="0.45"/><circle cx="259.2" cy="347.3" r="0.45"/><circle cx="259.0" cy="344.2" r="0.45"/><circle cx="252.2" cy="344.5" r="0.45"/><circle cx="252.2" cy="343.5" r="0.45"/><circle cx="267.8" cy="347.1" r="0.45"/><circle cx="256.3" cy="344.4" r="0.45"/><circle cx="258.5" cy="347.7" r="0.45"/><circle cx="267.0" cy="345.1" r="0.45"/><circle cx="249.3" cy="345.3" r="0.45"/><circle cx="268.1" cy="345.0" r="0.45"/><circle cx="263.1" cy="346.2" r="0.45"/><circle cx="261.3" cy="345.7" r="0.45"/><circle cx="260.9" cy="344.5" r="0.45"/><circle cx="261.4" cy="344.5" r="0.45"/><circle cx="247.9" cy="347.3" r="0.45"/><circle cx="258.6" cy="348.7" r="0.45"/><circle cx="250.4" cy="346.0" r="0.45"/><circle cx="256.7" cy="343.9" r="0.45"/><circle cx="270.4" cy="347.4" r="0.45"/><circle cx="257.2" cy="344.6" r="0.45"/><circle cx="250.1" cy="347.8" r="0.45"/><circle cx="251.1" cy="345.9" r="0.45"/><circle cx="269.0" cy="340.5" r="0.45"/><circle cx="265.0" cy="321.3" r="0.40"/><circle cx="260.5" cy="316.9" r="0.40"/><circle cx="271.9" cy="313.1" r="0.40"/><circle cx="279.9" cy="314.8" r="0.40"/><circle cx="278.2" cy="319.6" r="0.40"/><circle cx="260.9" cy="314.2" r="0.40"/><circle cx="276.5" cy="310.9" r="0.40"/><circle cx="267.2" cy="320.9" r="0.40"/><circle cx="265.6" cy="316.3" r="0.40"/><circle cx="268.1" cy="319.3" r="0.40"/><circle cx="294.8" cy="351.9" r="0.35"/><circle cx="292.5" cy="343.6" r="0.35"/><circle cx="272.2" cy="309.7" r="0.35"/><circle cx="299.4" cy="299.0" r="0.35"/><circle cx="247.2" cy="309.4" r="0.35"/><circle cx="265.6" cy="345.2" r="0.35"/><circle cx="267.7" cy="294.9" r="0.35"/><circle cx="238.3" cy="310.5" r="0.35"/><circle cx="273.1" cy="298.5" r="0.35"/><circle cx="268.6" cy="339.9" r="0.35"/><circle cx="293.6" cy="349.1" r="0.35"/><circle cx="282.8" cy="337.0" r="0.35"/></g>
<g fill="#ff0a0a" fill-opacity="0.5"><circle cx="236.9" cy="346.7" r="0.65"/><circle cx="246.7" cy="347.7" r="0.65"/><circle cx="246.2" cy="341.9" r="0.65"/><circle cx="245.4" cy="343.5" r="0.65"/><circle cx="249.2" cy="347.0" r="0.65"/><circle cx="251.2" cy="349.7" r="0.65"/><circle cx="244.1" cy="348.1" r="0.65"/><circle cx="245.7" cy="346.3" r="0.65"/><circle cx="249.6" cy="347.3" r="0.65"/><circle cx="252.7" cy="349.4" r="0.65"/><circle cx="245.8" cy="340.7" r="0.65"/><circle cx="244.5" cy="345.2" r="0.65"/><circle cx="243.0" cy="339.6" r="0.65"/><circle cx="248.5" cy="346.9" r="0.65"/><circle cx="237.1" cy="346.9" r="0.65"/><circle cx="247.9" cy="350.6" r="0.65"/><circle cx="242.9" cy="345.5" r="0.65"/><circle cx="238.5" cy="350.1" r="0.65"/><circle cx="246.6" cy="343.9" r="0.65"/><circle cx="249.6" cy="347.5" r="0.65"/><circle cx="247.0" cy="350.2" r="0.65"/><circle cx="238.9" cy="346.0" r="0.65"/><circle cx="243.3" cy="348.9" r="0.65"/><circle cx="237.3" cy="347.9" r="0.65"/><circle cx="254.0" cy="349.9" r="0.65"/><circle cx="240.7" cy="344.6" r="0.65"/><circle cx="237.1" cy="348.7" r="0.65"/><circle cx="245.2" cy="344.1" r="0.65"/><circle cx="244.6" cy="342.6" r="0.65"/><circle cx="244.8" cy="346.8" r="0.65"/><circle cx="246.7" cy="345.6" r="0.65"/><circle cx="238.8" cy="349.3" r="0.65"/><circle cx="244.0" cy="345.9" r="0.65"/><circle cx="239.9" cy="348.6" r="0.65"/><circle cx="241.9" cy="346.1" r="0.65"/><circle cx="243.2" cy="345.4" r="0.65"/><circle cx="246.5" cy="348.4" r="0.65"/><circle cx="243.7" cy="349.4" r="0.65"/><circle cx="245.4" cy="344.7" r="0.65"/><circle cx="240.9" cy="350.8" r="0.65"/><circle cx="247.0" cy="347.0" r="0.65"/><circle cx="244.8" cy="345.6" r="0.65"/><circle cx="246.5" cy="344.4" r="0.65"/><circle cx="243.1" cy="351.5" r="0.65"/><circle cx="242.9" cy="347.4" r="0.65"/><circle cx="243.2" cy="345.9" r="0.65"/><circle cx="243.9" cy="343.8" r="0.65"/><circle cx="242.3" cy="346.8" r="0.65"/><circle cx="243.5" cy="342.1" r="0.65"/><circle cx="241.0" cy="349.1" r="0.65"/><circle cx="243.4" cy="345.1" r="0.65"/><circle cx="245.0" cy="346.9" r="0.65"/><circle cx="239.0" cy="351.7" r="0.65"/><circle cx="244.0" cy="347.2" r="0.65"/><circle cx="252.1" cy="345.0" r="0.65"/><circle cx="246.7" cy="344.3" r="0.65"/><circle cx="241.3" cy="349.6" r="0.65"/><circle cx="243.4" cy="343.5" r="0.65"/><circle cx="248.9" cy="347.4" r="0.65"/><circle cx="239.8" cy="345.1" r="0.65"/><circle cx="249.4" cy="348.5" r="0.65"/><circle cx="251.5" cy="347.5" r="0.65"/><circle cx="248.0" cy="346.7" r="0.65"/><circle cx="243.6" cy="348.0" r="0.65"/><circle cx="247.7" cy="344.9" r="0.65"/><circle cx="248.2" cy="346.8" r="0.65"/><circle cx="241.4" cy="342.2" r="0.65"/><circle cx="251.9" cy="346.2" r="0.65"/><circle cx="240.2" cy="343.8" r="0.65"/><circle cx="245.5" cy="346.4" r="0.65"/><circle cx="248.4" cy="345.4" r="0.65"/><circle cx="245.4" cy="342.2" r="0.65"/><circle cx="237.2" cy="346.0" r="0.65"/><circle cx="240.9" cy="346.8" r="0.65"/><circle cx="244.2" cy="346.0" r="0.65"/><circle cx="254.5" cy="346.4" r="0.65"/><circle cx="248.6" cy="344.8" r="0.65"/><circle cx="246.1" cy="347.5" r="0.65"/><circle cx="247.5" cy="345.7" r="0.65"/><circle cx="250.9" cy="344.1" r="0.65"/><circle cx="242.0" cy="353.2" r="0.65"/><circle cx="251.1" cy="344.8" r="0.65"/><circle cx="245.6" cy="347.8" r="0.65"/><circle cx="255.2" cy="342.5" r="0.65"/><circle cx="245.3" cy="347.3" r="0.65"/><circle cx="247.3" cy="343.3" r="0.65"/><circle cx="247.1" cy="344.3" r="0.65"/><circle cx="246.0" cy="345.7" r="0.65"/><circle cx="239.7" cy="346.8" r="0.65"/><circle cx="245.1" cy="346.7" r="0.65"/><circle cx="243.9" cy="346.0" r="0.65"/><circle cx="242.5" cy="347.2" r="0.65"/><circle cx="239.5" cy="342.1" r="0.65"/><circle cx="241.2" cy="349.6" r="0.65"/><circle cx="242.7" cy="347.7" r="0.65"/><circle cx="240.5" cy="352.3" r="0.65"/><circle cx="251.7" cy="343.6" r="0.65"/><circle cx="243.3" cy="345.5" r="0.65"/><circle cx="240.3" cy="350.6" r="0.65"/><circle cx="246.3" cy="345.1" r="0.65"/><circle cx="242.1" cy="346.9" r="0.65"/><circle cx="249.3" cy="345.7" r="0.65"/><circle cx="245.7" cy="345.2" r="0.65"/><circle cx="236.3" cy="350.3" r="0.65"/><circle cx="239.6" cy="346.6" r="0.65"/><circle cx="242.3" cy="350.9" r="0.65"/><circle cx="248.6" cy="346.6" r="0.65"/><circle cx="249.0" cy="341.7" r="0.65"/><circle cx="238.1" cy="350.1" r="0.65"/><circle cx="249.4" cy="343.0" r="0.65"/><circle cx="246.6" cy="345.6" r="0.65"/><circle cx="247.8" cy="344.8" r="0.65"/><circle cx="239.6" cy="345.5" r="0.65"/><circle cx="249.0" cy="347.0" r="0.65"/><circle cx="241.1" cy="348.0" r="0.65"/><circle cx="242.5" cy="345.7" r="0.65"/><circle cx="248.1" cy="346.2" r="0.65"/><circle cx="243.6" cy="350.6" r="0.65"/><circle cx="243.1" cy="348.9" r="0.65"/><circle cx="242.6" cy="346.0" r="0.65"/><circle cx="245.6" cy="338.8" r="0.65"/><circle cx="241.3" cy="348.1" r="0.65"/><circle cx="240.1" cy="347.6" r="0.65"/><circle cx="243.7" cy="344.5" r="0.65"/><circle cx="236.8" cy="345.4" r="0.65"/><circle cx="247.6" cy="347.4" r="0.65"/><circle cx="242.1" cy="346.4" r="0.65"/><circle cx="247.1" cy="346.7" r="0.65"/><circle cx="244.3" cy="346.6" r="0.65"/><circle cx="240.4" cy="346.4" r="0.65"/><circle cx="247.3" cy="346.2" r="0.65"/><circle cx="240.2" cy="347.1" r="0.65"/><circle cx="244.5" cy="345.9" r="0.65"/><circle cx="243.2" cy="344.9" r="0.65"/><circle cx="249.4" cy="344.3" r="0.65"/><circle cx="245.9" cy="343.8" r="0.65"/><circle cx="244.7" cy="346.9" r="0.65"/><circle cx="238.9" cy="347.1" r="0.65"/><circle cx="250.0" cy="348.1" r="0.65"/><circle cx="248.1" cy="349.0" r="0.65"/><circle cx="246.1" cy="342.5" r="0.65"/><circle cx="245.1" cy="349.1" r="0.65"/><circle cx="246.1" cy="346.7" r="0.65"/><circle cx="248.2" cy="347.3" r="0.65"/><circle cx="237.7" cy="348.3" r="0.65"/><circle cx="247.4" cy="344.1" r="0.65"/><circle cx="246.0" cy="346.4" r="0.65"/><circle cx="247.8" cy="346.7" r="0.65"/><circle cx="243.0" cy="346.3" r="0.65"/><circle cx="249.5" cy="347.1" r="0.65"/><circle cx="247.0" cy="347.7" r="0.65"/><circle cx="241.8" cy="346.5" r="0.65"/><circle cx="239.4" cy="349.0" r="0.65"/><circle cx="239.9" cy="348.4" r="0.65"/><circle cx="241.1" cy="341.9" r="0.65"/><circle cx="247.4" cy="346.1" r="0.65"/><circle cx="239.3" cy="352.3" r="0.65"/><circle cx="246.7" cy="347.7" r="0.65"/><circle cx="249.3" cy="346.9" r="0.65"/><circle cx="239.4" cy="348.5" r="0.65"/><circle cx="238.5" cy="350.3" r="0.65"/><circle cx="247.9" cy="347.4" r="0.65"/><circle cx="247.8" cy="347.4" r="0.65"/><circle cx="243.9" cy="347.8" r="0.65"/><circle cx="242.6" cy="348.2" r="0.65"/><circle cx="251.1" cy="346.0" r="0.65"/><circle cx="236.8" cy="343.8" r="0.65"/><circle cx="250.1" cy="343.6" r="0.65"/><circle cx="244.4" cy="346.9" r="0.65"/><circle cx="242.9" cy="346.5" r="0.65"/><circle cx="246.8" cy="346.3" r="0.65"/><circle cx="241.5" cy="349.0" r="0.65"/><circle cx="251.8" cy="342.2" r="0.65"/><circle cx="239.7" cy="348.5" r="0.65"/><circle cx="244.7" cy="345.3" r="0.65"/><circle cx="244.4" cy="346.1" r="0.65"/><circle cx="246.4" cy="343.9" r="0.65"/><circle cx="239.4" cy="344.8" r="0.65"/><circle cx="246.7" cy="345.2" r="0.65"/><circle cx="238.6" cy="347.7" r="0.65"/><circle cx="243.8" cy="345.3" r="0.65"/><circle cx="247.7" cy="344.8" r="0.65"/><circle cx="239.5" cy="344.4" r="0.65"/><circle cx="245.1" cy="344.5" r="0.65"/><circle cx="244.8" cy="348.0" r="0.65"/><circle cx="255.8" cy="344.0" r="0.65"/><circle cx="248.1" cy="347.2" r="0.65"/><circle cx="243.9" cy="344.3" r="0.65"/><circle cx="246.7" cy="342.6" r="0.65"/><circle cx="249.9" cy="348.3" r="0.65"/><circle cx="238.4" cy="344.8" r="0.65"/><circle cx="247.4" cy="346.8" r="0.65"/><circle cx="243.6" cy="347.9" r="0.65"/><circle cx="252.4" cy="346.1" r="0.65"/><circle cx="239.1" cy="345.2" r="0.65"/><circle cx="244.5" cy="345.8" r="0.65"/><circle cx="243.3" cy="346.8" r="0.65"/><circle cx="237.0" cy="346.2" r="0.65"/><circle cx="242.0" cy="347.7" r="0.65"/><circle cx="246.2" cy="343.7" r="0.65"/><circle cx="235.9" cy="347.8" r="0.65"/><circle cx="247.1" cy="344.1" r="0.65"/><circle cx="241.1" cy="346.3" r="0.65"/><circle cx="246.5" cy="344.4" r="0.65"/><circle cx="242.3" cy="347.2" r="0.65"/><circle cx="242.7" cy="344.4" r="0.65"/><circle cx="249.4" cy="347.0" r="0.65"/><circle cx="244.3" cy="346.1" r="0.65"/><circle cx="241.1" cy="347.2" r="0.65"/><circle cx="248.5" cy="344.5" r="0.65"/><circle cx="242.0" cy="348.2" r="0.65"/><circle cx="244.4" cy="349.7" r="0.65"/><circle cx="246.1" cy="346.1" r="0.65"/><circle cx="239.3" cy="347.6" r="0.65"/><circle cx="242.1" cy="347.4" r="0.65"/><circle cx="241.2" cy="344.1" r="0.65"/><circle cx="240.8" cy="345.4" r="0.65"/><circle cx="245.7" cy="343.4" r="0.65"/><circle cx="244.6" cy="346.6" r="0.65"/><circle cx="245.1" cy="350.5" r="0.65"/><circle cx="254.9" cy="345.9" r="0.65"/><circle cx="243.5" cy="349.0" r="0.65"/><circle cx="244.3" cy="343.2" r="0.65"/><circle cx="241.7" cy="345.9" r="0.65"/><circle cx="249.2" cy="344.1" r="0.65"/><circle cx="243.1" cy="350.4" r="0.65"/><circle cx="246.5" cy="345.2" r="0.65"/><circle cx="243.5" cy="347.6" r="0.65"/><circle cx="252.2" cy="349.1" r="0.65"/><circle cx="242.7" cy="348.0" r="0.65"/><circle cx="238.3" cy="348.7" r="0.65"/><circle cx="241.5" cy="344.3" r="0.65"/><circle cx="237.5" cy="350.2" r="0.65"/><circle cx="245.9" cy="349.7" r="0.65"/><circle cx="236.5" cy="348.7" r="0.65"/><circle cx="239.8" cy="349.1" r="0.65"/><circle cx="244.2" cy="345.7" r="0.65"/><circle cx="242.1" cy="347.4" r="0.65"/><circle cx="247.8" cy="346.5" r="0.65"/><circle cx="247.9" cy="347.4" r="0.65"/><circle cx="246.9" cy="343.7" r="0.65"/><circle cx="239.1" cy="340.9" r="0.65"/><circle cx="243.5" cy="347.4" r="0.65"/><circle cx="244.2" cy="345.6" r="0.65"/><circle cx="239.8" cy="347.0" r="0.65"/><circle cx="242.4" cy="343.8" r="0.65"/><circle cx="237.6" cy="345.9" r="0.65"/><circle cx="243.5" cy="348.2" r="0.65"/><circle cx="245.4" cy="347.0" r="0.65"/><circle cx="245.0" cy="346.0" r="0.65"/><circle cx="249.9" cy="346.8" r="0.65"/><circle cx="251.8" cy="351.4" r="0.65"/><circle cx="252.5" cy="343.2" r="0.65"/><circle cx="251.4" cy="345.4" r="0.65"/><circle cx="246.0" cy="348.5" r="0.65"/><circle cx="250.4" cy="348.3" r="0.65"/><circle cx="241.5" cy="346.9" r="0.65"/><circle cx="245.8" cy="345.7" r="0.65"/><circle cx="240.0" cy="347.8" r="0.65"/><circle cx="246.9" cy="343.8" r="0.65"/><circle cx="248.0" cy="345.3" r="0.65"/><circle cx="243.7" cy="347.8" r="0.65"/><circle cx="242.7" cy="347.0" r="0.65"/><circle cx="247.0" cy="347.3" r="0.65"/><circle cx="253.4" cy="347.7" r="0.65"/><circle cx="248.2" cy="346.6" r="0.65"/></g>
<line x1="260.99" y1="289.10" x2="260.99" y2="357.90" stroke="#ff4a4a" stroke-width="0.8" />
<line x1="235.30" y1="335.20" x2="305.20" y2="335.20" stroke="#ff4a4a" stroke-width="0.8" />
<circle cx="260.99" cy="304.40" r="1.6" fill="#ff0000"/>
<circle cx="290.40" cy="335.20" r="1.6" fill="#ff0000"/>
<circle cx="260.99" cy="335.20" r="1.7" fill="#fff" stroke="#ff2020" stroke-width="0.8"/>
<rect x="235.30" y="289.10" width="69.90" height="68.80" fill="none" stroke="#8a8a8a" stroke-width="0.9" />
<line x1="235.30" y1="289.10" x2="235.30" y2="357.90" stroke="#555" stroke-width="1" />
<line x1="235.30" y1="357.90" x2="305.20" y2="357.90" stroke="#555" stroke-width="1" />
<line x1="235.30" y1="357.90" x2="235.30" y2="359.20" stroke="#444" stroke-width="0.6" />
<text x="235.30" y="366.30" font-size="7.6" text-anchor="middle" fill="#222" >0</text>
<line x1="234.00" y1="357.90" x2="235.30" y2="357.90" stroke="#444" stroke-width="0.6" />
<text x="230.90" y="360.40" font-size="7.6" text-anchor="middle" fill="#222" >0</text>
<line x1="252.78" y1="357.90" x2="252.78" y2="359.20" stroke="#444" stroke-width="0.6" />
<text x="252.78" y="366.30" font-size="7.6" text-anchor="middle" fill="#222" >1</text>
<line x1="234.00" y1="340.70" x2="235.30" y2="340.70" stroke="#444" stroke-width="0.6" />
<text x="230.90" y="343.20" font-size="7.6" text-anchor="middle" fill="#222" >1</text>
<line x1="270.25" y1="357.90" x2="270.25" y2="359.20" stroke="#444" stroke-width="0.6" />
<text x="270.25" y="366.30" font-size="7.6" text-anchor="middle" fill="#222" >2</text>
<line x1="234.00" y1="323.50" x2="235.30" y2="323.50" stroke="#444" stroke-width="0.6" />
<text x="230.90" y="326.00" font-size="7.6" text-anchor="middle" fill="#222" >2</text>
<line x1="287.73" y1="357.90" x2="287.73" y2="359.20" stroke="#444" stroke-width="0.6" />
<text x="287.73" y="366.30" font-size="7.6" text-anchor="middle" fill="#222" >3</text>
<line x1="234.00" y1="306.30" x2="235.30" y2="306.30" stroke="#444" stroke-width="0.6" />
<text x="230.90" y="308.80" font-size="7.6" text-anchor="middle" fill="#222" >3</text>
<line x1="305.20" y1="357.90" x2="305.20" y2="359.20" stroke="#444" stroke-width="0.6" />
<text x="305.20" y="366.30" font-size="7.6" text-anchor="middle" fill="#222" >4</text>
<line x1="234.00" y1="289.10" x2="235.30" y2="289.10" stroke="#444" stroke-width="0.6" />
<text x="230.90" y="291.60" font-size="7.6" text-anchor="middle" fill="#222" >4</text>
<line x1="234.60" y1="357.90" x2="235.30" y2="357.90" stroke="#666" stroke-width="0.4" />
<line x1="235.30" y1="357.90" x2="235.30" y2="358.60" stroke="#666" stroke-width="0.4" />
<line x1="234.60" y1="353.60" x2="235.30" y2="353.60" stroke="#666" stroke-width="0.4" />
<line x1="239.67" y1="357.90" x2="239.67" y2="358.60" stroke="#666" stroke-width="0.4" />
<line x1="234.60" y1="349.30" x2="235.30" y2="349.30" stroke="#666" stroke-width="0.4" />
<line x1="244.04" y1="357.90" x2="244.04" y2="358.60" stroke="#666" stroke-width="0.4" />
<line x1="234.60" y1="345.00" x2="235.30" y2="345.00" stroke="#666" stroke-width="0.4" />
<line x1="248.41" y1="357.90" x2="248.41" y2="358.60" stroke="#666" stroke-width="0.4" />
<line x1="234.60" y1="340.70" x2="235.30" y2="340.70" stroke="#666" stroke-width="0.4" />
<line x1="252.78" y1="357.90" x2="252.78" y2="358.60" stroke="#666" stroke-width="0.4" />
<line x1="234.60" y1="336.40" x2="235.30" y2="336.40" stroke="#666" stroke-width="0.4" />
<line x1="257.14" y1="357.90" x2="257.14" y2="358.60" stroke="#666" stroke-width="0.4" />
<line x1="234.60" y1="332.10" x2="235.30" y2="332.10" stroke="#666" stroke-width="0.4" />
<line x1="261.51" y1="357.90" x2="261.51" y2="358.60" stroke="#666" stroke-width="0.4" />
<line x1="234.60" y1="327.80" x2="235.30" y2="327.80" stroke="#666" stroke-width="0.4" />
<line x1="265.88" y1="357.90" x2="265.88" y2="358.60" stroke="#666" stroke-width="0.4" />
<line x1="234.60" y1="323.50" x2="235.30" y2="323.50" stroke="#666" stroke-width="0.4" />
<line x1="270.25" y1="357.90" x2="270.25" y2="358.60" stroke="#666" stroke-width="0.4" />
<line x1="234.60" y1="319.20" x2="235.30" y2="319.20" stroke="#666" stroke-width="0.4" />
<line x1="274.62" y1="357.90" x2="274.62" y2="358.60" stroke="#666" stroke-width="0.4" />
<line x1="234.60" y1="314.90" x2="235.30" y2="314.90" stroke="#666" stroke-width="0.4" />
<line x1="278.99" y1="357.90" x2="278.99" y2="358.60" stroke="#666" stroke-width="0.4" />
<line x1="234.60" y1="310.60" x2="235.30" y2="310.60" stroke="#666" stroke-width="0.4" />
<line x1="283.36" y1="357.90" x2="283.36" y2="358.60" stroke="#666" stroke-width="0.4" />
<line x1="234.60" y1="306.30" x2="235.30" y2="306.30" stroke="#666" stroke-width="0.4" />
<line x1="287.73" y1="357.90" x2="287.73" y2="358.60" stroke="#666" stroke-width="0.4" />
<line x1="234.60" y1="302.00" x2="235.30" y2="302.00" stroke="#666" stroke-width="0.4" />
<line x1="292.09" y1="357.90" x2="292.09" y2="358.60" stroke="#666" stroke-width="0.4" />
<line x1="234.60" y1="297.70" x2="235.30" y2="297.70" stroke="#666" stroke-width="0.4" />
<line x1="296.46" y1="357.90" x2="296.46" y2="358.60" stroke="#666" stroke-width="0.4" />
<line x1="234.60" y1="293.40" x2="235.30" y2="293.40" stroke="#666" stroke-width="0.4" />
<line x1="300.83" y1="357.90" x2="300.83" y2="358.60" stroke="#666" stroke-width="0.4" />
<text x="237.30" y="294.90" font-size="6.7" text-anchor="start" fill="#222" >Dead</text>
<text x="237.30" y="301.70" font-size="6.7" text-anchor="start" fill="#222"  textLength="16.70" lengthAdjust="spacingAndGlyphs">1.08 %</text>
<text x="304.20" y="294.90" font-size="6.7" text-anchor="end" fill="#222"  textLength="45.00" lengthAdjust="spacingAndGlyphs">Late Apop./Dead</text>
<text x="304.20" y="301.70" font-size="6.7" text-anchor="end" fill="#222"  textLength="16.70" lengthAdjust="spacingAndGlyphs">0.86 %</text>
<text x="237.30" y="347.90" font-size="6.7" text-anchor="start" fill="#222"  textLength="19.65" lengthAdjust="spacingAndGlyphs">89.31 %</text>
<text x="237.30" y="354.60" font-size="6.7" text-anchor="start" fill="#222" >Live</text>
<text x="304.20" y="347.90" font-size="6.7" text-anchor="end" fill="#222"  textLength="16.70" lengthAdjust="spacingAndGlyphs">8.75 %</text>
<text x="304.20" y="354.60" font-size="6.7" text-anchor="end" fill="#222"  textLength="31.30" lengthAdjust="spacingAndGlyphs">Early Apop.</text>
<rect x="326.50" y="335.20" width="25.69" height="22.70" fill="#e0efda" stroke="none" stroke-width="1" />
<g fill="#ff3a3a" fill-opacity="0.28"><circle cx="341.7" cy="345.2" r="0.50"/><circle cx="339.6" cy="348.3" r="0.50"/><circle cx="340.9" cy="347.3" r="0.50"/><circle cx="339.1" cy="346.9" r="0.50"/><circle cx="330.4" cy="351.7" r="0.50"/><circle cx="340.6" cy="332.4" r="0.50"/><circle cx="336.4" cy="331.5" r="0.50"/><circle cx="334.6" cy="351.6" r="0.50"/><circle cx="340.3" cy="337.4" r="0.50"/><circle cx="347.7" cy="350.3" r="0.50"/><circle cx="335.5" cy="349.3" r="0.50"/><circle cx="343.4" cy="351.9" r="0.50"/><circle cx="339.3" cy="345.3" r="0.50"/><circle cx="341.6" cy="344.2" r="0.50"/><circle cx="337.8" cy="353.9" r="0.50"/><circle cx="333.5" cy="350.8" r="0.50"/><circle cx="341.3" cy="347.0" r="0.50"/><circle cx="337.8" cy="341.7" r="0.50"/><circle cx="335.5" cy="339.5" r="0.50"/><circle cx="344.1" cy="352.0" r="0.50"/><circle cx="331.1" cy="341.9" r="0.50"/><circle cx="331.9" cy="341.9" r="0.50"/><circle cx="331.3" cy="347.5" r="0.50"/><circle cx="345.8" cy="352.3" r="0.50"/><circle cx="337.1" cy="348.4" r="0.50"/><circle cx="338.0" cy="339.1" r="0.50"/><circle cx="340.9" cy="351.8" r="0.50"/><circle cx="345.2" cy="347.6" r="0.50"/><circle cx="338.0" cy="341.5" r="0.50"/><circle cx="333.6" cy="342.8" r="0.50"/><circle cx="338.1" cy="350.2" r="0.50"/><circle cx="333.6" cy="352.5" r="0.50"/><circle cx="347.2" cy="344.8" r="0.50"/><circle cx="345.3" cy="350.4" r="0.50"/><circle cx="344.2" cy="350.8" r="0.50"/><circle cx="339.0" cy="346.3" r="0.50"/><circle cx="331.1" cy="345.8" r="0.50"/><circle cx="336.8" cy="350.2" r="0.50"/><circle cx="329.7" cy="352.7" r="0.50"/><circle cx="348.9" cy="344.7" r="0.50"/><circle cx="333.2" cy="343.9" r="0.50"/><circle cx="328.6" cy="352.2" r="0.50"/><circle cx="339.7" cy="339.5" r="0.50"/><circle cx="339.2" cy="345.6" r="0.50"/><circle cx="352.3" cy="351.5" r="0.50"/><circle cx="364.3" cy="348.5" r="0.50"/><circle cx="335.8" cy="352.3" r="0.50"/><circle cx="358.7" cy="348.3" r="0.50"/><circle cx="330.9" cy="345.9" r="0.50"/><circle cx="327.2" cy="348.5" r="0.50"/><circle cx="343.9" cy="355.0" r="0.50"/><circle cx="333.7" cy="348.1" r="0.50"/><circle cx="331.8" cy="347.5" r="0.50"/><circle cx="331.7" cy="351.4" r="0.50"/><circle cx="347.9" cy="336.9" r="0.50"/><circle cx="343.7" cy="349.5" r="0.50"/><circle cx="349.4" cy="343.2" r="0.50"/><circle cx="329.0" cy="344.7" r="0.50"/><circle cx="331.2" cy="344.6" r="0.50"/><circle cx="344.8" cy="340.8" r="0.50"/><circle cx="336.5" cy="351.7" r="0.50"/><circle cx="340.2" cy="343.2" r="0.50"/><circle cx="330.4" cy="348.8" r="0.50"/><circle cx="345.5" cy="341.3" r="0.50"/><circle cx="349.2" cy="354.1" r="0.50"/><circle cx="343.3" cy="353.3" r="0.50"/><circle cx="330.7" cy="348.9" r="0.50"/><circle cx="331.3" cy="338.7" r="0.50"/><circle cx="334.9" cy="341.7" r="0.50"/><circle cx="334.8" cy="347.0" r="0.50"/><circle cx="341.1" cy="344.2" r="0.50"/><circle cx="341.0" cy="353.5" r="0.50"/><circle cx="341.1" cy="344.7" r="0.50"/><circle cx="341.9" cy="346.2" r="0.50"/><circle cx="340.2" cy="351.7" r="0.50"/><circle cx="346.8" cy="350.7" r="0.50"/><circle cx="349.2" cy="341.0" r="0.50"/><circle cx="335.9" cy="347.9" r="0.50"/><circle cx="343.5" cy="347.1" r="0.50"/><circle cx="352.8" cy="341.5" r="0.50"/><circle cx="332.4" cy="347.2" r="0.50"/><circle cx="330.6" cy="347.2" r="0.50"/><circle cx="336.6" cy="349.1" r="0.50"/><circle cx="330.9" cy="335.9" r="0.50"/><circle cx="332.4" cy="349.0" r="0.50"/><circle cx="331.2" cy="349.2" r="0.50"/><circle cx="348.4" cy="342.5" r="0.50"/><circle cx="340.3" cy="344.6" r="0.50"/><circle cx="350.2" cy="342.1" r="0.50"/><circle cx="338.4" cy="345.2" r="0.50"/><circle cx="338.3" cy="346.3" r="0.50"/><circle cx="334.1" cy="356.3" r="0.50"/><circle cx="341.6" cy="345.8" r="0.50"/><circle cx="345.3" cy="344.4" r="0.50"/><circle cx="333.9" cy="344.2" r="0.50"/><circle cx="338.2" cy="348.3" r="0.50"/><circle cx="333.1" cy="348.7" r="0.50"/><circle cx="333.7" cy="348.7" r="0.50"/><circle cx="345.4" cy="333.2" r="0.50"/><circle cx="335.4" cy="341.9" r="0.50"/><circle cx="332.2" cy="347.6" r="0.50"/><circle cx="329.7" cy="353.0" r="0.50"/><circle cx="328.7" cy="349.5" r="0.50"/><circle cx="337.9" cy="347.8" r="0.50"/><circle cx="350.2" cy="348.9" r="0.50"/><circle cx="337.1" cy="342.2" r="0.50"/><circle cx="329.1" cy="349.7" r="0.50"/><circle cx="362.8" cy="338.7" r="0.50"/><circle cx="331.7" cy="346.3" r="0.50"/><circle cx="337.4" cy="345.8" r="0.50"/><circle cx="340.7" cy="347.4" r="0.50"/><circle cx="337.8" cy="352.2" r="0.50"/><circle cx="333.5" cy="340.4" r="0.50"/><circle cx="338.6" cy="349.1" r="0.50"/><circle cx="337.7" cy="342.0" r="0.50"/><circle cx="330.4" cy="349.0" r="0.50"/><circle cx="335.7" cy="349.1" r="0.50"/><circle cx="337.4" cy="346.1" r="0.50"/><circle cx="338.8" cy="343.5" r="0.50"/><circle cx="328.5" cy="349.6" r="0.50"/><circle cx="346.3" cy="343.7" r="0.50"/><circle cx="342.2" cy="345.0" r="0.50"/><circle cx="339.8" cy="342.2" r="0.50"/><circle cx="347.9" cy="336.8" r="0.50"/><circle cx="334.0" cy="343.2" r="0.50"/><circle cx="344.3" cy="344.0" r="0.50"/><circle cx="338.9" cy="351.7" r="0.50"/><circle cx="346.3" cy="349.3" r="0.50"/><circle cx="330.5" cy="350.8" r="0.50"/><circle cx="341.5" cy="350.2" r="0.50"/><circle cx="340.6" cy="343.7" r="0.50"/><circle cx="337.4" cy="347.9" r="0.50"/><circle cx="341.9" cy="340.4" r="0.50"/><circle cx="332.3" cy="351.4" r="0.50"/><circle cx="331.0" cy="350.8" r="0.50"/><circle cx="334.3" cy="347.4" r="0.50"/><circle cx="329.1" cy="349.1" r="0.50"/><circle cx="327.3" cy="346.5" r="0.50"/><circle cx="344.2" cy="353.5" r="0.50"/><circle cx="338.5" cy="339.9" r="0.50"/><circle cx="333.9" cy="342.9" r="0.50"/><circle cx="339.3" cy="350.2" r="0.50"/><circle cx="345.5" cy="348.3" r="0.50"/><circle cx="339.7" cy="347.9" r="0.50"/><circle cx="334.5" cy="346.1" r="0.50"/><circle cx="348.4" cy="352.5" r="0.50"/><circle cx="345.3" cy="346.5" r="0.50"/><circle cx="334.8" cy="344.5" r="0.50"/><circle cx="350.7" cy="349.0" r="0.50"/><circle cx="343.4" cy="351.5" r="0.50"/><circle cx="346.7" cy="341.6" r="0.50"/><circle cx="343.6" cy="349.4" r="0.50"/><circle cx="338.8" cy="343.4" r="0.50"/><circle cx="346.6" cy="341.3" r="0.50"/><circle cx="333.9" cy="346.8" r="0.50"/><circle cx="340.6" cy="343.0" r="0.50"/><circle cx="334.7" cy="348.9" r="0.50"/><circle cx="327.6" cy="343.1" r="0.50"/><circle cx="339.6" cy="348.7" r="0.50"/><circle cx="331.5" cy="344.9" r="0.50"/><circle cx="327.3" cy="355.2" r="0.50"/><circle cx="331.0" cy="352.9" r="0.50"/><circle cx="343.2" cy="346.8" r="0.50"/><circle cx="336.2" cy="346.7" r="0.50"/><circle cx="339.1" cy="342.1" r="0.50"/><circle cx="346.4" cy="346.1" r="0.50"/><circle cx="342.3" cy="349.9" r="0.50"/><circle cx="347.9" cy="349.5" r="0.50"/><circle cx="335.5" cy="345.3" r="0.50"/><circle cx="333.7" cy="346.7" r="0.50"/><circle cx="331.2" cy="339.0" r="0.50"/><circle cx="342.4" cy="346.5" r="0.50"/><circle cx="340.7" cy="342.6" r="0.50"/><circle cx="331.7" cy="346.3" r="0.50"/><circle cx="338.3" cy="348.8" r="0.50"/><circle cx="329.4" cy="348.1" r="0.50"/><circle cx="333.7" cy="348.6" r="0.50"/><circle cx="342.4" cy="345.7" r="0.50"/><circle cx="352.0" cy="341.4" r="0.50"/><circle cx="333.2" cy="349.7" r="0.50"/><circle cx="341.0" cy="347.7" r="0.50"/><circle cx="333.8" cy="347.8" r="0.50"/><circle cx="342.0" cy="345.2" r="0.50"/><circle cx="354.8" cy="347.9" r="0.50"/><circle cx="335.6" cy="345.3" r="0.50"/><circle cx="332.5" cy="349.1" r="0.50"/><circle cx="352.3" cy="351.1" r="0.50"/><circle cx="339.6" cy="353.7" r="0.50"/><circle cx="339.5" cy="354.4" r="0.50"/><circle cx="350.4" cy="344.6" r="0.50"/><circle cx="338.7" cy="351.0" r="0.50"/><circle cx="333.2" cy="352.5" r="0.50"/><circle cx="335.6" cy="347.0" r="0.50"/><circle cx="337.6" cy="343.1" r="0.50"/><circle cx="330.6" cy="356.5" r="0.50"/><circle cx="333.1" cy="348.7" r="0.50"/><circle cx="336.1" cy="340.8" r="0.50"/><circle cx="336.7" cy="351.1" r="0.50"/><circle cx="333.7" cy="350.5" r="0.50"/><circle cx="334.3" cy="344.3" r="0.50"/><circle cx="352.6" cy="338.5" r="0.50"/><circle cx="351.2" cy="344.7" r="0.50"/><circle cx="336.0" cy="345.6" r="0.50"/><circle cx="333.2" cy="350.8" r="0.50"/><circle cx="342.1" cy="351.9" r="0.50"/><circle cx="333.1" cy="350.4" r="0.50"/><circle cx="341.0" cy="340.1" r="0.50"/><circle cx="333.9" cy="347.4" r="0.50"/><circle cx="341.5" cy="342.1" r="0.50"/><circle cx="345.8" cy="342.8" r="0.50"/><circle cx="330.4" cy="344.9" r="0.50"/><circle cx="336.5" cy="353.7" r="0.50"/><circle cx="347.6" cy="343.0" r="0.50"/><circle cx="348.9" cy="345.6" r="0.50"/><circle cx="343.0" cy="346.2" r="0.50"/><circle cx="337.9" cy="342.6" r="0.50"/><circle cx="337.0" cy="343.9" r="0.50"/><circle cx="336.1" cy="341.4" r="0.50"/><circle cx="342.4" cy="353.0" r="0.50"/><circle cx="351.5" cy="343.2" r="0.50"/><circle cx="331.8" cy="349.6" r="0.50"/><circle cx="354.5" cy="344.4" r="0.50"/><circle cx="341.1" cy="343.6" r="0.50"/><circle cx="331.1" cy="339.7" r="0.50"/><circle cx="355.5" cy="348.0" r="0.50"/><circle cx="346.7" cy="352.4" r="0.50"/><circle cx="333.4" cy="346.6" r="0.50"/><circle cx="336.9" cy="344.1" r="0.50"/><circle cx="340.1" cy="344.6" r="0.50"/><circle cx="335.2" cy="345.4" r="0.50"/><circle cx="331.4" cy="338.8" r="0.50"/><circle cx="337.0" cy="341.3" r="0.50"/><circle cx="337.4" cy="347.1" r="0.50"/><circle cx="334.8" cy="352.1" r="0.50"/><circle cx="355.2" cy="343.0" r="0.50"/><circle cx="337.6" cy="348.4" r="0.50"/><circle cx="348.0" cy="346.8" r="0.50"/><circle cx="332.3" cy="349.2" r="0.50"/><circle cx="350.4" cy="343.9" r="0.50"/><circle cx="335.1" cy="349.4" r="0.50"/><circle cx="348.1" cy="344.2" r="0.50"/><circle cx="333.5" cy="343.1" r="0.50"/><circle cx="344.4" cy="349.9" r="0.50"/><circle cx="346.9" cy="340.9" r="0.50"/><circle cx="334.3" cy="352.3" r="0.50"/><circle cx="346.4" cy="347.0" r="0.50"/><circle cx="334.6" cy="347.9" r="0.50"/><circle cx="334.0" cy="343.3" r="0.50"/><circle cx="346.9" cy="341.1" r="0.50"/><circle cx="343.0" cy="344.8" r="0.50"/><circle cx="334.7" cy="347.2" r="0.50"/><circle cx="328.6" cy="340.3" r="0.50"/><circle cx="335.4" cy="350.9" r="0.50"/><circle cx="344.0" cy="339.5" r="0.50"/><circle cx="339.0" cy="347.6" r="0.50"/><circle cx="334.3" cy="349.5" r="0.50"/></g>
<g fill="#ff2020" fill-opacity="0.55"><circle cx="343.9" cy="348.1" r="0.45"/><circle cx="343.4" cy="343.8" r="0.45"/><circle cx="361.2" cy="340.0" r="0.45"/><circle cx="344.8" cy="345.0" r="0.45"/><circle cx="351.6" cy="341.8" r="0.45"/><circle cx="357.2" cy="347.3" r="0.45"/><circle cx="366.2" cy="341.8" r="0.45"/><circle cx="351.6" cy="342.2" r="0.45"/><circle cx="353.1" cy="343.3" r="0.45"/><circle cx="349.6" cy="345.2" r="0.45"/><circle cx="349.1" cy="345.9" r="0.45"/><circle cx="356.6" cy="342.1" r="0.45"/><circle cx="364.1" cy="341.5" r="0.45"/><circle cx="342.4" cy="346.4" r="0.45"/><circle cx="340.5" cy="345.5" r="0.45"/><circle cx="360.5" cy="341.5" r="0.45"/><circle cx="345.8" cy="344.1" r="0.45"/><circle cx="358.7" cy="344.2" r="0.45"/><circle cx="354.3" cy="342.5" r="0.45"/><circle cx="346.5" cy="343.5" r="0.45"/><circle cx="341.7" cy="345.2" r="0.45"/><circle cx="360.1" cy="342.4" r="0.45"/><circle cx="350.5" cy="344.5" r="0.45"/><circle cx="352.7" cy="344.9" r="0.45"/><circle cx="347.4" cy="347.0" r="0.45"/><circle cx="350.8" cy="344.3" r="0.45"/><circle cx="359.8" cy="343.2" r="0.45"/><circle cx="347.7" cy="342.4" r="0.45"/><circle cx="347.2" cy="347.8" r="0.45"/><circle cx="344.5" cy="345.4" r="0.45"/><circle cx="344.8" cy="348.7" r="0.45"/><circle cx="354.9" cy="343.9" r="0.45"/><circle cx="343.3" cy="343.7" r="0.45"/><circle cx="348.5" cy="346.4" r="0.45"/><circle cx="347.4" cy="343.2" r="0.45"/><circle cx="347.3" cy="346.7" r="0.45"/><circle cx="366.4" cy="340.8" r="0.45"/><circle cx="351.6" cy="344.8" r="0.45"/><circle cx="359.4" cy="344.4" r="0.45"/><circle cx="349.6" cy="346.8" r="0.45"/><circle cx="365.7" cy="336.7" r="0.45"/><circle cx="354.0" cy="345.6" r="0.45"/><circle cx="354.4" cy="344.0" r="0.45"/><circle cx="342.7" cy="344.4" r="0.45"/><circle cx="345.2" cy="345.8" r="0.45"/><circle cx="345.0" cy="343.7" r="0.45"/><circle cx="354.8" cy="345.8" r="0.45"/><circle cx="347.0" cy="344.5" r="0.45"/><circle cx="362.2" cy="340.7" r="0.45"/><circle cx="346.1" cy="341.5" r="0.45"/><circle cx="357.3" cy="340.9" r="0.45"/><circle cx="365.0" cy="342.0" r="0.45"/><circle cx="372.6" cy="339.0" r="0.45"/><circle cx="348.4" cy="344.6" r="0.45"/><circle cx="361.0" cy="344.3" r="0.45"/><circle cx="355.0" cy="342.3" r="0.45"/><circle cx="366.0" cy="342.3" r="0.45"/><circle cx="346.9" cy="345.4" r="0.45"/><circle cx="346.3" cy="345.6" r="0.45"/><circle cx="353.6" cy="341.9" r="0.45"/><circle cx="362.6" cy="344.9" r="0.45"/><circle cx="343.8" cy="348.4" r="0.45"/><circle cx="342.8" cy="342.7" r="0.45"/><circle cx="358.0" cy="342.7" r="0.45"/><circle cx="343.0" cy="342.0" r="0.45"/><circle cx="360.8" cy="339.9" r="0.45"/><circle cx="350.4" cy="345.8" r="0.45"/><circle cx="348.0" cy="347.3" r="0.45"/><circle cx="348.4" cy="345.7" r="0.45"/><circle cx="353.0" cy="342.2" r="0.45"/><circle cx="351.8" cy="343.3" r="0.45"/><circle cx="347.3" cy="342.5" r="0.45"/><circle cx="364.7" cy="342.8" r="0.45"/><circle cx="348.1" cy="343.2" r="0.45"/><circle cx="359.0" cy="346.3" r="0.45"/><circle cx="350.2" cy="343.5" r="0.45"/><circle cx="349.8" cy="344.9" r="0.45"/><circle cx="352.0" cy="343.4" r="0.45"/><circle cx="350.4" cy="346.9" r="0.45"/><circle cx="347.9" cy="343.9" r="0.45"/><circle cx="345.1" cy="345.0" r="0.45"/><circle cx="341.3" cy="345.7" r="0.45"/><circle cx="362.8" cy="341.5" r="0.45"/><circle cx="342.3" cy="349.9" r="0.45"/><circle cx="359.2" cy="340.8" r="0.45"/><circle cx="348.9" cy="343.4" r="0.45"/><circle cx="349.0" cy="344.5" r="0.45"/><circle cx="368.1" cy="341.4" r="0.45"/><circle cx="357.6" cy="341.9" r="0.45"/><circle cx="340.2" cy="342.7" r="0.45"/><circle cx="353.1" cy="341.5" r="0.45"/><circle cx="354.1" cy="341.7" r="0.45"/><circle cx="357.9" cy="339.7" r="0.45"/><circle cx="361.8" cy="339.7" r="0.45"/><circle cx="356.0" cy="342.3" r="0.45"/><circle cx="357.4" cy="341.1" r="0.45"/><circle cx="339.2" cy="342.7" r="0.45"/><circle cx="351.6" cy="343.4" r="0.45"/><circle cx="354.8" cy="343.8" r="0.45"/><circle cx="341.4" cy="347.5" r="0.45"/><circle cx="360.8" cy="341.7" r="0.45"/><circle cx="357.0" cy="342.7" r="0.45"/><circle cx="361.0" cy="342.4" r="0.45"/><circle cx="342.2" cy="344.7" r="0.45"/><circle cx="366.5" cy="340.7" r="0.45"/><circle cx="351.9" cy="344.2" r="0.45"/><circle cx="348.6" cy="346.1" r="0.45"/><circle cx="348.3" cy="343.7" r="0.45"/><circle cx="349.1" cy="344.3" r="0.45"/><circle cx="357.7" cy="341.4" r="0.45"/><circle cx="367.6" cy="340.1" r="0.45"/><circle cx="349.5" cy="344.2" r="0.45"/><circle cx="364.2" cy="339.9" r="0.45"/><circle cx="346.2" cy="347.5" r="0.45"/><circle cx="343.9" cy="344.2" r="0.45"/><circle cx="338.1" cy="345.4" r="0.45"/><circle cx="351.9" cy="342.7" r="0.45"/><circle cx="346.7" cy="343.3" r="0.45"/><circle cx="353.7" cy="343.0" r="0.45"/><circle cx="356.5" cy="344.5" r="0.45"/><circle cx="357.2" cy="344.7" r="0.45"/><circle cx="351.6" cy="344.8" r="0.45"/><circle cx="352.7" cy="343.3" r="0.45"/><circle cx="353.5" cy="341.4" r="0.45"/><circle cx="343.0" cy="345.0" r="0.45"/><circle cx="356.7" cy="341.6" r="0.45"/><circle cx="343.0" cy="346.9" r="0.45"/><circle cx="364.6" cy="340.4" r="0.45"/><circle cx="356.9" cy="339.6" r="0.45"/><circle cx="351.3" cy="341.4" r="0.45"/><circle cx="345.6" cy="344.1" r="0.45"/><circle cx="346.3" cy="343.8" r="0.45"/><circle cx="347.2" cy="343.3" r="0.45"/><circle cx="352.2" cy="345.7" r="0.45"/><circle cx="352.2" cy="344.6" r="0.45"/><circle cx="351.8" cy="344.4" r="0.45"/><circle cx="359.3" cy="339.8" r="0.45"/><circle cx="358.2" cy="345.0" r="0.45"/><circle cx="347.6" cy="342.6" r="0.45"/><circle cx="363.2" cy="341.0" r="0.45"/><circle cx="338.5" cy="342.8" r="0.45"/><circle cx="351.5" cy="347.7" r="0.45"/><circle cx="364.4" cy="343.5" r="0.45"/><circle cx="351.2" cy="345.8" r="0.45"/><circle cx="361.9" cy="341.6" r="0.45"/><circle cx="358.7" cy="341.6" r="0.45"/><circle cx="351.0" cy="343.1" r="0.45"/><circle cx="344.0" cy="345.1" r="0.45"/><circle cx="358.7" cy="341.5" r="0.45"/><circle cx="345.0" cy="342.6" r="0.45"/><circle cx="354.8" cy="341.4" r="0.45"/><circle cx="355.5" cy="346.0" r="0.45"/><circle cx="361.6" cy="342.1" r="0.45"/><circle cx="344.4" cy="346.2" r="0.45"/><circle cx="363.6" cy="340.6" r="0.45"/><circle cx="358.4" cy="341.2" r="0.45"/><circle cx="348.8" cy="345.6" r="0.45"/><circle cx="358.2" cy="347.4" r="0.45"/><circle cx="353.0" cy="342.2" r="0.45"/><circle cx="349.9" cy="346.3" r="0.45"/><circle cx="359.0" cy="345.2" r="0.45"/><circle cx="359.8" cy="340.9" r="0.45"/><circle cx="358.9" cy="341.4" r="0.45"/><circle cx="349.3" cy="341.7" r="0.45"/><circle cx="356.5" cy="344.0" r="0.45"/><circle cx="349.9" cy="342.1" r="0.45"/><circle cx="347.7" cy="342.9" r="0.45"/><circle cx="357.5" cy="342.9" r="0.45"/><circle cx="359.1" cy="343.7" r="0.45"/><circle cx="360.4" cy="341.4" r="0.45"/><circle cx="342.0" cy="342.5" r="0.45"/><circle cx="356.1" cy="345.4" r="0.45"/><circle cx="342.9" cy="345.9" r="0.45"/><circle cx="345.2" cy="342.8" r="0.45"/><circle cx="342.3" cy="344.9" r="0.45"/><circle cx="347.5" cy="343.7" r="0.45"/><circle cx="362.1" cy="341.9" r="0.45"/><circle cx="358.8" cy="339.2" r="0.45"/><circle cx="344.7" cy="344.8" r="0.45"/><circle cx="352.1" cy="344.3" r="0.45"/><circle cx="358.3" cy="342.3" r="0.45"/><circle cx="362.3" cy="342.1" r="0.45"/><circle cx="354.9" cy="345.3" r="0.45"/><circle cx="349.5" cy="345.2" r="0.45"/><circle cx="352.9" cy="340.4" r="0.45"/><circle cx="356.9" cy="340.3" r="0.45"/><circle cx="352.3" cy="344.6" r="0.45"/><circle cx="355.1" cy="347.2" r="0.45"/><circle cx="343.3" cy="342.9" r="0.45"/><circle cx="346.9" cy="348.2" r="0.45"/><circle cx="372.4" cy="312.9" r="0.40"/><circle cx="365.3" cy="316.1" r="0.40"/><circle cx="359.4" cy="312.9" r="0.40"/><circle cx="362.2" cy="323.9" r="0.40"/><circle cx="361.4" cy="328.7" r="0.40"/><circle cx="371.3" cy="310.3" r="0.40"/><circle cx="356.8" cy="321.0" r="0.40"/><circle cx="369.8" cy="322.8" r="0.40"/><circle cx="355.9" cy="318.4" r="0.40"/><circle cx="373.6" cy="319.5" r="0.40"/><circle cx="359.3" cy="321.5" r="0.40"/><circle cx="353.4" cy="320.3" r="0.40"/><circle cx="375.1" cy="314.7" r="0.40"/><circle cx="366.1" cy="317.9" r="0.40"/><circle cx="363.1" cy="319.4" r="0.40"/><circle cx="362.6" cy="319.3" r="0.40"/><circle cx="363.1" cy="319.1" r="0.40"/><circle cx="371.5" cy="320.1" r="0.40"/><circle cx="357.8" cy="317.6" r="0.40"/><circle cx="365.0" cy="322.5" r="0.40"/><circle cx="370.6" cy="324.1" r="0.40"/><circle cx="373.1" cy="317.3" r="0.40"/><circle cx="361.9" cy="323.5" r="0.40"/><circle cx="365.9" cy="324.5" r="0.40"/><circle cx="373.2" cy="331.0" r="0.40"/><circle cx="367.7" cy="321.8" r="0.40"/><circle cx="359.1" cy="317.0" r="0.40"/><circle cx="363.4" cy="317.8" r="0.40"/><circle cx="363.7" cy="321.4" r="0.40"/><circle cx="370.3" cy="315.4" r="0.40"/><circle cx="373.6" cy="320.2" r="0.40"/><circle cx="376.9" cy="321.7" r="0.40"/><circle cx="357.3" cy="329.2" r="0.40"/><circle cx="356.8" cy="324.3" r="0.40"/><circle cx="354.4" cy="318.5" r="0.40"/><circle cx="366.9" cy="320.2" r="0.40"/><circle cx="368.3" cy="320.6" r="0.40"/><circle cx="365.0" cy="321.6" r="0.40"/><circle cx="367.0" cy="325.6" r="0.40"/><circle cx="375.5" cy="312.5" r="0.40"/><circle cx="366.9" cy="309.0" r="0.40"/><circle cx="360.0" cy="315.7" r="0.40"/><circle cx="355.6" cy="317.1" r="0.40"/><circle cx="361.6" cy="315.2" r="0.40"/><circle cx="367.5" cy="315.4" r="0.40"/><circle cx="370.9" cy="317.5" r="0.40"/><circle cx="364.8" cy="312.3" r="0.40"/><circle cx="369.2" cy="317.7" r="0.40"/><circle cx="376.6" cy="321.3" r="0.40"/><circle cx="378.7" cy="314.8" r="0.40"/><circle cx="367.2" cy="327.1" r="0.40"/><circle cx="375.1" cy="321.6" r="0.40"/><circle cx="367.4" cy="319.5" r="0.40"/><circle cx="373.3" cy="317.0" r="0.40"/><circle cx="354.2" cy="323.3" r="0.40"/><circle cx="355.7" cy="332.5" r="0.40"/><circle cx="357.2" cy="331.6" r="0.40"/><circle cx="360.1" cy="334.7" r="0.40"/><circle cx="359.0" cy="332.0" r="0.40"/><circle cx="355.5" cy="331.3" r="0.40"/><circle cx="353.3" cy="331.2" r="0.40"/><circle cx="353.8" cy="331.2" r="0.40"/><circle cx="351.9" cy="330.1" r="0.40"/><circle cx="349.2" cy="334.6" r="0.40"/><circle cx="354.3" cy="332.4" r="0.40"/><circle cx="351.7" cy="333.9" r="0.40"/><circle cx="355.4" cy="330.4" r="0.40"/><circle cx="358.9" cy="334.1" r="0.40"/><circle cx="354.2" cy="333.7" r="0.40"/><circle cx="349.2" cy="334.0" r="0.40"/><circle cx="385.7" cy="306.5" r="0.35"/><circle cx="331.6" cy="291.6" r="0.35"/><circle cx="329.3" cy="305.8" r="0.35"/><circle cx="359.5" cy="295.5" r="0.35"/><circle cx="391.1" cy="307.3" r="0.35"/><circle cx="333.8" cy="313.9" r="0.35"/><circle cx="336.1" cy="328.4" r="0.35"/><circle cx="336.9" cy="336.5" r="0.35"/><circle cx="331.7" cy="320.9" r="0.35"/><circle cx="334.4" cy="340.3" r="0.35"/><circle cx="379.9" cy="337.0" r="0.35"/><circle cx="366.7" cy="299.6" r="0.35"/><circle cx="370.5" cy="302.7" r="0.35"/><circle cx="390.2" cy="340.1" r="0.35"/><circle cx="340.6" cy="291.2" r="0.35"/></g>
<g fill="#ff0a0a" fill-opacity="0.5"><circle cx="339.2" cy="349.0" r="0.65"/><circle cx="339.8" cy="351.3" r="0.65"/><circle cx="333.7" cy="349.8" r="0.65"/><circle cx="335.4" cy="345.0" r="0.65"/><circle cx="330.6" cy="344.3" r="0.65"/><circle cx="333.4" cy="347.8" r="0.65"/><circle cx="340.9" cy="347.6" r="0.65"/><circle cx="343.0" cy="346.3" r="0.65"/><circle cx="336.1" cy="348.6" r="0.65"/><circle cx="341.6" cy="346.2" r="0.65"/><circle cx="334.3" cy="348.7" r="0.65"/><circle cx="333.7" cy="347.0" r="0.65"/><circle cx="333.3" cy="345.2" r="0.65"/><circle cx="336.3" cy="347.8" r="0.65"/><circle cx="338.6" cy="343.4" r="0.65"/><circle cx="327.2" cy="346.7" r="0.65"/><circle cx="341.3" cy="345.8" r="0.65"/><circle cx="340.2" cy="349.4" r="0.65"/><circle cx="333.2" cy="344.8" r="0.65"/><circle cx="336.1" cy="346.5" r="0.65"/><circle cx="339.3" cy="345.5" r="0.65"/><circle cx="338.5" cy="347.4" r="0.65"/><circle cx="335.2" cy="343.9" r="0.65"/><circle cx="334.3" cy="349.8" r="0.65"/><circle cx="335.0" cy="344.8" r="0.65"/><circle cx="344.5" cy="345.4" r="0.65"/><circle cx="333.8" cy="345.5" r="0.65"/><circle cx="337.9" cy="343.9" r="0.65"/><circle cx="338.8" cy="344.7" r="0.65"/><circle cx="338.8" cy="345.4" r="0.65"/><circle cx="332.5" cy="347.3" r="0.65"/><circle cx="343.7" cy="343.1" r="0.65"/><circle cx="340.8" cy="345.3" r="0.65"/><circle cx="336.0" cy="345.9" r="0.65"/><circle cx="335.1" cy="344.4" r="0.65"/><circle cx="335.1" cy="348.3" r="0.65"/><circle cx="329.4" cy="344.0" r="0.65"/><circle cx="333.2" cy="348.7" r="0.65"/><circle cx="338.3" cy="342.6" r="0.65"/><circle cx="339.5" cy="346.9" r="0.65"/><circle cx="339.1" cy="348.0" r="0.65"/><circle cx="335.4" cy="346.6" r="0.65"/><circle cx="336.6" cy="344.9" r="0.65"/><circle cx="338.9" cy="342.4" r="0.65"/><circle cx="340.3" cy="346.8" r="0.65"/><circle cx="337.7" cy="348.2" r="0.65"/><circle cx="333.9" cy="347.5" r="0.65"/><circle cx="341.1" cy="347.5" r="0.65"/><circle cx="329.6" cy="349.3" r="0.65"/><circle cx="331.2" cy="347.4" r="0.65"/><circle cx="335.2" cy="349.1" r="0.65"/><circle cx="333.1" cy="347.7" r="0.65"/><circle cx="338.3" cy="345.1" r="0.65"/><circle cx="342.4" cy="346.5" r="0.65"/><circle cx="339.4" cy="346.1" r="0.65"/><circle cx="331.8" cy="348.3" r="0.65"/><circle cx="346.3" cy="345.9" r="0.65"/><circle cx="343.9" cy="344.1" r="0.65"/><circle cx="343.9" cy="346.2" r="0.65"/><circle cx="340.7" cy="346.8" r="0.65"/><circle cx="331.7" cy="349.4" r="0.65"/><circle cx="338.5" cy="349.7" r="0.65"/><circle cx="338.2" cy="348.2" r="0.65"/><circle cx="338.2" cy="349.2" r="0.65"/><circle cx="340.4" cy="346.6" r="0.65"/><circle cx="329.9" cy="350.2" r="0.65"/><circle cx="336.9" cy="349.9" r="0.65"/><circle cx="338.1" cy="345.4" r="0.65"/><circle cx="333.7" cy="343.9" r="0.65"/><circle cx="343.0" cy="345.2" r="0.65"/><circle cx="338.6" cy="345.4" r="0.65"/><circle cx="335.5" cy="343.9" r="0.65"/><circle cx="334.3" cy="352.0" r="0.65"/><circle cx="336.7" cy="345.6" r="0.65"/><circle cx="340.3" cy="348.5" r="0.65"/><circle cx="342.8" cy="347.6" r="0.65"/><circle cx="339.4" cy="344.7" r="0.65"/><circle cx="337.4" cy="344.1" r="0.65"/><circle cx="334.5" cy="342.5" r="0.65"/><circle cx="338.8" cy="347.2" r="0.65"/><circle cx="348.1" cy="345.4" r="0.65"/><circle cx="329.5" cy="344.3" r="0.65"/><circle cx="343.4" cy="347.0" r="0.65"/><circle cx="332.3" cy="344.6" r="0.65"/><circle cx="336.9" cy="348.5" r="0.65"/><circle cx="334.5" cy="346.6" r="0.65"/><circle cx="341.0" cy="342.9" r="0.65"/><circle cx="333.9" cy="343.6" r="0.65"/><circle cx="330.0" cy="345.7" r="0.65"/><circle cx="336.0" cy="345.7" r="0.65"/><circle cx="334.7" cy="348.2" r="0.65"/><circle cx="337.9" cy="344.1" r="0.65"/><circle cx="334.9" cy="348.9" r="0.65"/><circle cx="330.7" cy="346.0" r="0.65"/><circle cx="339.1" cy="344.9" r="0.65"/><circle cx="327.9" cy="350.5" r="0.65"/><circle cx="333.9" cy="347.7" r="0.65"/><circle cx="344.4" cy="346.6" r="0.65"/><circle cx="337.2" cy="344.4" r="0.65"/><circle cx="344.0" cy="345.0" r="0.65"/><circle cx="338.2" cy="342.4" r="0.65"/><circle cx="334.9" cy="350.4" r="0.65"/><circle cx="333.3" cy="347.5" r="0.65"/><circle cx="342.4" cy="345.3" r="0.65"/><circle cx="341.9" cy="345.8" r="0.65"/><circle cx="336.8" cy="347.7" r="0.65"/><circle cx="331.2" cy="346.0" r="0.65"/><circle cx="338.2" cy="345.2" r="0.65"/><circle cx="334.3" cy="347.6" r="0.65"/><circle cx="338.3" cy="345.1" r="0.65"/><circle cx="345.4" cy="347.5" r="0.65"/><circle cx="341.0" cy="344.3" r="0.65"/><circle cx="335.5" cy="346.4" r="0.65"/><circle cx="336.4" cy="343.4" r="0.65"/><circle cx="347.8" cy="344.8" r="0.65"/><circle cx="335.5" cy="344.7" r="0.65"/><circle cx="338.8" cy="346.7" r="0.65"/><circle cx="340.0" cy="344.4" r="0.65"/><circle cx="334.9" cy="344.9" r="0.65"/><circle cx="335.3" cy="346.3" r="0.65"/><circle cx="330.3" cy="344.1" r="0.65"/><circle cx="335.0" cy="346.4" r="0.65"/><circle cx="336.5" cy="345.0" r="0.65"/><circle cx="334.1" cy="345.2" r="0.65"/><circle cx="333.0" cy="350.0" r="0.65"/><circle cx="338.9" cy="346.0" r="0.65"/><circle cx="340.5" cy="350.2" r="0.65"/><circle cx="337.1" cy="347.8" r="0.65"/><circle cx="335.8" cy="347.4" r="0.65"/><circle cx="335.0" cy="348.1" r="0.65"/><circle cx="341.1" cy="349.7" r="0.65"/><circle cx="329.3" cy="346.5" r="0.65"/><circle cx="345.5" cy="347.2" r="0.65"/><circle cx="332.7" cy="349.3" r="0.65"/><circle cx="332.2" cy="344.4" r="0.65"/><circle cx="339.6" cy="344.4" r="0.65"/><circle cx="338.2" cy="345.9" r="0.65"/><circle cx="334.1" cy="348.8" r="0.65"/><circle cx="339.4" cy="341.1" r="0.65"/><circle cx="335.0" cy="344.0" r="0.65"/><circle cx="333.6" cy="346.7" r="0.65"/><circle cx="344.1" cy="345.9" r="0.65"/><circle cx="339.4" cy="347.4" r="0.65"/><circle cx="344.9" cy="348.3" r="0.65"/><circle cx="339.1" cy="346.8" r="0.65"/><circle cx="337.5" cy="345.7" r="0.65"/><circle cx="342.4" cy="344.1" r="0.65"/><circle cx="341.3" cy="345.3" r="0.65"/><circle cx="332.0" cy="344.2" r="0.65"/><circle cx="343.4" cy="344.9" r="0.65"/><circle cx="340.1" cy="346.7" r="0.65"/><circle cx="330.3" cy="345.1" r="0.65"/><circle cx="333.5" cy="342.9" r="0.65"/><circle cx="339.7" cy="346.3" r="0.65"/><circle cx="334.0" cy="346.6" r="0.65"/><circle cx="332.2" cy="347.7" r="0.65"/><circle cx="343.7" cy="346.4" r="0.65"/><circle cx="344.7" cy="345.9" r="0.65"/><circle cx="338.5" cy="348.3" r="0.65"/><circle cx="335.3" cy="347.6" r="0.65"/><circle cx="330.5" cy="343.1" r="0.65"/><circle cx="339.2" cy="346.4" r="0.65"/><circle cx="331.8" cy="346.9" r="0.65"/><circle cx="332.0" cy="349.0" r="0.65"/><circle cx="335.8" cy="342.1" r="0.65"/><circle cx="329.0" cy="346.1" r="0.65"/><circle cx="334.2" cy="352.8" r="0.65"/><circle cx="330.4" cy="347.4" r="0.65"/><circle cx="336.9" cy="348.1" r="0.65"/><circle cx="344.5" cy="344.6" r="0.65"/><circle cx="333.9" cy="350.2" r="0.65"/><circle cx="337.4" cy="347.8" r="0.65"/><circle cx="341.1" cy="348.3" r="0.65"/><circle cx="341.9" cy="347.0" r="0.65"/><circle cx="337.5" cy="347.0" r="0.65"/><circle cx="339.4" cy="343.9" r="0.65"/><circle cx="334.2" cy="348.6" r="0.65"/><circle cx="345.0" cy="343.7" r="0.65"/><circle cx="345.0" cy="343.7" r="0.65"/><circle cx="337.2" cy="343.1" r="0.65"/><circle cx="333.7" cy="347.7" r="0.65"/><circle cx="334.9" cy="345.3" r="0.65"/><circle cx="332.9" cy="347.3" r="0.65"/><circle cx="332.9" cy="347.4" r="0.65"/><circle cx="341.6" cy="343.7" r="0.65"/><circle cx="335.7" cy="341.3" r="0.65"/><circle cx="333.5" cy="345.9" r="0.65"/><circle cx="334.5" cy="351.4" r="0.65"/><circle cx="331.4" cy="344.5" r="0.65"/><circle cx="329.3" cy="341.1" r="0.65"/><circle cx="336.1" cy="346.0" r="0.65"/><circle cx="342.1" cy="345.9" r="0.65"/><circle cx="333.8" cy="348.1" r="0.65"/><circle cx="332.5" cy="345.8" r="0.65"/><circle cx="334.5" cy="345.7" r="0.65"/><circle cx="330.0" cy="348.1" r="0.65"/><circle cx="345.7" cy="344.9" r="0.65"/><circle cx="336.2" cy="344.1" r="0.65"/><circle cx="337.8" cy="343.2" r="0.65"/><circle cx="331.5" cy="345.4" r="0.65"/><circle cx="331.9" cy="345.6" r="0.65"/><circle cx="347.5" cy="342.3" r="0.65"/><circle cx="332.8" cy="346.0" r="0.65"/><circle cx="338.6" cy="347.8" r="0.65"/><circle cx="337.7" cy="348.7" r="0.65"/><circle cx="340.9" cy="344.2" r="0.65"/><circle cx="335.9" cy="345.2" r="0.65"/><circle cx="347.1" cy="345.8" r="0.65"/><circle cx="328.3" cy="346.6" r="0.65"/><circle cx="334.6" cy="348.4" r="0.65"/><circle cx="340.6" cy="344.0" r="0.65"/><circle cx="339.2" cy="342.9" r="0.65"/><circle cx="333.8" cy="347.7" r="0.65"/><circle cx="338.5" cy="352.0" r="0.65"/><circle cx="335.6" cy="346.5" r="0.65"/><circle cx="332.3" cy="346.5" r="0.65"/><circle cx="341.3" cy="347.4" r="0.65"/><circle cx="339.1" cy="346.6" r="0.65"/><circle cx="335.9" cy="346.4" r="0.65"/><circle cx="343.3" cy="344.8" r="0.65"/><circle cx="339.6" cy="345.9" r="0.65"/><circle cx="327.1" cy="345.5" r="0.65"/><circle cx="336.5" cy="346.3" r="0.65"/><circle cx="334.3" cy="350.0" r="0.65"/><circle cx="343.2" cy="342.0" r="0.65"/><circle cx="343.5" cy="349.7" r="0.65"/><circle cx="339.0" cy="348.8" r="0.65"/><circle cx="335.8" cy="347.7" r="0.65"/><circle cx="333.8" cy="348.4" r="0.65"/><circle cx="334.4" cy="345.1" r="0.65"/><circle cx="343.7" cy="343.9" r="0.65"/><circle cx="336.5" cy="346.8" r="0.65"/><circle cx="335.5" cy="346.7" r="0.65"/><circle cx="333.8" cy="347.2" r="0.65"/><circle cx="340.3" cy="346.6" r="0.65"/><circle cx="333.0" cy="347.1" r="0.65"/><circle cx="336.9" cy="346.7" r="0.65"/><circle cx="335.4" cy="345.2" r="0.65"/><circle cx="336.4" cy="348.7" r="0.65"/><circle cx="339.1" cy="347.8" r="0.65"/><circle cx="340.0" cy="344.5" r="0.65"/><circle cx="338.7" cy="345.7" r="0.65"/><circle cx="330.6" cy="347.5" r="0.65"/><circle cx="337.1" cy="345.1" r="0.65"/><circle cx="331.6" cy="347.3" r="0.65"/><circle cx="329.7" cy="346.8" r="0.65"/><circle cx="336.9" cy="346.2" r="0.65"/></g>
<line x1="352.19" y1="289.10" x2="352.19" y2="357.90" stroke="#ff4a4a" stroke-width="0.8" />
<line x1="326.50" y1="335.20" x2="396.40" y2="335.20" stroke="#ff4a4a" stroke-width="0.8" />
<circle cx="352.19" cy="304.40" r="1.6" fill="#ff0000"/>
<circle cx="381.60" cy="335.20" r="1.6" fill="#ff0000"/>
<circle cx="352.19" cy="335.20" r="1.7" fill="#fff" stroke="#ff2020" stroke-width="0.8"/>
<rect x="326.50" y="289.10" width="69.90" height="68.80" fill="none" stroke="#8a8a8a" stroke-width="0.9" />
<line x1="326.50" y1="289.10" x2="326.50" y2="357.90" stroke="#555" stroke-width="1" />
<line x1="326.50" y1="357.90" x2="396.40" y2="357.90" stroke="#555" stroke-width="1" />
<line x1="326.50" y1="357.90" x2="326.50" y2="359.20" stroke="#444" stroke-width="0.6" />
<text x="326.50" y="366.30" font-size="7.6" text-anchor="middle" fill="#222" >0</text>
<line x1="325.20" y1="357.90" x2="326.50" y2="357.90" stroke="#444" stroke-width="0.6" />
<text x="322.10" y="360.40" font-size="7.6" text-anchor="middle" fill="#222" >0</text>
<line x1="343.98" y1="357.90" x2="343.98" y2="359.20" stroke="#444" stroke-width="0.6" />
<text x="343.98" y="366.30" font-size="7.6" text-anchor="middle" fill="#222" >1</text>
<line x1="325.20" y1="340.70" x2="326.50" y2="340.70" stroke="#444" stroke-width="0.6" />
<text x="322.10" y="343.20" font-size="7.6" text-anchor="middle" fill="#222" >1</text>
<line x1="361.45" y1="357.90" x2="361.45" y2="359.20" stroke="#444" stroke-width="0.6" />
<text x="361.45" y="366.30" font-size="7.6" text-anchor="middle" fill="#222" >2</text>
<line x1="325.20" y1="323.50" x2="326.50" y2="323.50" stroke="#444" stroke-width="0.6" />
<text x="322.10" y="326.00" font-size="7.6" text-anchor="middle" fill="#222" >2</text>
<line x1="378.93" y1="357.90" x2="378.93" y2="359.20" stroke="#444" stroke-width="0.6" />
<text x="378.93" y="366.30" font-size="7.6" text-anchor="middle" fill="#222" >3</text>
<line x1="325.20" y1="306.30" x2="326.50" y2="306.30" stroke="#444" stroke-width="0.6" />
<text x="322.10" y="308.80" font-size="7.6" text-anchor="middle" fill="#222" >3</text>
<line x1="396.40" y1="357.90" x2="396.40" y2="359.20" stroke="#444" stroke-width="0.6" />
<text x="396.40" y="366.30" font-size="7.6" text-anchor="middle" fill="#222" >4</text>
<line x1="325.20" y1="289.10" x2="326.50" y2="289.10" stroke="#444" stroke-width="0.6" />
<text x="322.10" y="291.60" font-size="7.6" text-anchor="middle" fill="#222" >4</text>
<line x1="325.80" y1="357.90" x2="326.50" y2="357.90" stroke="#666" stroke-width="0.4" />
<line x1="326.50" y1="357.90" x2="326.50" y2="358.60" stroke="#666" stroke-width="0.4" />
<line x1="325.80" y1="353.60" x2="326.50" y2="353.60" stroke="#666" stroke-width="0.4" />
<line x1="330.87" y1="357.90" x2="330.87" y2="358.60" stroke="#666" stroke-width="0.4" />
<line x1="325.80" y1="349.30" x2="326.50" y2="349.30" stroke="#666" stroke-width="0.4" />
<line x1="335.24" y1="357.90" x2="335.24" y2="358.60" stroke="#666" stroke-width="0.4" />
<line x1="325.80" y1="345.00" x2="326.50" y2="345.00" stroke="#666" stroke-width="0.4" />
<line x1="339.61" y1="357.90" x2="339.61" y2="358.60" stroke="#666" stroke-width="0.4" />
<line x1="325.80" y1="340.70" x2="326.50" y2="340.70" stroke="#666" stroke-width="0.4" />
<line x1="343.98" y1="357.90" x2="343.98" y2="358.60" stroke="#666" stroke-width="0.4" />
<line x1="325.80" y1="336.40" x2="326.50" y2="336.40" stroke="#666" stroke-width="0.4" />
<line x1="348.34" y1="357.90" x2="348.34" y2="358.60" stroke="#666" stroke-width="0.4" />
<line x1="325.80" y1="332.10" x2="326.50" y2="332.10" stroke="#666" stroke-width="0.4" />
<line x1="352.71" y1="357.90" x2="352.71" y2="358.60" stroke="#666" stroke-width="0.4" />
<line x1="325.80" y1="327.80" x2="326.50" y2="327.80" stroke="#666" stroke-width="0.4" />
<line x1="357.08" y1="357.90" x2="357.08" y2="358.60" stroke="#666" stroke-width="0.4" />
<line x1="325.80" y1="323.50" x2="326.50" y2="323.50" stroke="#666" stroke-width="0.4" />
<line x1="361.45" y1="357.90" x2="361.45" y2="358.60" stroke="#666" stroke-width="0.4" />
<line x1="325.80" y1="319.20" x2="326.50" y2="319.20" stroke="#666" stroke-width="0.4" />
<line x1="365.82" y1="357.90" x2="365.82" y2="358.60" stroke="#666" stroke-width="0.4" />
<line x1="325.80" y1="314.90" x2="326.50" y2="314.90" stroke="#666" stroke-width="0.4" />
<line x1="370.19" y1="357.90" x2="370.19" y2="358.60" stroke="#666" stroke-width="0.4" />
<line x1="325.80" y1="310.60" x2="326.50" y2="310.60" stroke="#666" stroke-width="0.4" />
<line x1="374.56" y1="357.90" x2="374.56" y2="358.60" stroke="#666" stroke-width="0.4" />
<line x1="325.80" y1="306.30" x2="326.50" y2="306.30" stroke="#666" stroke-width="0.4" />
<line x1="378.93" y1="357.90" x2="378.93" y2="358.60" stroke="#666" stroke-width="0.4" />
<line x1="325.80" y1="302.00" x2="326.50" y2="302.00" stroke="#666" stroke-width="0.4" />
<line x1="383.29" y1="357.90" x2="383.29" y2="358.60" stroke="#666" stroke-width="0.4" />
<line x1="325.80" y1="297.70" x2="326.50" y2="297.70" stroke="#666" stroke-width="0.4" />
<line x1="387.66" y1="357.90" x2="387.66" y2="358.60" stroke="#666" stroke-width="0.4" />
<line x1="325.80" y1="293.40" x2="326.50" y2="293.40" stroke="#666" stroke-width="0.4" />
<line x1="392.03" y1="357.90" x2="392.03" y2="358.60" stroke="#666" stroke-width="0.4" />
<text x="328.50" y="294.90" font-size="6.7" text-anchor="start" fill="#222" >Dead</text>
<text x="328.50" y="301.70" font-size="6.7" text-anchor="start" fill="#222"  textLength="16.70" lengthAdjust="spacingAndGlyphs">1.13 %</text>
<text x="395.40" y="294.90" font-size="6.7" text-anchor="end" fill="#222"  textLength="45.00" lengthAdjust="spacingAndGlyphs">Late Apop./Dead</text>
<text x="395.40" y="301.70" font-size="6.7" text-anchor="end" fill="#222"  textLength="16.70" lengthAdjust="spacingAndGlyphs">3.14 %</text>
<text x="328.50" y="347.90" font-size="6.7" text-anchor="start" fill="#222"  textLength="19.65" lengthAdjust="spacingAndGlyphs">73.94 %</text>
<text x="328.50" y="354.60" font-size="6.7" text-anchor="start" fill="#222" >Live</text>
<text x="395.40" y="347.90" font-size="6.7" text-anchor="end" fill="#222"  textLength="19.65" lengthAdjust="spacingAndGlyphs">21.79 %</text>
<text x="395.40" y="354.60" font-size="6.7" text-anchor="end" fill="#222"  textLength="31.30" lengthAdjust="spacingAndGlyphs">Early Apop.</text>
<text x="0" y="0" font-size="8.2" text-anchor="middle" fill="#222" transform="translate(24.60,231.90) rotate(-90)">Gem-R</text>
<text x="0" y="0" font-size="8.2" text-anchor="middle" fill="#222" transform="translate(35.00,231.90) rotate(-90)">MIA PaCa-2</text>
<text x="0" y="0" font-size="8.2" text-anchor="middle" fill="#222" transform="translate(24.60,323.50) rotate(-90)">Gem-R</text>
<text x="0" y="0" font-size="8.2" text-anchor="middle" fill="#222" transform="translate(35.00,323.50) rotate(-90)">BxPC-3</text>
<text x="0" y="0" font-size="8.2" text-anchor="middle" fill="#222" transform="translate(9.80,284.30) rotate(-90)">Viability</text>
<line x1="13.80" y1="315.40" x2="13.80" y2="257.00" stroke="#111" stroke-width="0.9" />
<path d="M13.8,253.6 L11.8,258.4 L15.8,258.4 Z" fill="#111"/>
<text x="157.70" y="383.60" font-size="8.4" text-anchor="middle" fill="#222" >Live</text>
<line x1="171.80" y1="380.10" x2="253.00" y2="380.10" stroke="#111" stroke-width="0.9" />
<path d="M257.2,380.1 L252.0,378.0 L252.0,382.2 Z" fill="#111"/>
<text x="214.00" y="390.70" font-size="8.4" text-anchor="middle" fill="#222"  textLength="35.60" lengthAdjust="spacingAndGlyphs">Annexin V</text>
<text x="262.20" y="383.60" font-size="8.4" text-anchor="start" fill="#222"  textLength="35.20" lengthAdjust="spacingAndGlyphs">Apoptosis</text>
<text x="252.40" y="405.90" font-size="12.8" text-anchor="middle" fill="#111" font-weight="bold" textLength="17.40" lengthAdjust="spacingAndGlyphs">(B)</text>
<line x1="428.60" y1="201.80" x2="428.60" y2="258.90" stroke="#555" stroke-width="0.9" />
<line x1="425.60" y1="258.90" x2="474.20" y2="258.90" stroke="#555" stroke-width="1.0" />
<line x1="430.00" y1="261.40" x2="470.40" y2="261.40" stroke="#444" stroke-width="0.9" />
<line x1="425.60" y1="258.90" x2="428.60" y2="258.90" stroke="#444" stroke-width="0.8" />
<text x="420.60" y="261.60" font-size="7.6" text-anchor="end" fill="#222" >0</text>
<line x1="425.60" y1="244.62" x2="428.60" y2="244.62" stroke="#444" stroke-width="0.8" />
<text x="420.60" y="247.32" font-size="7.6" text-anchor="end" fill="#222" >10</text>
<line x1="425.60" y1="230.35" x2="428.60" y2="230.35" stroke="#444" stroke-width="0.8" />
<text x="420.60" y="233.05" font-size="7.6" text-anchor="end" fill="#222" >20</text>
<line x1="425.60" y1="216.07" x2="428.60" y2="216.07" stroke="#444" stroke-width="0.8" />
<text x="420.60" y="218.77" font-size="7.6" text-anchor="end" fill="#222" >30</text>
<line x1="425.60" y1="201.80" x2="428.60" y2="201.80" stroke="#444" stroke-width="0.8" />
<text x="420.60" y="204.50" font-size="7.6" text-anchor="end" fill="#222" >40</text>
<rect x="431.00" y="245.20" width="6.00" height="13.70" fill="url(#g_gr)" stroke="#222" stroke-width="0.6" />
<line x1="434.00" y1="244.20" x2="434.00" y2="246.20" stroke="#222" stroke-width="0.6" />
<line x1="432.50" y1="244.20" x2="435.50" y2="244.20" stroke="#222" stroke-width="0.6" />
<rect x="442.40" y="228.07" width="6.00" height="30.83" fill="url(#g_ye)" stroke="#222" stroke-width="0.6" />
<line x1="445.40" y1="226.92" x2="445.40" y2="229.21" stroke="#222" stroke-width="0.6" />
<line x1="443.90" y1="226.92" x2="446.90" y2="226.92" stroke="#222" stroke-width="0.6" />
<text x="445.40" y="225.62" font-size="4.4" text-anchor="middle" fill="#333" >*</text>
<rect x="453.50" y="243.20" width="6.00" height="15.70" fill="url(#g_bl)" stroke="#222" stroke-width="0.6" />
<line x1="456.50" y1="242.06" x2="456.50" y2="244.34" stroke="#222" stroke-width="0.6" />
<line x1="455.00" y1="242.06" x2="458.00" y2="242.06" stroke="#222" stroke-width="0.6" />
<rect x="465.20" y="208.08" width="6.00" height="50.82" fill="url(#g_pu)" stroke="#222" stroke-width="0.6" />
<line x1="468.20" y1="204.51" x2="468.20" y2="211.65" stroke="#222" stroke-width="0.6" />
<line x1="466.70" y1="204.51" x2="469.70" y2="204.51" stroke="#222" stroke-width="0.6" />
<text x="468.20" y="203.21" font-size="4.4" text-anchor="middle" fill="#333" >*#</text>
<text x="450.60" y="269.60" font-size="8.6" text-anchor="middle" fill="#1a1a1a" >Gem-R</text>
<text x="450.60" y="278.10" font-size="8.6" text-anchor="middle" fill="#1a1a1a" >MIA PaCa-2</text>
<text x="0" y="0" font-size="8.6" text-anchor="middle" fill="#222" transform="translate(410.60,232.00) rotate(-90)">Apoptosis (%)</text>
<line x1="428.20" y1="293.30" x2="428.20" y2="350.10" stroke="#555" stroke-width="0.9" />
<line x1="425.20" y1="350.10" x2="474.20" y2="350.10" stroke="#555" stroke-width="1.0" />
<line x1="430.00" y1="352.60" x2="470.40" y2="352.60" stroke="#444" stroke-width="0.9" />
<line x1="425.20" y1="350.10" x2="428.20" y2="350.10" stroke="#444" stroke-width="0.8" />
<text x="420.60" y="352.80" font-size="7.6" text-anchor="end" fill="#222" >0</text>
<line x1="425.20" y1="331.17" x2="428.20" y2="331.17" stroke="#444" stroke-width="0.8" />
<text x="420.60" y="333.87" font-size="7.6" text-anchor="end" fill="#222" >10</text>
<line x1="425.20" y1="312.23" x2="428.20" y2="312.23" stroke="#444" stroke-width="0.8" />
<text x="420.60" y="314.93" font-size="7.6" text-anchor="end" fill="#222" >20</text>
<line x1="425.20" y1="293.30" x2="428.20" y2="293.30" stroke="#444" stroke-width="0.8" />
<text x="420.60" y="296.00" font-size="7.6" text-anchor="end" fill="#222" >30</text>
<rect x="431.00" y="329.27" width="6.00" height="20.83" fill="url(#g_gr)" stroke="#222" stroke-width="0.6" />
<line x1="434.00" y1="328.14" x2="434.00" y2="330.41" stroke="#222" stroke-width="0.6" />
<line x1="432.50" y1="328.14" x2="435.50" y2="328.14" stroke="#222" stroke-width="0.6" />
<rect x="442.40" y="314.88" width="6.00" height="35.22" fill="url(#g_ye)" stroke="#222" stroke-width="0.6" />
<line x1="445.40" y1="313.94" x2="445.40" y2="315.83" stroke="#222" stroke-width="0.6" />
<line x1="443.90" y1="313.94" x2="446.90" y2="313.94" stroke="#222" stroke-width="0.6" />
<text x="445.40" y="312.64" font-size="4.4" text-anchor="middle" fill="#333" >*</text>
<rect x="453.50" y="330.60" width="6.00" height="19.50" fill="url(#g_bl)" stroke="#222" stroke-width="0.6" />
<line x1="456.50" y1="329.08" x2="456.50" y2="332.11" stroke="#222" stroke-width="0.6" />
<line x1="455.00" y1="329.08" x2="458.00" y2="329.08" stroke="#222" stroke-width="0.6" />
<rect x="465.20" y="300.49" width="6.00" height="49.61" fill="url(#g_pu)" stroke="#222" stroke-width="0.6" />
<line x1="468.20" y1="298.03" x2="468.20" y2="302.96" stroke="#222" stroke-width="0.6" />
<line x1="466.70" y1="298.03" x2="469.70" y2="298.03" stroke="#222" stroke-width="0.6" />
<text x="468.20" y="296.73" font-size="4.4" text-anchor="middle" fill="#333" >*#</text>
<text x="450.60" y="360.40" font-size="8.6" text-anchor="middle" fill="#1a1a1a" >Gem-R</text>
<text x="450.60" y="368.90" font-size="8.6" text-anchor="middle" fill="#1a1a1a" >BxPC-3</text>
<text x="0" y="0" font-size="8.6" text-anchor="middle" fill="#222" transform="translate(410.60,326.30) rotate(-90)">Apoptosis (%)</text>
<rect x="484.70" y="257.10" width="57.40" height="52.60" fill="#fff" stroke="#444" stroke-width="0.9" />
<rect x="488.00" y="260.50" width="6.80" height="4.20" fill="url(#g_gr)" stroke="#222" stroke-width="0.6" />
<text x="498.90" y="265.50" font-size="8.6" text-anchor="start" fill="#1a1a1a"  textLength="26.30" lengthAdjust="spacingAndGlyphs">Control</text>
<rect x="488.00" y="273.93" width="6.80" height="4.20" fill="url(#g_ye)" stroke="#222" stroke-width="0.6" />
<text x="498.90" y="278.93" font-size="8.6" text-anchor="start" fill="#1a1a1a"  textLength="14.80" lengthAdjust="spacingAndGlyphs">BBR</text>
<rect x="488.00" y="287.36" width="6.80" height="4.20" fill="url(#g_bl)" stroke="#222" stroke-width="0.6" />
<text x="498.90" y="292.36" font-size="8.6" text-anchor="start" fill="#1a1a1a"  textLength="17.60" lengthAdjust="spacingAndGlyphs">Gem</text>
<rect x="488.00" y="300.79" width="6.80" height="4.20" fill="url(#g_pu)" stroke="#222" stroke-width="0.6" />
<text x="498.90" y="305.79" font-size="8.6" text-anchor="start" fill="#1a1a1a"  textLength="41.30" lengthAdjust="spacingAndGlyphs">BBR &amp; Gem</text>
</svg>
</body></html>
